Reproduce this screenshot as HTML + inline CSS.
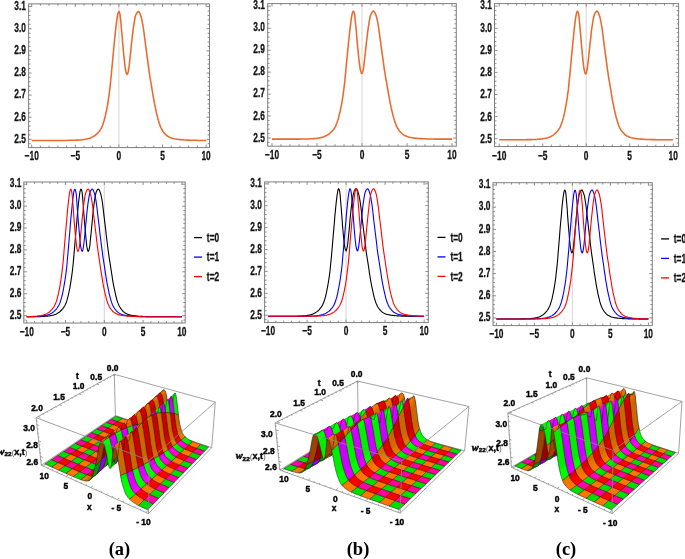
<!DOCTYPE html>
<html><head><meta charset="utf-8"><title>figure</title>
<style>
html,body{margin:0;padding:0;background:#fff;}
svg{display:block;will-change:transform;}
.tl{font-family:"Liberation Sans",sans-serif;font-weight:bold;font-size:12.6px;fill:#111;stroke:#111;stroke-width:.3px;}
.l3{font-family:"Liberation Sans",sans-serif;font-weight:bold;font-size:8.6px;fill:#000;stroke:#000;stroke-width:.42px;}
.cap{font-family:"Liberation Serif",serif;font-weight:bold;font-size:18.5px;fill:#000;}
.m{stroke:#111;stroke-opacity:.9;stroke-width:.55;fill:none;}
</style></head><body>
<svg width="685" height="559" viewBox="0 0 685 559">
<rect width="685" height="559" fill="#fff"/>
<rect x="28.6" y="3.9" width="180.9" height="143.7" fill="none" stroke="#7f7f7f" stroke-width="1"/>
<line x1="118.9" y1="3.9" x2="118.9" y2="147.6" stroke="#d0d0d0" stroke-width="0.9"/>
<path d="M31.7 147.6v-3.0M31.7 3.9v3.0M40.4 147.6v-1.9M40.4 3.9v1.9M49.1 147.6v-1.9M49.1 3.9v1.9M57.9 147.6v-1.9M57.9 3.9v1.9M66.6 147.6v-1.9M66.6 3.9v1.9M75.3 147.6v-3.0M75.3 3.9v3.0M84 147.6v-1.9M84 3.9v1.9M92.7 147.6v-1.9M92.7 3.9v1.9M101.5 147.6v-1.9M101.5 3.9v1.9M110.2 147.6v-1.9M110.2 3.9v1.9M118.9 147.6v-3.0M118.9 3.9v3.0M127.6 147.6v-1.9M127.6 3.9v1.9M136.3 147.6v-1.9M136.3 3.9v1.9M145.1 147.6v-1.9M145.1 3.9v1.9M153.8 147.6v-1.9M153.8 3.9v1.9M162.5 147.6v-3.0M162.5 3.9v3.0M171.2 147.6v-1.9M171.2 3.9v1.9M179.9 147.6v-1.9M179.9 3.9v1.9M188.7 147.6v-1.9M188.7 3.9v1.9M197.4 147.6v-1.9M197.4 3.9v1.9M206.1 147.6v-3.0M206.1 3.9v3.0M28.6 143.7h1.9M209.5 143.7h-1.9M28.6 139.3h3.0M209.5 139.3h-3.0M28.6 134.9h1.9M209.5 134.9h-1.9M28.6 130.5h1.9M209.5 130.5h-1.9M28.6 126h1.9M209.5 126h-1.9M28.6 121.6h1.9M209.5 121.6h-1.9M28.6 117.2h3.0M209.5 117.2h-3.0M28.6 112.8h1.9M209.5 112.8h-1.9M28.6 108.3h1.9M209.5 108.3h-1.9M28.6 103.9h1.9M209.5 103.9h-1.9M28.6 99.5h1.9M209.5 99.5h-1.9M28.6 95.1h3.0M209.5 95.1h-3.0M28.6 90.7h1.9M209.5 90.7h-1.9M28.6 86.2h1.9M209.5 86.2h-1.9M28.6 81.8h1.9M209.5 81.8h-1.9M28.6 77.4h1.9M209.5 77.4h-1.9M28.6 73h3.0M209.5 73h-3.0M28.6 68.5h1.9M209.5 68.5h-1.9M28.6 64.1h1.9M209.5 64.1h-1.9M28.6 59.7h1.9M209.5 59.7h-1.9M28.6 55.3h1.9M209.5 55.3h-1.9M28.6 50.9h3.0M209.5 50.9h-3.0M28.6 46.4h1.9M209.5 46.4h-1.9M28.6 42h1.9M209.5 42h-1.9M28.6 37.6h1.9M209.5 37.6h-1.9M28.6 33.2h1.9M209.5 33.2h-1.9M28.6 28.7h3.0M209.5 28.7h-3.0M28.6 24.3h1.9M209.5 24.3h-1.9M28.6 19.9h1.9M209.5 19.9h-1.9M28.6 15.5h1.9M209.5 15.5h-1.9M28.6 11.1h1.9M209.5 11.1h-1.9M28.6 6.6h3.0M209.5 6.6h-3.0" stroke="#7f7f7f" stroke-width="0.9" fill="none"/>
<path d="M31.7 140.4L32.2 140.4L32.8 140.4L33.3 140.4L33.9 140.4L34.4 140.4L35 140.4L35.5 140.4L36.1 140.4L36.6 140.4L37.2 140.4L37.7 140.4L38.2 140.4L38.8 140.4L39.3 140.4L39.9 140.4L40.4 140.4L41 140.4L41.5 140.4L42.1 140.4L42.6 140.4L43.1 140.4L43.7 140.4L44.2 140.4L44.8 140.4L45.3 140.4L45.9 140.4L46.4 140.4L47 140.4L47.5 140.4L48 140.4L48.6 140.4L49.1 140.4L49.7 140.4L50.2 140.4L50.8 140.4L51.3 140.4L51.9 140.4L52.4 140.4L53 140.4L53.5 140.4L54 140.4L54.6 140.4L55.1 140.4L55.7 140.4L56.2 140.4L56.8 140.4L57.3 140.4L57.9 140.4L58.4 140.4L59 140.4L59.5 140.4L60 140.4L60.6 140.4L61.1 140.4L61.7 140.4L62.2 140.4L62.8 140.4L63.3 140.4L63.9 140.4L64.4 140.4L64.9 140.4L65.5 140.4L66 140.4L66.6 140.4L67.1 140.4L67.7 140.4L68.2 140.3L68.8 140.3L69.3 140.3L69.8 140.3L70.4 140.3L70.9 140.3L71.5 140.3L72 140.3L72.6 140.3L73.1 140.3L73.7 140.2L74.2 140.2L74.8 140.2L75.3 140.2L75.8 140.2L76.4 140.1L76.9 140.1L77.5 140.1L78 140.1L78.6 140L79.1 140L79.7 140L80.2 139.9L80.8 139.9L81.3 139.8L81.8 139.8L82.4 139.7L82.9 139.7L83.5 139.6L84 139.5L84.6 139.4L85.1 139.3L85.7 139.2L86.2 139.1L86.7 139L87.3 138.9L87.8 138.7L88.4 138.6L88.9 138.5L89.5 138.3L90 138.1L90.6 137.9L91.1 137.6L91.7 137.4L92.2 137.1L92.7 136.8L93.3 136.5L93.8 136.2L94.4 135.9L94.9 135.5L95.5 135.1L96 134.6L96.6 134.1L97.1 133.6L97.6 133.1L98.2 132.5L98.7 131.9L99.3 131.2L99.8 130.5L100.4 129.7L100.9 128.8L101.5 127.8L102 126.6L102.6 125.2L103.1 123.7L103.6 122.1L104.2 120.3L104.7 118.2L105.3 115.9L105.8 113.5L106.4 111L106.9 108.3L107.5 105.4L108 102.2L108.5 98.7L109.1 94.8L109.6 90.5L110.2 85.7L110.7 80.5L111.3 74.9L111.8 69L112.4 63L112.9 57.1L113.5 51.4L114 45.7L114.5 40.2L115.1 34.9L115.6 29.8L116.2 24.9L116.7 20.6L117.3 16.8L117.8 13.9L118.4 12.3L118.9 11.5L119.4 12.4L120 14.3L120.5 18.4L121.1 24.5L121.6 30.5L122.2 37.1L122.7 43.6L123.3 49.6L123.8 55.4L124.4 60.6L124.9 65.3L125.4 69.5L126 72L126.5 73.7L127.1 74.4L127.6 73.7L128.2 71.7L128.7 69L129.3 64.8L129.8 59.8L130.3 54.9L130.9 49.7L131.4 44.3L132 39.3L132.5 34.6L133.1 30.1L133.6 26.1L134.2 22.7L134.7 19.5L135.2 16.8L135.8 15L136.3 13.9L136.9 12.9L137.4 12.1L138 11.7L138.5 11.5L139.1 12L139.6 12.9L140.2 14.1L140.7 15.5L141.2 17.1L141.8 19.4L142.3 22.1L142.9 25.1L143.4 28.5L144 32.5L144.5 36.8L145.1 41.1L145.6 45.2L146.2 49.3L146.7 53.4L147.2 57.4L147.8 61.5L148.3 65.6L148.9 69.7L149.4 73.6L150 77.2L150.5 80.4L151.1 83.4L151.6 86.6L152.1 89.9L152.7 93.3L153.2 96.5L153.8 99.6L154.3 102.6L154.9 105.5L155.4 108.2L156 110.7L156.5 113.2L157.1 115.5L157.6 117.6L158.1 119.6L158.7 121.5L159.2 123.3L159.8 125L160.3 126.4L160.9 127.7L161.4 128.8L162 129.7L162.5 130.6L163 131.5L163.6 132.2L164.1 132.9L164.7 133.5L165.2 134.1L165.8 134.6L166.3 135.1L166.9 135.6L167.4 136L168 136.4L168.5 136.7L169 137L169.6 137.2L170.1 137.5L170.7 137.7L171.2 137.9L171.8 138.1L172.3 138.3L172.9 138.5L173.4 138.6L173.9 138.7L174.5 138.8L175 138.9L175.6 139L176.1 139.1L176.7 139.2L177.2 139.3L177.8 139.3L178.3 139.4L178.9 139.5L179.4 139.5L179.9 139.6L180.5 139.6L181 139.7L181.6 139.7L182.1 139.8L182.7 139.8L183.2 139.8L183.8 139.9L184.3 139.9L184.8 140L185.4 140L185.9 140L186.5 140L187 140.1L187.6 140.1L188.1 140.1L188.7 140.2L189.2 140.2L189.8 140.2L190.3 140.2L190.8 140.2L191.4 140.2L191.9 140.3L192.5 140.3L193 140.3L193.6 140.3L194.1 140.3L194.7 140.3L195.2 140.3L195.7 140.3L196.3 140.3L196.8 140.3L197.4 140.4L197.9 140.4L198.5 140.4L199 140.4L199.6 140.4L200.1 140.4L200.7 140.4L201.2 140.4L201.7 140.4L202.3 140.4L202.8 140.4L203.4 140.4L203.9 140.4L204.5 140.4L205 140.4L205.6 140.4L206.1 140.4" stroke="#e96a2a" stroke-width="1.55" fill="none" stroke-linejoin="round"/>
<text x="38.9" y="9.6" text-anchor="end" class="tl" transform="scale(0.665 1)">3.1</text>
<text x="38.9" y="31.6" text-anchor="end" class="tl" transform="scale(0.665 1)">3.0</text>
<text x="38.9" y="53.9" text-anchor="end" class="tl" transform="scale(0.665 1)">2.9</text>
<text x="38.9" y="76.4" text-anchor="end" class="tl" transform="scale(0.665 1)">2.8</text>
<text x="38.9" y="98.5" text-anchor="end" class="tl" transform="scale(0.665 1)">2.7</text>
<text x="38.9" y="121.2" text-anchor="end" class="tl" transform="scale(0.665 1)">2.6</text>
<text x="38.9" y="143.4" text-anchor="end" class="tl" transform="scale(0.665 1)">2.5</text>
<text x="47.7" y="160.1" text-anchor="middle" class="tl" transform="scale(0.665 1)">−10</text>
<text x="113.2" y="160.1" text-anchor="middle" class="tl" transform="scale(0.665 1)">−5</text>
<text x="178.8" y="160.1" text-anchor="middle" class="tl" transform="scale(0.665 1)">0</text>
<text x="244.4" y="160.1" text-anchor="middle" class="tl" transform="scale(0.665 1)">5</text>
<text x="309.9" y="160.1" text-anchor="middle" class="tl" transform="scale(0.665 1)">10</text>
<rect x="267.7" y="3.6" width="188.6" height="142.6" fill="none" stroke="#7f7f7f" stroke-width="1"/>
<line x1="362" y1="3.6" x2="362" y2="146.2" stroke="#d0d0d0" stroke-width="0.9"/>
<path d="M272 146.2v-3.0M272 3.6v3.0M281 146.2v-1.9M281 3.6v1.9M290 146.2v-1.9M290 3.6v1.9M299 146.2v-1.9M299 3.6v1.9M308 146.2v-1.9M308 3.6v1.9M317 146.2v-3.0M317 3.6v3.0M326 146.2v-1.9M326 3.6v1.9M335 146.2v-1.9M335 3.6v1.9M344 146.2v-1.9M344 3.6v1.9M353 146.2v-1.9M353 3.6v1.9M362 146.2v-3.0M362 3.6v3.0M371 146.2v-1.9M371 3.6v1.9M380 146.2v-1.9M380 3.6v1.9M389 146.2v-1.9M389 3.6v1.9M398 146.2v-1.9M398 3.6v1.9M407 146.2v-3.0M407 3.6v3.0M416 146.2v-1.9M416 3.6v1.9M425 146.2v-1.9M425 3.6v1.9M434 146.2v-1.9M434 3.6v1.9M443 146.2v-1.9M443 3.6v1.9M452 146.2v-3.0M452 3.6v3.0M267.7 142.4h1.9M456.3 142.4h-1.9M267.7 138h3.0M456.3 138h-3.0M267.7 133.6h1.9M456.3 133.6h-1.9M267.7 129.2h1.9M456.3 129.2h-1.9M267.7 124.8h1.9M456.3 124.8h-1.9M267.7 120.4h1.9M456.3 120.4h-1.9M267.7 116h3.0M456.3 116h-3.0M267.7 111.6h1.9M456.3 111.6h-1.9M267.7 107.3h1.9M456.3 107.3h-1.9M267.7 102.9h1.9M456.3 102.9h-1.9M267.7 98.5h1.9M456.3 98.5h-1.9M267.7 94.1h3.0M456.3 94.1h-3.0M267.7 89.7h1.9M456.3 89.7h-1.9M267.7 85.3h1.9M456.3 85.3h-1.9M267.7 80.9h1.9M456.3 80.9h-1.9M267.7 76.5h1.9M456.3 76.5h-1.9M267.7 72.1h3.0M456.3 72.1h-3.0M267.7 67.7h1.9M456.3 67.7h-1.9M267.7 63.3h1.9M456.3 63.3h-1.9M267.7 58.9h1.9M456.3 58.9h-1.9M267.7 54.6h1.9M456.3 54.6h-1.9M267.7 50.2h3.0M456.3 50.2h-3.0M267.7 45.8h1.9M456.3 45.8h-1.9M267.7 41.4h1.9M456.3 41.4h-1.9M267.7 37h1.9M456.3 37h-1.9M267.7 32.6h1.9M456.3 32.6h-1.9M267.7 28.2h3.0M456.3 28.2h-3.0M267.7 23.8h1.9M456.3 23.8h-1.9M267.7 19.4h1.9M456.3 19.4h-1.9M267.7 15h1.9M456.3 15h-1.9M267.7 10.6h1.9M456.3 10.6h-1.9M267.7 6.2h3.0M456.3 6.2h-3.0" stroke="#7f7f7f" stroke-width="0.9" fill="none"/>
<path d="M272 139.1L272.6 139.1L273.1 139.1L273.7 139.1L274.2 139.1L274.8 139.1L275.4 139.1L275.9 139.1L276.5 139.1L277.1 139.1L277.6 139.1L278.2 139.1L278.8 139.1L279.3 139.1L279.9 139.1L280.4 139.1L281 139.1L281.6 139.1L282.1 139.1L282.7 139.1L283.2 139.1L283.8 139.1L284.4 139.1L284.9 139.1L285.5 139.1L286.1 139.1L286.6 139.1L287.2 139.1L287.8 139.1L288.3 139.1L288.9 139.1L289.4 139.1L290 139.1L290.6 139.1L291.1 139.1L291.7 139.1L292.2 139.1L292.8 139.1L293.4 139.1L293.9 139.1L294.5 139.1L295.1 139.1L295.6 139.1L296.2 139.1L296.8 139.1L297.3 139.1L297.9 139.1L298.4 139.1L299 139.1L299.6 139.1L300.1 139.1L300.7 139.1L301.2 139L301.8 139L302.4 139L302.9 139L303.5 139L304.1 139L304.6 139L305.2 139L305.8 139L306.3 139L306.9 138.9L307.4 138.9L308 138.9L308.6 138.9L309.1 138.9L309.7 138.8L310.2 138.8L310.8 138.8L311.4 138.8L311.9 138.7L312.5 138.7L313.1 138.7L313.6 138.6L314.2 138.6L314.8 138.5L315.3 138.5L315.9 138.4L316.4 138.4L317 138.3L317.6 138.2L318.1 138.1L318.7 138L319.2 137.9L319.8 137.8L320.4 137.7L320.9 137.5L321.5 137.4L322.1 137.3L322.6 137.1L323.2 136.9L323.8 136.7L324.3 136.5L324.9 136.3L325.4 136L326 135.7L326.6 135.4L327.1 135.1L327.7 134.8L328.2 134.5L328.8 134.1L329.4 133.7L329.9 133.2L330.5 132.7L331.1 132.2L331.6 131.6L332.2 131.1L332.8 130.4L333.3 129.7L333.9 129L334.4 128.1L335 127.2L335.6 126.1L336.1 124.9L336.7 123.5L337.2 122L337.8 120.3L338.4 118.4L338.9 116.3L339.5 113.9L340.1 111.5L340.6 108.9L341.2 106.2L341.8 103.3L342.3 100L342.9 96.3L343.4 92.3L344 87.9L344.6 83L345.1 77.7L345.7 72L346.2 66L346.8 60.1L347.4 54.3L347.9 48.6L348.5 43L349.1 37.6L349.6 32.5L350.2 27.4L350.8 22.7L351.3 18.7L351.9 15.2L352.4 12.9L353 11.5L353.6 11.2L354.1 12.5L354.7 14.9L355.2 20L355.8 26L356.4 32.3L356.9 38.9L357.5 45.1L358.1 51L358.6 56.6L359.2 61.6L359.8 66.1L360.3 69.8L360.9 71.9L361.4 73.3L362 73.5L362.6 72.2L363.1 70L363.7 66.9L364.2 62.3L364.8 57.3L365.4 52.4L365.9 47L366.5 41.8L367.1 37L367.6 32.4L368.2 28.1L368.8 24.3L369.3 21L369.9 18L370.4 15.6L371 14.2L371.6 13.1L372.1 12.2L372.7 11.5L373.2 11.1L373.8 11.2L374.4 11.8L374.9 12.8L375.5 14.1L376.1 15.5L376.6 17.4L377.2 19.8L377.8 22.6L378.3 25.7L378.9 29.3L379.4 33.5L380 37.8L380.6 41.9L381.1 46L381.7 50.1L382.2 54.1L382.8 58.1L383.4 62.2L383.9 66.3L384.5 70.3L385.1 74L385.6 77.5L386.2 80.6L386.8 83.6L387.3 86.9L387.9 90.2L388.4 93.5L389 96.6L389.6 99.7L390.1 102.6L390.7 105.4L391.2 108L391.8 110.5L392.4 112.9L392.9 115.1L393.5 117.2L394.1 119.1L394.6 121L395.2 122.7L395.8 124.3L396.3 125.7L396.9 126.9L397.4 127.9L398 128.8L398.6 129.7L399.1 130.5L399.7 131.2L400.2 131.8L400.8 132.4L401.4 133L401.9 133.5L402.5 134L403.1 134.5L403.6 134.9L404.2 135.2L404.8 135.5L405.3 135.8L405.9 136L406.4 136.3L407 136.5L407.6 136.7L408.1 136.9L408.7 137.1L409.2 137.2L409.8 137.3L410.4 137.5L410.9 137.6L411.5 137.7L412.1 137.8L412.6 137.8L413.2 137.9L413.8 138L414.3 138.1L414.9 138.1L415.4 138.2L416 138.2L416.6 138.3L417.1 138.3L417.7 138.4L418.2 138.4L418.8 138.5L419.4 138.5L419.9 138.6L420.5 138.6L421.1 138.6L421.6 138.7L422.2 138.7L422.8 138.7L423.3 138.8L423.9 138.8L424.4 138.8L425 138.8L425.6 138.9L426.1 138.9L426.7 138.9L427.2 138.9L427.8 138.9L428.4 138.9L428.9 139L429.5 139L430.1 139L430.6 139L431.2 139L431.8 139L432.3 139L432.9 139L433.4 139L434 139.1L434.6 139.1L435.1 139.1L435.7 139.1L436.2 139.1L436.8 139.1L437.4 139.1L437.9 139.1L438.5 139.1L439.1 139.1L439.6 139.1L440.2 139.1L440.8 139.1L441.3 139.1L441.9 139.1L442.4 139.1L443 139.1L443.6 139.1L444.1 139.1L444.7 139.1L445.2 139.1L445.8 139.1L446.4 139.1L446.9 139.1L447.5 139.1L448.1 139.1L448.6 139.1L449.2 139.1L449.8 139.1L450.3 139.1L450.9 139.1L451.4 139.1L452 139.1" stroke="#e96a2a" stroke-width="1.55" fill="none" stroke-linejoin="round"/>
<text x="398.3" y="8.9" text-anchor="end" class="tl" transform="scale(0.665 1)">3.1</text>
<text x="398.3" y="31.3" text-anchor="end" class="tl" transform="scale(0.665 1)">3.0</text>
<text x="398.3" y="53.1" text-anchor="end" class="tl" transform="scale(0.665 1)">2.9</text>
<text x="398.3" y="75.5" text-anchor="end" class="tl" transform="scale(0.665 1)">2.8</text>
<text x="398.3" y="97.3" text-anchor="end" class="tl" transform="scale(0.665 1)">2.7</text>
<text x="398.3" y="119.9" text-anchor="end" class="tl" transform="scale(0.665 1)">2.6</text>
<text x="398.3" y="142.2" text-anchor="end" class="tl" transform="scale(0.665 1)">2.5</text>
<text x="409.0" y="158.9" text-anchor="middle" class="tl" transform="scale(0.665 1)">−10</text>
<text x="476.7" y="158.9" text-anchor="middle" class="tl" transform="scale(0.665 1)">−5</text>
<text x="544.4" y="158.9" text-anchor="middle" class="tl" transform="scale(0.665 1)">0</text>
<text x="612.0" y="158.9" text-anchor="middle" class="tl" transform="scale(0.665 1)">5</text>
<text x="679.7" y="158.9" text-anchor="middle" class="tl" transform="scale(0.665 1)">10</text>
<rect x="494.5" y="3.6" width="184.1" height="142.9" fill="none" stroke="#7f7f7f" stroke-width="1"/>
<line x1="586.2" y1="3.6" x2="586.2" y2="146.5" stroke="#d0d0d0" stroke-width="0.9"/>
<path d="M499.2 146.5v-3.0M499.2 3.6v3.0M507.9 146.5v-1.9M507.9 3.6v1.9M516.6 146.5v-1.9M516.6 3.6v1.9M525.3 146.5v-1.9M525.3 3.6v1.9M534 146.5v-1.9M534 3.6v1.9M542.7 146.5v-3.0M542.7 3.6v3.0M551.4 146.5v-1.9M551.4 3.6v1.9M560.1 146.5v-1.9M560.1 3.6v1.9M568.8 146.5v-1.9M568.8 3.6v1.9M577.5 146.5v-1.9M577.5 3.6v1.9M586.2 146.5v-3.0M586.2 3.6v3.0M594.9 146.5v-1.9M594.9 3.6v1.9M603.6 146.5v-1.9M603.6 3.6v1.9M612.3 146.5v-1.9M612.3 3.6v1.9M621 146.5v-1.9M621 3.6v1.9M629.7 146.5v-3.0M629.7 3.6v3.0M638.4 146.5v-1.9M638.4 3.6v1.9M647.1 146.5v-1.9M647.1 3.6v1.9M655.8 146.5v-1.9M655.8 3.6v1.9M664.5 146.5v-1.9M664.5 3.6v1.9M673.2 146.5v-3.0M673.2 3.6v3.0M494.5 143h1.9M678.6 143h-1.9M494.5 138.6h3.0M678.6 138.6h-3.0M494.5 134.2h1.9M678.6 134.2h-1.9M494.5 129.8h1.9M678.6 129.8h-1.9M494.5 125.4h1.9M678.6 125.4h-1.9M494.5 120.9h1.9M678.6 120.9h-1.9M494.5 116.5h3.0M678.6 116.5h-3.0M494.5 112.1h1.9M678.6 112.1h-1.9M494.5 107.7h1.9M678.6 107.7h-1.9M494.5 103.3h1.9M678.6 103.3h-1.9M494.5 98.9h1.9M678.6 98.9h-1.9M494.5 94.5h3.0M678.6 94.5h-3.0M494.5 90.1h1.9M678.6 90.1h-1.9M494.5 85.7h1.9M678.6 85.7h-1.9M494.5 81.2h1.9M678.6 81.2h-1.9M494.5 76.8h1.9M678.6 76.8h-1.9M494.5 72.4h3.0M678.6 72.4h-3.0M494.5 68h1.9M678.6 68h-1.9M494.5 63.6h1.9M678.6 63.6h-1.9M494.5 59.2h1.9M678.6 59.2h-1.9M494.5 54.8h1.9M678.6 54.8h-1.9M494.5 50.4h3.0M678.6 50.4h-3.0M494.5 45.9h1.9M678.6 45.9h-1.9M494.5 41.5h1.9M678.6 41.5h-1.9M494.5 37.1h1.9M678.6 37.1h-1.9M494.5 32.7h1.9M678.6 32.7h-1.9M494.5 28.3h3.0M678.6 28.3h-3.0M494.5 23.9h1.9M678.6 23.9h-1.9M494.5 19.5h1.9M678.6 19.5h-1.9M494.5 15.1h1.9M678.6 15.1h-1.9M494.5 10.6h1.9M678.6 10.6h-1.9M494.5 6.2h3.0M678.6 6.2h-3.0" stroke="#7f7f7f" stroke-width="0.9" fill="none"/>
<path d="M499.2 139.7L499.7 139.7L500.3 139.7L500.8 139.7L501.4 139.7L501.9 139.7L502.5 139.7L503 139.7L503.6 139.7L504.1 139.7L504.6 139.7L505.2 139.7L505.7 139.7L506.3 139.7L506.8 139.7L507.4 139.7L507.9 139.7L508.4 139.7L509 139.7L509.5 139.7L510.1 139.7L510.6 139.7L511.2 139.7L511.7 139.7L512.2 139.7L512.8 139.7L513.3 139.7L513.9 139.7L514.4 139.7L515 139.7L515.5 139.7L516.1 139.7L516.6 139.7L517.1 139.7L517.7 139.7L518.2 139.7L518.8 139.7L519.3 139.7L519.9 139.7L520.4 139.7L521 139.7L521.5 139.7L522 139.7L522.6 139.7L523.1 139.7L523.7 139.7L524.2 139.7L524.8 139.7L525.3 139.7L525.8 139.7L526.4 139.7L526.9 139.6L527.5 139.6L528 139.6L528.6 139.6L529.1 139.6L529.7 139.6L530.2 139.6L530.7 139.6L531.3 139.6L531.8 139.6L532.4 139.5L532.9 139.5L533.5 139.5L534 139.5L534.5 139.5L535.1 139.4L535.6 139.4L536.2 139.4L536.7 139.4L537.3 139.3L537.8 139.3L538.4 139.3L538.9 139.2L539.4 139.2L540 139.1L540.5 139.1L541.1 139L541.6 139L542.2 138.9L542.7 138.8L543.2 138.7L543.8 138.6L544.3 138.5L544.9 138.4L545.4 138.3L546 138.2L546.5 138.1L547.1 137.9L547.6 137.8L548.1 137.6L548.7 137.4L549.2 137.2L549.8 136.9L550.3 136.7L550.9 136.4L551.4 136.1L551.9 135.8L552.5 135.5L553 135.2L553.6 134.8L554.1 134.4L554.7 133.9L555.2 133.5L555.8 132.9L556.3 132.4L556.8 131.8L557.4 131.2L557.9 130.5L558.5 129.8L559 129L559.6 128.1L560.1 127.1L560.6 125.9L561.2 124.6L561.7 123.1L562.3 121.4L562.8 119.6L563.4 117.6L563.9 115.3L564.5 112.9L565 110.3L565.5 107.7L566.1 104.8L566.6 101.6L567.2 98.1L567.7 94.2L568.3 89.9L568.8 85.2L569.3 79.9L569.9 74.4L570.4 68.5L571 62.5L571.5 56.6L572.1 50.9L572.6 45.2L573.2 39.7L573.7 34.5L574.2 29.3L574.8 24.4L575.3 20.1L575.9 16.4L576.4 13.5L577 11.9L577.5 11.1L578 12L578.6 13.9L579.1 18L579.7 24L580.2 30.1L580.8 36.6L581.3 43.1L581.9 49.1L582.4 54.9L582.9 60.1L583.5 64.8L584 69L584.6 71.5L585.1 73.2L585.7 73.9L586.2 73.1L586.7 71.1L587.3 68.5L587.8 64.3L588.4 59.3L588.9 54.4L589.5 49.2L590 43.8L590.6 38.8L591.1 34.2L591.6 29.7L592.2 25.7L592.7 22.3L593.3 19.1L593.8 16.4L594.4 14.6L594.9 13.5L595.4 12.5L596 11.7L596.5 11.2L597.1 11.1L597.6 11.6L598.2 12.5L598.7 13.7L599.2 15L599.8 16.7L600.3 18.9L600.9 21.7L601.4 24.6L602 28L602.5 32L603.1 36.4L603.6 40.6L604.1 44.7L604.7 48.8L605.2 52.9L605.8 56.9L606.3 61L606.9 65.1L607.4 69.2L608 73L608.5 76.6L609 79.8L609.6 82.9L610.1 86L610.7 89.4L611.2 92.7L611.8 95.9L612.3 99L612.8 102L613.4 104.9L613.9 107.6L614.5 110.1L615 112.5L615.6 114.8L616.1 117L616.7 119L617.2 120.8L617.7 122.6L618.3 124.3L618.8 125.8L619.4 127L619.9 128.1L620.5 129.1L621 130L621.5 130.8L622.1 131.5L622.6 132.2L623.2 132.8L623.7 133.4L624.3 133.9L624.8 134.4L625.4 134.9L625.9 135.3L626.4 135.7L627 136L627.5 136.3L628.1 136.5L628.6 136.8L629.2 137L629.7 137.2L630.2 137.4L630.8 137.6L631.3 137.8L631.9 137.9L632.4 138L633 138.1L633.5 138.2L634.1 138.3L634.6 138.4L635.1 138.5L635.7 138.6L636.2 138.6L636.8 138.7L637.3 138.8L637.9 138.8L638.4 138.9L638.9 138.9L639.5 139L640 139L640.6 139.1L641.1 139.1L641.7 139.1L642.2 139.2L642.8 139.2L643.3 139.3L643.8 139.3L644.4 139.3L644.9 139.4L645.5 139.4L646 139.4L646.6 139.4L647.1 139.5L647.6 139.5L648.2 139.5L648.7 139.5L649.3 139.5L649.8 139.5L650.4 139.6L650.9 139.6L651.5 139.6L652 139.6L652.5 139.6L653.1 139.6L653.6 139.6L654.2 139.6L654.7 139.6L655.3 139.6L655.8 139.7L656.3 139.7L656.9 139.7L657.4 139.7L658 139.7L658.5 139.7L659.1 139.7L659.6 139.7L660.2 139.7L660.7 139.7L661.2 139.7L661.8 139.7L662.3 139.7L662.9 139.7L663.4 139.7L664 139.7L664.5 139.7L665 139.7L665.6 139.7L666.1 139.7L666.7 139.7L667.2 139.7L667.8 139.7L668.3 139.7L668.9 139.7L669.4 139.7L669.9 139.7L670.5 139.7L671 139.7L671.6 139.7L672.1 139.7L672.7 139.7L673.2 139.7" stroke="#e96a2a" stroke-width="1.55" fill="none" stroke-linejoin="round"/>
<text x="739.7" y="9.3" text-anchor="end" class="tl" transform="scale(0.665 1)">3.1</text>
<text x="739.7" y="31.6" text-anchor="end" class="tl" transform="scale(0.665 1)">3.0</text>
<text x="739.7" y="53.9" text-anchor="end" class="tl" transform="scale(0.665 1)">2.9</text>
<text x="739.7" y="76.4" text-anchor="end" class="tl" transform="scale(0.665 1)">2.8</text>
<text x="739.7" y="98.2" text-anchor="end" class="tl" transform="scale(0.665 1)">2.7</text>
<text x="739.7" y="120.9" text-anchor="end" class="tl" transform="scale(0.665 1)">2.6</text>
<text x="739.7" y="143.2" text-anchor="end" class="tl" transform="scale(0.665 1)">2.5</text>
<text x="750.7" y="159.6" text-anchor="middle" class="tl" transform="scale(0.665 1)">−10</text>
<text x="816.1" y="159.6" text-anchor="middle" class="tl" transform="scale(0.665 1)">−5</text>
<text x="881.5" y="159.6" text-anchor="middle" class="tl" transform="scale(0.665 1)">0</text>
<text x="946.9" y="159.6" text-anchor="middle" class="tl" transform="scale(0.665 1)">5</text>
<text x="1012.3" y="159.6" text-anchor="middle" class="tl" transform="scale(0.665 1)">10</text>
<rect x="23.8" y="182" width="161.4" height="141.0" fill="none" stroke="#7f7f7f" stroke-width="1"/>
<line x1="104.3" y1="182" x2="104.3" y2="323" stroke="#d0d0d0" stroke-width="0.9"/>
<path d="M26.7 323v-3.0M26.7 182v3.0M34.5 323v-1.9M34.5 182v1.9M42.2 323v-1.9M42.2 182v1.9M50 323v-1.9M50 182v1.9M57.7 323v-1.9M57.7 182v1.9M65.5 323v-3.0M65.5 182v3.0M73.3 323v-1.9M73.3 182v1.9M81 323v-1.9M81 182v1.9M88.8 323v-1.9M88.8 182v1.9M96.5 323v-1.9M96.5 182v1.9M104.3 323v-3.0M104.3 182v3.0M112.1 323v-1.9M112.1 182v1.9M119.8 323v-1.9M119.8 182v1.9M127.6 323v-1.9M127.6 182v1.9M135.3 323v-1.9M135.3 182v1.9M143.1 323v-3.0M143.1 182v3.0M150.9 323v-1.9M150.9 182v1.9M158.6 323v-1.9M158.6 182v1.9M166.4 323v-1.9M166.4 182v1.9M174.1 323v-1.9M174.1 182v1.9M181.9 323v-3.0M181.9 182v3.0M23.8 320h1.9M185.2 320h-1.9M23.8 315.6h3.0M185.2 315.6h-3.0M23.8 311.2h1.9M185.2 311.2h-1.9M23.8 306.8h1.9M185.2 306.8h-1.9M23.8 302.5h1.9M185.2 302.5h-1.9M23.8 298.1h1.9M185.2 298.1h-1.9M23.8 293.7h3.0M185.2 293.7h-3.0M23.8 289.3h1.9M185.2 289.3h-1.9M23.8 284.9h1.9M185.2 284.9h-1.9M23.8 280.6h1.9M185.2 280.6h-1.9M23.8 276.2h1.9M185.2 276.2h-1.9M23.8 271.8h3.0M185.2 271.8h-3.0M23.8 267.4h1.9M185.2 267.4h-1.9M23.8 263h1.9M185.2 263h-1.9M23.8 258.7h1.9M185.2 258.7h-1.9M23.8 254.3h1.9M185.2 254.3h-1.9M23.8 249.9h3.0M185.2 249.9h-3.0M23.8 245.5h1.9M185.2 245.5h-1.9M23.8 241.1h1.9M185.2 241.1h-1.9M23.8 236.8h1.9M185.2 236.8h-1.9M23.8 232.4h1.9M185.2 232.4h-1.9M23.8 228h3.0M185.2 228h-3.0M23.8 223.6h1.9M185.2 223.6h-1.9M23.8 219.2h1.9M185.2 219.2h-1.9M23.8 214.9h1.9M185.2 214.9h-1.9M23.8 210.5h1.9M185.2 210.5h-1.9M23.8 206.1h3.0M185.2 206.1h-3.0M23.8 201.7h1.9M185.2 201.7h-1.9M23.8 197.3h1.9M185.2 197.3h-1.9M23.8 193h1.9M185.2 193h-1.9M23.8 188.6h1.9M185.2 188.6h-1.9M23.8 184.2h3.0M185.2 184.2h-3.0" stroke="#7f7f7f" stroke-width="0.9" fill="none"/>
<path d="M26.7 316.7L27.2 316.7L27.7 316.7L28.2 316.7L28.6 316.7L29.1 316.7L29.6 316.7L30.1 316.7L30.6 316.7L31.1 316.7L31.5 316.7L32 316.7L32.5 316.7L33 316.7L33.5 316.7L34 316.7L34.5 316.7L34.9 316.7L35.4 316.7L35.9 316.6L36.4 316.6L36.9 316.6L37.4 316.6L37.9 316.6L38.3 316.6L38.8 316.6L39.3 316.6L39.8 316.6L40.3 316.6L40.8 316.5L41.2 316.5L41.7 316.5L42.2 316.5L42.7 316.5L43.2 316.5L43.7 316.4L44.2 316.4L44.6 316.4L45.1 316.3L45.6 316.3L46.1 316.3L46.6 316.2L47.1 316.2L47.6 316.1L48 316.1L48.5 316L49 316L49.5 315.9L50 315.8L50.5 315.7L50.9 315.6L51.4 315.5L51.9 315.4L52.4 315.3L52.9 315.2L53.4 315.1L53.9 314.9L54.3 314.8L54.8 314.6L55.3 314.4L55.8 314.2L56.3 314L56.8 313.7L57.3 313.4L57.7 313.1L58.2 312.8L58.7 312.5L59.2 312.2L59.7 311.8L60.2 311.4L60.6 311L61.1 310.5L61.6 310L62.1 309.5L62.6 308.9L63.1 308.3L63.6 307.6L64 306.9L64.5 306.1L65 305.2L65.5 304.2L66 303L66.5 301.7L67 300.2L67.4 298.6L67.9 296.8L68.4 294.7L68.9 292.5L69.4 290L69.9 287.6L70.3 284.9L70.8 282.1L71.3 278.9L71.8 275.4L72.3 271.5L72.8 267.3L73.3 262.5L73.7 257.4L74.2 251.9L74.7 246L75.2 240L75.7 234.2L76.2 228.5L76.7 222.9L77.1 217.4L77.6 212.2L78.1 207.1L78.6 202.3L79.1 198L79.6 194.3L80 191.4L80.5 189.8L81 189.1L81.5 189.9L82 191.8L82.5 195.9L83 201.9L83.4 207.9L83.9 214.4L84.4 220.8L84.9 226.8L85.4 232.5L85.9 237.7L86.4 242.3L86.8 246.5L87.3 249L87.8 250.6L88.3 251.4L88.8 250.6L89.3 248.6L89.8 246L90.2 241.8L90.7 236.9L91.2 232L91.7 226.8L92.2 221.5L92.7 216.6L93.1 211.9L93.6 207.5L94.1 203.5L94.6 200.1L95.1 197L95.6 194.3L96.1 192.5L96.5 191.4L97 190.4L97.5 189.6L98 189.2L98.5 189.1L99 189.5L99.5 190.4L99.9 191.6L100.4 192.9L100.9 194.6L101.4 196.8L101.9 199.5L102.4 202.5L102.8 205.8L103.3 209.8L103.8 214.1L104.3 218.3L104.8 222.4L105.3 226.5L105.8 230.5L106.2 234.5L106.7 238.6L107.2 242.7L107.7 246.7L108.2 250.5L108.7 254.1L109.1 257.3L109.6 260.3L110.1 263.4L110.6 266.7L111.1 270L111.6 273.2L112.1 276.3L112.5 279.3L113 282.1L113.5 284.8L114 287.3L114.5 289.7L115 292L115.5 294.2L115.9 296.1L116.4 298L116.9 299.8L117.4 301.4L117.9 302.9L118.4 304.1L118.8 305.2L119.3 306.1L119.8 307L120.3 307.8L120.8 308.6L121.3 309.2L121.8 309.8L122.2 310.4L122.7 311L123.2 311.5L123.7 311.9L124.2 312.4L124.7 312.7L125.2 313L125.6 313.3L126.1 313.6L126.6 313.8L127.1 314L127.6 314.3L128.1 314.4L128.6 314.6L129 314.8L129.5 314.9L130 315L130.5 315.1L131 315.2L131.5 315.3L131.9 315.4L132.4 315.5L132.9 315.6L133.4 315.6L133.9 315.7L134.4 315.8L134.9 315.8L135.3 315.9L135.8 315.9L136.3 316L136.8 316L137.3 316.1L137.8 316.1L138.2 316.1L138.7 316.2L139.2 316.2L139.7 316.3L140.2 316.3L140.7 316.3L141.2 316.4L141.6 316.4L142.1 316.4L142.6 316.4L143.1 316.5L143.6 316.5L144.1 316.5L144.6 316.5L145 316.5L145.5 316.5L146 316.6L146.5 316.6L147 316.6L147.5 316.6L147.9 316.6L148.4 316.6L148.9 316.6L149.4 316.6L149.9 316.6L150.4 316.6L150.9 316.7L151.3 316.7L151.8 316.7L152.3 316.7L152.8 316.7L153.3 316.7L153.8 316.7L154.3 316.7L154.7 316.7L155.2 316.7L155.7 316.7L156.2 316.7L156.7 316.7L157.2 316.7L157.7 316.7L158.1 316.7L158.6 316.7L159.1 316.7L159.6 316.7L160.1 316.7L160.6 316.7L161 316.7L161.5 316.7L162 316.7L162.5 316.7L163 316.7L163.5 316.7L164 316.7L164.4 316.7L164.9 316.7L165.4 316.7L165.9 316.7L166.4 316.7L166.9 316.7L167.3 316.7L167.8 316.7L168.3 316.7L168.8 316.7L169.3 316.7L169.8 316.7L170.3 316.7L170.7 316.7L171.2 316.7L171.7 316.7L172.2 316.7L172.7 316.7L173.2 316.7L173.7 316.7L174.1 316.7L174.6 316.7L175.1 316.7L175.6 316.7L176.1 316.7L176.6 316.7L177.1 316.7L177.5 316.7L178 316.7L178.5 316.7L179 316.7L179.5 316.7L180 316.7L180.4 316.7L180.9 316.7L181.4 316.7L181.9 316.7" stroke="#000" stroke-width="1.1" fill="none" stroke-linejoin="round"/>
<path d="M26.7 316.7L27.2 316.7L27.7 316.7L28.2 316.7L28.6 316.7L29.1 316.7L29.6 316.7L30.1 316.6L30.6 316.6L31.1 316.6L31.5 316.6L32 316.6L32.5 316.6L33 316.6L33.5 316.6L34 316.6L34.5 316.5L34.9 316.5L35.4 316.5L35.9 316.5L36.4 316.5L36.9 316.5L37.4 316.4L37.9 316.4L38.3 316.4L38.8 316.4L39.3 316.3L39.8 316.3L40.3 316.2L40.8 316.2L41.2 316.2L41.7 316.1L42.2 316.1L42.7 316L43.2 315.9L43.7 315.9L44.2 315.8L44.6 315.7L45.1 315.6L45.6 315.5L46.1 315.4L46.6 315.2L47.1 315.1L47.6 315L48 314.8L48.5 314.7L49 314.5L49.5 314.3L50 314L50.5 313.8L50.9 313.5L51.4 313.3L51.9 313L52.4 312.7L52.9 312.3L53.4 312L53.9 311.6L54.3 311.1L54.8 310.7L55.3 310.2L55.8 309.7L56.3 309.1L56.8 308.5L57.3 307.8L57.7 307.1L58.2 306.4L58.7 305.5L59.2 304.5L59.7 303.4L60.2 302.2L60.6 300.7L61.1 299.1L61.6 297.4L62.1 295.5L62.6 293.3L63.1 290.9L63.6 288.5L64 285.9L64.5 283.1L65 280.1L65.5 276.7L66 272.9L66.5 268.8L67 264.3L67.4 259.3L67.9 253.9L68.4 248.1L68.9 242.2L69.4 236.2L69.9 230.5L70.3 224.9L70.8 219.4L71.3 214.1L71.8 209L72.3 204L72.8 199.4L73.3 195.6L73.7 192.3L74.2 190.3L74.7 189.2L75.2 189.4L75.7 191L76.2 194L76.7 199.7L77.1 205.6L77.6 212L78.1 218.6L78.6 224.6L79.1 230.4L79.6 235.9L80 240.7L80.5 245.1L81 248.3L81.5 250.1L82 251.3L82.5 251L83 249.4L83.4 247.1L83.9 243.5L84.4 238.7L84.9 233.8L85.4 228.7L85.9 223.4L86.4 218.3L86.8 213.6L87.3 209L87.8 204.9L88.3 201.3L88.8 198.1L89.3 195.2L89.8 193L90.2 191.8L90.7 190.7L91.2 189.9L91.7 189.3L92.2 189.1L92.7 189.3L93.1 190L93.6 191.1L94.1 192.4L94.6 193.9L95.1 195.9L95.6 198.5L96.1 201.4L96.5 204.5L97 208.3L97.5 212.6L98 216.9L98.5 220.9L99 225L99.5 229.1L99.9 233.1L100.4 237.1L100.9 241.2L101.4 245.2L101.9 249.1L102.4 252.8L102.8 256.1L103.3 259.2L103.8 262.3L104.3 265.5L104.8 268.8L105.3 272.1L105.8 275.2L106.2 278.2L106.7 281.1L107.2 283.9L107.7 286.4L108.2 288.9L108.7 291.2L109.1 293.4L109.6 295.4L110.1 297.3L110.6 299.1L111.1 300.8L111.6 302.4L112.1 303.7L112.5 304.8L113 305.8L113.5 306.7L114 307.6L114.5 308.3L115 309L115.5 309.6L115.9 310.2L116.4 310.8L116.9 311.3L117.4 311.8L117.9 312.2L118.4 312.6L118.8 312.9L119.3 313.2L119.8 313.5L120.3 313.7L120.8 314L121.3 314.2L121.8 314.4L122.2 314.6L122.7 314.7L123.2 314.9L123.7 315L124.2 315.1L124.7 315.2L125.2 315.3L125.6 315.4L126.1 315.5L126.6 315.5L127.1 315.6L127.6 315.7L128.1 315.7L128.6 315.8L129 315.9L129.5 315.9L130 316L130.5 316L131 316L131.5 316.1L131.9 316.1L132.4 316.2L132.9 316.2L133.4 316.2L133.9 316.3L134.4 316.3L134.9 316.3L135.3 316.4L135.8 316.4L136.3 316.4L136.8 316.4L137.3 316.5L137.8 316.5L138.2 316.5L138.7 316.5L139.2 316.5L139.7 316.6L140.2 316.6L140.7 316.6L141.2 316.6L141.6 316.6L142.1 316.6L142.6 316.6L143.1 316.6L143.6 316.6L144.1 316.6L144.6 316.7L145 316.7L145.5 316.7L146 316.7L146.5 316.7L147 316.7L147.5 316.7L147.9 316.7L148.4 316.7L148.9 316.7L149.4 316.7L149.9 316.7L150.4 316.7L150.9 316.7L151.3 316.7L151.8 316.7L152.3 316.7L152.8 316.7L153.3 316.7L153.8 316.7L154.3 316.7L154.7 316.7L155.2 316.7L155.7 316.7L156.2 316.7L156.7 316.7L157.2 316.7L157.7 316.7L158.1 316.7L158.6 316.7L159.1 316.7L159.6 316.7L160.1 316.7L160.6 316.7L161 316.7L161.5 316.7L162 316.7L162.5 316.7L163 316.7L163.5 316.7L164 316.7L164.4 316.7L164.9 316.7L165.4 316.7L165.9 316.7L166.4 316.7L166.9 316.7L167.3 316.7L167.8 316.7L168.3 316.7L168.8 316.7L169.3 316.7L169.8 316.7L170.3 316.7L170.7 316.7L171.2 316.7L171.7 316.7L172.2 316.7L172.7 316.7L173.2 316.7L173.7 316.7L174.1 316.7L174.6 316.7L175.1 316.7L175.6 316.7L176.1 316.7L176.6 316.7L177.1 316.7L177.5 316.7L178 316.7L178.5 316.7L179 316.7L179.5 316.7L180 316.7L180.4 316.7L180.9 316.7L181.4 316.7L181.9 316.7" stroke="#00f" stroke-width="1.1" fill="none" stroke-linejoin="round"/>
<path d="M26.7 316.6L27.2 316.6L27.7 316.6L28.2 316.6L28.6 316.6L29.1 316.6L29.6 316.6L30.1 316.6L30.6 316.5L31.1 316.5L31.5 316.5L32 316.5L32.5 316.5L33 316.4L33.5 316.4L34 316.4L34.5 316.4L34.9 316.3L35.4 316.3L35.9 316.3L36.4 316.2L36.9 316.2L37.4 316.1L37.9 316.1L38.3 316L38.8 316L39.3 315.9L39.8 315.8L40.3 315.7L40.8 315.6L41.2 315.5L41.7 315.4L42.2 315.3L42.7 315.2L43.2 315L43.7 314.9L44.2 314.8L44.6 314.6L45.1 314.4L45.6 314.2L46.1 313.9L46.6 313.7L47.1 313.4L47.6 313.1L48 312.8L48.5 312.5L49 312.2L49.5 311.8L50 311.4L50.5 310.9L50.9 310.4L51.4 309.9L51.9 309.4L52.4 308.8L52.9 308.2L53.4 307.5L53.9 306.8L54.3 306L54.8 305.1L55.3 304L55.8 302.9L56.3 301.5L56.8 300L57.3 298.4L57.7 296.5L58.2 294.5L58.7 292.2L59.2 289.8L59.7 287.3L60.2 284.6L60.6 281.7L61.1 278.5L61.6 274.9L62.1 271L62.6 266.8L63.1 261.9L63.6 256.7L64 251.2L64.5 245.3L65 239.3L65.5 233.5L66 227.8L66.5 222.2L67 216.8L67.4 211.6L67.9 206.5L68.4 201.7L68.9 197.5L69.4 193.9L69.9 191.2L70.3 189.7L70.8 189.1L71.3 190.1L71.8 192.1L72.3 196.5L72.8 202.6L73.3 208.6L73.7 215.2L74.2 221.6L74.7 227.5L75.2 233.1L75.7 238.3L76.2 242.9L76.7 246.9L77.1 249.2L77.6 250.8L78.1 251.4L78.6 250.4L79.1 248.4L79.6 245.6L80 241.3L80.5 236.3L81 231.4L81.5 226.2L82 220.9L82.5 216L83 211.4L83.4 207L83.9 203.1L84.4 199.7L84.9 196.6L85.4 194L85.9 192.4L86.4 191.3L86.8 190.3L87.3 189.6L87.8 189.1L88.3 189.1L88.8 189.6L89.3 190.5L89.8 191.7L90.2 193.1L90.7 194.8L91.2 197.1L91.7 199.9L92.2 202.8L92.7 206.3L93.1 210.3L93.6 214.6L94.1 218.8L94.6 222.9L95.1 226.9L95.6 231L96.1 235L96.5 239.1L97 243.1L97.5 247.1L98 250.9L98.5 254.5L99 257.6L99.5 260.7L99.9 263.8L100.4 267.1L100.9 270.4L101.4 273.6L101.9 276.7L102.4 279.6L102.8 282.5L103.3 285.1L103.8 287.6L104.3 290L104.8 292.3L105.3 294.4L105.8 296.3L106.2 298.2L106.7 300L107.2 301.6L107.7 303L108.2 304.2L108.7 305.3L109.1 306.3L109.6 307.1L110.1 307.9L110.6 308.6L111.1 309.3L111.6 309.9L112.1 310.5L112.5 311L113 311.5L113.5 312L114 312.4L114.5 312.7L115 313L115.5 313.3L115.9 313.6L116.4 313.8L116.9 314.1L117.4 314.3L117.9 314.5L118.4 314.6L118.8 314.8L119.3 314.9L119.8 315L120.3 315.1L120.8 315.2L121.3 315.3L121.8 315.4L122.2 315.5L122.7 315.6L123.2 315.6L123.7 315.7L124.2 315.8L124.7 315.8L125.2 315.9L125.6 315.9L126.1 316L126.6 316L127.1 316.1L127.6 316.1L128.1 316.2L128.6 316.2L129 316.2L129.5 316.3L130 316.3L130.5 316.3L131 316.4L131.5 316.4L131.9 316.4L132.4 316.4L132.9 316.5L133.4 316.5L133.9 316.5L134.4 316.5L134.9 316.5L135.3 316.5L135.8 316.6L136.3 316.6L136.8 316.6L137.3 316.6L137.8 316.6L138.2 316.6L138.7 316.6L139.2 316.6L139.7 316.6L140.2 316.6L140.7 316.7L141.2 316.7L141.6 316.7L142.1 316.7L142.6 316.7L143.1 316.7L143.6 316.7L144.1 316.7L144.6 316.7L145 316.7L145.5 316.7L146 316.7L146.5 316.7L147 316.7L147.5 316.7L147.9 316.7L148.4 316.7L148.9 316.7L149.4 316.7L149.9 316.7L150.4 316.7L150.9 316.7L151.3 316.7L151.8 316.7L152.3 316.7L152.8 316.7L153.3 316.7L153.8 316.7L154.3 316.7L154.7 316.7L155.2 316.7L155.7 316.7L156.2 316.7L156.7 316.7L157.2 316.7L157.7 316.7L158.1 316.7L158.6 316.7L159.1 316.7L159.6 316.7L160.1 316.7L160.6 316.7L161 316.7L161.5 316.7L162 316.7L162.5 316.7L163 316.7L163.5 316.7L164 316.7L164.4 316.7L164.9 316.7L165.4 316.7L165.9 316.7L166.4 316.7L166.9 316.7L167.3 316.7L167.8 316.7L168.3 316.7L168.8 316.7L169.3 316.7L169.8 316.7L170.3 316.7L170.7 316.7L171.2 316.7L171.7 316.7L172.2 316.7L172.7 316.7L173.2 316.7L173.7 316.7L174.1 316.7L174.6 316.7L175.1 316.7L175.6 316.7L176.1 316.7L176.6 316.7L177.1 316.7L177.5 316.7L178 316.7L178.5 316.7L179 316.7L179.5 316.7L180 316.7L180.4 316.7L180.9 316.7L181.4 316.7L181.9 316.7" stroke="#f00" stroke-width="1.1" fill="none" stroke-linejoin="round"/>
<text x="32.2" y="187.3" text-anchor="end" class="tl" transform="scale(0.665 1)">3.1</text>
<text x="32.2" y="209.1" text-anchor="end" class="tl" transform="scale(0.665 1)">3.0</text>
<text x="32.2" y="231.1" text-anchor="end" class="tl" transform="scale(0.665 1)">2.9</text>
<text x="32.2" y="253.0" text-anchor="end" class="tl" transform="scale(0.665 1)">2.8</text>
<text x="32.2" y="275.4" text-anchor="end" class="tl" transform="scale(0.665 1)">2.7</text>
<text x="32.2" y="297.2" text-anchor="end" class="tl" transform="scale(0.665 1)">2.6</text>
<text x="32.2" y="319.0" text-anchor="end" class="tl" transform="scale(0.665 1)">2.5</text>
<text x="40.2" y="335.9" text-anchor="middle" class="tl" transform="scale(0.665 1)">−10</text>
<text x="98.5" y="335.9" text-anchor="middle" class="tl" transform="scale(0.665 1)">−5</text>
<text x="156.8" y="335.9" text-anchor="middle" class="tl" transform="scale(0.665 1)">0</text>
<text x="215.2" y="335.9" text-anchor="middle" class="tl" transform="scale(0.665 1)">5</text>
<text x="273.5" y="335.9" text-anchor="middle" class="tl" transform="scale(0.665 1)">10</text>
<line x1="194" y1="237.6" x2="202" y2="237.6" stroke="#000" stroke-width="1.3"/>
<text x="311.1" y="241.8" class="tl" transform="scale(0.665 1)">t=0</text>
<line x1="194" y1="257.1" x2="202" y2="257.1" stroke="#00f" stroke-width="1.3"/>
<text x="311.1" y="261.3" class="tl" transform="scale(0.665 1)">t=1</text>
<line x1="194" y1="276.6" x2="202" y2="276.6" stroke="#f00" stroke-width="1.3"/>
<text x="311.1" y="280.8" class="tl" transform="scale(0.665 1)">t=2</text>
<rect x="264.6" y="181.9" width="163.7" height="140.7" fill="none" stroke="#7f7f7f" stroke-width="1"/>
<line x1="346.05" y1="181.9" x2="346.05" y2="322.6" stroke="#d0d0d0" stroke-width="0.9"/>
<path d="M268.1 322.6v-3.0M268.1 181.9v3.0M275.9 322.6v-1.9M275.9 181.9v1.9M283.7 322.6v-1.9M283.7 181.9v1.9M291.4 322.6v-1.9M291.4 181.9v1.9M299.2 322.6v-1.9M299.2 181.9v1.9M307.1 322.6v-3.0M307.1 181.9v3.0M314.9 322.6v-1.9M314.9 181.9v1.9M322.7 322.6v-1.9M322.7 181.9v1.9M330.4 322.6v-1.9M330.4 181.9v1.9M338.2 322.6v-1.9M338.2 181.9v1.9M346.1 322.6v-3.0M346.1 181.9v3.0M353.9 322.6v-1.9M353.9 181.9v1.9M361.7 322.6v-1.9M361.7 181.9v1.9M369.4 322.6v-1.9M369.4 181.9v1.9M377.2 322.6v-1.9M377.2 181.9v1.9M385.1 322.6v-3.0M385.1 181.9v3.0M392.9 322.6v-1.9M392.9 181.9v1.9M400.7 322.6v-1.9M400.7 181.9v1.9M408.4 322.6v-1.9M408.4 181.9v1.9M416.2 322.6v-1.9M416.2 181.9v1.9M424.1 322.6v-3.0M424.1 181.9v3.0M264.6 319.6h1.9M428.3 319.6h-1.9M264.6 315.2h3.0M428.3 315.2h-3.0M264.6 310.8h1.9M428.3 310.8h-1.9M264.6 306.4h1.9M428.3 306.4h-1.9M264.6 302.1h1.9M428.3 302.1h-1.9M264.6 297.7h1.9M428.3 297.7h-1.9M264.6 293.3h3.0M428.3 293.3h-3.0M264.6 288.9h1.9M428.3 288.9h-1.9M264.6 284.5h1.9M428.3 284.5h-1.9M264.6 280.2h1.9M428.3 280.2h-1.9M264.6 275.8h1.9M428.3 275.8h-1.9M264.6 271.4h3.0M428.3 271.4h-3.0M264.6 267h1.9M428.3 267h-1.9M264.6 262.6h1.9M428.3 262.6h-1.9M264.6 258.3h1.9M428.3 258.3h-1.9M264.6 253.9h1.9M428.3 253.9h-1.9M264.6 249.5h3.0M428.3 249.5h-3.0M264.6 245.1h1.9M428.3 245.1h-1.9M264.6 240.7h1.9M428.3 240.7h-1.9M264.6 236.4h1.9M428.3 236.4h-1.9M264.6 232h1.9M428.3 232h-1.9M264.6 227.6h3.0M428.3 227.6h-3.0M264.6 223.2h1.9M428.3 223.2h-1.9M264.6 218.8h1.9M428.3 218.8h-1.9M264.6 214.5h1.9M428.3 214.5h-1.9M264.6 210.1h1.9M428.3 210.1h-1.9M264.6 205.7h3.0M428.3 205.7h-3.0M264.6 201.3h1.9M428.3 201.3h-1.9M264.6 196.9h1.9M428.3 196.9h-1.9M264.6 192.6h1.9M428.3 192.6h-1.9M264.6 188.2h1.9M428.3 188.2h-1.9M264.6 183.8h3.0M428.3 183.8h-3.0" stroke="#7f7f7f" stroke-width="0.9" fill="none"/>
<path d="M268.1 316.3L268.5 316.3L269 316.3L269.5 316.3L270 316.3L270.5 316.3L271 316.3L271.5 316.3L272 316.3L272.4 316.3L272.9 316.3L273.4 316.3L273.9 316.3L274.4 316.3L274.9 316.3L275.4 316.3L275.9 316.3L276.3 316.3L276.8 316.3L277.3 316.3L277.8 316.3L278.3 316.3L278.8 316.3L279.3 316.3L279.8 316.3L280.2 316.3L280.7 316.3L281.2 316.3L281.7 316.3L282.2 316.3L282.7 316.3L283.2 316.3L283.7 316.3L284.1 316.3L284.6 316.3L285.1 316.3L285.6 316.3L286.1 316.3L286.6 316.3L287.1 316.3L287.6 316.3L288 316.3L288.5 316.3L289 316.3L289.5 316.3L290 316.3L290.5 316.3L291 316.3L291.4 316.3L291.9 316.3L292.4 316.3L292.9 316.3L293.4 316.2L293.9 316.2L294.4 316.2L294.9 316.2L295.4 316.2L295.8 316.2L296.3 316.2L296.8 316.2L297.3 316.2L297.8 316.2L298.3 316.1L298.8 316.1L299.2 316.1L299.7 316.1L300.2 316.1L300.7 316.1L301.2 316L301.7 316L302.2 316L302.7 315.9L303.2 315.9L303.6 315.9L304.1 315.8L304.6 315.8L305.1 315.7L305.6 315.7L306.1 315.6L306.6 315.6L307.1 315.5L307.5 315.4L308 315.3L308.5 315.2L309 315.1L309.5 315L310 314.9L310.5 314.8L310.9 314.7L311.4 314.5L311.9 314.4L312.4 314.2L312.9 314L313.4 313.8L313.9 313.5L314.4 313.3L314.9 313L315.3 312.7L315.8 312.4L316.3 312.1L316.8 311.8L317.3 311.4L317.8 311L318.3 310.6L318.8 310.1L319.2 309.6L319.7 309L320.2 308.5L320.7 307.8L321.2 307.2L321.7 306.4L322.2 305.6L322.7 304.7L323.1 303.7L323.6 302.6L324.1 301.2L324.6 299.7L325.1 298.1L325.6 296.3L326.1 294.2L326.6 292L327 289.6L327.5 287.1L328 284.4L328.5 281.5L329 278.4L329.5 274.8L330 271L330.4 266.7L330.9 261.9L331.4 256.7L331.9 251.2L332.4 245.4L332.9 239.4L333.4 233.6L333.9 227.9L334.4 222.3L334.8 216.8L335.3 211.6L335.8 206.5L336.3 201.7L336.8 197.4L337.3 193.8L337.8 191L338.2 189.4L338.7 188.7L339.2 189.5L339.7 191.5L340.2 195.7L340.7 201.7L341.2 207.7L341.7 214.3L342.2 220.7L342.6 226.6L343.1 232.3L343.6 237.5L344.1 242.1L344.6 246.2L345.1 248.7L345.6 250.3L346.1 251L346.5 250.1L347 248.1L347.5 245.5L348 241.2L348.5 236.3L349 231.4L349.5 226.2L349.9 220.9L350.4 216L350.9 211.3L351.4 206.9L351.9 202.9L352.4 199.6L352.9 196.4L353.4 193.8L353.9 192.1L354.3 190.9L354.8 190L355.3 189.2L355.8 188.8L356.3 188.7L356.8 189.1L357.3 190L357.8 191.2L358.2 192.6L358.7 194.2L359.2 196.5L359.7 199.2L360.2 202.2L360.7 205.6L361.2 209.6L361.7 213.9L362.1 218.1L362.6 222.2L363.1 226.2L363.6 230.3L364.1 234.3L364.6 238.3L365.1 242.4L365.6 246.4L366 250.3L366.5 253.8L367 257L367.5 260L368 263.2L368.5 266.5L369 269.8L369.4 273L369.9 276L370.4 279L370.9 281.9L371.4 284.5L371.9 287L372.4 289.4L372.9 291.7L373.4 293.8L373.8 295.8L374.3 297.7L374.8 299.4L375.3 301.1L375.8 302.5L376.3 303.8L376.8 304.8L377.2 305.8L377.7 306.7L378.2 307.5L378.7 308.2L379.2 308.9L379.7 309.5L380.2 310L380.7 310.6L381.2 311.1L381.6 311.6L382.1 312L382.6 312.3L383.1 312.6L383.6 312.9L384.1 313.2L384.6 313.4L385.1 313.7L385.5 313.9L386 314.1L386.5 314.2L387 314.4L387.5 314.5L388 314.6L388.5 314.7L388.9 314.8L389.4 314.9L389.9 315L390.4 315.1L390.9 315.2L391.4 315.2L391.9 315.3L392.4 315.4L392.9 315.4L393.3 315.5L393.8 315.5L394.3 315.6L394.8 315.6L395.3 315.7L395.8 315.7L396.3 315.7L396.8 315.8L397.2 315.8L397.7 315.9L398.2 315.9L398.7 315.9L399.2 316L399.7 316L400.2 316L400.7 316L401.1 316.1L401.6 316.1L402.1 316.1L402.6 316.1L403.1 316.1L403.6 316.1L404.1 316.2L404.6 316.2L405 316.2L405.5 316.2L406 316.2L406.5 316.2L407 316.2L407.5 316.2L408 316.2L408.4 316.2L408.9 316.3L409.4 316.3L409.9 316.3L410.4 316.3L410.9 316.3L411.4 316.3L411.9 316.3L412.4 316.3L412.8 316.3L413.3 316.3L413.8 316.3L414.3 316.3L414.8 316.3L415.3 316.3L415.8 316.3L416.2 316.3L416.7 316.3L417.2 316.3L417.7 316.3L418.2 316.3L418.7 316.3L419.2 316.3L419.7 316.3L420.1 316.3L420.6 316.3L421.1 316.3L421.6 316.3L422.1 316.3L422.6 316.3L423.1 316.3L423.6 316.3L424.1 316.3" stroke="#000" stroke-width="1.1" fill="none" stroke-linejoin="round"/>
<path d="M268.1 316.3L268.5 316.3L269 316.3L269.5 316.3L270 316.3L270.5 316.3L271 316.3L271.5 316.3L272 316.3L272.4 316.3L272.9 316.3L273.4 316.3L273.9 316.3L274.4 316.3L274.9 316.3L275.4 316.3L275.9 316.3L276.3 316.3L276.8 316.3L277.3 316.3L277.8 316.3L278.3 316.3L278.8 316.3L279.3 316.3L279.8 316.3L280.2 316.3L280.7 316.3L281.2 316.3L281.7 316.3L282.2 316.3L282.7 316.3L283.2 316.3L283.7 316.3L284.1 316.3L284.6 316.3L285.1 316.3L285.6 316.3L286.1 316.3L286.6 316.3L287.1 316.3L287.6 316.3L288 316.3L288.5 316.3L289 316.3L289.5 316.3L290 316.3L290.5 316.3L291 316.3L291.4 316.3L291.9 316.3L292.4 316.3L292.9 316.3L293.4 316.3L293.9 316.3L294.4 316.3L294.9 316.3L295.4 316.3L295.8 316.3L296.3 316.3L296.8 316.3L297.3 316.3L297.8 316.3L298.3 316.3L298.8 316.3L299.2 316.3L299.7 316.3L300.2 316.3L300.7 316.3L301.2 316.3L301.7 316.3L302.2 316.3L302.7 316.3L303.2 316.3L303.6 316.3L304.1 316.3L304.6 316.3L305.1 316.2L305.6 316.2L306.1 316.2L306.6 316.2L307.1 316.2L307.5 316.2L308 316.2L308.5 316.2L309 316.2L309.5 316.1L310 316.1L310.5 316.1L310.9 316.1L311.4 316.1L311.9 316.1L312.4 316L312.9 316L313.4 316L313.9 316L314.4 315.9L314.9 315.9L315.3 315.8L315.8 315.8L316.3 315.8L316.8 315.7L317.3 315.7L317.8 315.6L318.3 315.5L318.8 315.5L319.2 315.4L319.7 315.3L320.2 315.2L320.7 315.1L321.2 315L321.7 314.8L322.2 314.7L322.7 314.6L323.1 314.4L323.6 314.3L324.1 314.1L324.6 313.9L325.1 313.6L325.6 313.4L326.1 313.1L326.6 312.8L327 312.5L327.5 312.2L328 311.9L328.5 311.6L329 311.2L329.5 310.7L330 310.3L330.4 309.8L330.9 309.2L331.4 308.7L331.9 308.1L332.4 307.4L332.9 306.7L333.4 305.9L333.9 305.1L334.4 304.1L334.8 303L335.3 301.7L335.8 300.3L336.3 298.7L336.8 297L337.3 295L337.8 292.8L338.2 290.4L338.7 288L339.2 285.4L339.7 282.6L340.2 279.5L340.7 276.2L341.2 272.4L341.7 268.3L342.2 263.7L342.6 258.6L343.1 253.3L343.6 247.5L344.1 241.5L344.6 235.6L345.1 229.9L345.6 224.3L346.1 218.7L346.5 213.5L347 208.4L347.5 203.4L348 198.9L348.5 195.1L349 191.8L349.5 189.9L349.9 188.7L350.4 189.1L350.9 190.7L351.4 193.8L351.9 199.5L352.4 205.5L352.9 211.9L353.4 218.4L353.9 224.5L354.3 230.3L354.8 235.7L355.3 240.5L355.8 244.9L356.3 248L356.8 249.8L357.3 250.9L357.8 250.6L358.2 248.9L358.7 246.6L359.2 242.9L359.7 238.1L360.2 233.2L360.7 228.1L361.2 222.8L361.7 217.7L362.1 213L362.6 208.5L363.1 204.3L363.6 200.8L364.1 197.5L364.6 194.7L365.1 192.6L365.6 191.3L366 190.3L366.5 189.5L367 188.9L367.5 188.7L368 188.9L368.5 189.7L369 190.8L369.4 192.1L369.9 193.6L370.4 195.6L370.9 198.2L371.4 201.1L371.9 204.3L372.4 208.1L372.9 212.3L373.4 216.6L373.8 220.7L374.3 224.8L374.8 228.8L375.3 232.8L375.8 236.9L376.3 240.9L376.8 245L377.2 248.9L377.7 252.6L378.2 255.9L378.7 258.9L379.2 262L379.7 265.3L380.2 268.6L380.7 271.8L381.2 274.9L381.6 277.9L382.1 280.8L382.6 283.6L383.1 286.1L383.6 288.6L384.1 290.9L384.6 293.1L385.1 295.1L385.5 297L386 298.8L386.5 300.5L387 302L387.5 303.3L388 304.4L388.5 305.4L388.9 306.4L389.4 307.2L389.9 307.9L390.4 308.6L390.9 309.2L391.4 309.8L391.9 310.4L392.4 310.9L392.9 311.4L393.3 311.8L393.8 312.2L394.3 312.5L394.8 312.8L395.3 313.1L395.8 313.3L396.3 313.6L396.8 313.8L397.2 314L397.7 314.2L398.2 314.3L398.7 314.5L399.2 314.6L399.7 314.7L400.2 314.8L400.7 314.9L401.1 315L401.6 315.1L402.1 315.1L402.6 315.2L403.1 315.3L403.6 315.3L404.1 315.4L404.6 315.5L405 315.5L405.5 315.6L406 315.6L406.5 315.6L407 315.7L407.5 315.7L408 315.8L408.4 315.8L408.9 315.8L409.4 315.9L409.9 315.9L410.4 315.9L410.9 316L411.4 316L411.9 316L412.4 316L412.8 316.1L413.3 316.1L413.8 316.1L414.3 316.1L414.8 316.1L415.3 316.2L415.8 316.2L416.2 316.2L416.7 316.2L417.2 316.2L417.7 316.2L418.2 316.2L418.7 316.2L419.2 316.2L419.7 316.2L420.1 316.3L420.6 316.3L421.1 316.3L421.6 316.3L422.1 316.3L422.6 316.3L423.1 316.3L423.6 316.3L424.1 316.3" stroke="#00f" stroke-width="1.1" fill="none" stroke-linejoin="round"/>
<path d="M268.1 316.3L268.5 316.3L269 316.3L269.5 316.3L270 316.3L270.5 316.3L271 316.3L271.5 316.3L272 316.3L272.4 316.3L272.9 316.3L273.4 316.3L273.9 316.3L274.4 316.3L274.9 316.3L275.4 316.3L275.9 316.3L276.3 316.3L276.8 316.3L277.3 316.3L277.8 316.3L278.3 316.3L278.8 316.3L279.3 316.3L279.8 316.3L280.2 316.3L280.7 316.3L281.2 316.3L281.7 316.3L282.2 316.3L282.7 316.3L283.2 316.3L283.7 316.3L284.1 316.3L284.6 316.3L285.1 316.3L285.6 316.3L286.1 316.3L286.6 316.3L287.1 316.3L287.6 316.3L288 316.3L288.5 316.3L289 316.3L289.5 316.3L290 316.3L290.5 316.3L291 316.3L291.4 316.3L291.9 316.3L292.4 316.3L292.9 316.3L293.4 316.3L293.9 316.3L294.4 316.3L294.9 316.3L295.4 316.3L295.8 316.3L296.3 316.3L296.8 316.3L297.3 316.3L297.8 316.3L298.3 316.3L298.8 316.3L299.2 316.3L299.7 316.3L300.2 316.3L300.7 316.3L301.2 316.3L301.7 316.3L302.2 316.3L302.7 316.3L303.2 316.3L303.6 316.3L304.1 316.3L304.6 316.3L305.1 316.3L305.6 316.3L306.1 316.3L306.6 316.3L307.1 316.3L307.5 316.3L308 316.3L308.5 316.3L309 316.3L309.5 316.3L310 316.3L310.5 316.3L310.9 316.2L311.4 316.2L311.9 316.2L312.4 316.2L312.9 316.2L313.4 316.2L313.9 316.2L314.4 316.2L314.9 316.2L315.3 316.2L315.8 316.1L316.3 316.1L316.8 316.1L317.3 316.1L317.8 316.1L318.3 316L318.8 316L319.2 316L319.7 316L320.2 315.9L320.7 315.9L321.2 315.9L321.7 315.8L322.2 315.8L322.7 315.7L323.1 315.7L323.6 315.6L324.1 315.6L324.6 315.5L325.1 315.4L325.6 315.3L326.1 315.2L326.6 315.1L327 315L327.5 314.9L328 314.8L328.5 314.6L329 314.5L329.5 314.3L330 314.2L330.4 314L330.9 313.7L331.4 313.5L331.9 313.2L332.4 313L332.9 312.7L333.4 312.4L333.9 312.1L334.4 311.7L334.8 311.4L335.3 310.9L335.8 310.5L336.3 310L336.8 309.5L337.3 308.9L337.8 308.4L338.2 307.7L338.7 307.1L339.2 306.3L339.7 305.5L340.2 304.6L340.7 303.6L341.2 302.3L341.7 301L342.2 299.5L342.6 297.8L343.1 296L343.6 293.9L344.1 291.6L344.6 289.2L345.1 286.6L345.6 284L346.1 281L346.5 277.8L347 274.2L347.5 270.3L348 266L348.5 261.1L349 255.9L349.5 250.3L349.9 244.4L350.4 238.4L350.9 232.6L351.4 227L351.9 221.4L352.4 216L352.9 210.8L353.4 205.7L353.9 201L354.3 196.8L354.8 193.2L355.3 190.7L355.8 189.2L356.3 188.7L356.8 189.8L357.3 191.9L357.8 196.6L358.2 202.6L358.7 208.7L359.2 215.3L359.7 221.7L360.2 227.5L360.7 233.2L361.2 238.3L361.7 242.8L362.1 246.8L362.6 249L363.1 250.5L363.6 251L364.1 249.9L364.6 247.8L365.1 244.9L365.6 240.5L366 235.5L366.5 230.6L367 225.3L367.5 220.1L368 215.2L368.5 210.6L369 206.2L369.4 202.4L369.9 199.1L370.4 196L370.9 193.5L371.4 191.9L371.9 190.8L372.4 189.8L372.9 189.1L373.4 188.7L373.8 188.7L374.3 189.2L374.8 190.2L375.3 191.5L375.8 192.8L376.3 194.6L376.8 196.9L377.2 199.7L377.7 202.7L378.2 206.2L378.7 210.3L379.2 214.6L379.7 218.8L380.2 222.8L380.7 226.9L381.2 230.9L381.6 234.9L382.1 239L382.6 243.1L383.1 247L383.6 250.8L384.1 254.3L384.6 257.5L385.1 260.5L385.5 263.7L386 267L386.5 270.3L387 273.5L387.5 276.5L388 279.5L388.5 282.3L388.9 284.9L389.4 287.4L389.9 289.8L390.4 292.1L390.9 294.2L391.4 296.1L391.9 297.9L392.4 299.7L392.9 301.3L393.3 302.7L393.8 303.9L394.3 305L394.8 305.9L395.3 306.8L395.8 307.6L396.3 308.3L396.8 309L397.2 309.6L397.7 310.1L398.2 310.7L398.7 311.2L399.2 311.6L399.7 312L400.2 312.4L400.7 312.7L401.1 313L401.6 313.2L402.1 313.5L402.6 313.7L403.1 313.9L403.6 314.1L404.1 314.3L404.6 314.4L405 314.5L405.5 314.6L406 314.7L406.5 314.8L407 314.9L407.5 315L408 315.1L408.4 315.2L408.9 315.3L409.4 315.3L409.9 315.4L410.4 315.4L410.9 315.5L411.4 315.5L411.9 315.6L412.4 315.6L412.8 315.7L413.3 315.7L413.8 315.8L414.3 315.8L414.8 315.8L415.3 315.9L415.8 315.9L416.2 315.9L416.7 316L417.2 316L417.7 316L418.2 316L418.7 316.1L419.2 316.1L419.7 316.1L420.1 316.1L420.6 316.1L421.1 316.1L421.6 316.2L422.1 316.2L422.6 316.2L423.1 316.2L423.6 316.2L424.1 316.2" stroke="#f00" stroke-width="1.1" fill="none" stroke-linejoin="round"/>
<text x="393.8" y="187.4" text-anchor="end" class="tl" transform="scale(0.665 1)">3.1</text>
<text x="393.8" y="209.1" text-anchor="end" class="tl" transform="scale(0.665 1)">3.0</text>
<text x="393.8" y="231.1" text-anchor="end" class="tl" transform="scale(0.665 1)">2.9</text>
<text x="393.8" y="253.2" text-anchor="end" class="tl" transform="scale(0.665 1)">2.8</text>
<text x="393.8" y="275.4" text-anchor="end" class="tl" transform="scale(0.665 1)">2.7</text>
<text x="393.8" y="297.2" text-anchor="end" class="tl" transform="scale(0.665 1)">2.6</text>
<text x="393.8" y="318.9" text-anchor="end" class="tl" transform="scale(0.665 1)">2.5</text>
<text x="403.1" y="335.2" text-anchor="middle" class="tl" transform="scale(0.665 1)">−10</text>
<text x="461.7" y="335.2" text-anchor="middle" class="tl" transform="scale(0.665 1)">−5</text>
<text x="520.4" y="335.2" text-anchor="middle" class="tl" transform="scale(0.665 1)">0</text>
<text x="579.0" y="335.2" text-anchor="middle" class="tl" transform="scale(0.665 1)">5</text>
<text x="637.7" y="335.2" text-anchor="middle" class="tl" transform="scale(0.665 1)">10</text>
<line x1="437.5" y1="237.4" x2="445.5" y2="237.4" stroke="#000" stroke-width="1.3"/>
<text x="677.3" y="241.6" class="tl" transform="scale(0.665 1)">t=0</text>
<line x1="437.5" y1="256.9" x2="445.5" y2="256.9" stroke="#00f" stroke-width="1.3"/>
<text x="677.3" y="261.1" class="tl" transform="scale(0.665 1)">t=1</text>
<line x1="437.5" y1="276.4" x2="445.5" y2="276.4" stroke="#f00" stroke-width="1.3"/>
<text x="677.3" y="280.6" class="tl" transform="scale(0.665 1)">t=2</text>
<rect x="493" y="182.7" width="159.3" height="142.9" fill="none" stroke="#7f7f7f" stroke-width="1"/>
<line x1="572.4" y1="182.7" x2="572.4" y2="325.6" stroke="#d0d0d0" stroke-width="0.9"/>
<path d="M496.4 325.6v-3.0M496.4 182.7v3.0M504 325.6v-1.9M504 182.7v1.9M511.6 325.6v-1.9M511.6 182.7v1.9M519.2 325.6v-1.9M519.2 182.7v1.9M526.8 325.6v-1.9M526.8 182.7v1.9M534.4 325.6v-3.0M534.4 182.7v3.0M542 325.6v-1.9M542 182.7v1.9M549.6 325.6v-1.9M549.6 182.7v1.9M557.2 325.6v-1.9M557.2 182.7v1.9M564.8 325.6v-1.9M564.8 182.7v1.9M572.4 325.6v-3.0M572.4 182.7v3.0M580 325.6v-1.9M580 182.7v1.9M587.6 325.6v-1.9M587.6 182.7v1.9M595.2 325.6v-1.9M595.2 182.7v1.9M602.8 325.6v-1.9M602.8 182.7v1.9M610.4 325.6v-3.0M610.4 182.7v3.0M618 325.6v-1.9M618 182.7v1.9M625.6 325.6v-1.9M625.6 182.7v1.9M633.2 325.6v-1.9M633.2 182.7v1.9M640.8 325.6v-1.9M640.8 182.7v1.9M648.4 325.6v-3.0M648.4 182.7v3.0M493 322.3h1.9M652.3 322.3h-1.9M493 317.9h3.0M652.3 317.9h-3.0M493 313.5h1.9M652.3 313.5h-1.9M493 309h1.9M652.3 309h-1.9M493 304.6h1.9M652.3 304.6h-1.9M493 300.2h1.9M652.3 300.2h-1.9M493 295.8h3.0M652.3 295.8h-3.0M493 291.3h1.9M652.3 291.3h-1.9M493 286.9h1.9M652.3 286.9h-1.9M493 282.5h1.9M652.3 282.5h-1.9M493 278.1h1.9M652.3 278.1h-1.9M493 273.6h3.0M652.3 273.6h-3.0M493 269.2h1.9M652.3 269.2h-1.9M493 264.8h1.9M652.3 264.8h-1.9M493 260.4h1.9M652.3 260.4h-1.9M493 255.9h1.9M652.3 255.9h-1.9M493 251.5h3.0M652.3 251.5h-3.0M493 247.1h1.9M652.3 247.1h-1.9M493 242.7h1.9M652.3 242.7h-1.9M493 238.2h1.9M652.3 238.2h-1.9M493 233.8h1.9M652.3 233.8h-1.9M493 229.4h3.0M652.3 229.4h-3.0M493 224.9h1.9M652.3 224.9h-1.9M493 220.5h1.9M652.3 220.5h-1.9M493 216.1h1.9M652.3 216.1h-1.9M493 211.7h1.9M652.3 211.7h-1.9M493 207.2h3.0M652.3 207.2h-3.0M493 202.8h1.9M652.3 202.8h-1.9M493 198.4h1.9M652.3 198.4h-1.9M493 194h1.9M652.3 194h-1.9M493 189.5h1.9M652.3 189.5h-1.9M493 185.1h3.0M652.3 185.1h-3.0" stroke="#7f7f7f" stroke-width="0.9" fill="none"/>
<path d="M496.4 319L496.9 319L497.3 319L497.8 319L498.3 319L498.8 319L499.2 319L499.7 319L500.2 319L500.7 319L501.1 319L501.6 319L502.1 319L502.6 319L503 319L503.5 319L504 319L504.5 319L504.9 319L505.4 319L505.9 319L506.4 319L506.8 319L507.3 319L507.8 319L508.3 319L508.8 319L509.2 319L509.7 319L510.2 319L510.6 319L511.1 319L511.6 319L512.1 319L512.5 319L513 319L513.5 319L514 319L514.4 319L514.9 319L515.4 319L515.9 319L516.4 319L516.8 319L517.3 319L517.8 319L518.2 319L518.7 319L519.2 319L519.7 319L520.1 319L520.6 318.9L521.1 318.9L521.6 318.9L522 318.9L522.5 318.9L523 318.9L523.5 318.9L523.9 318.9L524.4 318.9L524.9 318.9L525.4 318.8L525.9 318.8L526.3 318.8L526.8 318.8L527.3 318.8L527.8 318.7L528.2 318.7L528.7 318.7L529.2 318.7L529.6 318.6L530.1 318.6L530.6 318.6L531.1 318.5L531.5 318.5L532 318.4L532.5 318.4L533 318.3L533.4 318.3L533.9 318.2L534.4 318.1L534.9 318L535.4 317.9L535.8 317.8L536.3 317.7L536.8 317.6L537.2 317.5L537.7 317.3L538.2 317.2L538.7 317.1L539.1 316.9L539.6 316.7L540.1 316.5L540.6 316.2L541 316L541.5 315.7L542 315.4L542.5 315.1L542.9 314.8L543.4 314.5L543.9 314.1L544.4 313.7L544.9 313.2L545.3 312.7L545.8 312.2L546.3 311.7L546.8 311.1L547.2 310.5L547.7 309.8L548.2 309.1L548.6 308.2L549.1 307.3L549.6 306.3L550.1 305.2L550.5 303.8L551 302.3L551.5 300.7L552 298.9L552.4 296.8L552.9 294.5L553.4 292.1L553.9 289.6L554.4 286.9L554.8 284L555.3 280.8L555.8 277.3L556.2 273.3L556.7 269.1L557.2 264.3L557.7 259L558.1 253.5L558.6 247.6L559.1 241.5L559.6 235.6L560 229.9L560.5 224.2L561 218.7L561.5 213.4L561.9 208.3L562.4 203.4L562.9 199L563.4 195.3L563.9 192.4L564.3 190.8L564.8 190L565.3 190.9L565.8 192.8L566.2 196.9L566.7 203L567.2 209L567.6 215.6L568.1 222.1L568.6 228.1L569.1 233.9L569.5 239.2L570 243.8L570.5 248L571 250.6L571.4 252.2L571.9 253L572.4 252.2L572.9 250.2L573.4 247.6L573.8 243.3L574.3 238.4L574.8 233.5L575.2 228.2L575.7 222.8L576.2 217.8L576.7 213.1L577.1 208.6L577.6 204.6L578.1 201.2L578.6 198L579 195.3L579.5 193.5L580 192.4L580.5 191.4L580.9 190.6L581.4 190.1L581.9 190L582.4 190.5L582.9 191.4L583.3 192.6L583.8 193.9L584.3 195.6L584.8 197.9L585.2 200.6L585.7 203.6L586.2 207L586.6 211L587.1 215.3L587.6 219.6L588.1 223.7L588.5 227.8L589 231.9L589.5 236L590 240L590.4 244.2L590.9 248.2L591.4 252.1L591.9 255.7L592.4 258.9L592.8 262L593.3 265.2L593.8 268.5L594.2 271.8L594.7 275.1L595.2 278.2L595.7 281.2L596.1 284.1L596.6 286.8L597.1 289.3L597.6 291.7L598 294.1L598.5 296.2L599 298.2L599.5 300.1L599.9 301.9L600.4 303.5L600.9 305L601.4 306.3L601.9 307.4L602.3 308.3L602.8 309.2L603.3 310L603.8 310.8L604.2 311.4L604.7 312.1L605.2 312.7L605.6 313.2L606.1 313.7L606.6 314.2L607.1 314.6L607.5 315L608 315.3L608.5 315.6L609 315.8L609.4 316.1L609.9 316.3L610.4 316.5L610.9 316.7L611.4 316.9L611.8 317.1L612.3 317.2L612.8 317.3L613.2 317.4L613.7 317.5L614.2 317.6L614.7 317.7L615.1 317.8L615.6 317.9L616.1 317.9L616.6 318L617 318.1L617.5 318.1L618 318.2L618.5 318.2L618.9 318.3L619.4 318.3L619.9 318.4L620.4 318.4L620.9 318.4L621.3 318.5L621.8 318.5L622.3 318.6L622.8 318.6L623.2 318.6L623.7 318.6L624.2 318.7L624.6 318.7L625.1 318.7L625.6 318.8L626.1 318.8L626.5 318.8L627 318.8L627.5 318.8L628 318.8L628.4 318.9L628.9 318.9L629.4 318.9L629.9 318.9L630.4 318.9L630.8 318.9L631.3 318.9L631.8 318.9L632.2 318.9L632.7 318.9L633.2 319L633.7 319L634.1 319L634.6 319L635.1 319L635.6 319L636 319L636.5 319L637 319L637.5 319L637.9 319L638.4 319L638.9 319L639.4 319L639.9 319L640.3 319L640.8 319L641.3 319L641.8 319L642.2 319L642.7 319L643.2 319L643.6 319L644.1 319L644.6 319L645.1 319L645.5 319L646 319L646.5 319L647 319L647.4 319L647.9 319L648.4 319" stroke="#000" stroke-width="1.1" fill="none" stroke-linejoin="round"/>
<path d="M496.4 319L496.9 319L497.3 319L497.8 319L498.3 319L498.8 319L499.2 319L499.7 319L500.2 319L500.7 319L501.1 319L501.6 319L502.1 319L502.6 319L503 319L503.5 319L504 319L504.5 319L504.9 319L505.4 319L505.9 319L506.4 319L506.8 319L507.3 319L507.8 319L508.3 319L508.8 319L509.2 319L509.7 319L510.2 319L510.6 319L511.1 319L511.6 319L512.1 319L512.5 319L513 319L513.5 319L514 319L514.4 319L514.9 319L515.4 319L515.9 319L516.4 319L516.8 319L517.3 319L517.8 319L518.2 319L518.7 319L519.2 319L519.7 319L520.1 319L520.6 319L521.1 319L521.6 319L522 319L522.5 319L523 319L523.5 319L523.9 319L524.4 319L524.9 319L525.4 319L525.9 319L526.3 319L526.8 319L527.3 319L527.8 319L528.2 319L528.7 319L529.2 319L529.6 319L530.1 319L530.6 319L531.1 318.9L531.5 318.9L532 318.9L532.5 318.9L533 318.9L533.4 318.9L533.9 318.9L534.4 318.9L534.9 318.9L535.4 318.8L535.8 318.8L536.3 318.8L536.8 318.8L537.2 318.8L537.7 318.8L538.2 318.7L538.7 318.7L539.1 318.7L539.6 318.7L540.1 318.6L540.6 318.6L541 318.5L541.5 318.5L542 318.5L542.5 318.4L542.9 318.4L543.4 318.3L543.9 318.2L544.4 318.2L544.9 318.1L545.3 318L545.8 317.9L546.3 317.8L546.8 317.7L547.2 317.6L547.7 317.4L548.2 317.3L548.6 317.2L549.1 317L549.6 316.8L550.1 316.6L550.5 316.4L551 316.1L551.5 315.9L552 315.6L552.4 315.3L552.9 315L553.4 314.7L553.9 314.3L554.4 313.9L554.8 313.5L555.3 313L555.8 312.5L556.2 312L556.7 311.5L557.2 310.9L557.7 310.2L558.1 309.5L558.6 308.7L559.1 307.9L559.6 307L560 305.9L560.5 304.6L561 303.2L561.5 301.7L561.9 300L562.4 298.1L562.9 295.9L563.4 293.5L563.9 291.1L564.3 288.5L564.8 285.8L565.3 282.8L565.8 279.4L566.2 275.7L566.7 271.7L567.2 267.2L567.6 262.2L568.1 256.9L568.6 251.2L569.1 245.1L569.5 239.1L570 233.3L570.5 227.6L571 222L571.4 216.5L571.9 211.4L572.4 206.3L572.9 201.5L573.4 197.5L573.8 194L574.3 191.7L574.8 190.3L575.2 190.2L575.7 191.5L576.2 194L576.7 199.3L577.1 205.3L577.6 211.6L578.1 218.3L578.6 224.6L579 230.5L579.5 236.1L580 241.1L580.5 245.6L580.9 249.3L581.4 251.3L581.9 252.7L582.4 252.9L582.9 251.5L583.3 249.3L583.8 246L584.3 241.4L584.8 236.4L585.2 231.4L585.7 226L586.2 220.7L586.6 215.9L587.1 211.3L587.6 206.9L588.1 203.2L588.5 199.9L589 196.8L589.5 194.5L590 193L590.4 192L590.9 191L591.4 190.4L591.9 190L592.4 190.1L592.8 190.8L593.3 191.8L593.8 193.1L594.2 194.5L594.7 196.4L595.2 198.9L595.7 201.8L596.1 204.8L596.6 208.5L597.1 212.7L597.6 217.1L598 221.2L598.5 225.3L599 229.5L599.5 233.5L599.9 237.6L600.4 241.7L600.9 245.8L601.4 249.8L601.9 253.6L602.3 257L602.8 260.2L603.3 263.2L603.8 266.5L604.2 269.8L604.7 273.2L605.2 276.3L605.6 279.4L606.1 282.4L606.6 285.2L607.1 287.8L607.5 290.3L608 292.7L608.5 294.9L609 297L609.4 299L609.9 300.8L610.4 302.6L610.9 304.2L611.4 305.6L611.8 306.7L612.3 307.8L612.8 308.7L613.2 309.6L613.7 310.3L614.2 311.1L614.7 311.7L615.1 312.3L615.6 312.9L616.1 313.4L616.6 313.9L617 314.4L617.5 314.8L618 315.1L618.5 315.4L618.9 315.7L619.4 315.9L619.9 316.2L620.4 316.4L620.9 316.6L621.3 316.8L621.8 317L622.3 317.1L622.8 317.2L623.2 317.3L623.7 317.5L624.2 317.6L624.6 317.6L625.1 317.7L625.6 317.8L626.1 317.9L626.5 318L627 318L627.5 318.1L628 318.1L628.4 318.2L628.9 318.2L629.4 318.3L629.9 318.3L630.4 318.4L630.8 318.4L631.3 318.5L631.8 318.5L632.2 318.5L632.7 318.6L633.2 318.6L633.7 318.6L634.1 318.7L634.6 318.7L635.1 318.7L635.6 318.7L636 318.8L636.5 318.8L637 318.8L637.5 318.8L637.9 318.8L638.4 318.8L638.9 318.9L639.4 318.9L639.9 318.9L640.3 318.9L640.8 318.9L641.3 318.9L641.8 318.9L642.2 318.9L642.7 318.9L643.2 319L643.6 319L644.1 319L644.6 319L645.1 319L645.5 319L646 319L646.5 319L647 319L647.4 319L647.9 319L648.4 319" stroke="#00f" stroke-width="1.1" fill="none" stroke-linejoin="round"/>
<path d="M496.4 319L496.9 319L497.3 319L497.8 319L498.3 319L498.8 319L499.2 319L499.7 319L500.2 319L500.7 319L501.1 319L501.6 319L502.1 319L502.6 319L503 319L503.5 319L504 319L504.5 319L504.9 319L505.4 319L505.9 319L506.4 319L506.8 319L507.3 319L507.8 319L508.3 319L508.8 319L509.2 319L509.7 319L510.2 319L510.6 319L511.1 319L511.6 319L512.1 319L512.5 319L513 319L513.5 319L514 319L514.4 319L514.9 319L515.4 319L515.9 319L516.4 319L516.8 319L517.3 319L517.8 319L518.2 319L518.7 319L519.2 319L519.7 319L520.1 319L520.6 319L521.1 319L521.6 319L522 319L522.5 319L523 319L523.5 319L523.9 319L524.4 319L524.9 319L525.4 319L525.9 319L526.3 319L526.8 319L527.3 319L527.8 319L528.2 319L528.7 319L529.2 319L529.6 319L530.1 319L530.6 319L531.1 319L531.5 319L532 319L532.5 319L533 319L533.4 319L533.9 319L534.4 319L534.9 319L535.4 319L535.8 318.9L536.3 318.9L536.8 318.9L537.2 318.9L537.7 318.9L538.2 318.9L538.7 318.9L539.1 318.9L539.6 318.9L540.1 318.9L540.6 318.8L541 318.8L541.5 318.8L542 318.8L542.5 318.8L542.9 318.8L543.4 318.7L543.9 318.7L544.4 318.7L544.9 318.6L545.3 318.6L545.8 318.6L546.3 318.5L546.8 318.5L547.2 318.5L547.7 318.4L548.2 318.4L548.6 318.3L549.1 318.2L549.6 318.1L550.1 318.1L550.5 318L551 317.9L551.5 317.8L552 317.6L552.4 317.5L552.9 317.4L553.4 317.3L553.9 317.1L554.4 316.9L554.8 316.8L555.3 316.5L555.8 316.3L556.2 316.1L556.7 315.8L557.2 315.5L557.7 315.2L558.1 314.9L558.6 314.6L559.1 314.2L559.6 313.8L560 313.4L560.5 312.9L561 312.4L561.5 311.9L561.9 311.3L562.4 310.7L562.9 310L563.4 309.3L563.9 308.5L564.3 307.6L564.8 306.7L565.3 305.6L565.8 304.3L566.2 302.8L566.7 301.2L567.2 299.5L567.6 297.5L568.1 295.2L568.6 292.9L569.1 290.4L569.5 287.8L570 284.9L570.5 281.9L571 278.4L571.4 274.6L571.9 270.5L572.4 265.9L572.9 260.7L573.4 255.3L573.8 249.5L574.3 243.4L574.8 237.5L575.2 231.7L575.7 226L576.2 220.4L576.7 215.1L577.1 209.9L577.6 204.9L578.1 200.3L578.6 196.5L579 193.2L579.5 191.3L580 190.1L580.5 190.4L580.9 192.1L581.4 195.2L581.9 201L582.4 207L582.9 213.5L583.3 220.1L583.8 226.2L584.3 232.1L584.8 237.6L585.2 242.4L585.7 246.8L586.2 249.9L586.6 251.8L587.1 252.9L587.6 252.6L588.1 250.9L588.5 248.6L589 244.8L589.5 240L590 235L590.4 229.9L590.9 224.5L591.4 219.4L591.9 214.6L592.4 210L592.8 205.8L593.3 202.3L593.8 199L594.2 196.1L594.7 194L595.2 192.7L595.7 191.7L596.1 190.8L596.6 190.3L597.1 190L597.6 190.3L598 191L598.5 192.2L599 193.5L599.5 195L599.9 197.1L600.4 199.7L600.9 202.6L601.4 205.8L601.9 209.6L602.3 213.9L602.8 218.3L603.3 222.4L603.8 226.5L604.2 230.6L604.7 234.7L605.2 238.7L605.6 242.9L606.1 246.9L606.6 250.9L607.1 254.6L607.5 257.9L608 261L608.5 264.1L609 267.4L609.4 270.8L609.9 274.1L610.4 277.2L610.9 280.2L611.4 283.2L611.8 285.9L612.3 288.5L612.8 291L613.2 293.3L613.7 295.5L614.2 297.6L614.7 299.5L615.1 301.3L615.6 303L616.1 304.6L616.6 305.9L617 307L617.5 308L618 309L618.5 309.8L618.9 310.6L619.4 311.2L619.9 311.9L620.4 312.5L620.9 313L621.3 313.6L621.8 314L622.3 314.5L622.8 314.9L623.2 315.2L623.7 315.5L624.2 315.7L624.6 316L625.1 316.2L625.6 316.5L626.1 316.7L626.5 316.8L627 317L627.5 317.1L628 317.3L628.4 317.4L628.9 317.5L629.4 317.6L629.9 317.7L630.4 317.8L630.8 317.8L631.3 317.9L631.8 318L632.2 318L632.7 318.1L633.2 318.2L633.7 318.2L634.1 318.3L634.6 318.3L635.1 318.3L635.6 318.4L636 318.4L636.5 318.5L637 318.5L637.5 318.5L637.9 318.6L638.4 318.6L638.9 318.6L639.4 318.7L639.9 318.7L640.3 318.7L640.8 318.7L641.3 318.8L641.8 318.8L642.2 318.8L642.7 318.8L643.2 318.8L643.6 318.9L644.1 318.9L644.6 318.9L645.1 318.9L645.5 318.9L646 318.9L646.5 318.9L647 318.9L647.4 318.9L647.9 318.9L648.4 319" stroke="#f00" stroke-width="1.1" fill="none" stroke-linejoin="round"/>
<text x="737.4" y="187.8" text-anchor="end" class="tl" transform="scale(0.665 1)">3.1</text>
<text x="737.4" y="210.3" text-anchor="end" class="tl" transform="scale(0.665 1)">3.0</text>
<text x="737.4" y="232.6" text-anchor="end" class="tl" transform="scale(0.665 1)">2.9</text>
<text x="737.4" y="254.6" text-anchor="end" class="tl" transform="scale(0.665 1)">2.8</text>
<text x="737.4" y="277.0" text-anchor="end" class="tl" transform="scale(0.665 1)">2.7</text>
<text x="737.4" y="299.3" text-anchor="end" class="tl" transform="scale(0.665 1)">2.6</text>
<text x="737.4" y="320.9" text-anchor="end" class="tl" transform="scale(0.665 1)">2.5</text>
<text x="746.5" y="337.7" text-anchor="middle" class="tl" transform="scale(0.665 1)">−10</text>
<text x="803.6" y="337.7" text-anchor="middle" class="tl" transform="scale(0.665 1)">−5</text>
<text x="860.8" y="337.7" text-anchor="middle" class="tl" transform="scale(0.665 1)">0</text>
<text x="917.9" y="337.7" text-anchor="middle" class="tl" transform="scale(0.665 1)">5</text>
<text x="975.0" y="337.7" text-anchor="middle" class="tl" transform="scale(0.665 1)">10</text>
<line x1="661.1" y1="238.9" x2="669.1" y2="238.9" stroke="#000" stroke-width="1.3"/>
<text x="1013.2" y="243.1" class="tl" transform="scale(0.665 1)">t=0</text>
<line x1="661.1" y1="258.4" x2="669.1" y2="258.4" stroke="#00f" stroke-width="1.3"/>
<text x="1013.2" y="262.6" class="tl" transform="scale(0.665 1)">t=1</text>
<line x1="661.1" y1="277.9" x2="669.1" y2="277.9" stroke="#f00" stroke-width="1.3"/>
<text x="1013.2" y="282.1" class="tl" transform="scale(0.665 1)">t=2</text>
<path d="M114.3 374.3L115.4 415.6M41.3 465.3L115.4 415.6M211.7 447.6L115.4 415.6M36.1 417.7L114.3 374.3M114.3 374.3L215.3 402.1M41.3 465.3L36.1 417.7M215.3 402.1L211.7 447.6" stroke="#8a8a8a" stroke-width="0.8" fill="none"/>
<path d="M146 512.5L147.9 510.5M140.1 509.8L141 508.9M134.2 507.2L135.2 506.2M128.5 504.6L129.4 503.7M122.8 502L123.8 501.1M117.3 499.5L119.3 497.7M111.8 497.1L112.8 496.2M106.4 494.6L107.4 493.8M101.1 492.2L102.1 491.4M95.8 489.9L96.9 489M90.7 487.6L92.8 485.8M85.6 485.3L86.6 484.5M80.6 483L81.6 482.2M75.7 480.8L76.7 480M70.8 478.6L71.9 477.8M66 476.5L68.2 474.8M61.3 474.3L62.4 473.6M56.7 472.2L57.7 471.5M52.1 470.2L53.2 469.4M47.6 468.1L48.6 467.4M43.1 466.1L45.3 464.6M113 375.1L115.3 375.7M109.9 376.8L111 377.1M106.7 378.6L107.8 378.9M103.5 380.3L104.6 380.7M100.2 382.2L101.3 382.5M96.8 384L99.1 384.7M93.4 385.9L94.5 386.3M89.9 387.9L91 388.2M86.4 389.8L87.5 390.2M82.8 391.8L83.9 392.2M79.1 393.9L81.4 394.6M75.3 395.9L76.4 396.3M71.5 398.1L72.6 398.4M67.6 400.2L68.7 400.6M63.6 402.4L64.7 402.8M59.5 404.7L61.9 405.5M55.4 407L56.5 407.4M51.2 409.3L52.3 409.7M46.9 411.7L48 412.1M42.5 414.1L43.6 414.6M38 416.6L40.4 417.5M41.1 464L42.2 464.5M40.7 460.2L41.8 460.7M40.3 456.4L42.6 457.4M39.9 452.6L41 453.1M39.5 448.7L40.6 449.2M39 444.8L40.2 445.3M38.6 440.8L41 441.8M38.2 436.9L39.3 437.3M37.7 432.8L38.9 433.3M37.3 428.8L38.4 429.2M36.8 424.7L39.2 425.6M36.4 420.6L37.5 421" stroke="#777" stroke-width="0.7" fill="none"/>
<path d="M115.8 416.2L116.4 416.4L117 416.6L117.5 416.7L118.1 416.9L118.7 417.1L119.2 417.3L119.8 417.5L120.4 417.7L121 417.9L121.5 418.1L122.1 418.3L122.7 418.5L117.8 421.9L117.2 421.7L116.6 421.5L116 421.3L115.4 421.1L114.9 420.9L114.3 420.7L113.7 420.5L113.1 420.3L112.6 420.1L112 419.9L111.4 419.7L110.9 419.5" fill="#0d0"/>
<path d="M115.8 416.2L122.2 418.3M115.8 416.2L111.2 419.3" class="m"/>
<path d="M122.2 418.3L122.8 418.5L123.3 418.7L123.9 418.9L124.5 419.1L125.1 419.3L125.7 419.5L126.3 419.7L126.8 419.8L127.4 420L128 420.2L128.6 420.4L129.2 420.6L124.3 424.1L123.7 423.9L123.1 423.7L122.5 423.5L121.9 423.3L121.4 423.1L120.8 422.9L120.2 422.7L119.6 422.5L119 422.3L118.4 422.1L117.8 421.9L117.3 421.7" fill="#f70"/>
<path d="M122.2 418.3L128.7 420.5M122.2 418.3L117.6 421.5" class="m"/>
<path d="M128.7 420.5L129.3 420.7L129.8 420.9L130.4 421L131 421.2L131.6 421.4L132.2 421.6L132.8 421.8L133.4 422L134 422.2L134.6 422.4L135.2 422.6L135.8 422.8L131 426.3L130.3 426.1L129.7 425.9L129.1 425.7L128.5 425.5L127.9 425.3L127.4 425.1L126.8 424.9L126.2 424.7L125.6 424.5L125 424.3L124.4 424.1L123.8 423.9" fill="#0d0"/>
<path d="M128.7 420.5L135.3 422.6M128.7 420.5L124.1 423.7" class="m"/>
<path d="M135.3 422.6L135.9 422.8L136.5 423L137.1 423.2L137.7 423.4L138.3 423.5L138.9 423.7L139.5 423.9L140.1 424.1L140.7 424.2L141.3 424.4L141.9 424.6L142.5 424.7L137.7 428.4L137.1 428.2L136.5 428L135.9 427.9L135.3 427.7L134.7 427.5L134.1 427.3L133.5 427.1L132.8 426.9L132.2 426.8L131.6 426.6L131 426.4L130.4 426.2" fill="#f70"/>
<path d="M135.3 422.6L135.8 422.8L136.4 423L136.9 423.1L137.5 423.3L138 423.5L138.6 423.6L139.2 423.8L139.7 424L140.3 424.1L140.9 424.3L141.4 424.5L142 424.6M135.3 422.6L130.8 425.9" class="m"/>
<path d="M142 424.6L142.8 424.8L143.6 425L138.9 428.7L138 428.5L137.2 428.2" fill="#0d0"/>
<path d="M143.1 424.9L143.8 425L144.4 425.2L145 425.3L145.7 425.4L146.3 425.4L147 425.5L147.7 425.4L142.9 429.3L142.2 429.3L141.6 429.2L140.9 429.1L140.3 429L139.6 428.9L139 428.7L138.3 428.6" fill="#0c0"/>
<path d="M147.1 425.5L147.9 425.4L148.6 425.3L149.4 425L144.7 429.1L143.9 429.3L143.1 429.3L142.4 429.3" fill="#0b0"/>
<path d="M142 424.6L142.5 424.7L143.1 424.9L143.7 425L144.3 425.1L144.8 425.3L145.4 425.3L146 425.4L146.5 425.4L147.1 425.5L147.7 425.4L148.3 425.4L148.8 425.2M142 424.6L137.5 428" class="m"/>
<path d="M148.8 425.2L150 424.8L145.2 428.9L144.1 429.3" fill="#b50"/>
<path d="M149.4 425L150.3 424.6L151.1 423.9L146.4 428.4L145.5 428.8L144.7 429.1" fill="#a50"/>
<path d="M150.6 424.4L151.7 423.2L147 427.9L145.9 428.7" fill="#950"/>
<path d="M151.2 423.9L151.8 423.1L152.5 422L153.2 420.7L153.9 419.2L154.6 417.4L155.3 415.4L156 413.2L156.7 411L151.9 417L151.2 419.3L150.5 421.3L149.8 423.1L149.1 424.6L148.4 425.9L147.8 427L147.1 427.8L146.4 428.3" fill="#940"/>
<path d="M148.8 425.2L149.4 425L150 424.7L150.6 424.4L151.2 423.9L151.8 423.2L152.4 422.2L153 421.1L153.6 419.8L154.2 418.4L154.8 416.7L155.5 414.8L156.1 412.8M148.8 425.2L144.5 429" class="m"/>
<path d="M156.1 412.8L156.8 410.7L157.5 408.5L158.2 405.7L158.9 403L159.6 400.1L160.4 397.2L161.1 394.3L161.8 392.2L162.5 390.8L163.2 390L163.9 389.7L159.1 393.5L158.4 394.4L157.7 395.9L157 398.1L156.2 401.1L155.5 404L154.8 406.8L154.1 409.7L153.4 412.4L152.7 414.6L152 416.7L151.3 418.9" fill="#090"/>
<path d="M163.3 389.9L164.6 390.1L159.8 393.2L158.5 394.2" fill="#0b0"/>
<path d="M156.1 412.8L156.7 410.9L157.4 408.9L158 406.4L158.7 403.8L159.4 401.2L160 398.6L160.7 395.8L161.4 393.5L162 391.7L162.7 390.6L163.3 389.9L164 389.7M156.1 412.8L151.7 418.5" class="m"/>
<path d="M164 389.7L165.2 390.9L160.4 393.5L159.2 393.5" fill="#f70"/>
<path d="M164.6 390.1L165.8 392.3L161 394.3L159.8 393.2" fill="#e70"/>
<path d="M165.2 391L166.3 394.6L161.6 395.5L160.4 393.6" fill="#d70"/>
<path d="M165.8 392.4L166.9 397.5L162.2 397.8L161 394.4" fill="#d60"/>
<path d="M166.4 394.8L167 398.5L167.7 403L168.3 407.5L169 411.2L164.4 411.6L163.7 407L163.1 402.4L162.4 398.6L161.7 395.7" fill="#c60"/>
<path d="M168.5 408.6L169.6 412.6L165 414.8L163.9 408.2" fill="#d60"/>
<path d="M169 411.3L170.2 412.2L165.5 416.3L164.4 411.8" fill="#d70"/>
<path d="M169.6 412.6L170.6 411.5L171.6 407.1L166.9 414.6L165.9 416.5L165 414.9" fill="#940"/>
<path d="M164 389.7L164.6 390.1L165.2 391L165.8 392.4L166.4 394.8L166.9 397.7L167.4 401.2L168 405L168.5 408.6L169 411.3L169.6 412.6L170.2 412.1L170.9 410.1M164 389.7L159.5 393.2" class="m"/>
<path d="M170.9 410.1L171.8 406.2L172.8 401.4L173.7 396.4L174.6 393.1L175.4 393.1L170.7 396.7L169.8 400L168.8 405.1L167.9 409.9L167 413.9L166.2 416.1" fill="#090"/>
<path d="M174.8 392.9L175.9 395L171.3 396.6L170 398.9" fill="#0e0"/>
<path d="M175.4 393.2L176.5 398.1L171.9 398.3L170.7 396.7" fill="#0f0"/>
<path d="M176 395.2L176.6 399L177.2 403.6L177.8 408.4L178.3 413.5L178.9 418.3L174.5 417.5L173.9 412.4L173.3 407.5L172.7 402.9L172.1 399L171.4 396.7" fill="#0e0"/>
<path d="M170.9 410.1L171.7 406.9L172.5 403L173.3 398.7L174 394.6L174.8 392.9L175.4 393.2L176 395.2L176.5 398.3L177 402.1L177.5 406.1L178 410.3L178.4 414.6M170.9 410.1L166.6 415.8" class="m"/>
<path d="M178.4 414.6L179.1 419.7L179.7 423.7L180.4 426.9L176 428.2L175.3 424.2L174.7 419.2L174 413.5" fill="#c60"/>
<path d="M179.9 424.7L180.7 427.7L181.4 430.1L182.1 432.2L177.7 434.5L177 432.1L176.3 429.2L175.5 425.5" fill="#d60"/>
<path d="M181.6 430.8L182.4 432.9L183.3 434.5L178.9 437.5L178 435.4L177.2 432.8" fill="#d70"/>
<path d="M182.8 433.5L183.5 434.9L184.3 435.9L185.1 436.7L180.7 440.2L179.9 439.2L179.1 437.9L178.4 436.2" fill="#e70"/>
<path d="M184.6 436.1L185.7 437.3L181.4 440.9L180.2 439.5" fill="#f70"/>
<path d="M178.4 414.6L178.9 418.6L179.4 421.9L179.9 424.7L180.5 427L181 429L181.6 430.8L182.2 432.3L182.8 433.5L183.3 434.6L183.9 435.4L184.6 436.1L185.2 436.8M178.4 414.6L174.4 413.5" class="m"/>
<path d="M185.2 436.8L186.4 437.8L182 441.5L180.8 440.3" fill="#0f0"/>
<path d="M185.8 437.3L186.5 437.9L187.2 438.5L187.9 439L188.6 439.4L189.3 439.9L190.1 440.2L190.8 440.6L186.4 444.6L185.7 444.2L185 443.7L184.3 443.3L183.5 442.8L182.8 442.2L182.1 441.6L181.4 440.9" fill="#0e0"/>
<path d="M190.2 440.3L191 440.7L191.8 441.1L192.5 441.4L193.3 441.8L189 445.8L188.2 445.5L187.4 445.1L186.6 444.7L185.8 444.2" fill="#0d0"/>
<path d="M185.2 436.8L185.8 437.3L186.4 437.9L187 438.4L187.7 438.8L188.3 439.2L188.9 439.6L189.5 440L190.2 440.3L190.8 440.6L191.5 440.9L192.1 441.2L192.7 441.5M185.2 436.8L181.1 440" class="m"/>
<path d="M192.7 441.5L193.4 441.8L194.1 442.1L194.8 442.3L195.5 442.6L196.2 442.9L196.9 443.1L197.6 443.4L198.3 443.6L199 443.9L199.7 444.1L200.5 444.4L201.2 444.6L196.9 448.8L196.2 448.6L195.5 448.3L194.8 448.1L194.1 447.8L193.4 447.5L192.6 447.3L191.9 447L191.2 446.7L190.5 446.4L189.8 446.2L189.1 445.9L188.4 445.5" fill="#f70"/>
<path d="M192.7 441.5L193.4 441.8L194 442L194.7 442.3L195.3 442.5L196 442.8L196.6 443L197.3 443.3L197.9 443.5L198.6 443.7L199.2 443.9L199.9 444.2L200.6 444.4M192.7 441.5L188.7 445.2" class="m"/>
<path d="M200.6 444.4L201.2 444.6L201.9 444.9L202.5 445.1L203.2 445.3L203.9 445.5L204.5 445.8L205.2 446L205.9 446.2L206.5 446.4L207.2 446.6L207.9 446.9L208.5 447.1L204.4 451.4L203.7 451.2L203 450.9L202.3 450.7L201.7 450.5L201 450.2L200.3 450L199.6 449.8L199 449.5L198.3 449.3L197.6 449.1L197 448.8L196.3 448.6" fill="#0d0"/>
<path d="M200.6 444.4L208.5 447.1M200.6 444.4L196.6 448.3M208.5 447.1L204.7 451.1" class="m"/>
<path d="M111.2 419.3L111.8 419.5L112.4 419.7L112.9 419.9L113.5 420.1L114.1 420.3L114.7 420.5L115.2 420.7L115.8 420.8L116.4 421L117 421.2L117.5 421.4L118.1 421.6L113.1 425.1L112.5 424.9L111.9 424.7L111.3 424.5L110.7 424.3L110.2 424.1L109.6 423.9L109 423.7L108.4 423.5L107.8 423.3L107.3 423.1L106.7 422.9L106.1 422.7" fill="#f09"/>
<path d="M111.2 419.3L117.6 421.5M111.2 419.3L106.5 422.5" class="m"/>
<path d="M117.6 421.5L118.2 421.7L118.8 421.9L119.4 422.1L120 422.3L120.5 422.5L121.1 422.7L121.7 422.9L122.3 423.1L122.9 423.3L123.5 423.5L124.1 423.7L124.7 423.9L119.6 427.4L119 427.2L118.5 427L117.9 426.8L117.3 426.6L116.7 426.4L116.1 426.2L115.5 426L114.9 425.8L114.3 425.6L113.7 425.4L113.1 425.2L112.6 425" fill="#f00"/>
<path d="M117.6 421.5L124.1 423.7M117.6 421.5L112.9 424.7" class="m"/>
<path d="M124.1 423.7L124.7 423.9L125.3 424.1L125.9 424.3L126.5 424.5L127.1 424.7L127.7 424.9L128.3 425.1L128.9 425.3L129.5 425.5L130.1 425.7L130.7 425.9L131.3 426.1L126.3 429.7L125.7 429.5L125.1 429.3L124.5 429.1L123.9 428.9L123.3 428.7L122.7 428.5L122.1 428.3L121.5 428.1L120.9 427.9L120.3 427.7L119.7 427.5L119.1 427.2" fill="#f09"/>
<path d="M124.1 423.7L130.8 425.9M124.1 423.7L119.5 427" class="m"/>
<path d="M130.8 425.9L131.4 426.1L132 426.3L132.6 426.5L133.2 426.7L133.8 426.9L134.4 427.1L135 427.2L135.6 427.4L136.2 427.6L136.9 427.8L137.5 428L138.1 428.1L133.2 431.9L132.6 431.7L131.9 431.5L131.3 431.3L130.7 431.1L130.1 430.9L129.5 430.7L128.9 430.6L128.3 430.4L127.6 430.2L127 430L126.4 429.8L125.8 429.5" fill="#f00"/>
<path d="M130.8 425.9L131.3 426.1L131.9 426.3L132.5 426.4L133 426.6L133.6 426.8L134.2 427L134.7 427.1L135.3 427.3L135.8 427.5L136.4 427.7L137 427.8L137.5 428M130.8 425.9L126.2 429.3" class="m"/>
<path d="M137.5 428L138.7 428.3L133.7 432L132.6 431.7" fill="#f0a"/>
<path d="M138.1 428.1L138.8 428.3L139.4 428.5L140.1 428.6L140.8 428.8L141.4 428.9L142.1 429L137.2 432.9L136.5 432.7L135.9 432.6L135.2 432.4L134.5 432.3L133.9 432.1L133.2 431.9" fill="#e0a"/>
<path d="M141.6 428.9L142.7 429L137.8 432.9L136.7 432.8" fill="#d0a"/>
<path d="M142.1 429L142.9 429L143.7 429.1L144.4 429L139.5 433L138.8 433L138 433L137.3 432.9" fill="#d0b"/>
<path d="M143.9 429L145 428.8L140.1 433L139 433" fill="#c0b"/>
<path d="M137.5 428L138.1 428.1L138.7 428.3L139.3 428.4L139.8 428.6L140.4 428.7L141 428.8L141.6 428.9L142.1 429L142.7 429L143.3 429.1L143.9 429L144.5 429M137.5 428L133 431.4" class="m"/>
<path d="M144.5 429L145.3 428.7L146.2 428.4L141.3 432.7L140.4 432.9L139.6 433" fill="#b00"/>
<path d="M145.6 428.6L146.5 428.2L147.4 427.6L142.5 432.1L141.6 432.5L140.8 432.8" fill="#a00"/>
<path d="M146.8 428L147.5 427.5L148.1 426.6L148.8 425.5L149.5 424.2L150.2 422.7L150.8 420.9L151.5 418.8L152.2 416.6L147.3 422.8L146.7 424.8L146 426.6L145.3 428.2L144.6 429.5L143.9 430.6L143.3 431.5L142.6 432L141.9 432.4" fill="#900"/>
<path d="M144.5 429L145 428.8L145.6 428.6L146.2 428.4L146.8 428L147.4 427.5L148 426.8L148.6 425.9L149.2 424.8L149.8 423.5L150.4 422L151 420.4L151.7 418.5M144.5 429L139.9 432.7" class="m"/>
<path d="M151.7 418.5L152.3 416.3L153 414.2L153.7 412L154.4 409.2L155.1 406.4L155.8 403.6L156.6 400.7L157.3 397.8L158 395.6L158.7 394.1L159.4 393.3L160.1 392.9L155.2 396.9L154.5 397.8L153.7 399.4L153 401.6L152.3 404.5L151.6 407.5L150.9 410.3L150.2 413.2L149.5 415.9L148.8 418.2L148.1 420.3L147.4 422.5L146.8 424.5" fill="#90d"/>
<path d="M151.7 418.5L152.3 416.5L152.9 414.5L153.6 412.5L154.2 410.1L154.9 407.4L155.5 404.8L156.2 402.2L156.9 399.4L157.5 397L158.2 395.1L158.9 393.9L159.5 393.2M151.7 418.5L147.1 424.1" class="m"/>
<path d="M159.5 393.2L160.7 393.3L155.8 396.6L154.5 397.7" fill="#b00"/>
<path d="M160.2 392.9L161.4 394.1L156.4 396.9L155.2 396.9" fill="#f00"/>
<path d="M160.8 393.4L162 395.4L157.1 397.7L155.8 396.6" fill="#e00"/>
<path d="M161.4 394.2L162.3 396.6L163.1 400.6L158.3 401.2L157.4 398.2L156.5 396.9" fill="#d00"/>
<path d="M162.6 397.9L163.3 401.5L163.9 405.7L164.5 410.3L165.2 414.2L165.9 416.1L161.1 418.3L160.5 414.4L159.8 409.8L159.1 405.5L158.4 401.8L157.7 399" fill="#c00"/>
<path d="M165.3 414.8L166.5 415.8L161.7 420L160.6 415.3" fill="#d00"/>
<path d="M165.9 416.2L167.2 414.1L162.4 419.9L161.2 418.5" fill="#900"/>
<path d="M159.5 393.2L160.2 392.9L160.8 393.4L161.4 394.2L162 395.6L162.6 397.9L163.2 400.9L163.7 404.3L164.2 408.2L164.8 411.9L165.3 414.8L165.9 416.2L166.6 415.8M159.5 393.2L154.9 397.3" class="m"/>
<path d="M166.6 415.8L167.4 413.4L168.2 409.6L169.1 404.8L170 399.9L170.9 396.5L171.7 396.4L166.8 400.3L166 403.5L165.1 408.5L164.2 413.3L163.3 417.3L162.5 419.7L161.8 420" fill="#90d"/>
<path d="M171 396.3L172.3 398.2L167.5 400.1L166.1 402.6" fill="#f0a"/>
<path d="M171.7 396.5L172.8 401.3L168.1 401.7L166.9 400.2" fill="#d0f"/>
<path d="M172.3 398.4L173 402.4L173.6 407.1L174.2 412.3L174.8 417.6L170.3 416.7L169.6 411.5L169 406.6L168.3 402.5L167.5 400.1" fill="#c0f"/>
<path d="M166.6 415.8L167.3 413.9L168 410.7L168.8 406.9L169.5 402.4L170.3 398.3L171 396.3L171.7 396.5L172.3 398.4L172.8 401.5L173.4 405.3L173.9 409.3L174.4 413.5M166.6 415.8L162.1 419.8" class="m"/>
<path d="M174.4 413.5L175 418.9L175.6 423.7L176.2 427.5L176.9 430.5L172.4 432L171.7 428.2L171.1 423.4L170.4 418L169.8 412.7" fill="#c00"/>
<path d="M176.4 428.3L177.1 431.1L177.7 433.4L178.4 435.4L179.1 437L179.8 438.4L175.3 441.4L174.6 439.8L173.9 437.8L173.2 435.4L172.5 432.7L171.9 429.2" fill="#d00"/>
<path d="M179.3 437.3L180.1 438.7L180.9 439.7L181.7 440.6L177.2 444.3L176.3 443.2L175.5 441.9L174.7 440.2" fill="#e00"/>
<path d="M174.4 413.5L174.9 417.9L175.4 422L175.9 425.4L176.4 428.3L177 430.7L177.5 432.7L178.1 434.5L178.7 436L179.3 437.3L179.9 438.4L180.5 439.3L181.1 440M174.4 413.5L170.1 412.8" class="m"/>
<path d="M181.1 440L182 440.9L182.9 441.8L178.4 445.5L177.5 444.6L176.6 443.5" fill="#f0e"/>
<path d="M182.3 441.3L183.3 442L184.2 442.7L179.7 446.6L178.8 445.9L177.8 445" fill="#f0d"/>
<path d="M183.6 442.3L184.4 442.9L185.3 443.4L186.1 443.9L181.6 448L180.8 447.4L179.9 446.8L179.1 446.1" fill="#f0c"/>
<path d="M185.5 443.6L186.3 444L187.1 444.5L187.9 444.9L188.7 445.2L184.2 449.4L183.4 449L182.6 448.5L181.8 448.1L181 447.6" fill="#f0b"/>
<path d="M188.1 444.9L189.3 445.5L184.9 449.7L183.6 449.1" fill="#f0a"/>
<path d="M181.1 440L181.7 440.7L182.3 441.3L183 441.8L183.6 442.3L184.2 442.8L184.9 443.2L185.5 443.6L186.2 444L186.8 444.3L187.4 444.6L188.1 444.9L188.7 445.2M181.1 440L176.9 443.3" class="m"/>
<path d="M188.7 445.2L189.4 445.6L190.1 445.9L190.8 446.1L191.5 446.4L192.2 446.7L193 447L193.7 447.2L194.4 447.5L195.1 447.7L195.8 448L196.5 448.3L197.2 448.5L192.9 452.8L192.1 452.6L191.4 452.3L190.7 452L190 451.8L189.3 451.5L188.5 451.2L187.8 450.9L187.1 450.7L186.4 450.4L185.7 450L185 449.7L184.3 449.4" fill="#f00"/>
<path d="M188.7 445.2L189.4 445.5L190 445.8L190.7 446.1L191.3 446.3L192 446.6L192.6 446.8L193.3 447.1L194 447.3L194.6 447.6L195.3 447.8L195.9 448.1L196.6 448.3M188.7 445.2L184.6 449.1" class="m"/>
<path d="M196.6 448.3L197.3 448.5L197.9 448.8L198.6 449L199.3 449.2L200 449.5L200.6 449.7L201.3 449.9L202 450.1L202.6 450.4L203.3 450.6L204 450.8L204.7 451.1L200.4 455.5L199.7 455.3L199 455L198.3 454.8L197.6 454.5L197 454.3L196.3 454.1L195.6 453.8L194.9 453.6L194.3 453.3L193.6 453.1L192.9 452.8L192.2 452.6" fill="#f09"/>
<path d="M196.6 448.3L204.7 451.1M196.6 448.3L192.6 452.3M204.7 451.1L200.7 455.2" class="m"/>
<path d="M106.5 422.5L107.1 422.7L107.6 422.9L108.2 423.1L108.8 423.3L109.4 423.5L109.9 423.7L110.5 423.9L111.1 424.1L111.7 424.3L112.3 424.5L112.9 424.7L113.4 424.9L108.2 428.5L107.7 428.3L107.1 428.1L106.5 427.9L105.9 427.7L105.3 427.4L104.7 427.2L104.1 427L103.6 426.8L103 426.6L102.4 426.4L101.8 426.2L101.2 426" fill="#0d0"/>
<path d="M106.5 422.5L112.9 424.7M106.5 422.5L101.6 425.7" class="m"/>
<path d="M112.9 424.7L113.5 424.9L114.1 425.1L114.7 425.3L115.3 425.5L115.9 425.7L116.5 425.9L117 426.1L117.6 426.3L118.2 426.5L118.8 426.8L119.4 427L120 427.2L114.9 430.8L114.3 430.6L113.7 430.4L113.1 430.2L112.5 430L111.9 429.8L111.3 429.6L110.7 429.4L110.1 429.1L109.5 428.9L108.9 428.7L108.3 428.5L107.7 428.3" fill="#f70"/>
<path d="M112.9 424.7L119.5 427M112.9 424.7L108.1 428" class="m"/>
<path d="M119.5 427L120.1 427.2L120.7 427.4L121.3 427.6L121.9 427.8L122.5 428L123.1 428.2L123.7 428.4L124.3 428.6L124.9 428.8L125.5 429.1L126.1 429.3L126.7 429.5L121.6 433.2L121 433L120.4 432.8L119.8 432.6L119.2 432.4L118.6 432.1L118 431.9L117.4 431.7L116.7 431.5L116.1 431.3L115.5 431.1L114.9 430.9L114.3 430.7" fill="#0d0"/>
<path d="M119.5 427L126.2 429.3M119.5 427L114.7 430.4" class="m"/>
<path d="M126.2 429.3L126.8 429.5L127.4 429.7L128 429.9L128.6 430.1L129.2 430.3L129.8 430.5L130.5 430.7L131.1 430.9L131.7 431L132.3 431.2L132.9 431.4L133.5 431.6L128.5 435.4L127.9 435.3L127.2 435.1L126.6 434.9L126 434.7L125.4 434.5L124.8 434.3L124.1 434.1L123.5 433.9L122.9 433.7L122.3 433.4L121.7 433.2L121.1 433" fill="#f70"/>
<path d="M126.2 429.3L133 431.4M126.2 429.3L121.5 432.7" class="m"/>
<path d="M133 431.4L133.7 431.6L134.4 431.8L135 432L135.7 432.2L136.4 432.4L131.4 436.3L130.7 436.1L130 435.9L129.3 435.7L128.6 435.5L127.9 435.3" fill="#0d0"/>
<path d="M135.9 432.2L136.5 432.4L137.2 432.5L137.8 432.6L138.5 432.7L139.2 432.7L139.8 432.7L140.5 432.7L135.5 436.8L134.8 436.8L134.2 436.8L133.5 436.7L132.8 436.6L132.2 436.4L131.5 436.3L130.8 436.1" fill="#0c0"/>
<path d="M133 431.4L133.6 431.6L134.1 431.8L134.7 431.9L135.3 432.1L135.9 432.2L136.4 432.4L137 432.5L137.6 432.6L138.2 432.7L138.8 432.7L139.4 432.7L139.9 432.7M133 431.4L128.3 435" class="m"/>
<path d="M139.9 432.7L141.1 432.5L136.1 436.8L134.9 436.8" fill="#c60"/>
<path d="M140.5 432.7L141.4 432.4L142.3 432.1L137.3 436.5L136.4 436.7L135.5 436.8" fill="#b60"/>
<path d="M141.7 432.3L142.8 431.8L137.9 436.2L136.7 436.6" fill="#b50"/>
<path d="M142.3 432.1L143.4 431.3L138.5 435.9L137.3 436.4" fill="#a50"/>
<path d="M142.9 431.7L144 430.6L139.1 435.4L137.9 436.2" fill="#950"/>
<path d="M143.5 431.3L144.2 430.4L144.9 429.3L145.6 428L146.3 426.3L147 424.5L147.7 422.3L142.7 428.4L142 430.3L141.3 431.9L140.6 433.3L139.9 434.5L139.2 435.3L138.5 435.9" fill="#940"/>
<path d="M139.9 432.7L140.5 432.7L141.1 432.5L141.7 432.3L142.3 432.1L142.9 431.7L143.5 431.3L144.1 430.6L144.7 429.6L145.3 428.5L145.9 427.2L146.5 425.8L147.1 424.1M139.9 432.7L135.3 436.5" class="m"/>
<path d="M147.1 424.1L147.8 422L148.5 419.8L149.2 417.8L149.8 415.5L150.5 412.7L151.2 409.9L152 407L152.7 404L153.4 401.1L154.1 399L154.8 397.5L155.5 396.6L150.4 401.2L149.7 402.7L149 404.9L148.3 407.9L147.6 410.9L146.9 413.8L146.2 416.6L145.5 419.4L144.8 421.8L144.1 423.9L143.4 426.1L142.8 428.1L142.1 430" fill="#090"/>
<path d="M147.1 424.1L147.7 422.2L148.4 420.2L149 418.2L149.6 416.2L150.3 413.7L150.9 411.1L151.6 408.5L152.3 405.8L152.9 403L153.6 400.5L154.3 398.6L154.9 397.3M147.1 424.1L142.5 429.5" class="m"/>
<path d="M154.9 397.3L156.2 396.3L151.1 400.4L149.8 402.5" fill="#940"/>
<path d="M155.6 396.6L156.8 396.7L151.7 400.1L150.5 401.2" fill="#b50"/>
<path d="M156.2 396.3L157.4 397.5L152.4 400.4L151.1 400.4" fill="#f70"/>
<path d="M156.8 396.7L158.1 398.8L153 401.2L151.8 400.1" fill="#e70"/>
<path d="M157.5 397.6L158.7 401.1L153.6 402.4L152.4 400.4" fill="#d70"/>
<path d="M158.1 398.9L159.2 404L154.3 404.7L153.1 401.2" fill="#d60"/>
<path d="M158.7 401.2L159.4 404.8L160.1 409.1L160.7 413.7L161.4 417.8L162.1 419.8L157.2 422.1L156.5 418.1L155.8 413.5L155.1 409.1L154.4 405.3L153.7 402.5" fill="#c60"/>
<path d="M161.5 418.4L162.7 419.6L157.8 423.8L156.7 419" fill="#d70"/>
<path d="M154.9 397.3L155.6 396.6L156.2 396.3L156.8 396.7L157.5 397.6L158.1 398.9L158.7 401.2L159.3 404.2L159.8 407.7L160.4 411.6L161 415.3L161.5 418.4L162.1 419.8M154.9 397.3L150.2 402.1" class="m"/>
<path d="M162.1 419.8L162.9 419.4L163.7 416.9L164.5 413L165.4 408.3L166.2 403.4L167.1 400L167.8 399.9L162.9 403.9L162 407.1L161.2 412.1L160.3 416.9L159.5 420.8L158.7 423.4L157.9 423.9L157.2 422.2" fill="#090"/>
<path d="M167.2 399.8L168.5 401.6L163.5 403.6L162.2 406.2" fill="#0c0"/>
<path d="M167.9 399.9L169 404.7L164.2 405.3L162.9 403.8" fill="#0f0"/>
<path d="M168.5 401.8L169.2 406.1L169.9 411.2L170.6 416.8L165.9 416.2L165.1 410.9L164.4 406.3L163.6 403.7" fill="#0e0"/>
<path d="M162.1 419.8L162.8 419.5L163.5 417.7L164.2 414.5L164.9 410.6L165.7 406.2L166.5 402L167.2 399.8L167.9 399.9L168.5 401.8L169.1 404.9L169.6 408.7L170.1 412.8M162.1 419.8L157.6 422.1" class="m"/>
<path d="M170.1 412.8L170.7 417.9L171.4 423.1L172 427.7L172.6 431.4L173.3 434.3L168.6 436L167.9 432.3L167.3 427.7L166.7 422.4L166 417.3L165.4 412.4" fill="#c60"/>
<path d="M172.8 432.1L173.5 435.2L174.3 437.7L175 439.9L170.4 442.5L169.6 440L168.8 437L168.1 433.1" fill="#d60"/>
<path d="M174.5 438.4L175.4 440.6L176.3 442.3L171.6 445.6L170.7 443.5L169.8 440.7" fill="#d70"/>
<path d="M175.7 441.3L176.6 442.8L177.5 444L172.8 447.6L171.9 446.2L171 444.3" fill="#e70"/>
<path d="M170.1 412.8L170.6 417L171.2 421.5L171.7 425.6L172.2 429.1L172.8 432.1L173.3 434.5L173.9 436.5L174.5 438.4L175.1 440L175.7 441.3L176.3 442.4L176.9 443.3M170.1 412.8L165.7 412.4" class="m"/>
<path d="M176.9 443.3L177.7 444.3L178.6 445.1L179.4 445.8L174.8 449.7L173.9 448.9L173.1 448L172.3 446.8" fill="#0f0"/>
<path d="M178.8 445.3L179.5 445.9L180.2 446.5L181 447L181.7 447.5L182.4 448L183.2 448.4L183.9 448.8L179.3 453L178.6 452.6L177.8 452.1L177.1 451.6L176.4 451.1L175.6 450.5L174.9 449.9L174.2 449.2" fill="#0e0"/>
<path d="M183.3 448.4L184.3 448.9L185.2 449.4L180.6 453.7L179.7 453.2L178.7 452.6" fill="#0d0"/>
<path d="M176.9 443.3L177.5 444L178.2 444.7L178.8 445.3L179.4 445.9L180.1 446.4L180.7 446.8L181.4 447.3L182 447.7L182.6 448.1L183.3 448.4L184 448.8L184.6 449.1M176.9 443.3L172.6 446.5" class="m"/>
<path d="M184.6 449.1L185.3 449.4L186 449.7L186.7 450.1L187.4 450.3L188.2 450.6L188.9 450.9L189.6 451.2L190.3 451.5L191 451.7L191.7 452L192.5 452.3L193.2 452.5L188.7 457L188 456.7L187.2 456.4L186.5 456.1L185.8 455.9L185 455.6L184.3 455.3L183.6 455L182.9 454.7L182.2 454.4L181.4 454L180.7 453.7L180 453.4" fill="#f70"/>
<path d="M184.6 449.1L185.3 449.4L185.9 449.7L186.6 450L187.2 450.3L187.9 450.5L188.6 450.8L189.2 451L189.9 451.3L190.6 451.6L191.2 451.8L191.9 452L192.6 452.3M184.6 449.1L180.4 453" class="m"/>
<path d="M192.6 452.3L193.2 452.5L193.9 452.8L194.6 453L195.3 453.3L195.9 453.5L196.6 453.7L197.3 454L198 454.2L198.6 454.5L199.3 454.7L200 454.9L200.7 455.2L196.3 459.7L195.6 459.5L194.9 459.2L194.2 459L193.5 458.7L192.8 458.5L192.1 458.2L191.5 458L190.8 457.7L190.1 457.5L189.4 457.2L188.7 457L188.1 456.7" fill="#0d0"/>
<path d="M192.6 452.3L200.7 455.2M192.6 452.3L188.4 456.4M200.7 455.2L196.6 459.4" class="m"/>
<path d="M101.6 425.7L102.2 426L102.8 426.2L103.4 426.4L103.9 426.6L104.5 426.8L105.1 427L105.7 427.2L106.3 427.4L106.9 427.6L107.4 427.8L108 428L108.6 428.2L103.3 431.9L102.7 431.7L102.1 431.5L101.5 431.3L100.9 431.1L100.3 430.9L99.7 430.6L99.2 430.4L98.6 430.2L98 430L97.4 429.8L96.8 429.6L96.2 429.4" fill="#f09"/>
<path d="M101.6 425.7L108.1 428M101.6 425.7L96.6 429.1" class="m"/>
<path d="M108.1 428L108.7 428.3L109.3 428.5L109.9 428.7L110.5 428.9L111.1 429.1L111.7 429.3L112.3 429.5L112.8 429.7L113.4 429.9L114 430.1L114.6 430.4L115.2 430.6L110 434.3L109.3 434.1L108.7 433.9L108.1 433.7L107.5 433.5L106.9 433.3L106.3 433L105.7 432.8L105.1 432.6L104.6 432.4L104 432.2L103.4 432L102.8 431.7" fill="#f00"/>
<path d="M108.1 428L114.7 430.4M108.1 428L103.2 431.5" class="m"/>
<path d="M114.7 430.4L115.3 430.6L115.9 430.8L116.5 431L117.1 431.2L117.7 431.4L118.3 431.7L118.9 431.9L119.5 432.1L120.2 432.3L120.8 432.5L121.4 432.7L122 432.9L116.7 436.8L116.1 436.6L115.5 436.3L114.9 436.1L114.3 435.9L113.7 435.7L113.1 435.5L112.5 435.2L111.8 435L111.2 434.8L110.6 434.6L110 434.4L109.4 434.2" fill="#f09"/>
<path d="M114.7 430.4L121.5 432.7M114.7 430.4L109.8 433.9" class="m"/>
<path d="M121.5 432.7L122.1 433L122.7 433.2L123.3 433.4L123.9 433.6L124.5 433.8L125.1 434L125.8 434.2L126.4 434.4L127 434.6L127.6 434.8L128.2 435L128.9 435.2L123.7 439.1L123 438.9L122.4 438.7L121.8 438.5L121.2 438.3L120.5 438.1L119.9 437.9L119.3 437.7L118.7 437.5L118.1 437.2L117.4 437L116.8 436.8L116.2 436.6" fill="#f00"/>
<path d="M121.5 432.7L128.3 435M121.5 432.7L116.6 436.3" class="m"/>
<path d="M128.3 435L129.1 435.2L129.8 435.5L130.6 435.7L125.4 439.6L124.6 439.4L123.9 439.2L123.1 438.9" fill="#f0a"/>
<path d="M130 435.5L130.7 435.7L131.4 435.9L132.1 436L132.7 436.2L133.4 436.3L134.1 436.4L128.9 440.5L128.3 440.4L127.6 440.2L126.9 440.1L126.2 439.9L125.5 439.7L124.9 439.5" fill="#e0a"/>
<path d="M133.5 436.4L134.7 436.5L129.5 440.6L128.4 440.4" fill="#d0a"/>
<path d="M134.1 436.4L135 436.5L135.9 436.5L130.7 440.7L129.9 440.7L129 440.5" fill="#d0b"/>
<path d="M128.3 435L128.9 435.2L129.5 435.3L130 435.5L130.6 435.7L131.2 435.8L131.8 436L132.4 436.1L133 436.3L133.5 436.4L134.1 436.4L134.7 436.5L135.3 436.5M128.3 435L123.5 438.6" class="m"/>
<path d="M135.3 436.5L136.4 436.5L131.3 440.7L130.2 440.7" fill="#d00"/>
<path d="M135.9 436.5L137 436.3L131.9 440.7L130.8 440.7" fill="#c00"/>
<path d="M136.5 436.5L137.3 436.3L138 436L138.8 435.6L133.7 440.1L132.9 440.4L132.1 440.6L131.4 440.7" fill="#b00"/>
<path d="M138.3 435.9L139.4 435.1L134.3 439.8L133.1 440.4" fill="#a00"/>
<path d="M138.9 435.5L139.6 435L140.2 434.1L140.9 432.9L141.6 431.5L142.3 429.9L143.1 428L137.9 433.9L137.2 435.6L136.5 437L135.8 438.2L135.1 439.1L134.4 439.7L133.7 440.1" fill="#900"/>
<path d="M135.3 436.5L135.9 436.5L136.5 436.5L137.1 436.3L137.7 436.1L138.3 435.9L138.9 435.5L139.5 435.1L140.1 434.4L140.7 433.4L141.3 432.3L141.9 431L142.5 429.5M135.3 436.5L130.5 440.4" class="m"/>
<path d="M142.5 429.5L143.1 427.7L143.8 425.6L144.5 423.4L145.2 421.3L145.9 418.9L146.5 416.2L147.2 413.3L147.9 410.4L148.7 407.4L149.4 404.5L150.1 402.3L150.8 400.9L145.6 406.2L144.8 408.3L144.1 411.3L143.4 414.3L142.7 417.2L142 420.1L141.4 422.9L140.7 425.4L140 427.5L139.3 429.7L138.7 431.8L138 433.7L137.3 435.3" fill="#90d"/>
<path d="M142.5 429.5L143.1 427.8L143.7 426L144.3 423.9L145 421.9L145.6 419.9L146.2 417.4L146.9 414.7L147.5 412.1L148.2 409.4L148.9 406.5L149.5 404L150.2 402.1M142.5 429.5L137.7 434.9" class="m"/>
<path d="M150.2 402.1L151.1 400.4L152.1 399.8L146.9 404L145.9 405.3L144.9 408" fill="#900"/>
<path d="M151.5 400.1L152.7 400.2L147.5 403.6L146.3 404.7" fill="#b00"/>
<path d="M152.1 399.8L153.4 401L148.2 404L146.9 404" fill="#f00"/>
<path d="M152.8 400.2L154 402.3L148.8 404.8L147.6 403.6" fill="#e00"/>
<path d="M153.4 401L154.3 403.4L155.2 407.5L150.1 408.4L149.2 405.4L148.2 404" fill="#d00"/>
<path d="M154.7 404.8L155.4 408.4L156.1 412.7L156.8 417.4L157.4 421.5L158.2 423.6L153.1 426.1L152.4 422L151.7 417.3L151 412.9L150.3 409.1L149.5 406.2" fill="#c00"/>
<path d="M150.2 402.1L150.8 400.8L151.5 400.1L152.1 399.8L152.8 400.2L153.4 401L154.1 402.4L154.7 404.8L155.3 407.7L155.9 411.3L156.4 415.2L157 419L157.6 422.1M150.2 402.1L145.3 407.5" class="m"/>
<path d="M157.6 422.1L158.8 423.4L153.8 427.7L152.6 423" fill="#d0f"/>
<path d="M158.2 423.6L159.5 421.7L154.4 427.6L153.2 426.2" fill="#a0c"/>
<path d="M158.9 423.3L159.7 421L160.5 417.1L161.4 412.3L162.3 407.2L163.1 403.7L163.9 403.4L158.8 407.5L157.9 410.8L157.1 415.9L156.2 420.9L155.4 424.9L154.6 427.4L153.8 427.8" fill="#90d"/>
<path d="M163.3 403.4L164.5 405.2L159.5 407.4L158.1 409.8" fill="#e0a"/>
<path d="M163.9 403.5L165.1 408.3L160.1 409.1L158.8 407.5" fill="#d0f"/>
<path d="M164.6 405.4L165.4 410.3L166.2 416.2L161.3 416.1L160.4 410.6L159.5 407.4" fill="#c0f"/>
<path d="M157.6 422.1L158.2 423.6L158.9 423.3L159.6 421.5L160.3 418.3L161 414.4L161.8 409.9L162.5 405.6L163.3 403.4L163.9 403.5L164.6 405.4L165.1 408.5L165.7 412.4M157.6 422.1L152.9 422.9" class="m"/>
<path d="M165.7 412.4L166.3 417.2L167 422.2L167.6 427.3L168.2 431.8L168.9 435.4L169.5 438.4L164.7 440.2L164 436.6L163.4 432.1L162.7 426.9L162.1 421.8L161.4 416.9L160.7 412.4" fill="#c00"/>
<path d="M169 436.1L169.7 438.9L170.4 441.3L171.1 443.4L171.8 445.1L172.6 446.5L167.8 449.9L167 448.2L166.3 446.1L165.6 443.7L164.9 440.9L164.2 437.3" fill="#d00"/>
<path d="M172 445.4L173.2 447.4L168.4 451L167.2 448.6" fill="#e00"/>
<path d="M165.7 412.4L166.3 416.5L166.8 420.8L167.3 425.3L167.9 429.5L168.4 433.1L169 436.1L169.6 438.5L170.2 440.6L170.8 442.5L171.4 444.1L172 445.4L172.6 446.5M165.7 412.4L161.1 412.4" class="m"/>
<path d="M172.6 446.5L173.5 447.8L174.5 448.8L169.7 452.8L168.7 451.5L167.8 449.9" fill="#e0f"/>
<path d="M173.9 448.2L174.8 449.2L175.7 450L171 454.1L170 453.1L169.1 452" fill="#f0e"/>
<path d="M175.1 449.5L176.1 450.3L177 451L172.3 455.2L171.3 454.4L170.4 453.5" fill="#f0d"/>
<path d="M176.4 450.6L177.3 451.2L178.1 451.8L179 452.3L174.3 456.6L173.4 456L172.5 455.4L171.7 454.7" fill="#f0c"/>
<path d="M178.4 451.9L179.2 452.4L180.1 452.9L181 453.3L176.3 457.8L175.4 457.3L174.5 456.8L173.6 456.2" fill="#f0b"/>
<path d="M172.6 446.5L173.2 447.4L173.9 448.2L174.5 448.9L175.1 449.5L175.8 450.1L176.4 450.6L177.1 451.1L177.7 451.5L178.4 451.9L179 452.3L179.7 452.7L180.4 453M172.6 446.5L168.2 449.7" class="m"/>
<path d="M180.4 453L181.1 453.4L181.8 453.7L182.5 454.1L183.2 454.4L183.9 454.7L184.7 455L185.4 455.3L186.1 455.5L186.8 455.8L187.6 456.1L188.3 456.4L189 456.6L184.4 461.2L183.6 461L182.9 460.7L182.2 460.4L181.4 460.1L180.7 459.8L180 459.5L179.2 459.2L178.5 458.8L177.8 458.5L177.1 458.2L176.3 457.8L175.6 457.4" fill="#f00"/>
<path d="M180.4 453L181 453.4L181.7 453.7L182.3 454L183 454.3L183.7 454.6L184.3 454.8L185 455.1L185.7 455.4L186.4 455.6L187 455.9L187.7 456.2L188.4 456.4M180.4 453L176 457.1" class="m"/>
<path d="M188.4 456.4L189.1 456.7L189.7 456.9L190.4 457.2L191.1 457.4L191.8 457.7L192.5 457.9L193.2 458.2L193.8 458.4L194.5 458.6L195.2 458.9L195.9 459.1L196.6 459.4L192 464.1L191.3 463.8L190.6 463.6L189.9 463.3L189.3 463.1L188.6 462.8L187.9 462.5L187.2 462.3L186.5 462L185.8 461.8L185.1 461.5L184.4 461.3L183.7 461" fill="#f0a"/>
<path d="M188.4 456.4L196.6 459.4M188.4 456.4L184.1 460.7M196.6 459.4L192.4 463.7" class="m"/>
<path d="M96.6 429.1L97.2 429.3L97.8 429.5L98.4 429.7L99 430L99.6 430.2L100.1 430.4L100.7 430.6L101.3 430.8L101.9 431L102.5 431.2L103.1 431.4L103.7 431.7L98.2 435.5L97.6 435.2L97 435L96.4 434.8L95.8 434.6L95.2 434.4L94.6 434.1L94 433.9L93.5 433.7L92.9 433.5L92.3 433.3L91.7 433.1L91.1 432.8" fill="#0d0"/>
<path d="M96.6 429.1L103.2 431.5M96.6 429.1L91.5 432.6" class="m"/>
<path d="M103.2 431.5L103.8 431.7L104.3 431.9L104.9 432.1L105.5 432.3L106.1 432.5L106.7 432.8L107.3 433L107.9 433.2L108.5 433.4L109.1 433.6L109.7 433.8L110.3 434.1L104.9 437.9L104.3 437.7L103.7 437.5L103.1 437.3L102.5 437L101.9 436.8L101.3 436.6L100.7 436.4L100.1 436.2L99.5 435.9L98.9 435.7L98.3 435.5L97.7 435.3" fill="#f70"/>
<path d="M103.2 431.5L109.8 433.9M103.2 431.5L98.1 435" class="m"/>
<path d="M109.8 433.9L110.4 434.1L111 434.3L111.6 434.5L112.2 434.8L112.8 435L113.5 435.2L114.1 435.4L114.7 435.6L115.3 435.8L115.9 436.1L116.5 436.3L117.1 436.5L111.7 440.5L111.1 440.2L110.5 440L109.9 439.8L109.3 439.6L108.6 439.3L108 439.1L107.4 438.9L106.8 438.6L106.2 438.4L105.6 438.2L105 438L104.4 437.7" fill="#0d0"/>
<path d="M109.8 433.9L116.6 436.3M109.8 433.9L104.8 437.5" class="m"/>
<path d="M116.6 436.3L117.2 436.5L117.8 436.7L118.4 437L119.1 437.2L119.7 437.4L120.3 437.6L120.9 437.8L121.5 438L122.2 438.2L122.8 438.4L123.4 438.6L124 438.8L118.7 442.9L118.1 442.7L117.4 442.5L116.8 442.2L116.2 442L115.6 441.8L114.9 441.6L114.3 441.4L113.7 441.2L113.1 440.9L112.4 440.7L111.8 440.5L111.2 440.3" fill="#f70"/>
<path d="M116.6 436.3L123.5 438.6M116.6 436.3L111.6 440" class="m"/>
<path d="M123.5 438.6L124.2 438.9L124.8 439.1L125.5 439.3L126.1 439.5L126.8 439.6L127.5 439.8L128.1 440L122.8 444.1L122.2 443.9L121.5 443.7L120.8 443.5L120.2 443.3L119.5 443.1L118.8 442.9L118.2 442.7" fill="#0d0"/>
<path d="M127.6 439.8L128.3 440L129 440.2L129.7 440.3L130.4 440.4L131.1 440.4L125.8 444.7L125.1 444.6L124.4 444.5L123.7 444.3L123 444.2L122.3 444" fill="#0c0"/>
<path d="M123.5 438.6L124.1 438.8L124.7 439L125.2 439.2L125.8 439.4L126.4 439.5L127 439.7L127.6 439.8L128.2 440L128.8 440.1L129.4 440.2L130 440.3L130.5 440.4M123.5 438.6L118.6 442.4" class="m"/>
<path d="M130.5 440.4L131.4 440.4L132.3 440.4L127 444.7L126.1 444.7L125.3 444.6" fill="#d60"/>
<path d="M131.7 440.4L132.9 440.2L127.6 444.7L126.4 444.7" fill="#c60"/>
<path d="M132.3 440.4L133.2 440.1L134.1 439.8L128.8 444.4L127.9 444.6L127 444.7" fill="#b60"/>
<path d="M133.5 440L134.4 439.6L135.3 439L130 443.8L129.1 444.3L128.2 444.6" fill="#a50"/>
<path d="M134.7 439.4L135.9 438.3L130.6 443.3L129.4 444.1" fill="#950"/>
<path d="M135.3 439L136.1 438L136.8 436.8L137.5 435.3L138.3 433.5L133 439.3L132.3 440.9L131.5 442.2L130.8 443.2L130 443.8" fill="#940"/>
<path d="M130.5 440.4L131.1 440.4L131.7 440.4L132.3 440.4L132.9 440.2L133.5 440L134.1 439.8L134.7 439.4L135.3 439L135.9 438.2L136.5 437.3L137.1 436.2L137.7 434.9M130.5 440.4L125.6 444.3" class="m"/>
<path d="M137.7 434.9L138.4 433.2L139 431.4L139.7 429.3L140.4 427L141.1 424.9L141.7 422.5L142.4 419.6L143.1 416.7L143.8 413.8L144.5 410.7L145.2 407.8L145.9 405.7L140.5 411.7L139.8 414.6L139.1 417.7L138.5 420.7L137.8 423.6L137.1 426.5L136.4 429L135.7 431.1L135.1 433.4L134.4 435.5L133.8 437.4L133.1 439.1L132.5 440.5" fill="#090"/>
<path d="M137.7 434.9L138.3 433.4L138.9 431.6L139.6 429.7L140.2 427.7L140.8 425.7L141.4 423.6L142.1 421.1L142.7 418.4L143.4 415.7L144 413L144.7 410.1L145.3 407.5M137.7 434.9L132.8 440.1" class="m"/>
<path d="M145.3 407.5L146.2 405.2L147 403.9L147.9 403.4L142.5 407.7L141.7 408.8L140.8 411L139.9 414.2" fill="#940"/>
<path d="M147.3 403.6L148.6 403.8L143.2 407.3L141.9 408.4" fill="#b50"/>
<path d="M148 403.4L149.2 404.6L143.8 407.7L142.6 407.6" fill="#f70"/>
<path d="M148.6 403.8L149.8 405.9L144.5 408.6L143.2 407.3" fill="#e70"/>
<path d="M149.2 404.7L150.5 408.3L145.1 409.9L143.9 407.8" fill="#d70"/>
<path d="M149.9 406.1L151.1 411.3L145.8 412.4L144.5 408.7" fill="#d60"/>
<path d="M150.5 408.5L151.3 412.3L152 417L152.8 421.8L153.5 425.9L148.3 426.9L147.5 422.1L146.8 417.3L146 413.2L145.2 410.1" fill="#c60"/>
<path d="M145.3 407.5L146 405.6L146.6 404.4L147.3 403.6L148 403.4L148.6 403.8L149.2 404.7L149.9 406.1L150.5 408.5L151.1 411.5L151.7 415.1L152.3 419.1L152.9 422.9M145.3 407.5L140.3 413.7" class="m"/>
<path d="M152.9 422.9L154.1 427.5L148.9 430.2L147.7 423.3" fill="#0e0"/>
<path d="M153.5 426L154.8 427.2L149.6 431.8L148.4 427.2" fill="#0f0"/>
<path d="M154.2 427.5L155.5 425.5L150.2 431.6L149 430.3" fill="#0a0"/>
<path d="M154.8 427.2L155.6 424.8L156.5 420.9L157.3 416L158.2 410.9L159 407.3L159.8 407.2L154.5 411.3L153.7 414.4L152.9 419.5L152 424.6L151.2 428.7L150.4 431.4L149.6 431.9" fill="#090"/>
<path d="M159.2 407.1L160.5 409L155.2 411.3L153.9 413.4" fill="#0d0"/>
<path d="M159.9 407.2L161.1 412.1L155.9 413.1L154.6 411.2" fill="#0f0"/>
<path d="M160.5 409.2L161.7 416.1L156.5 416.3L155.3 411.3" fill="#0e0"/>
<path d="M152.9 422.9L153.5 426L154.2 427.5L154.8 427.2L155.5 425.3L156.2 422.1L157 418.1L157.7 413.5L158.5 409.2L159.2 407.1L159.9 407.2L160.5 409.2L161.1 412.4M152.9 422.9L148.1 423.3" class="m"/>
<path d="M161.1 412.4L161.8 416.8L162.4 421.6L163.1 426.7L163.7 431.7L164.3 436.1L165 439.7L165.7 442.6L160.7 444.6L160 441.1L159.3 436.7L158.7 431.6L158 426.5L157.3 421.6L156.6 417L155.9 413.3" fill="#c60"/>
<path d="M165.1 440.2L165.9 443.4L166.7 446L167.5 448.2L162.5 451.2L161.7 448.7L160.9 445.6L160.1 441.8" fill="#d60"/>
<path d="M166.9 446.7L167.8 449L168.7 450.8L163.8 454.3L162.9 452.2L162 449.4" fill="#d70"/>
<path d="M161.1 412.4L161.7 416.3L162.3 420.5L162.8 424.8L163.4 429.4L163.9 433.6L164.5 437.2L165.1 440.2L165.7 442.7L166.3 444.8L166.9 446.7L167.5 448.3L168.2 449.7M161.1 412.4L156.3 413.2" class="m"/>
<path d="M168.2 449.7L168.9 451L169.7 452L170.4 452.9L171.2 453.7L172 454.4L167.1 458.6L166.3 457.8L165.5 457L164.7 455.9L164 454.6L163.2 453" fill="#0f0"/>
<path d="M171.4 453.8L172.1 454.5L172.8 455.1L173.6 455.6L174.3 456.1L175.1 456.6L175.8 457L176.6 457.4L171.7 462L171 461.5L170.2 461L169.5 460.5L168.7 460L167.9 459.4L167.2 458.7L166.4 458" fill="#0e0"/>
<path d="M168.2 449.7L168.8 450.8L169.4 451.7L170.1 452.5L170.7 453.2L171.4 453.8L172 454.4L172.7 454.9L173.3 455.4L174 455.9L174.6 456.3L175.3 456.7L176 457.1M168.2 449.7L163.6 452.8" class="m"/>
<path d="M176 457.1L176.7 457.5L177.4 457.8L178.1 458.2L178.9 458.5L179.6 458.8L180.3 459.2L181 459.5L181.8 459.8L182.5 460L183.2 460.3L184 460.6L184.7 460.9L179.9 465.6L179.2 465.3L178.4 465L177.7 464.7L177 464.4L176.2 464.1L175.5 463.8L174.8 463.5L174 463.1L173.3 462.8L172.6 462.4L171.8 462L171.1 461.6" fill="#f70"/>
<path d="M176 457.1L176.6 457.5L177.3 457.8L178 458.1L178.7 458.4L179.3 458.7L180 459L180.7 459.3L181.4 459.6L182 459.9L182.7 460.1L183.4 460.4L184.1 460.7M176 457.1L171.5 461.3" class="m"/>
<path d="M184.1 460.7L184.8 460.9L185.4 461.2L186.1 461.4L186.8 461.7L187.5 461.9L188.2 462.2L188.9 462.5L189.6 462.7L190.3 463L191 463.2L191.7 463.5L192.4 463.7L187.7 468.6L187 468.3L186.3 468L185.6 467.8L184.9 467.5L184.2 467.3L183.5 467L182.8 466.7L182.1 466.5L181.4 466.2L180.7 465.9L180 465.6L179.3 465.4" fill="#0d0"/>
<path d="M184.1 460.7L192.4 463.7M184.1 460.7L179.6 465M192.4 463.7L188 468.2" class="m"/>
<path d="M91.5 432.6L92.1 432.8L92.7 433L93.3 433.2L93.9 433.4L94.4 433.6L95 433.9L95.6 434.1L96.2 434.3L96.8 434.5L97.4 434.7L98 435L98.6 435.2L93 439.1L92.4 438.9L91.8 438.6L91.2 438.4L90.6 438.2L90 438L89.4 437.7L88.8 437.5L88.2 437.3L87.6 437.1L87 436.8L86.4 436.6L85.8 436.4" fill="#f09"/>
<path d="M91.5 432.6L98.1 435M91.5 432.6L86.2 436.1" class="m"/>
<path d="M98.1 435L98.7 435.2L99.3 435.4L99.9 435.7L100.5 435.9L101.1 436.1L101.7 436.3L102.3 436.5L102.9 436.8L103.5 437L104.1 437.2L104.7 437.4L105.3 437.7L99.7 441.6L99.1 441.4L98.5 441.2L97.9 441L97.3 440.7L96.7 440.5L96.1 440.3L95.4 440L94.8 439.8L94.2 439.6L93.6 439.4L93 439.1L92.4 438.9" fill="#f00"/>
<path d="M98.1 435L104.8 437.5M98.1 435L92.8 438.6" class="m"/>
<path d="M104.8 437.5L105.4 437.7L106 437.9L106.6 438.1L107.2 438.4L107.8 438.6L108.4 438.8L109 439L109.7 439.3L110.3 439.5L110.9 439.7L111.5 439.9L112.1 440.2L106.6 444.2L106 444L105.3 443.8L104.7 443.5L104.1 443.3L103.5 443.1L102.9 442.8L102.2 442.6L101.6 442.4L101 442.1L100.4 441.9L99.8 441.7L99.2 441.4" fill="#f09"/>
<path d="M104.8 437.5L111.6 440M104.8 437.5L99.6 441.2" class="m"/>
<path d="M111.6 440L112.2 440.2L112.8 440.4L113.5 440.6L114.1 440.9L114.7 441.1L115.3 441.3L116 441.5L116.6 441.7L117.2 442L117.8 442.2L118.5 442.4L119.1 442.6L113.6 446.7L113 446.5L112.3 446.3L111.7 446.1L111.1 445.9L110.4 445.6L109.8 445.4L109.2 445.2L108.6 445L107.9 444.7L107.3 444.5L106.7 444.3L106 444" fill="#f00"/>
<path d="M111.6 440L118.6 442.4M111.6 440L106.5 443.7" class="m"/>
<path d="M118.6 442.4L119.2 442.6L119.9 442.8L120.6 443.1L121.3 443.3L122 443.5L116.6 447.7L115.9 447.5L115.2 447.3L114.5 447L113.8 446.8L113.1 446.6" fill="#f0a"/>
<path d="M121.5 443.3L122.2 443.5L122.9 443.7L123.5 443.9L124.2 444.1L124.9 444.2L125.6 444.3L120.2 448.7L119.5 448.5L118.8 448.3L118.1 448.2L117.4 448L116.7 447.8L116 447.5" fill="#e0a"/>
<path d="M125 444.2L126.2 444.4L120.8 448.8L119.6 448.6" fill="#d0a"/>
<path d="M118.6 442.4L119.1 442.6L119.7 442.8L120.3 443L120.9 443.2L121.5 443.3L122.1 443.5L122.7 443.7L123.3 443.8L123.9 444L124.5 444.1L125 444.2L125.6 444.3M118.6 442.4L113.5 446.3" class="m"/>
<path d="M125.6 444.3L126.4 444.4L127.2 444.4L128 444.4L122.6 448.9L121.8 448.9L121 448.8L120.2 448.7" fill="#d00"/>
<path d="M127.4 444.4L128.6 444.2L123.2 448.8L122 448.9" fill="#c00"/>
<path d="M128 444.4L128.9 444.1L129.8 443.8L124.4 448.5L123.5 448.8L122.6 448.9" fill="#b00"/>
<path d="M129.2 444L130.1 443.6L131 443L125.6 447.9L124.7 448.4L123.8 448.7" fill="#a00"/>
<path d="M130.4 443.4L131.2 442.8L131.9 441.8L132.7 440.5L133.4 438.9L128 444.6L127.3 446L126.5 447.1L125.8 447.8L125 448.2" fill="#900"/>
<path d="M125.6 444.3L126.2 444.4L126.8 444.4L127.4 444.4L128 444.4L128.6 444.2L129.2 444L129.8 443.8L130.4 443.4L131 442.9L131.6 442.2L132.2 441.2L132.8 440.1M125.6 444.3L120.6 448.4" class="m"/>
<path d="M132.8 440.1L133.5 438.7L134.2 437L134.8 435.1L135.5 432.9L136.1 430.6L136.8 428.5L137.5 426L138.2 423.1L138.8 420.2L139.5 417.2L140.2 414.1L140.9 411.3L135.4 418L134.7 421.1L134 424.1L133.4 427.1L132.7 430L132 432.6L131.4 434.8L130.7 437.1L130 439.3L129.4 441.2L128.7 442.9L128.1 444.4L127.4 445.7" fill="#90d"/>
<path d="M132.8 440.1L133.5 438.8L134.1 437.3L134.7 435.5L135.3 433.6L135.9 431.5L136.5 429.5L137.1 427.3L137.8 424.8L138.4 422.1L139 419.4L139.7 416.6L140.3 413.7M132.8 440.1L127.8 445.3" class="m"/>
<path d="M140.3 413.7L141.1 410.7L141.9 408.6L142.8 407.5L143.6 407.1L138 411.4L137.2 412.4L136.4 414.3L135.6 417.1L134.8 420.7" fill="#900"/>
<path d="M143 407.3L144.2 407.5L138.7 411.2L137.4 412.1" fill="#b00"/>
<path d="M143.6 407.1L144.9 408.4L139.4 411.6L138.1 411.4" fill="#f00"/>
<path d="M144.3 407.5L145.5 409.8L140 412.5L138.7 411.2" fill="#e00"/>
<path d="M144.9 408.4L145.9 411L146.8 415.3L141.4 416.5L140.4 413.2L139.4 411.7" fill="#d00"/>
<path d="M146.2 412.4L147.1 416.7L147.9 421.7L148.7 426.9L143.3 427.5L142.5 422.2L141.6 417.6L140.7 414.1" fill="#c00"/>
<path d="M140.3 413.7L141 411.1L141.6 409.2L142.3 408L143 407.3L143.6 407.1L144.3 407.5L144.9 408.4L145.6 409.9L146.2 412.4L146.9 415.5L147.5 419.2L148.1 423.3M140.3 413.7L135.2 420.2" class="m"/>
<path d="M148.1 423.3L149 428.8L150 431.6L144.6 434.5L143.7 429.6L142.7 423.6" fill="#c0f"/>
<path d="M149.4 430.2L150.6 431.2L145.3 436L144 431.6" fill="#d0f"/>
<path d="M150 431.6L150.8 431L151.5 428.3L152.4 424.2L153.2 419.3L154 414.3L154.8 411L155.6 411L150.2 415.1L149.4 417.8L148.5 422.9L147.7 428L146.9 432.3L146.2 435.3L145.4 436.1L144.7 434.7" fill="#90d"/>
<path d="M155 410.8L156.3 413L150.9 415.3L149.5 417" fill="#f0a"/>
<path d="M155.7 411.1L156.9 416.2L151.5 417.3L150.2 415.1" fill="#d0f"/>
<path d="M148.1 423.3L148.7 427.1L149.4 430.2L150 431.6L150.7 431.1L151.4 429.1L152.1 425.8L152.8 421.8L153.5 417.1L154.3 412.8L155 410.8L155.7 411.1L156.3 413.2M148.1 423.3L143.1 423.6" class="m"/>
<path d="M156.3 413.2L157 416.9L157.7 421.4L158.3 426.3L159 431.3L159.6 436.3L160.3 440.7L161 444.2L161.7 447L156.5 449.3L155.8 445.8L155.1 441.5L154.5 436.5L153.8 431.4L153.1 426.5L152.4 421.8L151.7 417.9L150.9 415.4" fill="#c00"/>
<path d="M161.1 444.7L161.8 447.6L162.6 450.2L163.4 452.3L164.2 454.1L159.1 457.6L158.3 455.5L157.5 453L156.7 450.1L155.9 446.4" fill="#d00"/>
<path d="M156.3 413.2L156.9 416.5L157.5 420.5L158.1 424.7L158.7 429.2L159.3 433.8L159.9 438L160.5 441.7L161.1 444.7L161.7 447.1L162.3 449.2L162.9 451.2L163.6 452.8M156.3 413.2L151.3 415.2" class="m"/>
<path d="M163.6 452.8L164.8 455.2L159.7 459L158.5 456" fill="#d0f"/>
<path d="M164.2 454.1L165.1 455.6L165.9 456.7L166.8 457.6L161.7 461.9L160.8 460.8L160 459.4L159.1 457.7" fill="#e0f"/>
<path d="M166.2 457L167.1 458L168.1 458.9L163 463.3L162 462.3L161.1 461.1" fill="#f0e"/>
<path d="M167.5 458.3L168.4 459.2L169.4 459.9L164.4 464.4L163.4 463.6L162.4 462.6" fill="#f0d"/>
<path d="M168.8 459.5L169.7 460.1L170.5 460.7L171.4 461.2L166.4 465.8L165.5 465.2L164.6 464.6L163.7 463.9" fill="#f0c"/>
<path d="M170.8 460.8L172.1 461.6L167.1 466.3L165.8 465.4" fill="#f0b"/>
<path d="M163.6 452.8L164.2 454.1L164.8 455.3L165.5 456.2L166.2 457L166.8 457.7L167.5 458.3L168.1 458.9L168.8 459.5L169.5 459.9L170.1 460.4L170.8 460.8L171.5 461.3M163.6 452.8L158.8 455.8" class="m"/>
<path d="M171.5 461.3L172.2 461.7L172.9 462.1L173.6 462.4L174.4 462.8L175.1 463.1L175.8 463.5L176.6 463.8L177.3 464.1L178.1 464.4L178.8 464.7L179.5 465L180.3 465.3L175.4 470.2L174.6 469.9L173.9 469.5L173.1 469.2L172.4 468.9L171.6 468.6L170.9 468.2L170.1 467.9L169.4 467.5L168.6 467.1L167.9 466.8L167.2 466.3L166.4 465.9" fill="#f00"/>
<path d="M171.5 461.3L172.1 461.7L172.8 462L173.5 462.3L174.2 462.7L174.8 463L175.5 463.3L176.2 463.6L176.9 463.9L177.6 464.2L178.3 464.5L179 464.8L179.6 465M171.5 461.3L166.8 465.5" class="m"/>
<path d="M179.6 465L180.3 465.3L181 465.6L181.7 465.8L182.4 466.1L183.1 466.4L183.8 466.6L184.5 466.9L185.2 467.2L185.9 467.4L186.6 467.7L187.3 468L188 468.2L183.2 473.2L182.5 472.9L181.7 472.7L181 472.4L180.3 472.1L179.6 471.8L178.9 471.6L178.2 471.3L177.5 471L176.8 470.7L176.1 470.5L175.4 470.2L174.7 469.9" fill="#f0a"/>
<path d="M179.6 465L188 468.2M179.6 465L175.1 469.5M188 468.2L183.5 472.8" class="m"/>
<path d="M86.2 436.1L86.8 436.3L87.4 436.6L88 436.8L88.6 437L89.2 437.2L89.8 437.5L90.4 437.7L91 437.9L91.6 438.1L92.2 438.4L92.8 438.6L93.4 438.8L87.6 442.8L87 442.6L86.4 442.4L85.8 442.1L85.2 441.9L84.6 441.7L84 441.4L83.4 441.2L82.8 441L82.2 440.7L81.6 440.5L81 440.3L80.4 440.1" fill="#0d0"/>
<path d="M86.2 436.1L92.8 438.6M86.2 436.1L80.8 439.8" class="m"/>
<path d="M92.8 438.6L93.4 438.8L94 439.1L94.7 439.3L95.3 439.5L95.9 439.7L96.5 440L97.1 440.2L97.7 440.4L98.3 440.7L98.9 440.9L99.5 441.1L100.1 441.4L94.4 445.5L93.7 445.2L93.1 445L92.5 444.7L91.9 444.5L91.3 444.3L90.7 444L90.1 443.8L89.5 443.6L88.9 443.3L88.3 443.1L87.6 442.9L87 442.6" fill="#f70"/>
<path d="M92.8 438.6L99.6 441.2M92.8 438.6L87.5 442.3" class="m"/>
<path d="M99.6 441.2L100.2 441.4L100.8 441.6L101.4 441.8L102 442.1L102.7 442.3L103.3 442.5L103.9 442.8L104.5 443L105.1 443.2L105.8 443.5L106.4 443.7L107 443.9L101.3 448.1L100.7 447.9L100 447.6L99.4 447.4L98.8 447.2L98.2 446.9L97.5 446.7L96.9 446.4L96.3 446.2L95.7 446L95.1 445.7L94.4 445.5L93.8 445.2" fill="#0d0"/>
<path d="M99.6 441.2L106.5 443.7M99.6 441.2L94.2 444.9" class="m"/>
<path d="M106.5 443.7L107.1 444L107.7 444.2L108.3 444.4L109 444.7L109.6 444.9L110.2 445.1L110.8 445.3L111.5 445.6L112.1 445.8L112.7 446L113.4 446.2L114 446.4L108.4 450.7L107.7 450.5L107.1 450.3L106.4 450.1L105.8 449.8L105.2 449.6L104.5 449.3L103.9 449.1L103.3 448.9L102.6 448.6L102 448.4L101.4 448.2L100.7 447.9" fill="#f70"/>
<path d="M106.5 443.7L113.5 446.3M106.5 443.7L101.2 447.6" class="m"/>
<path d="M113.5 446.3L114.1 446.5L114.8 446.7L115.4 446.9L116.1 447.1L116.8 447.3L117.4 447.5L118.1 447.7L118.8 447.9L113.1 452.3L112.5 452.1L111.8 451.9L111.1 451.7L110.5 451.5L109.8 451.2L109.1 451L108.5 450.8L107.8 450.5" fill="#0d0"/>
<path d="M118.2 447.8L118.9 448L119.7 448.2L120.4 448.3L121.2 448.4L115.6 452.9L114.8 452.8L114.1 452.6L113.3 452.4L112.6 452.1" fill="#0c0"/>
<path d="M113.5 446.3L114.1 446.5L114.6 446.7L115.2 446.8L115.8 447L116.4 447.2L117 447.4L117.6 447.6L118.2 447.8L118.8 447.9L119.4 448.1L120 448.2L120.6 448.4M113.5 446.3L108.2 450.2" class="m"/>
<path d="M120.6 448.4L121.4 448.5L122.2 448.5L123 448.6L117.4 453.1L116.6 453.1L115.8 453L115 452.8" fill="#d60"/>
<path d="M122.4 448.6L123.3 448.5L124.2 448.4L118.6 453.1L117.7 453.1L116.8 453.1" fill="#c60"/>
<path d="M123.6 448.5L124.8 448.2L119.2 452.9L118 453.1" fill="#b60"/>
<path d="M124.2 448.3L125.4 447.9L119.8 452.8L118.6 453.1" fill="#b50"/>
<path d="M124.8 448.2L125.7 447.7L126.6 447.1L121 452.1L120.1 452.6L119.2 452.9" fill="#a50"/>
<path d="M126 447.5L127.2 446.3L121.6 451.6L120.5 452.5" fill="#950"/>
<path d="M126.6 447L127.5 445.8L128.4 444.2L122.8 449.9L122 451.3L121.1 452.1" fill="#940"/>
<path d="M120.6 448.4L121.2 448.4L121.8 448.5L122.4 448.6L123 448.6L123.6 448.5L124.2 448.3L124.8 448.2L125.4 447.9L126 447.5L126.6 447L127.2 446.3L127.8 445.3M120.6 448.4L115.4 452.5" class="m"/>
<path d="M127.8 445.3L128.5 444L129.1 442.5L129.8 440.8L130.4 438.8L131.1 436.6L131.8 434.3L132.4 432.2L133.1 429.5L133.8 426.6L134.4 423.6L135.1 420.6L135.8 417.4L130.1 424.6L129.5 427.6L128.8 430.6L128.1 433.6L127.5 436.3L126.8 438.5L126.2 440.8L125.5 443.1L124.9 445.1L124.2 446.9L123.6 448.4L122.9 449.7L122.3 450.8" fill="#090"/>
<path d="M127.8 445.3L128.4 444.1L129 442.7L129.6 441.2L130.2 439.4L130.9 437.4L131.5 435.3L132.1 433.3L132.7 431.1L133.3 428.5L133.9 425.8L134.6 423L135.2 420.2M127.8 445.3L122.7 450.4" class="m"/>
<path d="M135.2 420.2L136 416.7L136.7 414L137.5 412.2L138.3 411.2L139.1 410.9L133.4 415.3L132.6 416.2L131.8 417.8L131 420.3L130.3 423.8L129.6 427.2" fill="#940"/>
<path d="M138.5 411L139.8 411.4L134 415.1L132.8 415.9" fill="#c60"/>
<path d="M139.1 410.9L140.4 412.3L134.7 415.7L133.4 415.2" fill="#f70"/>
<path d="M139.8 411.4L141.1 413.8L135.4 416.6L134.1 415.1" fill="#e70"/>
<path d="M140.5 412.4L141.8 416.4L136.1 418.3L134.8 415.7" fill="#d70"/>
<path d="M141.1 414L142.4 419.6L136.8 420.9L135.4 416.7" fill="#d60"/>
<path d="M141.8 416.6L142.8 421.5L143.7 427.5L138.1 428L137.1 422.6L136.1 418.4" fill="#c60"/>
<path d="M135.2 420.2L135.9 417.3L136.5 414.8L137.2 412.9L137.8 411.8L138.5 411L139.1 410.9L139.8 411.4L140.5 412.4L141.1 414L141.8 416.6L142.5 419.8L143.1 423.6M135.2 420.2L130 426.7" class="m"/>
<path d="M143.1 423.6L144.1 429.5L145 434.3L139.5 436.1L138.5 430.2L137.5 424.4" fill="#0e0"/>
<path d="M144.4 431.6L145.3 435.3L146.3 435.3L140.8 440.4L139.8 438L138.8 432.5" fill="#0f0"/>
<path d="M145.7 435.8L146.5 435L147.2 432.1L148 427.9L148.9 422.9L149.7 417.8L150.5 414.9L151.3 415.1L145.7 419.1L144.9 421.3L144.1 426.4L143.3 431.6L142.5 436.1L141.7 439.4L140.9 440.4L140.2 439.2" fill="#090"/>
<path d="M150.6 414.7L151.9 417.2L146.4 419.6L145 420.6" fill="#0e0"/>
<path d="M143.1 423.6L143.8 427.7L144.4 431.6L145 434.5L145.7 435.8L146.4 435.2L147.1 433L147.8 429.5L148.5 425.4L149.2 420.7L149.9 416.4L150.6 414.7L151.3 415.2M143.1 423.6L137.9 424.4" class="m"/>
<path d="M151.3 415.2L152.6 420.6L147 421.8L145.7 419" fill="#d60"/>
<path d="M152 417.4L152.7 421.3L153.4 425.9L154.1 430.9L154.8 436L155.4 441L156.1 445.3L156.8 448.8L157.5 451.6L152.2 454.2L151.5 450.8L150.8 446.5L150.1 441.5L149.4 436.3L148.6 431.3L147.9 426.6L147.2 422.4L146.4 419.7" fill="#c60"/>
<path d="M156.9 449.3L157.8 452.4L158.6 455.1L159.4 457.3L154.2 460.8L153.3 458.2L152.5 455.2L151.6 451.4" fill="#d60"/>
<path d="M151.3 415.2L152 417.4L152.6 420.9L153.2 424.9L153.9 429.3L154.5 433.8L155.1 438.4L155.7 442.7L156.3 446.3L156.9 449.3L157.6 451.8L158.2 453.9L158.8 455.8M151.3 415.2L146.1 418.7" class="m"/>
<path d="M158.8 455.8L159.6 457.6L160.3 459.1L161 460.3L161.8 461.3L162.6 462.1L163.3 462.8L164.1 463.5L158.9 468.1L158.1 467.3L157.3 466.5L156.6 465.5L155.8 464.4L155 462.9L154.3 461.1L153.6 458.9" fill="#0f0"/>
<path d="M163.4 463L164.2 463.7L165 464.3L165.8 464.9L166.6 465.4L167.4 465.9L162.3 470.7L161.5 470.2L160.6 469.6L159.8 468.9L159 468.2L158.2 467.5" fill="#0e0"/>
<path d="M158.8 455.8L159.5 457.4L160.1 458.8L160.8 459.9L161.4 460.8L162.1 461.6L162.8 462.3L163.4 463L164.1 463.6L164.8 464.1L165.5 464.6L166.1 465.1L166.8 465.5M158.8 455.8L153.9 458.7" class="m"/>
<path d="M166.8 465.5L167.5 466L168.3 466.4L169 466.8L169.7 467.2L170.5 467.5L171.2 467.9L172 468.2L172.7 468.6L173.5 468.9L174.2 469.2L175 469.5L175.7 469.8L170.6 474.8L169.9 474.5L169.1 474.2L168.4 473.9L167.6 473.5L166.8 473.2L166.1 472.8L165.3 472.4L164.6 472.1L163.8 471.7L163.1 471.2L162.4 470.8L161.6 470.3" fill="#f70"/>
<path d="M166.8 465.5L167.5 466L168.2 466.4L168.8 466.7L169.5 467.1L170.2 467.4L170.9 467.7L171.6 468.1L172.3 468.4L173 468.7L173.7 469L174.4 469.2L175.1 469.5M166.8 465.5L162 469.9" class="m"/>
<path d="M175.1 469.5L175.8 469.8L176.5 470.1L177.2 470.4L177.9 470.7L178.6 470.9L179.3 471.2L180 471.5L180.7 471.8L181.4 472L182.1 472.3L182.8 472.6L183.5 472.8L178.5 478L177.8 477.7L177.1 477.4L176.4 477.1L175.6 476.9L174.9 476.6L174.2 476.3L173.5 476L172.8 475.7L172.1 475.4L171.4 475.1L170.7 474.9L170 474.6" fill="#0d0"/>
<path d="M175.1 469.5L183.5 472.8M175.1 469.5L170.3 474.2M183.5 472.8L178.9 477.6" class="m"/>
<path d="M80.8 439.8L81.4 440L82 440.2L82.6 440.5L83.2 440.7L83.8 440.9L84.4 441.1L85 441.4L85.6 441.6L86.2 441.8L86.8 442.1L87.4 442.3L88 442.5L82 446.7L81.4 446.4L80.8 446.2L80.2 446L79.6 445.7L79 445.5L78.4 445.2L77.8 445L77.2 444.8L76.6 444.5L76 444.3L75.4 444.1L74.8 443.8" fill="#f09"/>
<path d="M80.8 439.8L87.5 442.3M80.8 439.8L75.2 443.5" class="m"/>
<path d="M87.5 442.3L88.1 442.6L88.7 442.8L89.3 443L89.9 443.3L90.5 443.5L91.1 443.7L91.7 444L92.3 444.2L92.9 444.4L93.6 444.7L94.2 444.9L94.8 445.2L88.9 449.4L88.2 449.1L87.6 448.9L87 448.6L86.4 448.4L85.8 448.2L85.2 447.9L84.5 447.7L83.9 447.4L83.3 447.2L82.7 446.9L82.1 446.7L81.5 446.5" fill="#f00"/>
<path d="M87.5 442.3L94.2 444.9M87.5 442.3L81.9 446.2" class="m"/>
<path d="M94.2 444.9L94.9 445.2L95.5 445.4L96.1 445.7L96.7 445.9L97.3 446.1L98 446.4L98.6 446.6L99.2 446.9L99.8 447.1L100.5 447.3L101.1 447.6L101.7 447.8L95.8 452.1L95.2 451.9L94.6 451.6L93.9 451.4L93.3 451.1L92.7 450.9L92.1 450.6L91.4 450.4L90.8 450.1L90.2 449.9L89.6 449.7L88.9 449.4L88.3 449.2" fill="#f09"/>
<path d="M94.2 444.9L101.2 447.6M94.2 444.9L88.8 448.9" class="m"/>
<path d="M101.2 447.6L101.8 447.8L102.4 448.1L103.1 448.3L103.7 448.6L104.3 448.8L105 449L105.6 449.3L106.2 449.5L106.9 449.7L107.5 450L108.1 450.2L108.8 450.4L103 454.8L102.3 454.6L101.7 454.4L101 454.1L100.4 453.9L99.7 453.6L99.1 453.4L98.5 453.1L97.8 452.9L97.2 452.7L96.6 452.4L95.9 452.2L95.3 451.9" fill="#f00"/>
<path d="M101.2 447.6L108.2 450.2M101.2 447.6L95.7 451.6" class="m"/>
<path d="M108.2 450.2L108.9 450.5L109.6 450.7L110.2 450.9L110.9 451.1L111.6 451.4L112.3 451.6L113 451.8L107.2 456.3L106.5 456.1L105.8 455.8L105.1 455.6L104.4 455.4L103.8 455.1L103.1 454.9L102.4 454.6" fill="#f0a"/>
<path d="M112.4 451.6L113.1 451.9L113.8 452.1L114.5 452.3L115.3 452.4L116 452.6L110.2 457.2L109.5 457L108.8 456.8L108 456.6L107.3 456.3L106.6 456.1" fill="#e0a"/>
<path d="M108.2 450.2L108.8 450.4L109.4 450.6L110 450.8L110.6 451L111.2 451.2L111.8 451.4L112.4 451.6L113 451.8L113.6 452L114.2 452.2L114.8 452.3L115.4 452.5M108.2 450.2L102.8 454.3" class="m"/>
<path d="M115.4 452.5L116.6 452.7L110.8 457.3L109.6 457" fill="#e00"/>
<path d="M116 452.6L116.8 452.7L117.6 452.8L118.4 452.8L112.7 457.5L111.9 457.4L111 457.3L110.2 457.2" fill="#d00"/>
<path d="M117.8 452.8L118.7 452.8L119.6 452.6L113.9 457.4L113 457.5L112.1 457.5" fill="#c00"/>
<path d="M119 452.7L119.9 452.5L120.8 452.1L115.1 457.1L114.2 457.4L113.3 457.5" fill="#b00"/>
<path d="M120.3 452.4L121.1 451.9L122 451.2L116.3 456.4L115.4 457L114.5 457.3" fill="#a00"/>
<path d="M121.5 451.7L122.4 450.9L123.2 449.4L117.5 455.1L116.6 456.2L115.7 456.8" fill="#900"/>
<path d="M115.4 452.5L116 452.6L116.6 452.7L117.2 452.8L117.8 452.8L118.4 452.8L119 452.7L119.7 452.6L120.3 452.4L120.9 452.1L121.5 451.7L122.1 451.2L122.7 450.4M115.4 452.5L110.1 456.7" class="m"/>
<path d="M122.7 450.4L123.3 449.3L124 448L124.6 446.4L125.3 444.6L125.9 442.6L126.6 440.3L127.2 438.1L127.9 435.8L128.5 433.1L129.2 430.1L129.9 427.1L130.6 424.1L124.7 431.1L124.1 434.1L123.4 437.1L122.8 440L122.1 442.3L121.5 444.6L120.8 446.9L120.2 449L119.5 450.8L118.9 452.5L118.3 453.8L117.6 455L117 455.9" fill="#90d"/>
<path d="M122.7 450.4L123.3 449.4L123.9 448.2L124.5 446.8L125.1 445.2L125.7 443.4L126.3 441.3L126.9 439.2L127.5 437.2L128.1 434.9L128.7 432.2L129.3 429.5L130 426.7M122.7 450.4L117.4 455.5" class="m"/>
<path d="M130 426.7L130.7 423.4L131.4 420L132.2 417.6L132.9 415.9L133.7 415L134.5 414.8L128.6 419.3L127.8 420.1L127 421.5L126.3 423.8L125.6 427.1L124.9 430.5L124.2 433.7" fill="#900"/>
<path d="M133.8 414.9L135.1 415.4L129.2 419.2L127.9 419.9" fill="#c00"/>
<path d="M134.5 414.9L135.8 416.4L129.9 419.9L128.6 419.2" fill="#f00"/>
<path d="M135.2 415.5L136.5 418.1L130.6 420.9L129.3 419.3" fill="#e00"/>
<path d="M135.9 416.5L136.9 419.5L137.9 424.1L132 425.5L131 421.7L130 420" fill="#d00"/>
<path d="M137.2 421L138.5 427.9L132.7 429L131.4 423" fill="#c00"/>
<path d="M130 426.7L130.6 423.9L131.2 420.9L131.9 418.5L132.5 416.6L133.2 415.6L133.8 414.9L134.5 414.9L135.2 415.5L135.9 416.5L136.5 418.3L137.2 421L137.9 424.4M130 426.7L124.6 433.2" class="m"/>
<path d="M137.9 424.4L138.8 429.5L139.7 434.8L140.5 438.8L134.8 441.1L133.9 435.9L133 430.5L132.1 425.7" fill="#c0f"/>
<path d="M139.9 436.3L141.2 440.1L135.5 443.8L134.2 437.5" fill="#d0f"/>
<path d="M140.6 439L141.9 439.4L136.2 444.8L134.9 441.4" fill="#e0f"/>
<path d="M141.2 440.1L142 439.1L142.8 436L143.6 431.6L144.4 426.4L145.2 421.3L146 418.8L146.8 419.4L141 423.2L140.2 424.9L139.4 429.9L138.6 435.2L137.8 439.9L137.1 443.4L136.3 444.8L135.6 443.9" fill="#90d"/>
<path d="M137.9 424.4L138.6 428.2L139.2 432.4L139.9 436.3L140.6 439L141.2 440.1L141.9 439.3L142.6 436.8L143.3 433.2L144 429L144.7 424.2L145.4 420.1L146.1 418.7M137.9 424.4L132.5 425.6" class="m"/>
<path d="M146.1 418.7L147.4 421.7L141.7 424L140.3 424.3" fill="#f00"/>
<path d="M146.8 419.5L148.1 425.3L142.4 426.6L141 423.2" fill="#d00"/>
<path d="M147.5 421.9L148.2 426L149 430.7L149.7 435.7L150.4 440.9L151.1 445.9L151.8 450.2L152.5 453.7L153.3 456.5L147.8 459.3L147 456L146.3 451.8L145.5 446.8L144.8 441.5L144 436.4L143.3 431.6L142.5 427.2L141.7 424.1" fill="#c00"/>
<path d="M152.6 454.2L153.6 457.6L154.6 460.5L149.1 463.9L148.1 460.7L147.1 456.5" fill="#d00"/>
<path d="M146.1 418.7L146.8 419.5L147.5 421.9L148.2 425.5L148.8 429.7L149.5 434.1L150.1 438.7L150.7 443.4L151.4 447.6L152 451.2L152.6 454.2L153.3 456.6L153.9 458.7M146.1 418.7L140.8 423.8" class="m"/>
<path d="M153.9 458.7L154.8 461.2L155.7 463.1L156.5 464.7L151.1 468.8L150.2 467L149.4 464.7L148.5 461.9" fill="#d0f"/>
<path d="M155.9 463.6L156.9 465.2L157.9 466.4L152.5 470.9L151.5 469.5L150.5 467.6" fill="#e0f"/>
<path d="M157.3 465.6L158.6 467.1L153.2 471.7L151.8 470" fill="#f0f"/>
<path d="M157.9 466.4L159.2 467.7L153.9 472.4L152.5 471" fill="#f0e"/>
<path d="M158.6 467.1L159.5 468L160.4 468.7L161.3 469.4L155.9 474.3L155 473.5L154.1 472.7L153.2 471.8" fill="#f0d"/>
<path d="M160.6 468.9L161.6 469.7L162.6 470.4L157.3 475.3L156.3 474.5L155.3 473.7" fill="#f0c"/>
<path d="M153.9 458.7L154.6 460.6L155.3 462.3L155.9 463.6L156.6 464.7L157.3 465.6L157.9 466.4L158.6 467.1L159.3 467.8L160 468.4L160.6 468.9L161.3 469.4L162 469.9M153.9 458.7L148.9 461.7" class="m"/>
<path d="M162 469.9L162.7 470.4L163.5 470.9L164.2 471.3L165 471.7L165.7 472.1L166.5 472.5L167.2 472.8L168 473.2L168.7 473.5L169.5 473.8L170.2 474.1L171 474.5L165.7 479.7L165 479.3L164.2 479L163.4 478.6L162.7 478.3L161.9 477.9L161.2 477.5L160.4 477.1L159.7 476.7L158.9 476.3L158.1 475.8L157.4 475.3L156.7 474.8" fill="#f00"/>
<path d="M162 469.9L162.7 470.4L163.4 470.8L164.1 471.2L164.8 471.6L165.5 471.9L166.1 472.3L166.8 472.6L167.5 473L168.2 473.3L168.9 473.6L169.6 473.9L170.3 474.2M162 469.9L157 474.5" class="m"/>
<path d="M170.3 474.2L171 474.5L171.8 474.8L172.5 475.1L173.2 475.3L173.9 475.6L174.6 475.9L175.3 476.2L176 476.5L176.7 476.8L177.4 477L178.2 477.3L178.9 477.6L173.7 482.9L173 482.6L172.3 482.4L171.5 482.1L170.8 481.8L170.1 481.5L169.4 481.2L168.7 480.9L167.9 480.6L167.2 480.3L166.5 480L165.8 479.7L165.1 479.4" fill="#f0a"/>
<path d="M170.3 474.2L178.9 477.6M170.3 474.2L165.5 479M178.9 477.6L174.1 482.5" class="m"/>
<path d="M75.2 443.5L75.8 443.8L76.4 444L77 444.2L77.6 444.5L78.2 444.7L78.8 444.9L79.4 445.2L80 445.4L80.6 445.7L81.3 445.9L81.9 446.1L82.5 446.4L76.3 450.6L75.7 450.4L75.1 450.1L74.5 449.9L73.9 449.6L73.3 449.4L72.7 449.2L72.1 448.9L71.5 448.7L70.9 448.4L70.3 448.2L69.7 447.9L69.1 447.7" fill="#0d0"/>
<path d="M75.2 443.5L81.9 446.2M75.2 443.5L69.5 447.4" class="m"/>
<path d="M81.9 446.2L82.5 446.4L83.2 446.6L83.8 446.9L84.4 447.1L85 447.4L85.6 447.6L86.2 447.8L86.8 448.1L87.4 448.3L88.1 448.6L88.7 448.8L89.3 449.1L83.2 453.4L82.6 453.2L82 452.9L81.3 452.7L80.7 452.4L80.1 452.2L79.5 451.9L78.9 451.7L78.2 451.4L77.6 451.2L77 450.9L76.4 450.7L75.8 450.4" fill="#f70"/>
<path d="M81.9 446.2L88.8 448.9M81.9 446.2L76.2 450.1" class="m"/>
<path d="M88.8 448.9L89.4 449.1L90 449.3L90.6 449.6L91.2 449.8L91.9 450.1L92.5 450.3L93.1 450.6L93.7 450.8L94.4 451.1L95 451.3L95.6 451.6L96.3 451.8L90.2 456.3L89.6 456L88.9 455.7L88.3 455.5L87.7 455.2L87 455L86.4 454.7L85.8 454.5L85.2 454.2L84.5 454L83.9 453.7L83.3 453.4L82.7 453.2" fill="#0d0"/>
<path d="M88.8 448.9L95.7 451.6M88.8 448.9L83.1 452.9" class="m"/>
<path d="M95.7 451.6L96.4 451.8L97 452.1L97.6 452.3L98.3 452.6L98.9 452.8L99.5 453.1L100.2 453.3L100.8 453.6L101.5 453.8L102.1 454L102.7 454.3L103.4 454.5L97.4 459.1L96.7 458.8L96.1 458.6L95.4 458.3L94.8 458.1L94.2 457.8L93.5 457.6L92.9 457.3L92.2 457.1L91.6 456.8L90.9 456.5L90.3 456.3L89.7 456" fill="#f70"/>
<path d="M95.7 451.6L102.8 454.3M95.7 451.6L90.1 455.7" class="m"/>
<path d="M102.8 454.3L103.5 454.5L104.1 454.8L104.8 455L105.4 455.2L106.1 455.5L106.8 455.7L107.4 455.9L108.1 456.1L108.8 456.3L109.4 456.5L103.5 461.2L102.8 461L102.1 460.7L101.5 460.5L100.8 460.3L100.1 460.1L99.5 459.8L98.8 459.6L98.1 459.3L97.5 459.1L96.8 458.8" fill="#0d0"/>
<path d="M108.8 456.4L109.7 456.6L110.6 456.8L104.7 461.5L103.8 461.3L102.9 461" fill="#0c0"/>
<path d="M102.8 454.3L103.4 454.5L104 454.7L104.6 454.9L105.2 455.2L105.8 455.4L106.4 455.6L107 455.8L107.6 456L108.2 456.2L108.8 456.4L109.5 456.5L110.1 456.7M102.8 454.3L97.3 458.5" class="m"/>
<path d="M110.1 456.7L111 456.9L111.9 457.1L105.9 461.8L105 461.6L104.1 461.4" fill="#e70"/>
<path d="M111.3 457L112.1 457.1L112.9 457.2L113.7 457.2L107.8 462L107 462L106.2 461.9L105.3 461.7" fill="#d60"/>
<path d="M113.1 457.2L114 457.1L114.9 456.9L109 461.9L108.1 462L107.2 462" fill="#c60"/>
<path d="M114.3 457.1L115.5 456.7L109.6 461.8L108.4 462" fill="#b60"/>
<path d="M114.9 456.9L116.1 456.5L110.2 461.6L109 461.9" fill="#b50"/>
<path d="M115.6 456.7L116.4 456.3L117.3 455.5L111.4 460.9L110.5 461.5L109.6 461.8" fill="#a50"/>
<path d="M116.8 456L117.9 454.7L112 460.3L110.9 461.3" fill="#940"/>
<path d="M110.1 456.7L110.7 456.8L111.3 457L111.9 457.1L112.5 457.1L113.1 457.2L113.7 457.2L114.3 457.1L114.9 456.9L115.6 456.7L116.2 456.4L116.8 456L117.4 455.5M110.1 456.7L104.6 461" class="m"/>
<path d="M117.4 455.5L118 454.5L118.7 453.4L119.3 452L120 450.4L120.6 448.5L121.2 446.4L121.9 444.1L122.5 441.9L123.2 439.5L123.8 436.6L124.5 433.6L125.2 430.6L119.2 437.7L118.5 440.7L117.9 443.7L117.3 446.2L116.6 448.4L116 450.8L115.3 452.9L114.7 454.9L114.1 456.6L113.4 458L112.8 459.2L112.1 460.2L111.5 460.9" fill="#090"/>
<path d="M117.4 455.5L118 454.6L118.6 453.6L119.2 452.3L119.8 450.9L120.4 449.2L121 447.4L121.6 445.3L122.2 443.1L122.8 441.1L123.4 438.7L124 436L124.6 433.2M117.4 455.5L111.9 460.5" class="m"/>
<path d="M124.6 433.2L125.3 430L126 426.7L126.7 423.5L127.4 421.2L128.2 419.8L128.9 419L129.7 419L123.6 423.4L122.8 424.1L122.1 425.3L121.4 427.4L120.7 430.4L120 433.9L119.3 437.1L118.6 440.3" fill="#940"/>
<path d="M129 418.9L130.4 419.6L124.3 423.5L123 423.9" fill="#e70"/>
<path d="M129.7 419L131.1 420.7L125 424.3L123.6 423.4" fill="#f70"/>
<path d="M130.4 419.7L131.7 422.6L125.7 425.4L124.3 423.6" fill="#e70"/>
<path d="M131.1 420.8L132.1 424.1L133.2 428.9L127.1 430.5L126.1 426.4L125 424.4" fill="#d60"/>
<path d="M124.6 433.2L125.2 430.4L125.8 427.5L126.4 424.5L127.1 422.2L127.7 420.5L128.4 419.5L129 418.9L129.7 419L130.4 419.7L131.1 420.8L131.8 422.8L132.5 425.6M124.6 433.2L119.1 439.8" class="m"/>
<path d="M132.5 425.6L133.4 430.1L134.2 435.2L135.1 440.1L135.9 443.5L130 446.4L129.1 441.5L128.2 436.2L127.3 431.5L126.4 427.8" fill="#0e0"/>
<path d="M135.3 441.2L136.3 444.3L137.3 443.6L131.4 449.4L130.4 447.8L129.4 442.7" fill="#0f0"/>
<path d="M136.7 444.5L137.4 443.2L138.2 439.6L139 434.9L139.8 429.5L140.6 424.4L141.4 422.8L135.4 428.3L134.7 432.9L133.9 438.4L133.1 443.3L132.3 447.3L131.6 449.2L130.8 448.8" fill="#090"/>
<path d="M132.5 425.6L133.2 429.2L133.9 433.2L134.6 437.4L135.3 441.2L136 443.7L136.7 444.5L137.3 443.5L138 440.7L138.7 436.9L139.4 432.5L140.1 427.8L140.8 423.8M132.5 425.6L126.9 427.6" class="m"/>
<path d="M140.8 423.8L142.1 423.8L136.1 427.5L134.8 431.9" fill="#940"/>
<path d="M141.5 422.8L142.8 426.5L136.9 428.7L135.5 428.3" fill="#e70"/>
<path d="M142.2 423.9L143.5 430.2L137.6 431.7L136.2 427.5" fill="#d60"/>
<path d="M142.9 426.7L143.6 431.1L144.4 436L145.2 441.1L145.9 446.5L146.7 451.6L147.4 455.7L148.2 459.1L142.5 461.8L141.7 457.8L140.9 452.9L140.1 447.4L139.3 442.1L138.5 437L137.7 432.4L136.9 428.9" fill="#c60"/>
<path d="M147.5 456.4L148.5 460.5L149.5 463.7L143.9 467.1L142.8 463.4L141.8 458.6" fill="#d60"/>
<path d="M140.8 423.8L141.5 422.8L142.2 423.9L142.9 426.7L143.5 430.5L144.2 434.8L144.9 439.3L145.6 444L146.2 448.7L146.9 452.9L147.5 456.4L148.2 459.3L148.9 461.7M140.8 423.8L135.2 431.3" class="m"/>
<path d="M148.9 461.7L149.6 464L150.4 466.1L151.1 467.7L151.8 469.1L152.6 470.2L153.3 471.1L154.1 471.9L154.9 472.7L155.6 473.4L150.1 478.3L149.3 477.5L148.5 476.7L147.8 475.8L147 474.8L146.2 473.4L145.5 471.8L144.7 469.8L144 467.5L143.2 464.9" fill="#0f0"/>
<path d="M155 472.8L155.9 473.6L156.8 474.3L157.7 474.9L152.2 480L151.3 479.3L150.3 478.5L149.4 477.7" fill="#0e0"/>
<path d="M148.9 461.7L149.5 463.8L150.2 465.7L150.9 467.3L151.6 468.6L152.2 469.7L152.9 470.6L153.6 471.4L154.3 472.1L155 472.8L155.7 473.4L156.4 473.9L157 474.5M148.9 461.7L143.6 464.6" class="m"/>
<path d="M157 474.5L157.8 475L158.5 475.5L159.3 475.9L160 476.4L160.8 476.8L161.6 477.2L162.3 477.5L163.1 477.9L163.8 478.3L164.6 478.6L165.4 478.9L166.1 479.3L160.7 484.6L159.9 484.3L159.2 483.9L158.4 483.6L157.6 483.2L156.8 482.8L156.1 482.4L155.3 482L154.5 481.6L153.8 481.1L153 480.6L152.3 480.1L151.5 479.5" fill="#f70"/>
<path d="M157 474.5L157.7 474.9L158.4 475.4L159.1 475.8L159.8 476.2L160.5 476.6L161.2 477L161.9 477.4L162.6 477.7L163.3 478L164 478.4L164.8 478.7L165.5 479M157 474.5L151.9 479.1" class="m"/>
<path d="M165.5 479L166.2 479.3L166.9 479.6L167.6 479.9L168.3 480.2L169 480.5L169.8 480.8L170.5 481.1L171.2 481.4L171.9 481.7L172.6 482L173.4 482.3L174.1 482.5L168.7 488L168 487.7L167.3 487.4L166.5 487.1L165.8 486.8L165.1 486.5L164.4 486.2L163.6 485.9L162.9 485.6L162.2 485.3L161.5 485L160.7 484.7L160 484.3" fill="#0d0"/>
<path d="M165.5 479L174.1 482.5M165.5 479L160.4 483.9M174.1 482.5L169.1 487.6" class="m"/>
<path d="M69.5 447.4L70.1 447.6L70.7 447.9L71.3 448.1L71.9 448.4L72.5 448.6L73.1 448.8L73.7 449.1L74.3 449.3L74.9 449.6L75.6 449.8L76.2 450.1L76.8 450.3L70.4 454.7L69.8 454.4L69.2 454.2L68.6 453.9L68 453.7L67.4 453.4L66.8 453.2L66.2 452.9L65.6 452.7L65 452.4L64.3 452.2L63.7 451.9L63.1 451.7" fill="#f09"/>
<path d="M69.5 447.4L76.2 450.1M69.5 447.4L63.6 451.4" class="m"/>
<path d="M76.2 450.1L76.9 450.3L77.5 450.6L78.1 450.8L78.7 451.1L79.3 451.3L79.9 451.6L80.5 451.8L81.2 452.1L81.8 452.3L82.4 452.6L83 452.8L83.6 453.1L77.4 457.6L76.7 457.3L76.1 457.1L75.5 456.8L74.9 456.5L74.2 456.3L73.6 456L73 455.8L72.4 455.5L71.8 455.2L71.1 455L70.5 454.7L69.9 454.5" fill="#f00"/>
<path d="M76.2 450.1L83.1 452.9M76.2 450.1L70.4 454.2" class="m"/>
<path d="M83.1 452.9L83.7 453.1L84.4 453.4L85 453.6L85.6 453.9L86.2 454.1L86.9 454.4L87.5 454.7L88.1 454.9L88.8 455.2L89.4 455.4L90 455.7L90.7 455.9L84.4 460.5L83.8 460.2L83.2 460L82.5 459.7L81.9 459.4L81.2 459.2L80.6 458.9L80 458.7L79.3 458.4L78.7 458.1L78.1 457.9L77.4 457.6L76.8 457.3" fill="#f09"/>
<path d="M83.1 452.9L90.1 455.7M83.1 452.9L77.3 457" class="m"/>
<path d="M90.1 455.7L90.7 456L91.4 456.2L92 456.5L92.7 456.7L93.3 457L93.9 457.2L94.6 457.5L95.2 457.7L95.9 458L96.5 458.2L97.2 458.5L97.8 458.7L91.6 463.4L91 463.1L90.3 462.9L89.7 462.6L89 462.4L88.4 462.1L87.7 461.9L87.1 461.6L86.4 461.3L85.8 461.1L85.2 460.8L84.5 460.5L83.9 460.3" fill="#f00"/>
<path d="M90.1 455.7L97.3 458.5M90.1 455.7L84.3 459.9" class="m"/>
<path d="M97.3 458.5L97.9 458.8L98.6 459L99.3 459.2L99.9 459.5L100.6 459.7L101.3 460L101.9 460.2L102.6 460.4L103.3 460.6L97.2 465.4L96.5 465.2L95.8 465L95.1 464.7L94.4 464.5L93.8 464.2L93.1 464L92.4 463.7L91.7 463.4L91.1 463.2" fill="#f0a"/>
<path d="M102.7 460.5L103.5 460.7L104.3 461L105.1 461.2L99 466L98.2 465.8L97.4 465.5L96.6 465.2" fill="#e0a"/>
<path d="M97.3 458.5L97.9 458.7L98.5 459L99.1 459.2L99.7 459.4L100.3 459.6L100.9 459.8L101.5 460L102.1 460.3L102.7 460.5L103.3 460.7L103.9 460.8L104.6 461M97.3 458.5L91.5 462.8" class="m"/>
<path d="M104.6 461L105.4 461.2L106.2 461.4L107 461.6L100.9 466.5L100 466.3L99.2 466.1L98.4 465.8" fill="#e00"/>
<path d="M106.4 461.5L107.2 461.6L108 461.7L108.8 461.7L102.7 466.7L101.9 466.6L101.1 466.5L100.3 466.4" fill="#d00"/>
<path d="M108.2 461.7L109.1 461.6L110 461.4L104 466.6L103 466.7L102.1 466.7" fill="#c00"/>
<path d="M109.5 461.6L110.4 461.3L111.3 460.9L105.2 466.2L104.3 466.5L103.4 466.7" fill="#b00"/>
<path d="M110.7 461.2L111.6 460.7L112.5 459.9L106.4 465.4L105.5 466L104.6 466.4" fill="#a00"/>
<path d="M104.6 461L105.2 461.2L105.8 461.4L106.4 461.5L107 461.6L107.6 461.6L108.2 461.7L108.9 461.7L109.5 461.6L110.1 461.4L110.7 461.2L111.3 460.9L111.9 460.5M104.6 461L98.9 465.5" class="m"/>
<path d="M111.9 460.5L112.6 459.8L113.2 458.8L113.9 457.6L114.5 456.1L115.1 454.4L115.8 452.5L116.4 450.3L117 447.9L117.7 445.7L118.3 443.2L119 440.2L119.6 437.2L113.5 444.3L112.8 447.4L112.2 450.1L111.6 452.3L110.9 454.7L110.3 456.9L109.7 459L109.1 460.7L108.4 462.3L107.8 463.5L107.1 464.6L106.5 465.4L105.8 465.9" fill="#90d"/>
<path d="M111.9 460.5L112.5 459.9L113.1 458.9L113.7 457.9L114.3 456.6L114.9 455.1L115.5 453.4L116.1 451.4L116.7 449.3L117.3 447.1L117.9 445.1L118.5 442.6L119.1 439.8M111.9 460.5L106.3 465.5" class="m"/>
<path d="M119.1 439.8L119.7 436.6L120.4 433.3L121.1 429.9L121.8 427L122.5 424.8L123.3 423.7L124 423L117.8 428.1L117 429.1L116.3 431L115.6 433.7L114.9 437.2L114.2 440.5L113.6 443.7L112.9 447" fill="#900"/>
<path d="M123.4 423.5L124.7 423.2L118.4 427.7L117.1 428.9" fill="#a00"/>
<path d="M124.1 423L125.1 423.6L126.1 425.2L119.8 428.9L118.8 427.8L117.8 428.1" fill="#f00"/>
<path d="M125.5 424.1L126.8 427.4L120.6 430.2L119.2 428.1" fill="#e00"/>
<path d="M126.2 425.3L127.6 430.4L121.3 432.7L119.9 429" fill="#d00"/>
<path d="M119.1 439.8L119.6 437L120.2 434.1L120.9 431.1L121.5 428.2L122.1 426L122.7 424.4L123.4 423.5L124.1 423L124.8 423.3L125.5 424.1L126.2 425.3L126.9 427.6M119.1 439.8L113.4 446.5" class="m"/>
<path d="M126.9 427.6L128.3 434.1L122 435.8L120.6 430.3" fill="#d0f"/>
<path d="M127.6 430.6L128.5 435.2L129.4 440.5L130.3 445.4L131.2 448.4L125.1 451.8L124.1 447.1L123.2 441.8L122.3 436.9L121.3 432.8" fill="#c0f"/>
<path d="M130.5 446.4L131.8 449L125.8 453.8L124.4 448.3" fill="#d0f"/>
<path d="M131.2 448.5L132.5 447.8L126.5 453.9L125.1 452" fill="#f0b"/>
<path d="M131.9 448.9L132.7 447.1L133.5 443.1L134.3 438.1L135.1 432.4L135.9 427.9L129.7 435.6L129 441.2L128.2 446.6L127.4 451L126.6 453.7L125.8 453.8" fill="#90d"/>
<path d="M126.9 427.6L127.6 430.6L128.3 434.3L129.1 438.4L129.8 442.6L130.5 446.4L131.2 448.5L131.9 448.9L132.6 447.6L133.2 444.5L133.9 440.5L134.6 435.9L135.2 431.3M126.9 427.6L121.1 430.1" class="m"/>
<path d="M135.2 431.3L136.3 427.3L137.3 428.5L131.1 432.1L130.1 433.4L129.1 440" fill="#900"/>
<path d="M136.6 427.2L138 431.5L131.9 433.8L130.5 432.4" fill="#d00"/>
<path d="M137.3 428.7L138.1 432.2L138.9 436.8L139.7 441.8L140.5 447L141.3 452.4L142.1 457.2L142.8 461.2L143.6 464.5L137.7 467.5L136.9 463.7L136.1 459L135.3 453.6L134.5 448.2L133.7 443.1L132.8 438.3L132 434.3L131.2 432.2" fill="#c00"/>
<path d="M142.9 461.8L144.3 466.9L138.4 470.3L137 464.4" fill="#d00"/>
<path d="M135.2 431.3L135.9 427.8L136.6 427.2L137.3 428.7L138.1 431.8L138.8 435.8L139.5 440.2L140.2 444.8L140.9 449.6L141.6 454.3L142.3 458.4L142.9 461.8L143.6 464.6M135.2 431.3L129.6 439.3" class="m"/>
<path d="M143.6 464.6L144.4 467.4L145.3 469.8L146.1 471.9L146.9 473.5L147.7 474.8L141.9 479.5L141.1 477.9L140.3 476L139.4 473.6L138.6 470.9L137.8 467.7" fill="#d0f"/>
<path d="M147.1 473.8L148.1 475.3L149.1 476.5L143.3 481.5L142.3 480.1L141.3 478.3" fill="#e0f"/>
<path d="M148.4 475.8L149.5 476.9L150.5 477.9L144.7 483L143.7 481.9L142.7 480.6" fill="#f0e"/>
<path d="M149.8 477.3L150.9 478.2L151.9 479.1L146.2 484.3L145.1 483.3L144.1 482.3" fill="#f0d"/>
<path d="M151.2 478.6L152.6 479.6L146.9 484.8L145.5 483.7" fill="#f0c"/>
<path d="M143.6 464.6L144.3 467L145 469.1L145.7 471L146.4 472.5L147.1 473.8L147.8 474.9L148.4 475.8L149.1 476.6L149.8 477.3L150.5 478L151.2 478.6L151.9 479.1M143.6 464.6L138.2 467.5" class="m"/>
<path d="M151.9 479.1L152.7 479.7L153.4 480.2L154.2 480.7L155 481.2L155.7 481.6L156.5 482L157.2 482.4L158 482.8L158.8 483.2L159.6 483.5L160.3 483.9L161.1 484.2L155.5 489.8L154.7 489.4L153.9 489.1L153.1 488.7L152.4 488.3L151.6 487.9L150.8 487.4L150 487L149.3 486.5L148.5 486L147.7 485.5L147 484.9L146.2 484.3" fill="#f00"/>
<path d="M151.9 479.1L152.6 479.6L153.3 480.1L154 480.6L154.7 481L155.4 481.5L156.1 481.8L156.9 482.2L157.6 482.6L158.3 482.9L159 483.3L159.7 483.6L160.4 483.9M151.9 479.1L146.6 483.9" class="m"/>
<path d="M160.4 483.9L161.1 484.3L161.9 484.6L162.6 484.9L163.3 485.2L164 485.5L164.8 485.8L165.5 486.1L166.2 486.4L166.9 486.7L167.7 487L168.4 487.3L169.1 487.6L163.6 493.3L162.9 493L162.1 492.7L161.4 492.4L160.7 492.1L159.9 491.7L159.2 491.4L158.5 491.1L157.7 490.8L157 490.5L156.3 490.1L155.5 489.8L154.8 489.5" fill="#f0a"/>
<path d="M160.4 483.9L169.1 487.6M160.4 483.9L155.2 489.1M169.1 487.6L164 492.9" class="m"/>
<path d="M63.6 451.4L64.2 451.6L64.8 451.9L65.4 452.1L66 452.4L66.6 452.6L67.2 452.9L67.8 453.1L68.5 453.4L69.1 453.6L69.7 453.9L70.3 454.1L70.9 454.4L64.4 458.9L63.8 458.6L63.2 458.4L62.5 458.1L61.9 457.9L61.3 457.6L60.7 457.3L60.1 457.1L59.5 456.8L58.9 456.6L58.3 456.3L57.7 456L57 455.8" fill="#0d0"/>
<path d="M63.6 451.4L70.4 454.2M63.6 451.4L57.5 455.5" class="m"/>
<path d="M70.4 454.2L71 454.4L71.6 454.7L72.2 454.9L72.8 455.2L73.5 455.4L74.1 455.7L74.7 456L75.3 456.2L75.9 456.5L76.6 456.7L77.2 457L77.8 457.2L71.4 461.9L70.7 461.6L70.1 461.3L69.5 461.1L68.8 460.8L68.2 460.5L67.6 460.3L67 460L66.3 459.7L65.7 459.5L65.1 459.2L64.5 458.9L63.9 458.7" fill="#f70"/>
<path d="M70.4 454.2L77.3 457M70.4 454.2L64.3 458.3" class="m"/>
<path d="M77.3 457L77.9 457.3L78.5 457.5L79.2 457.8L79.8 458.1L80.4 458.3L81.1 458.6L81.7 458.8L82.3 459.1L83 459.4L83.6 459.6L84.3 459.9L84.9 460.2L78.5 464.9L77.8 464.6L77.2 464.3L76.5 464.1L75.9 463.8L75.3 463.5L74.6 463.2L74 463L73.3 462.7L72.7 462.4L72.1 462.2L71.4 461.9L70.8 461.6" fill="#0d0"/>
<path d="M77.3 457L84.3 459.9M77.3 457L71.3 461.3" class="m"/>
<path d="M84.3 459.9L85 460.2L85.6 460.5L86.3 460.7L86.9 461L87.6 461.3L88.2 461.5L88.8 461.8L89.5 462L90.1 462.3L90.8 462.5L91.4 462.8L92.1 463.1L85.7 467.9L85.1 467.6L84.4 467.4L83.8 467.1L83.1 466.8L82.4 466.5L81.8 466.3L81.1 466L80.5 465.7L79.8 465.5L79.2 465.2L78.6 464.9L77.9 464.6" fill="#f70"/>
<path d="M84.3 459.9L91.5 462.8M84.3 459.9L78.4 464.3" class="m"/>
<path d="M91.5 462.8L92.2 463.1L92.8 463.3L93.5 463.6L94.2 463.8L94.8 464.1L95.5 464.3L96.1 464.6L96.8 464.8L97.5 465L98.1 465.2L98.8 465.5L99.5 465.7L93.1 470.6L92.5 470.4L91.8 470.2L91.1 469.9L90.5 469.7L89.8 469.5L89.1 469.2L88.5 469L87.8 468.7L87.1 468.4L86.5 468.2L85.8 467.9L85.2 467.7" fill="#0d0"/>
<path d="M91.5 462.8L92.1 463.1L92.7 463.3L93.4 463.5L94 463.8L94.6 464L95.2 464.2L95.8 464.4L96.4 464.7L97 464.9L97.6 465.1L98.3 465.3L98.9 465.5M91.5 462.8L85.6 467.3" class="m"/>
<path d="M98.9 465.5L99.7 465.7L100.5 465.9L101.3 466.1L95 471.2L94.2 470.9L93.4 470.7L92.6 470.4" fill="#e70"/>
<path d="M100.7 466L101.9 466.2L95.6 471.3L94.4 471" fill="#e60"/>
<path d="M101.3 466.1L102.2 466.2L103 466.3L103.8 466.3L97.5 471.5L96.7 471.4L95.9 471.3L95 471.2" fill="#d60"/>
<path d="M103.2 466.3L104.4 466.2L98.1 471.5L96.9 471.5" fill="#c60"/>
<path d="M103.8 466.3L104.7 466.1L105.6 465.8L99.4 471.2L98.4 471.4L97.5 471.5" fill="#b60"/>
<path d="M105.1 466L106.2 465.5L100 470.9L98.8 471.3" fill="#b50"/>
<path d="M105.7 465.8L106.9 465L100.6 470.6L99.4 471.2" fill="#a50"/>
<path d="M98.9 465.5L99.5 465.7L100.1 465.8L100.7 466L101.3 466.1L102 466.2L102.6 466.3L103.2 466.3L103.8 466.3L104.4 466.2L105.1 466L105.7 465.8L106.3 465.5M98.9 465.5L93 470.1" class="m"/>
<path d="M106.3 465.5L107.5 464.4L101.2 470.1L100 470.9" fill="#0a0"/>
<path d="M106.9 465L107.5 464.2L108.2 463.2L108.8 461.9L109.5 460.4L110.1 458.6L110.7 456.5L111.4 454.2L112 451.9L112.6 449.6L113.3 446.9L113.9 443.8L107.6 451.1L107 454L106.3 456.3L105.7 458.7L105.1 461L104.5 463.2L103.9 465L103.2 466.7L102.6 468L101.9 469.2L101.3 470L100.6 470.6" fill="#090"/>
<path d="M106.3 465.5L106.9 465L107.5 464.3L108.1 463.3L108.7 462.2L109.3 460.9L109.9 459.3L110.4 457.5L111 455.5L111.6 453.4L112.2 451.2L112.8 449.1L113.4 446.5M106.3 465.5L100.5 470.5" class="m"/>
<path d="M113.4 446.5L114 443.3L114.7 440.1L115.3 436.8L116 433.4L116.7 430.7L117.4 428.8L118.1 427.8L118.9 427.3L112.4 432.4L111.7 433.3L110.9 434.9L110.3 437.3L109.6 440.7L109 444.1L108.3 447.3L107.7 450.5L107.1 453.6" fill="#940"/>
<path d="M118.3 427.7L119.6 427.7L113.1 432.2L111.8 433.1" fill="#a50"/>
<path d="M118.9 427.3L120.3 428.6L113.8 432.7L112.4 432.4" fill="#f70"/>
<path d="M119.6 427.8L121 430L114.5 433.7L113.1 432.2" fill="#e70"/>
<path d="M120.3 428.7L121.8 432.5L115.3 435.3L113.8 432.8" fill="#d70"/>
<path d="M113.4 446.5L113.9 443.6L114.5 440.8L115.1 437.9L115.7 434.8L116.3 432L116.9 429.9L117.6 428.5L118.3 427.7L118.9 427.3L119.6 427.8L120.3 428.7L121.1 430.1M113.4 446.5L107.5 453.1" class="m"/>
<path d="M121.1 430.1L122.5 435.6L116 438L114.6 433.8" fill="#0f0"/>
<path d="M121.8 432.7L122.7 436.6L123.6 441.3L124.5 446.4L125.4 451L126.2 453.5L119.9 457.3L119 453.2L118.1 448.1L117.2 443.1L116.2 438.8L115.3 435.4" fill="#0e0"/>
<path d="M125.6 451.7L126.9 453.5L120.7 458.9L119.2 454.2" fill="#0f0"/>
<path d="M126.3 453.5L127.6 451.9L121.3 458.5L120 457.4" fill="#0b0"/>
<path d="M127 453.4L127.8 450.9L128.6 446.4L129.4 440.8L130.2 435L123.9 443.7L123.1 449.6L122.3 454.7L121.5 458.1L120.7 459" fill="#090"/>
<path d="M121.1 430.1L121.8 432.7L122.6 435.9L123.3 439.7L124.1 444L124.8 448.2L125.6 451.7L126.3 453.5L127 453.4L127.6 451.7L128.3 448.3L128.9 444.1L129.6 439.3M121.1 430.1L115 433.5" class="m"/>
<path d="M129.6 439.3L130.5 432.9L131.6 431.8L125.2 436.8L124.2 441.2L123.3 448.3" fill="#940"/>
<path d="M130.9 432L132.3 433.6L125.9 437.1L124.6 438.7" fill="#c60"/>
<path d="M131.6 431.9L133.1 437L126.7 439.3L125.2 436.8" fill="#d70"/>
<path d="M132.4 433.8L133.2 437.7L134 442.4L134.8 447.6L135.7 452.9L136.5 458.3L137.3 463.1L138.1 466.9L138.8 470.1L132.8 473.5L131.9 469.8L131.1 465.2L130.3 459.9L129.4 454.4L128.5 449.1L127.7 444.2L126.8 439.9L126 437.2" fill="#c60"/>
<path d="M129.6 439.3L130.2 434.7L130.9 432L131.6 431.9L132.4 433.8L133.1 437.2L133.8 441.4L134.6 445.9L135.3 450.6L136 455.5L136.8 460.2L137.5 464.2L138.2 467.5M129.6 439.3L123.8 447.7" class="m"/>
<path d="M138.2 467.5L139 470.5L139.7 472.9L140.5 475.2L141.3 477.1L142 478.6L142.8 479.9L143.6 480.9L144.3 481.8L145.1 482.6L145.9 483.3L140 488.6L139.2 487.8L138.4 486.9L137.6 485.9L136.8 484.7L136 483.2L135.3 481.4L134.5 479.2L133.7 476.8L132.9 474L132.1 470.4" fill="#0f0"/>
<path d="M145.2 482.7L146.3 483.6L147.3 484.5L141.4 489.9L140.3 488.9L139.3 487.9" fill="#0e0"/>
<path d="M138.2 467.5L138.9 470.2L139.6 472.5L140.3 474.6L141 476.5L141.7 478L142.4 479.3L143.1 480.3L143.8 481.2L144.5 481.9L145.2 482.7L145.9 483.3L146.6 483.9M138.2 467.5L132.5 470.2" class="m"/>
<path d="M146.6 483.9L147.4 484.5L148.2 485.1L148.9 485.6L149.7 486.1L150.5 486.6L151.2 487L152 487.5L152.8 487.9L153.6 488.3L154.3 488.6L155.1 489L155.9 489.4L150.1 495.1L149.3 494.7L148.5 494.3L147.7 493.9L146.9 493.5L146.2 493.1L145.4 492.6L144.6 492.2L143.8 491.7L143 491.1L142.3 490.5L141.5 489.9L140.7 489.3" fill="#f70"/>
<path d="M146.6 483.9L147.3 484.5L148 485L148.8 485.5L149.5 486L150.2 486.4L150.9 486.9L151.6 487.2L152.3 487.6L153.1 488L153.8 488.4L154.5 488.7L155.2 489.1M146.6 483.9L141.2 488.9" class="m"/>
<path d="M155.2 489.1L155.9 489.4L156.7 489.7L157.4 490.1L158.1 490.4L158.9 490.7L159.6 491L160.3 491.3L161.1 491.7L161.8 492L162.5 492.3L163.3 492.6L164 492.9L158.3 498.8L157.6 498.5L156.8 498.1L156.1 497.8L155.3 497.5L154.6 497.2L153.8 496.8L153.1 496.5L152.3 496.2L151.6 495.8L150.9 495.5L150.1 495.1L149.4 494.8" fill="#0d0"/>
<path d="M155.2 489.1L164 492.9M155.2 489.1L149.8 494.4M164 492.9L158.7 498.4" class="m"/>
<path d="M57.5 455.5L58.1 455.7L58.7 456L59.4 456.2L60 456.5L60.6 456.7L61.2 457L61.8 457.3L62.4 457.5L63 457.8L63.6 458L64.3 458.3L64.9 458.6L58.2 463.2L57.5 463L56.9 462.7L56.3 462.4L55.7 462.1L55.1 461.9L54.4 461.6L53.8 461.3L53.2 461.1L52.6 460.8L52 460.5L51.4 460.3L50.8 460" fill="#f09"/>
<path d="M57.5 455.5L64.3 458.3M57.5 455.5L51.3 459.7" class="m"/>
<path d="M64.3 458.3L65 458.6L65.6 458.9L66.2 459.1L66.8 459.4L67.4 459.7L68.1 459.9L68.7 460.2L69.3 460.5L69.9 460.7L70.6 461L71.2 461.3L71.8 461.5L65.2 466.3L64.5 466L63.9 465.7L63.3 465.5L62.6 465.2L62 464.9L61.4 464.6L60.7 464.4L60.1 464.1L59.5 463.8L58.9 463.5L58.2 463.3L57.6 463" fill="#f00"/>
<path d="M64.3 458.3L71.3 461.3M64.3 458.3L58.1 462.7" class="m"/>
<path d="M71.3 461.3L71.9 461.6L72.5 461.8L73.2 462.1L73.8 462.4L74.5 462.6L75.1 462.9L75.7 463.2L76.4 463.4L77 463.7L77.7 464L78.3 464.3L78.9 464.5L72.3 469.4L71.7 469.1L71 468.8L70.4 468.5L69.7 468.3L69.1 468L68.4 467.7L67.8 467.4L67.2 467.1L66.5 466.9L65.9 466.6L65.2 466.3L64.6 466" fill="#f09"/>
<path d="M71.3 461.3L78.4 464.3M71.3 461.3L65.1 465.7" class="m"/>
<path d="M78.4 464.3L79 464.6L79.7 464.8L80.3 465.1L81 465.4L81.6 465.7L82.3 465.9L82.9 466.2L83.6 466.5L84.2 466.7L84.9 467L85.5 467.3L86.2 467.5L79.6 472.5L79 472.2L78.3 472L77.6 471.7L77 471.4L76.3 471.1L75.7 470.8L75 470.6L74.4 470.3L73.7 470L73 469.7L72.4 469.4L71.7 469.2" fill="#f00"/>
<path d="M78.4 464.3L85.6 467.3M78.4 464.3L72.2 468.8" class="m"/>
<path d="M85.6 467.3L86.3 467.6L87 467.8L87.6 468.1L88.3 468.4L89 468.6L89.6 468.9L90.3 469.1L91 469.4L91.7 469.6L92.4 469.9L85.8 474.9L85.1 474.7L84.5 474.4L83.8 474.2L83.1 473.9L82.4 473.6L81.7 473.4L81.1 473.1L80.4 472.8L79.7 472.5L79 472.3" fill="#f0a"/>
<path d="M91.8 469.7L92.7 470L93.6 470.3L87.1 475.4L86.2 475.1L85.2 474.7" fill="#e0a"/>
<path d="M85.6 467.3L86.2 467.5L86.8 467.8L87.5 468L88.1 468.3L88.7 468.5L89.3 468.7L89.9 469L90.5 469.2L91.2 469.4L91.8 469.7L92.4 469.9L93 470.1M85.6 467.3L79.5 471.9" class="m"/>
<path d="M93 470.1L93.8 470.3L94.6 470.6L95.3 470.8L96.1 470.9L89.6 476.1L88.8 475.9L88 475.7L87.3 475.4L86.5 475.2" fill="#e00"/>
<path d="M95.5 470.8L96.3 471L97.1 471.1L98 471.1L91.5 476.4L90.6 476.3L89.8 476.2L89 476" fill="#d00"/>
<path d="M97.4 471.1L98.3 471.1L99.2 471L92.7 476.4L91.8 476.4L90.9 476.4" fill="#c00"/>
<path d="M98.6 471.1L99.5 470.9L100.4 470.5L94 476.1L93 476.3L92.1 476.4" fill="#b00"/>
<path d="M99.9 470.8L101 470.2L94.6 475.8L93.4 476.3" fill="#a00"/>
<path d="M93 470.1L93.6 470.3L94.3 470.5L94.9 470.6L95.5 470.8L96.1 470.9L96.8 471L97.4 471.1L98 471.1L98.6 471.1L99.2 470.9L99.9 470.8L100.5 470.5M93 470.1L87 474.8" class="m"/>
<path d="M100.5 470.5L101.7 469.7L95.2 475.4L94 476.1" fill="#a0d"/>
<path d="M101.1 470.2L101.7 469.6L102.4 468.7L103 467.6L103.7 466.2L104.3 464.6L104.9 462.7L105.6 460.6L106.2 458.2L106.8 455.9L107.4 453.5L108 450.5L101.5 457.8L100.9 460.4L100.3 462.7L99.7 465.1L99.1 467.4L98.5 469.4L97.9 471.1L97.2 472.5L96.6 473.7L95.9 474.7L95.3 475.4L94.6 475.8" fill="#90d"/>
<path d="M100.5 470.5L101.1 470.2L101.7 469.7L102.3 468.9L102.9 467.9L103.5 466.7L104.1 465.2L104.6 463.6L105.2 461.8L105.8 459.7L106.4 457.5L106.9 455.4L107.5 453.1M100.5 470.5L94.5 475.7" class="m"/>
<path d="M107.5 453.1L108.1 450L108.8 446.9L109.4 443.6L110 440.3L110.7 437L111.4 434.6L112.1 433L112.8 432.1L113.6 431.8L106.9 436.9L106.1 437.6L105.4 439L104.7 441.2L104.1 444.3L103.5 447.7L102.8 451L102.2 454.2L101.6 457.4L101 460.1" fill="#900"/>
<path d="M112.9 432L114.3 432.4L107.6 436.9L106.2 437.5" fill="#c00"/>
<path d="M113.6 431.8L115 433.4L108.3 437.6L106.9 436.9" fill="#f00"/>
<path d="M114.3 432.5L115.7 435.1L109 438.7L107.6 436.9" fill="#e00"/>
<path d="M107.5 453.1L108.1 450.3L108.7 447.5L109.2 444.6L109.8 441.6L110.4 438.5L111 435.9L111.6 433.9L112.3 432.7L112.9 432L113.6 431.8L114.3 432.5L115 433.5M107.5 453.1L101.5 459.6" class="m"/>
<path d="M115 433.5L116.1 436.5L117.3 441.2L110.6 443.7L109.4 439.6L108.3 437.7" fill="#d0f"/>
<path d="M116.6 438L117.5 442.4L118.5 447.6L119.5 452.8L120.4 457L113.9 460.2L112.8 455L111.8 449.5L110.8 444.7L109.8 440.9" fill="#c0f"/>
<path d="M119.7 454.1L120.8 458L121.8 458.1L115.4 464L114.3 461.9L113.1 456.3" fill="#d0f"/>
<path d="M121.2 458.6L122 457.7L122.8 454.1L123.6 449L124.3 443L117.9 452L117.1 457.6L116.4 462L115.6 463.9L114.7 463.1" fill="#90d"/>
<path d="M115 433.5L115.8 435.2L116.6 438L117.3 441.5L118.1 445.5L118.9 449.9L119.7 454.1L120.5 457.2L121.2 458.6L121.8 458L122.5 455.7L123.1 452L123.8 447.7M115 433.5L108.8 437.4" class="m"/>
<path d="M123.8 447.7L124.6 441.3L125.5 436.7L126.4 436.8L119.8 441.4L118.9 443.9L118.1 450.1L117.3 456.3" fill="#900"/>
<path d="M125.7 436.4L127.2 439.1L120.5 442.4L119.1 442.5" fill="#f00"/>
<path d="M126.4 436.9L127.9 442.8L121.3 445.2L119.8 441.4" fill="#d00"/>
<path d="M127.2 439.3L128.1 443.6L128.9 448.6L129.8 454L130.7 459.5L131.5 464.9L132.4 469.5L133.2 473.2L126.9 476.6L126 472.2L125.1 467L124.2 461.3L123.3 455.8L122.4 450.6L121.5 445.9L120.6 442.5" fill="#c00"/>
<path d="M123.8 447.7L124.4 442.7L125 438.2L125.7 436.4L126.4 436.9L127.2 439.3L128 443L128.7 447.4L129.5 452L130.3 456.8L131 461.8L131.8 466.4L132.5 470.2M123.8 447.7L117.8 455.7" class="m"/>
<path d="M132.5 470.2L133.9 475.9L127.7 479.7L126.2 473.1" fill="#c0f"/>
<path d="M133.3 473.4L134.1 476.5L135 479.1L135.8 481.4L136.7 483.3L137.5 484.8L131.4 489.8L130.5 488L129.6 485.9L128.7 483.3L127.9 480.4L127 476.8" fill="#d0f"/>
<path d="M136.9 483.6L137.9 485.4L139 486.7L132.8 492L131.7 490.5L130.7 488.4" fill="#e0f"/>
<path d="M138.3 485.9L139.7 487.5L133.5 492.9L132.1 491.1" fill="#f0f"/>
<path d="M139 486.7L140.1 487.9L141.1 488.8L135 494.4L133.9 493.3L132.9 492.1" fill="#f0e"/>
<path d="M140.4 488.2L141.8 489.5L135.7 495L134.3 493.7" fill="#f0d"/>
<path d="M132.5 470.2L133.3 473.4L134 476.1L134.7 478.3L135.4 480.4L136.2 482.2L136.9 483.6L137.6 484.9L138.3 485.9L139 486.7L139.7 487.5L140.4 488.2L141.2 488.9M132.5 470.2L126.7 472.9" class="m"/>
<path d="M141.2 488.9L141.9 489.5L142.7 490.1L143.5 490.7L144.3 491.2L145 491.8L145.8 492.2L146.6 492.7L147.4 493.1L148.2 493.5L148.9 493.9L149.7 494.3L150.5 494.7L144.5 500.6L143.7 500.2L142.9 499.8L142.1 499.4L141.3 498.9L140.5 498.5L139.7 498L139 497.5L138.2 496.9L137.4 496.4L136.6 495.8L135.8 495.1L135 494.4" fill="#f00"/>
<path d="M141.2 488.9L141.9 489.5L142.6 490.1L143.3 490.6L144 491.1L144.7 491.6L145.5 492L146.2 492.4L146.9 492.8L147.6 493.2L148.4 493.6L149.1 494L149.8 494.4M141.2 488.9L135.5 494" class="m"/>
<path d="M149.8 494.4L150.6 494.7L151.3 495.1L152 495.4L152.8 495.7L153.5 496.1L154.3 496.4L155 496.7L155.7 497.1L156.5 497.4L157.2 497.7L158 498L158.7 498.4L152.8 504.4L152 504.1L151.3 503.8L150.5 503.4L149.8 503.1L149 502.7L148.3 502.4L147.5 502.1L146.8 501.7L146 501.4L145.3 501L144.6 500.6L143.8 500.3" fill="#f0a"/>
<path d="M149.8 494.4L158.7 498.4M149.8 494.4L144.3 499.8M158.7 498.4L153.2 504" class="m"/>
<path d="M51.3 459.7L51.9 459.9L52.5 460.2L53.1 460.5L53.7 460.7L54.3 461L54.9 461.3L55.6 461.5L56.2 461.8L56.8 462.1L57.4 462.3L58 462.6L58.6 462.9L52.2 467.3L51.6 467.1L51 466.8L50.4 466.5L49.7 466.2L49.1 465.9L48.5 465.7L47.9 465.4L47.3 465.1L46.6 464.8L46 464.6L45.4 464.3L44.8 464" fill="#0d0"/>
<path d="M51.3 459.7L58.1 462.7M51.3 459.7L44.8 464M44.8 464L51.7 467.1" class="m"/>
<path d="M58.1 462.7L58.7 462.9L59.4 463.2L60 463.5L60.6 463.7L61.2 464L61.9 464.3L62.5 464.6L63.1 464.8L63.7 465.1L64.4 465.4L65 465.7L65.6 465.9L59.3 470.5L58.6 470.2L58 469.9L57.4 469.6L56.7 469.3L56.1 469.1L55.5 468.8L54.8 468.5L54.2 468.2L53.6 467.9L52.9 467.7L52.3 467.4L51.7 467.1" fill="#f70"/>
<path d="M58.1 462.7L65.1 465.7M58.1 462.7L51.7 467.1M51.7 467.1L58.7 470.2" class="m"/>
<path d="M65.1 465.7L65.7 466L66.4 466.2L67 466.5L67.6 466.8L68.3 467.1L68.9 467.4L69.6 467.6L70.2 467.9L70.9 468.2L71.5 468.5L72.2 468.8L72.8 469L66.5 473.7L65.8 473.4L65.2 473.1L64.5 472.8L63.9 472.5L63.2 472.2L62.6 471.9L61.9 471.7L61.3 471.4L60.6 471.1L60 470.8L59.4 470.5L58.7 470.2" fill="#0d0"/>
<path d="M65.1 465.7L72.2 468.8M65.1 465.7L58.7 470.2M58.7 470.2L65.9 473.4" class="m"/>
<path d="M72.2 468.8L72.9 469.1L73.5 469.4L74.2 469.6L74.8 469.9L75.5 470.2L76.1 470.5L76.8 470.8L77.5 471L78.1 471.3L78.8 471.6L79.4 471.9L80.1 472.1L73.8 476.9L73.2 476.6L72.5 476.3L71.8 476L71.2 475.8L70.5 475.5L69.8 475.2L69.2 474.9L68.5 474.6L67.9 474.3L67.2 474L66.6 473.7L65.9 473.4" fill="#f70"/>
<path d="M72.2 468.8L79.5 471.9M72.2 468.8L65.9 473.4M65.9 473.4L73.2 476.7" class="m"/>
<path d="M79.5 471.9L80.2 472.2L80.9 472.5L81.5 472.7L82.2 473L82.9 473.3L83.5 473.5L84.2 473.8L84.9 474L85.5 474.3L86.2 474.5L86.9 474.8L87.6 475L81.3 479.9L80.6 479.7L80 479.4L79.3 479.1L78.6 478.9L77.9 478.6L77.3 478.3L76.6 478.1L75.9 477.8L75.2 477.5L74.6 477.2L73.9 476.9L73.2 476.7" fill="#0d0"/>
<path d="M79.5 471.9L80.1 472.2L80.8 472.4L81.4 472.7L82 472.9L82.6 473.2L83.2 473.4L83.9 473.6L84.5 473.9L85.1 474.1L85.7 474.4L86.3 474.6L87 474.8M79.5 471.9L73.2 476.7M73.2 476.7L73.9 476.9L74.5 477.2L75.1 477.4L75.7 477.7L76.3 478L77 478.2L77.6 478.5L78.2 478.7L78.8 479L79.5 479.2L80.1 479.5L80.7 479.7" class="m"/>
<path d="M87 474.8L87.7 475.1L88.5 475.3L89.2 475.5L89.9 475.7L90.7 475.9L84.5 480.9L83.7 480.7L83 480.5L82.2 480.2L81.5 480L80.7 479.7" fill="#e70"/>
<path d="M90.1 475.8L90.9 475.9L91.8 476L92.6 476.1L86.4 481.1L85.5 481.1L84.7 480.9L83.9 480.7" fill="#d60"/>
<path d="M92 476L92.9 476L93.8 475.9L87.6 481.1L86.7 481.2L85.8 481.1" fill="#c60"/>
<path d="M93.2 476L94.4 475.7L88.2 480.9L87 481.1" fill="#b60"/>
<path d="M93.9 475.9L95.1 475.4L88.9 480.7L87.7 481.1" fill="#b50"/>
<path d="M87 474.8L87.6 475L88.2 475.2L88.9 475.4L89.5 475.6L90.1 475.8L90.7 475.9L91.4 476L92 476L92.6 476L93.2 476L93.9 475.9L94.5 475.7M87 474.8L80.7 479.7M80.7 479.7L81.4 479.9L82 480.1L82.6 480.3L83.3 480.5L83.9 480.7L84.5 480.9L85.1 481L85.8 481.1L86.4 481.1L87 481.1L87.7 481.1L88.3 480.9" class="m"/>
<path d="M94.5 475.7L95.4 475.2L96.3 474.5L90.1 480L89.2 480.6L88.3 480.9" fill="#0a0"/>
<path d="M95.7 475L96.4 474.4L97 473.4L97.7 472.1L98.3 470.7L98.9 468.9L99.5 466.9L100.2 464.7L100.8 462.2L101.4 459.9L102 457.3L95.8 464L95.2 466.3L94.6 468.8L94 471.1L93.4 473.3L92.7 475.1L92.1 476.7L91.5 478L90.8 479.1L90.2 479.9L89.5 480.4" fill="#090"/>
<path d="M94.5 475.7L95.1 475.4L95.7 475L96.3 474.4L96.9 473.5L97.5 472.5L98.1 471.2L98.7 469.7L99.2 468L99.8 466.1L100.4 463.9L100.9 461.7L101.5 459.6M94.5 475.7L88.3 480.9M88.3 480.9L88.9 480.7L89.5 480.4L90.1 479.9L90.7 479.3L91.3 478.3L91.9 477.2L92.5 475.8L93 474.2L93.6 472.4L94.2 470.4L94.7 468.2L95.3 466" class="m"/>
<path d="M101.5 459.6L102.1 456.9L102.7 453.7L103.3 450.5L103.9 447.3L104.5 443.9L105.2 440.8L105.8 438.6L106.5 437.3L107.3 436.5L108 436.6L101.6 441.2L100.9 441.7L100.1 442.7L99.5 444.7L98.8 447.4L98.2 450.9L97.6 454.2L97 457.4L96.5 460.6L95.9 463.6L95.3 466" fill="#940"/>
<path d="M107.4 436.5L108.8 437.3L102.3 441.6L101 441.6" fill="#e70"/>
<path d="M108.1 436.6L109.5 438.4L103.1 442.5L101.6 441.2" fill="#f70"/>
<path d="M101.5 459.6L102 457.1L102.6 454.3L103.1 451.3L103.7 448.4L104.3 445.4L104.8 442.3L105.4 439.9L106.1 438.1L106.7 437.1L107.4 436.5L108.1 436.6L108.8 437.4M101.5 459.6L95.3 466M95.3 466L95.8 463.8L96.4 461.1L96.9 458.2L97.4 455.3L98 452.3L98.5 449.2L99.1 446.2L99.7 444L100.3 442.4L101 441.6L101.6 441.2L102.4 441.6" class="m"/>
<path d="M108.8 437.4L109.8 439L110.8 442.5L111.9 447.2L105.4 449.6L104.4 445.5L103.3 442.9L102.4 441.6" fill="#0f0"/>
<path d="M111.1 443.7L112.1 448.4L113.1 453.8L114.2 459.1L115.1 462.6L108.9 466.3L107.8 461.4L106.8 455.8L105.7 450.7L104.7 446.6" fill="#0e0"/>
<path d="M114.4 460.2L115.5 463.5L116.5 462.7L110.3 468.6L109.3 467.6L108.1 462.6" fill="#0f0"/>
<path d="M115.9 463.6L116.7 461.9L117.6 457.3L118.3 451.4L112.2 459.6L111.4 464.9L110.6 468.3L109.7 468.5" fill="#090"/>
<path d="M108.8 437.4L109.6 438.5L110.3 440.7L111.1 443.7L111.9 447.5L112.8 451.7L113.6 456.1L114.4 460.2L115.2 462.8L115.9 463.6L116.5 462.6L117.2 459.6L117.8 455.7M108.8 437.4L102.4 441.6M102.4 441.6L103.1 442.6L103.9 443.9L104.7 446.6L105.5 449.8L106.4 453.8L107.2 458.3L108.1 462.6L108.9 466.5L109.7 468.5L110.4 468.6L111 467L111.6 463.6" class="m"/>
<path d="M117.8 455.7L118.5 449.9L119.3 443.9L120.1 441.1L121 442.1L114.7 446.1L113.8 446.9L113 452L112.3 458.2L111.6 463.6" fill="#940"/>
<path d="M120.3 441L121.8 445L115.5 447.9L114 446.5" fill="#e70"/>
<path d="M121.1 442.2L122.6 449L116.3 451.2L114.7 446.2" fill="#d60"/>
<path d="M121.9 445.2L122.8 449.9L123.7 455.2L124.6 460.8L125.6 466.6L126.5 471.9L127.4 476.3L121.3 479.4L120.3 474.4L119.4 468.6L118.4 462.8L117.4 457.3L116.5 452.1L115.5 448" fill="#c60"/>
<path d="M117.8 455.7L118.4 451.1L119 446.2L119.6 442L120.3 441L121.1 442.2L121.9 445.2L122.7 449.2L123.5 453.7L124.3 458.5L125.1 463.5L125.9 468.5L126.7 472.9M117.8 455.7L111.6 463.6M111.6 463.6L112.2 459.3L112.8 454.4L113.4 449.5L114 446.5L114.7 446.2L115.5 448L116.3 451.5L117.2 455.9L118 460.5L118.9 465.4L119.7 470.5L120.5 475.4" class="m"/>
<path d="M126.7 472.9L128.1 479.4L122.1 482.9L120.5 475.4" fill="#0e0"/>
<path d="M127.4 476.6L128.2 479.9L129 482.5L129.8 484.9L130.6 487L131.4 488.7L132.2 490.2L133 491.3L133.8 492.3L134.6 493.1L135.4 493.9L136.2 494.6L130.3 499.9L129.5 499.2L128.7 498.3L127.9 497.4L127.1 496.3L126.3 495L125.5 493.4L124.7 491.4L123.9 489.1L123 486.5L122.2 483.4L121.3 479.7" fill="#0f0"/>
<path d="M126.7 472.9L127.4 476.6L128.2 479.6L128.9 482.2L129.7 484.4L130.4 486.4L131.1 488.1L131.9 489.5L132.6 490.7L133.3 491.7L134 492.5L134.8 493.3L135.5 494M126.7 472.9L120.5 475.4M120.5 475.4L121.3 479.7L122.1 483.2L122.9 486.1L123.7 488.5L124.4 490.7L125.2 492.7L125.9 494.3L126.7 495.6L127.4 496.7L128.1 497.7L128.9 498.5L129.6 499.3" class="m"/>
<path d="M135.5 494L136.3 494.7L137 495.4L137.8 496L138.6 496.5L139.4 497.1L140.2 497.6L141 498.1L141.8 498.5L142.6 498.9L143.4 499.4L144.2 499.8L145 500.2L139.2 505.9L138.4 505.4L137.6 505L136.8 504.6L136 504.1L135.2 503.6L134.4 503.1L133.6 502.6L132.8 502L132 501.4L131.2 500.8L130.4 500L129.6 499.3" fill="#f70"/>
<path d="M135.5 494L136.2 494.7L136.9 495.3L137.7 495.8L138.4 496.4L139.1 496.9L139.9 497.4L140.6 497.8L141.3 498.2L142.1 498.7L142.8 499.1L143.5 499.5L144.3 499.8M135.5 494L129.6 499.3M129.6 499.3L130.4 500L131.1 500.7L131.8 501.3L132.6 501.8L133.3 502.4L134 502.9L134.8 503.4L135.5 503.8L136.3 504.3L137 504.7L137.7 505.1L138.5 505.5" class="m"/>
<path d="M144.3 499.8L145 500.2L145.7 500.6L146.5 500.9L147.2 501.3L148 501.6L148.7 502L149.5 502.3L150.2 502.6L151 503L151.7 503.3L152.5 503.7L153.2 504L147.6 509.8L146.8 509.5L146 509.1L145.3 508.8L144.5 508.4L143.8 508.1L143 507.7L142.2 507.4L141.5 507L140.7 506.6L140 506.3L139.2 505.9L138.5 505.5" fill="#0d0"/>
<path d="M144.3 499.8L145 500.2L145.7 500.6L146.5 500.9L147.2 501.3L148 501.6L148.7 502L149.5 502.3L150.2 502.6L151 503L151.7 503.3L152.5 503.7L153.2 504M144.3 499.8L138.5 505.5M138.5 505.5L139.2 505.9L140 506.3L140.7 506.6L141.5 507L142.2 507.4L143 507.7L143.8 508.1L144.5 508.4L145.3 508.8L146 509.1L146.8 509.5L147.6 509.8M153.2 504L147.6 509.8" class="m"/>
<path d="M36.1 417.7L149.1 460.4M149.1 460.4L215.3 402.1M149.1 460.4L148.5 513.6M41.3 465.3L148.5 513.6M148.5 513.6L211.7 447.6" stroke="#8a8a8a" stroke-width="0.8" fill="none"/>
<text x="115.0" y="370.6" text-anchor="middle" class="l3" transform="scale(0.98 1)">0.0</text>
<text x="98.2" y="379.6" text-anchor="middle" class="l3" transform="scale(0.98 1)">0.5</text>
<text x="78.9" y="379.2" text-anchor="middle" class="l3" transform="scale(0.98 1)">t</text>
<text x="80.3" y="389.4" text-anchor="middle" class="l3" transform="scale(0.98 1)">1.0</text>
<text x="60.2" y="399.6" text-anchor="middle" class="l3" transform="scale(0.98 1)">1.5</text>
<text x="37.8" y="411.1" text-anchor="middle" class="l3" transform="scale(0.98 1)">2.0</text>
<text x="29.8" y="431.1" text-anchor="middle" class="l3" transform="scale(0.98 1)">3.0</text>
<text x="32.7" y="448.5" text-anchor="middle" class="l3" transform="scale(0.98 1)">2.8</text>
<text x="32.9" y="464.9" text-anchor="middle" class="l3" transform="scale(0.98 1)">2.6</text>
<text x="-2.5" y="454.5" class="l3" textLength="30" lengthAdjust="spacingAndGlyphs"><tspan style="font-family:'Liberation Serif',serif;font-style:italic;font-size:9.5px">w</tspan><tspan font-size="5.8" dy="1.6">22</tspan><tspan dy="-1.6" font-size="7.6" font-weight="normal" fill="#666" stroke="none">(</tspan><tspan font-size="8.2">x,t</tspan><tspan font-size="7.6" font-weight="normal" fill="#666" stroke="none">)</tspan></text>
<text x="45.1" y="478.9" text-anchor="middle" class="l3" transform="scale(0.98 1)">10</text>
<text x="67.1" y="489.4" text-anchor="middle" class="l3" transform="scale(0.98 1)">5</text>
<text x="91.8" y="499.5" text-anchor="middle" class="l3" transform="scale(0.98 1)">0</text>
<text x="91.2" y="510.0" text-anchor="middle" class="l3" transform="scale(0.98 1)">x</text>
<text x="118.7" y="511.1" text-anchor="middle" class="l3" transform="scale(0.98 1)">- 5</text>
<text x="146.4" y="524.6" text-anchor="middle" class="l3" transform="scale(0.98 1)">- 10</text>
<path d="M357.6 381.1L358.2 421.8M279.8 470.1L358.2 421.8M464.6 450.8L358.2 421.8M275.1 422.9L357.6 381.1M357.6 381.1L468.9 406.5M279.8 470.1L275.1 422.9M468.9 406.5L464.6 450.8" stroke="#8a8a8a" stroke-width="0.8" fill="none"/>
<path d="M397.5 512.1L399.5 510.2M390.9 509.8L391.9 508.9M384.5 507.5L385.5 506.6M378.1 505.2L379.1 504.3M371.8 502.9L372.8 502.1M365.7 500.7L367.8 499M359.5 498.5L360.6 497.7M353.5 496.4L354.6 495.6M347.6 494.3L348.6 493.4M341.7 492.2L342.8 491.4M335.9 490.1L338.1 488.4M330.2 488.1L331.3 487.3M324.6 486L325.6 485.3M319 484.1L320.1 483.3M313.5 482.1L314.6 481.3M308.1 480.1L310.3 478.6M302.7 478.2L303.8 477.5M297.4 476.3L298.5 475.6M292.2 474.5L293.3 473.8M287 472.6L288.1 471.9M281.9 470.8L284.2 469.3M356.2 381.8L358.7 382.4M352.9 383.5L354.1 383.8M349.6 385.2L350.8 385.5M346.1 386.9L347.4 387.2M342.7 388.7L343.9 389M339.1 390.5L341.7 391.1M335.5 392.3L336.7 392.6M331.8 394.2L333.1 394.5M328.1 396.1L329.3 396.4M324.3 398L325.5 398.3M320.4 400L323 400.6M316.4 402L317.7 402.3M312.4 404L313.7 404.3M308.3 406.1L309.6 406.4M304.1 408.2L305.4 408.6M299.8 410.4L302.5 411.1M295.4 412.6L296.7 413M291 414.9L292.3 415.2M286.4 417.2L287.7 417.5M281.8 419.5L283.1 419.9M277.1 421.9L279.8 422.7M279.7 468.8L280.9 469.2M279.3 465L280.6 465.5M278.9 461.3L281.6 462.2M278.5 457.4L279.8 457.9M278.1 453.6L279.4 454M277.7 449.7L279 450.2M277.4 445.8L280.1 446.7M277 441.9L278.3 442.3M276.6 437.9L277.9 438.3M276.2 433.9L277.5 434.3M275.7 429.9L278.5 430.7M275.3 425.8L276.7 426.2" stroke="#777" stroke-width="0.7" fill="none"/>
<path d="M358.8 422.3L359.4 422.5L360.1 422.7L360.7 422.9L361.3 423L362 423.2L362.6 423.4L363.3 423.6L363.9 423.7L364.5 423.9L365.2 424.1L365.8 424.3L366.5 424.4L361.3 427.7L360.6 427.6L360 427.4L359.3 427.2L358.7 427L358 426.8L357.4 426.7L356.7 426.5L356.1 426.3L355.5 426.1L354.8 425.9L354.2 425.8L353.5 425.6" fill="#0d0"/>
<path d="M358.8 422.3L365.9 424.3M358.8 422.3L353.9 425.3" class="m"/>
<path d="M365.9 424.3L366.6 424.5L367.2 424.6L367.9 424.8L368.5 425L369.2 425.2L369.8 425.3L370.5 425.5L371.1 425.7L371.8 425.8L372.4 426L373.1 426.2L373.7 426.3L368.6 429.6L367.9 429.5L367.3 429.3L366.6 429.1L366 429L365.3 428.8L364.6 428.6L364 428.5L363.3 428.3L362.7 428.1L362 427.9L361.4 427.8L360.7 427.6" fill="#f70"/>
<path d="M365.9 424.3L373.2 426.2M365.9 424.3L361.1 427.3" class="m"/>
<path d="M373.2 426.2L373.8 426.3L374.5 426.5L375.2 426.7L375.8 426.8L376.5 427L377.2 427.1L377.9 427.3L378.5 427.4L379.2 427.5L379.9 427.7L374.8 430.9L374.1 430.8L373.4 430.7L372.8 430.6L372.1 430.4L371.4 430.3L370.7 430.1L370 430L369.4 429.8L368.7 429.7L368 429.5" fill="#0d0"/>
<path d="M379.3 427.6L380.2 427.7L381.1 427.9L376 431L375.1 431L374.2 430.8" fill="#0c0"/>
<path d="M373.2 426.2L373.8 426.3L374.4 426.5L375 426.6L375.6 426.8L376.2 426.9L376.8 427L377.5 427.2L378.1 427.3L378.7 427.4L379.3 427.6L379.9 427.7L380.5 427.8M373.2 426.2L368.4 429.3" class="m"/>
<path d="M380.5 427.8L381.4 427.9L382.4 428L377.3 431L376.4 431L375.5 431" fill="#e70"/>
<path d="M381.8 427.9L382.6 428L383.4 428L384.2 428L379.2 430.7L378.4 430.9L377.5 431L376.7 431" fill="#d60"/>
<path d="M383.6 428L384.6 427.9L385.5 427.7L380.5 430.2L379.5 430.6L378.6 430.9" fill="#c60"/>
<path d="M384.9 427.9L386.1 427.5L381.1 429.8L379.9 430.5" fill="#b60"/>
<path d="M385.5 427.7L386.8 427.2L381.7 429.2L380.5 430.2" fill="#b50"/>
<path d="M386.2 427.5L387.4 426.9L382.4 428.4L381.1 429.7" fill="#a50"/>
<path d="M386.8 427.2L387.7 426.6L388.7 425.6L383.7 426.3L382.7 427.9L381.8 429.2" fill="#940"/>
<path d="M380.5 427.8L381.2 427.9L381.8 427.9L382.4 428L383 428L383.6 428L384.3 428L384.9 427.9L385.5 427.7L386.2 427.5L386.8 427.2L387.4 426.8L388.1 426.3M380.5 427.8L375.8 430.8" class="m"/>
<path d="M388.1 426.3L388.8 425.5L389.5 424.5L390.2 423.3L390.9 421.8L391.6 420.2L392.4 418.3L393.1 416.2L393.9 414.1L394.6 412.1L395.4 409.6L396.1 406.8L396.9 404.1L392 401L391.2 403.9L390.4 406.7L389.7 409.5L388.9 412.2L388.1 414.8L387.4 416.9L386.7 419L385.9 421.1L385.2 423L384.5 424.7L383.8 426.1L383.1 427.4" fill="#090"/>
<path d="M388.1 426.3L388.7 425.6L389.4 424.6L390 423.5L390.7 422.2L391.4 420.8L392 419.1L392.7 417.3L393.4 415.3L394.1 413.5L394.8 411.4L395.5 409L396.2 406.5M388.1 426.3L383.4 427.3" class="m"/>
<path d="M396.2 406.5L397.1 403.6L397.9 400.7L398.7 397.7L399.5 395.5L400.3 393.9L401.1 393.1L401.9 392.8L396.8 397.1L396.1 396.1L395.3 395.6L394.5 395.9L393.7 396.7L392.9 398.3L392.1 400.5L391.3 403.5" fill="#940"/>
<path d="M401.3 393L402.6 393.3L397.4 398.8L396.2 396.2" fill="#c60"/>
<path d="M402 392.8L403.2 394.1L398.1 401.2L396.8 397.1" fill="#f70"/>
<path d="M402.6 393.3L403.9 395.4L398.7 404.3L397.5 398.9" fill="#e70"/>
<path d="M403.3 394.1L404.5 397.7L399.3 407.7L398.1 401.4" fill="#d70"/>
<path d="M403.9 395.6L405.1 400.6L399.8 411.5L398.7 404.5" fill="#d60"/>
<path d="M396.2 406.5L397 404L397.7 401.4L398.4 398.7L399.2 396.4L399.9 394.7L400.6 393.7L401.3 393L402 392.8L402.6 393.3L403.3 394.1L403.9 395.6L404.5 397.9M396.2 406.5L391.7 403.8" class="m"/>
<path d="M404.5 397.9L405.4 402.3L406.2 407.6L401 417.1L400.2 413.3L399.3 408" fill="#0f0"/>
<path d="M405.7 404.1L406.5 409.5L407.3 413.7L402.4 417.1L401.4 417.8L400.5 415.1" fill="#0e0"/>
<path d="M406.8 411.3L407.7 414.5L408.7 414.4L403.9 411.3L402.8 416L401.7 417.9" fill="#0f0"/>
<path d="M408 415L408.8 414.2L409.7 411.4L410.6 407.4L411.6 402.6L412.6 398L413.5 395.7L408.4 401.5L407.7 399L406.9 398.5L406 401L405.1 405.8L404.1 410.5L403.2 414.5" fill="#090"/>
<path d="M404.5 397.9L405.1 400.8L405.7 404.1L406.2 407.9L406.8 411.3L407.4 413.8L408 415L408.7 414.3L409.5 412.3L410.3 409.1L411.1 405.3L411.9 401.1L412.8 397.2M404.5 397.9L399.7 407.2" class="m"/>
<path d="M412.8 397.2L414.2 396L409 404.8L407.9 399.3" fill="#940"/>
<path d="M413.6 395.7L414.8 397.9L409.6 408.5L408.5 401.7" fill="#f70"/>
<path d="M414.2 396.1L415.4 401L410.1 412.4L409.1 405" fill="#d70"/>
<path d="M414.8 398.1L415.9 404.6L410.7 416.5L409.6 408.7" fill="#d60"/>
<path d="M415.4 401.2L416 405.4L416.6 410L417.2 414.7L417.8 419.3L418.4 423.3L419.1 426.4L414.1 434.2L413.4 432L412.7 429.4L412.1 426.2L411.4 422.2L410.8 417.5L410.2 412.7" fill="#c60"/>
<path d="M418.5 423.9L419.4 427.6L420.2 430.5L415.4 437.2L414.4 435.1L413.5 432.4" fill="#d60"/>
<path d="M412.8 397.2L413.6 395.7L414.2 396.1L414.8 398.1L415.4 401.2L416 404.8L416.5 408.7L417 412.7L417.5 416.9L418 420.7L418.5 423.9L419.1 426.6L419.7 428.7M412.8 397.2L408.2 398.9" class="m"/>
<path d="M419.7 428.7L420.3 430.8L421 432.6L421.7 434.1L422.4 435.3L423.1 436.3L423.8 437.1L424.5 437.8L425.3 438.4L426 438.9L421.3 443.2L420.6 442.8L419.8 442.3L419.1 441.7L418.4 441.1L417.6 440.4L416.9 439.6L416.2 438.7L415.5 437.4L414.8 435.9" fill="#0f0"/>
<path d="M425.4 438.5L426.3 439.1L427.1 439.7L428 440.2L423.4 444.3L422.5 443.9L421.6 443.4L420.7 442.9" fill="#0e0"/>
<path d="M419.7 428.7L420.3 430.6L420.9 432.3L421.5 433.7L422.1 434.9L422.8 435.9L423.4 436.7L424.1 437.3L424.7 437.9L425.4 438.5L426.1 439L426.7 439.4L427.4 439.8M419.7 428.7L415.1 435.4" class="m"/>
<path d="M427.4 439.8L428.1 440.2L428.8 440.6L429.6 441L430.3 441.3L431 441.6L431.8 441.9L432.5 442.2L433.3 442.4L434 442.7L434.7 442.9L435.5 443.2L436.2 443.4L431.7 447.3L430.9 447.1L430.2 446.8L429.4 446.6L428.7 446.4L427.9 446.1L427.2 445.8L426.4 445.6L425.7 445.3L425 445L424.2 444.7L423.5 444.4L422.7 444" fill="#f70"/>
<path d="M427.4 439.8L428.1 440.2L428.7 440.6L429.4 440.9L430.1 441.2L430.8 441.5L431.5 441.8L432.1 442L432.8 442.3L433.5 442.5L434.2 442.8L434.9 443L435.6 443.2M427.4 439.8L423.1 443.7" class="m"/>
<path d="M435.6 443.2L436.3 443.4L437.1 443.7L437.8 443.9L438.6 444.1L439.3 444.3L440.1 444.5L440.8 444.7L441.6 445L442.4 445.2L443.1 445.4L443.9 445.6L444.6 445.8L440.2 449.7L439.4 449.5L438.7 449.3L437.9 449.1L437.1 448.9L436.4 448.7L435.6 448.4L434.8 448.2L434.1 448L433.3 447.8L432.6 447.5L431.8 447.3L431 447.1" fill="#0d0"/>
<path d="M435.6 443.2L444 445.6M435.6 443.2L431.4 446.8" class="m"/>
<path d="M444 445.6L444.7 445.8L445.5 446L446.3 446.3L447 446.5L447.8 446.7L448.6 446.9L449.3 447.1L450.1 447.3L450.9 447.5L451.6 447.7L452.4 447.9L453.2 448.2L448.8 452.2L448.1 451.9L447.3 451.7L446.5 451.5L445.7 451.3L444.9 451.1L444.2 450.8L443.4 450.6L442.6 450.4L441.8 450.2L441.1 450L440.3 449.8L439.5 449.6" fill="#f70"/>
<path d="M444 445.6L452.5 448M444 445.6L439.9 449.3" class="m"/>
<path d="M452.5 448L453.2 448.2L454 448.4L454.7 448.6L455.4 448.8L456.1 449L456.9 449.2L457.6 449.4L458.3 449.6L459 449.8L459.8 450L460.5 450.2L461.2 450.4L457 454.4L456.2 454.2L455.5 454L454.7 453.8L454 453.6L453.3 453.4L452.5 453.2L451.8 453L451.1 452.8L450.3 452.6L449.6 452.4L448.9 452.2L448.2 452" fill="#0d0"/>
<path d="M452.5 448L461.2 450.4M452.5 448L448.5 451.7M461.2 450.4L457.3 454.1" class="m"/>
<path d="M353.9 425.3L354.6 425.5L355.2 425.7L355.8 425.9L356.5 426.1L357.1 426.2L357.8 426.4L358.4 426.6L359.1 426.8L359.7 427L360.4 427.1L361 427.3L361.7 427.5L356.3 430.9L355.7 430.7L355 430.5L354.4 430.3L353.7 430.2L353.1 430L352.4 429.8L351.8 429.6L351.1 429.4L350.5 429.2L349.8 429.1L349.2 428.9L348.5 428.7" fill="#f09"/>
<path d="M353.9 425.3L361.1 427.3M353.9 425.3L348.9 428.4" class="m"/>
<path d="M361.1 427.3L361.8 427.5L362.4 427.7L363.1 427.9L363.7 428L364.4 428.2L365 428.4L365.7 428.6L366.3 428.7L367 428.9L367.7 429.1L368.3 429.2L369 429.4L363.7 432.8L363 432.6L362.4 432.5L361.7 432.3L361 432.1L360.4 432L359.7 431.8L359.1 431.6L358.4 431.4L357.7 431.3L357.1 431.1L356.4 430.9L355.8 430.7" fill="#f00"/>
<path d="M361.1 427.3L368.4 429.3M361.1 427.3L356.2 430.5" class="m"/>
<path d="M368.4 429.3L369.1 429.4L369.8 429.6L370.5 429.8L371.3 429.9L372 430.1L372.7 430.2L367.4 433.6L366.7 433.5L366 433.3L365.3 433.2L364.6 433L363.8 432.8L363.1 432.7" fill="#f0a"/>
<path d="M372.1 430.1L372.8 430.3L373.5 430.4L374.3 430.5L375 430.7L375.7 430.7L376.4 430.8L371.2 433.9L370.5 433.9L369.7 433.9L369 433.8L368.3 433.7L367.6 433.6L366.9 433.5" fill="#e0a"/>
<path d="M368.4 429.3L369 429.4L369.6 429.5L370.2 429.7L370.9 429.8L371.5 430L372.1 430.1L372.7 430.2L373.3 430.4L374 430.5L374.6 430.6L375.2 430.7L375.8 430.8M368.4 429.3L363.5 432.4" class="m"/>
<path d="M375.8 430.8L376.7 430.8L377.5 430.8L378.3 430.8L373.1 433.6L372.3 433.8L371.4 433.9L370.6 433.9" fill="#d00"/>
<path d="M377.7 430.8L378.6 430.7L379.6 430.5L374.4 433.1L373.4 433.5L372.5 433.8" fill="#c00"/>
<path d="M379 430.7L379.9 430.4L380.8 430L375.7 432.2L374.7 432.9L373.8 433.4" fill="#b00"/>
<path d="M380.2 430.3L381.5 429.6L376.3 431.4L375.1 432.7" fill="#a00"/>
<path d="M380.9 430L381.7 429.5L382.5 428.8L383.2 427.6L384.1 426.3L378.9 426.4L378.1 428.2L377.3 429.8L376.5 431.1L375.7 432.1" fill="#900"/>
<path d="M375.8 430.8L376.5 430.8L377.1 430.8L377.7 430.8L378.3 430.8L379 430.7L379.6 430.5L380.2 430.3L380.9 430L381.5 429.6L382.1 429.1L382.8 428.3L383.4 427.3M375.8 430.8L371 433.7" class="m"/>
<path d="M383.4 427.3L384.1 426.1L384.9 424.7L385.6 423L386.3 421.1L387 419.1L387.8 417L388.5 414.9L389.3 412.4L390 409.6L390.8 406.9L391.6 404.1L392.3 401.2L387.2 399.9L386.4 401.7L385.6 404.2L384.9 407.1L384.1 409.9L383.4 412.7L382.6 415.5L381.9 418L381.2 420.1L380.4 422.2L379.7 424.3L379 426.2L378.3 427.8" fill="#90d"/>
<path d="M383.4 427.3L384.1 426.2L384.8 424.9L385.4 423.4L386.1 421.7L386.8 419.8L387.4 417.8L388.1 416L388.8 413.9L389.5 411.4L390.2 408.9L390.9 406.3L391.7 403.8M383.4 427.3L378.7 427.8" class="m"/>
<path d="M391.7 403.8L392.5 400.5L393.4 398.1L394.2 396.5L395 395.6L395.8 395.4L390.6 399.7L389.8 398.7L389 398.2L388.2 398.6L387.3 399.6L386.5 401.5" fill="#900"/>
<path d="M395.2 395.5L396.5 395.9L391.2 401.3L390 398.9" fill="#c00"/>
<path d="M395.9 395.4L397.2 396.7L391.9 403.8L390.6 399.8" fill="#f00"/>
<path d="M396.6 395.9L397.8 398.2L392.5 406.9L391.3 401.5" fill="#e00"/>
<path d="M397.2 396.8L398.1 399.1L398.9 402.5L399.6 406.9L394.3 417.6L393.5 413L392.7 408.1L391.9 403.9" fill="#d00"/>
<path d="M399.1 403.7L400.2 410.7L395 419.9L393.8 414.3" fill="#c00"/>
<path d="M391.7 403.8L392.4 401L393.1 398.8L393.8 397.1L394.5 396.1L395.2 395.5L395.9 395.4L396.6 395.9L397.2 396.8L397.9 398.3L398.5 400.7L399.1 403.7L399.7 407.2M391.7 403.8L386.9 401.5" class="m"/>
<path d="M399.7 407.2L400.5 412.5L401.4 416.6L396.3 420L395.3 420.7L394.4 417.8" fill="#c0f"/>
<path d="M400.8 414.4L402.1 417.7L397.1 417.6L395.7 420.8" fill="#d0f"/>
<path d="M401.4 416.8L402.8 417.1L397.8 414.3L396.4 420" fill="#e0f"/>
<path d="M402.1 417.7L402.9 416.8L403.8 414L404.7 410L405.6 405.3L406.5 400.6L407.4 398.3L408.2 398.8L402.9 407.4L402.2 403.7L401.5 401.5L400.7 401.4L399.8 404.2L398.9 408.9L398 413.6L397.1 417.5" fill="#90d"/>
<path d="M407.6 398.2L408.8 400.8L403.5 411.1L402.4 404.3" fill="#f0e"/>
<path d="M399.7 407.2L400.3 410.9L400.8 414.4L401.4 416.8L402.1 417.7L402.8 417L403.6 414.7L404.3 411.5L405.2 407.6L406 403.3L406.8 399.5L407.6 398.2L408.2 398.9M399.7 407.2L394.8 417.1" class="m"/>
<path d="M408.2 398.9L409.1 402.4L410 407.7L404.6 419.3L403.8 413.2L403 407.6" fill="#d00"/>
<path d="M409.4 404.2L410.1 408.5L410.7 413.1L411.3 417.9L412 422.5L412.6 426.4L413.3 429.6L408.2 437.2L407.5 435L406.8 432.4L406.1 429.1L405.4 425L404.8 420.2L404.1 415.4" fill="#c00"/>
<path d="M412.7 427.1L413.4 430.3L414.2 432.8L414.9 435L415.7 436.8L410.8 442.4L410 441.2L409.2 439.7L408.4 437.7L407.6 435.4" fill="#d00"/>
<path d="M408.2 398.9L408.9 401L409.4 404.2L410 407.9L410.6 411.8L411.1 415.9L411.6 420.1L412.2 423.9L412.7 427.1L413.3 429.7L413.9 431.9L414.5 433.7L415.1 435.4M408.2 398.9L403.3 406.9" class="m"/>
<path d="M415.1 435.4L416.1 437.4L417 439L412.1 443.9L411.1 442.9L410.2 441.5" fill="#d0f"/>
<path d="M416.4 438L417.4 439.4L418.3 440.4L413.5 445L412.5 444.2L411.5 443.3" fill="#e0f"/>
<path d="M417.7 439.8L419 441L414.1 445.6L412.8 444.5" fill="#f0f"/>
<path d="M418.4 440.5L419.7 441.6L414.8 446L413.5 445.1" fill="#f0e"/>
<path d="M419 441.1L419.9 441.8L420.8 442.4L421.7 442.9L416.9 447.2L416 446.7L415.1 446.2L414.2 445.6" fill="#f0d"/>
<path d="M421 442.5L421.9 443.1L422.8 443.6L423.7 444L418.9 448.1L418 447.8L417.1 447.3L416.2 446.8" fill="#f0c"/>
<path d="M415.1 435.4L415.8 436.9L416.4 438L417 439L417.7 439.8L418.4 440.5L419 441.1L419.7 441.6L420.4 442.1L421 442.5L421.7 443L422.4 443.3L423.1 443.7M415.1 435.4L410.5 441.1" class="m"/>
<path d="M423.1 443.7L423.8 444.1L424.5 444.4L425.3 444.7L426 445L426.8 445.3L427.5 445.6L428.3 445.8L429 446.1L429.8 446.3L430.5 446.5L431.3 446.8L432 447L427.4 451L426.6 450.8L425.8 450.5L425.1 450.3L424.3 450.1L423.6 449.8L422.8 449.6L422 449.3L421.3 449.1L420.5 448.8L419.8 448.5L419 448.2L418.3 447.9" fill="#f00"/>
<path d="M423.1 443.7L423.8 444L424.4 444.4L425.1 444.6L425.8 444.9L426.5 445.2L427.2 445.4L427.9 445.7L428.6 445.9L429.3 446.2L430 446.4L430.7 446.6L431.4 446.8M423.1 443.7L418.6 447.6" class="m"/>
<path d="M431.4 446.8L432.1 447L432.9 447.3L433.6 447.5L434.4 447.7L435.2 447.9L435.9 448.1L436.7 448.4L437.5 448.6L438.2 448.8L439 449L439.8 449.2L440.5 449.5L435.9 453.5L435.2 453.3L434.4 453L433.6 452.8L432.8 452.6L432.1 452.4L431.3 452.2L430.5 451.9L429.8 451.7L429 451.5L428.2 451.3L427.5 451L426.7 450.8" fill="#f0a"/>
<path d="M431.4 446.8L439.9 449.3M431.4 446.8L427 450.5" class="m"/>
<path d="M439.9 449.3L440.6 449.5L441.4 449.7L442.2 449.9L442.9 450.1L443.7 450.3L444.5 450.6L445.3 450.8L446 451L446.8 451.2L447.6 451.4L448.4 451.6L449.2 451.9L444.7 456L443.9 455.7L443.1 455.5L442.3 455.3L441.5 455.1L440.7 454.9L440 454.6L439.2 454.4L438.4 454.2L437.6 454L436.8 453.7L436.1 453.5L435.3 453.3" fill="#f00"/>
<path d="M439.9 449.3L448.5 451.7M439.9 449.3L435.6 453" class="m"/>
<path d="M448.5 451.7L449.2 451.9L449.9 452.1L450.7 452.3L451.4 452.5L452.1 452.7L452.9 452.9L453.6 453.1L454.3 453.3L455.1 453.5L455.8 453.7L456.5 453.9L457.3 454.1L452.9 458.3L452.1 458.1L451.4 457.9L450.6 457.7L449.9 457.5L449.2 457.2L448.4 457L447.7 456.8L446.9 456.6L446.2 456.4L445.5 456.2L444.7 456L444 455.8" fill="#f09"/>
<path d="M448.5 451.7L457.3 454.1M448.5 451.7L444.3 455.5M457.3 454.1L453.2 458" class="m"/>
<path d="M348.9 428.4L349.6 428.6L350.2 428.8L350.8 429L351.5 429.2L352.1 429.4L352.8 429.5L353.4 429.7L354.1 429.9L354.8 430.1L355.4 430.3L356.1 430.5L356.7 430.6L351.2 434.1L350.6 433.9L349.9 433.7L349.3 433.6L348.6 433.4L347.9 433.2L347.3 433L346.6 432.8L346 432.6L345.3 432.4L344.7 432.2L344 432.1L343.4 431.9" fill="#0d0"/>
<path d="M348.9 428.4L356.2 430.5M348.9 428.4L343.8 431.6" class="m"/>
<path d="M356.2 430.5L356.8 430.7L357.5 430.8L358.1 431L358.8 431.2L359.4 431.4L360.1 431.5L360.8 431.7L361.4 431.9L362.1 432.1L362.8 432.2L363.4 432.4L364.1 432.5L358.7 436L358 435.9L357.3 435.7L356.7 435.5L356 435.4L355.3 435.2L354.7 435L354 434.9L353.3 434.7L352.7 434.5L352 434.3L351.3 434.1L350.7 433.9" fill="#f70"/>
<path d="M356.2 430.5L363.5 432.4M356.2 430.5L351.1 433.7" class="m"/>
<path d="M363.5 432.4L364.2 432.6L364.9 432.7L365.7 432.9L366.4 433.1L367.1 433.2L367.8 433.4L362.4 436.8L361.7 436.7L361 436.5L360.3 436.4L359.5 436.2L358.8 436.1L358.1 435.9" fill="#0d0"/>
<path d="M367.2 433.2L368 433.4L368.7 433.5L369.4 433.6L370.1 433.7L370.9 433.7L371.6 433.7L366.2 436.8L365.5 436.9L364.8 437L364 436.9L363.3 436.9L362.6 436.8L361.8 436.7" fill="#0c0"/>
<path d="M363.5 432.4L364.1 432.6L364.8 432.7L365.4 432.8L366 433L366.6 433.1L367.2 433.2L367.9 433.4L368.5 433.5L369.1 433.6L369.7 433.6L370.4 433.7L371 433.7M363.5 432.4L358.5 435.6" class="m"/>
<path d="M371 433.7L372.2 433.7L366.9 436.7L365.6 436.9" fill="#d60"/>
<path d="M371.6 433.7L372.6 433.6L373.5 433.4L368.1 436.2L367.2 436.6L366.3 436.8" fill="#c60"/>
<path d="M372.9 433.6L374.1 433.2L368.8 435.8L367.5 436.4" fill="#b60"/>
<path d="M373.5 433.4L374.8 432.9L369.4 435.3L368.2 436.1" fill="#b50"/>
<path d="M374.2 433.2L375.4 432.5L370.1 434.5L368.8 435.8" fill="#a50"/>
<path d="M374.8 432.9L375.5 432.4L376.3 431.8L377 430.8L377.8 429.6L378.5 428.1L379.3 426.4L373.9 426L373.2 428.2L372.4 430.1L371.7 431.8L370.9 433.2L370.2 434.3L369.5 435.2" fill="#940"/>
<path d="M371 433.7L371.6 433.7L372.3 433.7L372.9 433.6L373.5 433.4L374.2 433.2L374.8 432.9L375.4 432.5L376.1 432L376.7 431.2L377.4 430.3L378 429.1L378.7 427.8M371 433.7L366 436.7" class="m"/>
<path d="M378.7 427.8L379.4 426.2L380.1 424.3L380.8 422.3L381.5 420.1L382.3 418.1L383 415.6L383.7 412.9L384.5 410.1L385.3 407.3L386 404.4L386.8 401.8L387.5 399.9L382.1 401.1L381.4 401.8L380.6 403.1L379.9 405.1L379.1 407.8L378.4 410.8L377.7 413.6L376.9 416.4L376.2 419.1L375.5 421.5L374.8 423.6L374 425.8L373.3 427.8" fill="#090"/>
<path d="M378.7 427.8L379.3 426.3L380 424.6L380.6 422.7L381.3 420.7L382 418.8L382.7 416.7L383.4 414.3L384.1 411.7L384.8 409.1L385.5 406.5L386.2 403.8L386.9 401.5M378.7 427.8L373.7 427.8" class="m"/>
<path d="M386.9 401.5L387.8 399.4L388.7 398.3L389.6 398L384.2 402.3L383.3 401.2L382.4 400.9L381.5 401.7" fill="#940"/>
<path d="M389 398.1L390.3 398.5L384.9 403.7L383.6 401.5" fill="#c60"/>
<path d="M389.7 398L391 399.3L385.5 406.1L384.2 402.3" fill="#f70"/>
<path d="M390.3 398.5L391.6 400.8L386.2 409.1L384.9 403.9" fill="#e70"/>
<path d="M391 399.4L392.3 403.2L386.8 412.6L385.6 406.3" fill="#d70"/>
<path d="M391.7 400.9L392.6 404.7L393.5 409.6L388.1 420L387.2 414.6L386.2 409.3" fill="#d60"/>
<path d="M392.9 406.4L393.7 411L394.5 415.8L395.3 419.5L390.1 423.2L389.2 423.6L388.3 421.2L387.5 416.7" fill="#c60"/>
<path d="M386.9 401.5L387.6 399.8L388.3 398.8L389 398.1L389.7 398L390.3 398.5L391 399.4L391.7 400.9L392.3 403.3L392.9 406.4L393.5 409.8L394.1 413.6L394.8 417.1M386.9 401.5L381.9 401.6" class="m"/>
<path d="M394.8 417.1L395.7 420.3L396.7 420L391.6 417.8L390.5 422.4L389.4 423.8" fill="#0f0"/>
<path d="M396 420.6L396.8 419.7L397.7 416.9L398.6 412.9L399.5 408.2L400.4 403.5L401.3 401L402.1 401.4L396.7 409.7L395.9 406.1L395.2 404.1L394.4 404.3L393.5 407.7L392.6 412.5L391.7 417.1L390.9 420.9" fill="#090"/>
<path d="M401.4 400.9L402.3 402L403.1 405.6L403.9 410.4L398.5 421.6L397.7 416.1L396.9 411.1L396.1 406.7" fill="#0f0"/>
<path d="M394.8 417.1L395.4 419.6L396 420.6L396.7 419.9L397.5 417.7L398.3 414.4L399 410.5L399.9 406.2L400.7 402.3L401.4 400.9L402.1 401.5L402.7 403.7L403.3 406.9M394.8 417.1L389.8 423.5" class="m"/>
<path d="M403.3 406.9L404 411.2L404.7 415.9L405.3 420.7L406 425.4L406.6 429.4L407.3 432.5L402.1 440.1L401.4 437.8L400.7 435.1L400 431.7L399.3 427.4L398.6 422.5L397.9 417.7" fill="#c60"/>
<path d="M406.8 430L407.6 433.4L408.4 436.1L409.2 438.4L404.1 444.5L403.2 442.9L402.4 440.7L401.5 438.3" fill="#d60"/>
<path d="M408.6 436.8L409.4 439L410.3 440.7L411.1 442.1L406.1 447.1L405.2 446.1L404.3 444.9L403.5 443.4" fill="#d70"/>
<path d="M403.3 406.9L403.9 410.6L404.5 414.6L405.1 418.7L405.6 422.9L406.2 426.8L406.8 430L407.4 432.7L408 434.9L408.6 436.8L409.2 438.5L409.9 439.9L410.5 441.1M403.3 406.9L398.3 416.9" class="m"/>
<path d="M410.5 441.1L411.3 442.3L412.1 443.2L412.9 443.9L413.7 444.6L414.5 445.2L409.5 449.7L408.7 449.2L407.9 448.6L407.1 447.9L406.3 447.2L405.5 446.4" fill="#0f0"/>
<path d="M413.9 444.8L414.6 445.3L415.4 445.8L416.2 446.3L417 446.7L417.7 447.1L418.5 447.5L419.3 447.8L414.4 452L413.6 451.7L412.8 451.4L412 451L411.2 450.6L410.4 450.2L409.7 449.8L408.9 449.3" fill="#0e0"/>
<path d="M410.5 441.1L411.2 442.1L411.8 442.9L412.5 443.6L413.2 444.2L413.9 444.8L414.5 445.3L415.2 445.7L415.9 446.1L416.6 446.5L417.3 446.9L418 447.2L418.6 447.6M410.5 441.1L405.8 446.1" class="m"/>
<path d="M418.6 447.6L419.4 447.9L420.1 448.2L420.9 448.5L421.6 448.8L422.4 449L423.2 449.3L423.9 449.5L424.7 449.8L425.4 450L426.2 450.2L426.9 450.5L427.7 450.7L422.9 454.8L422.1 454.6L421.4 454.3L420.6 454.1L419.8 453.9L419.1 453.6L418.3 453.4L417.5 453.1L416.8 452.9L416 452.6L415.3 452.3L414.5 452L413.7 451.7" fill="#f70"/>
<path d="M418.6 447.6L419.3 447.9L420 448.1L420.7 448.4L421.4 448.7L422.1 448.9L422.8 449.2L423.5 449.4L424.2 449.6L424.9 449.9L425.6 450.1L426.3 450.3L427 450.5M418.6 447.6L414.1 451.4" class="m"/>
<path d="M427 450.5L427.8 450.7L428.6 451L429.3 451.2L430.1 451.4L430.9 451.6L431.6 451.9L432.4 452.1L433.2 452.3L434 452.5L434.7 452.8L435.5 453L436.3 453.2L431.6 457.4L430.8 457.1L430 456.9L429.2 456.7L428.4 456.4L427.7 456.2L426.9 456L426.1 455.8L425.3 455.5L424.6 455.3L423.8 455.1L423 454.8L422.2 454.6" fill="#0d0"/>
<path d="M427 450.5L435.6 453M427 450.5L422.6 454.3" class="m"/>
<path d="M435.6 453L436.4 453.2L437.2 453.4L437.9 453.7L438.7 453.9L439.5 454.1L440.3 454.3L441.1 454.6L441.9 454.8L442.6 455L443.4 455.2L444.2 455.4L445 455.7L440.4 459.9L439.6 459.7L438.8 459.4L438 459.2L437.2 459L436.4 458.8L435.6 458.5L434.8 458.3L434 458.1L433.3 457.8L432.5 457.6L431.7 457.4L430.9 457.2" fill="#f70"/>
<path d="M435.6 453L444.3 455.5M435.6 453L431.2 456.9" class="m"/>
<path d="M444.3 455.5L445.1 455.7L445.8 455.9L446.5 456.1L447.3 456.3L448 456.5L448.7 456.7L449.5 456.9L450.2 457.1L451 457.4L451.7 457.6L452.5 457.8L453.2 458L448.7 462.3L447.9 462.1L447.2 461.9L446.4 461.6L445.7 461.4L444.9 461.2L444.2 461L443.4 460.8L442.7 460.6L441.9 460.3L441.2 460.1L440.5 459.9L439.7 459.7" fill="#0d0"/>
<path d="M444.3 455.5L453.2 458M444.3 455.5L440.1 459.4M453.2 458L449 462" class="m"/>
<path d="M343.8 431.6L344.4 431.8L345.1 432L345.7 432.2L346.4 432.4L347 432.6L347.7 432.7L348.3 432.9L349 433.1L349.7 433.3L350.3 433.5L351 433.7L351.6 433.9L346 437.4L345.3 437.2L344.7 437L344 436.9L343.4 436.7L342.7 436.5L342 436.3L341.4 436.1L340.7 435.9L340 435.7L339.4 435.5L338.7 435.3L338.1 435.1" fill="#f09"/>
<path d="M343.8 431.6L351.1 433.7M343.8 431.6L338.5 434.9" class="m"/>
<path d="M351.1 433.7L351.7 433.9L352.4 434.1L353.1 434.2L353.7 434.4L354.4 434.6L355.1 434.8L355.7 434.9L356.4 435.1L357.1 435.3L357.7 435.4L358.4 435.6L359.1 435.8L353.5 439.3L352.8 439.2L352.1 439L351.5 438.9L350.8 438.7L350.1 438.5L349.5 438.3L348.8 438.2L348.1 438L347.4 437.8L346.8 437.6L346.1 437.4L345.4 437.3" fill="#f00"/>
<path d="M351.1 433.7L351.7 433.9L352.3 434L352.9 434.2L353.5 434.4L354.1 434.5L354.8 434.7L355.4 434.9L356 435L356.6 435.2L357.2 435.3L357.9 435.5L358.5 435.6M351.1 433.7L345.8 437" class="m"/>
<path d="M358.5 435.6L359.4 435.8L360.3 436.1L354.8 439.6L353.8 439.4L352.9 439.2" fill="#f0a"/>
<path d="M359.7 435.9L360.5 436.1L361.2 436.2L361.9 436.4L362.6 436.5L363.4 436.6L364.1 436.7L358.6 440.1L357.8 440L357.1 440L356.4 439.9L355.6 439.8L354.9 439.6L354.2 439.5" fill="#e0a"/>
<path d="M363.5 436.6L364.7 436.7L359.2 440L358 440" fill="#d0a"/>
<path d="M364.1 436.7L365 436.7L365.8 436.7L366.6 436.6L361.1 439.6L360.3 439.9L359.4 440L358.6 440.1" fill="#d0b"/>
<path d="M358.5 435.6L359.1 435.8L359.7 435.9L360.4 436.1L361 436.2L361.6 436.3L362.2 436.4L362.9 436.5L363.5 436.6L364.1 436.7L364.8 436.7L365.4 436.7L366 436.7M358.5 435.6L353.3 438.9" class="m"/>
<path d="M366 436.7L367.3 436.4L361.7 439.4L360.5 439.8" fill="#c00"/>
<path d="M366.7 436.6L367.6 436.3L368.5 436L363 438.6L362.1 439.2L361.1 439.6" fill="#b00"/>
<path d="M367.9 436.2L369.2 435.6L363.7 437.9L362.4 439" fill="#a00"/>
<path d="M368.6 436L369.3 435.5L370 434.9L370.7 434L371.4 432.9L372.1 431.6L372.9 430L373.6 428.1L374.3 426.1L368.8 425.7L368.1 427.9L367.4 430.1L366.6 432.1L365.9 433.9L365.2 435.4L364.5 436.6L363.8 437.7L363.1 438.5" fill="#900"/>
<path d="M366 436.7L366.7 436.6L367.3 436.4L367.9 436.2L368.6 436L369.2 435.6L369.8 435.1L370.5 434.4L371.1 433.4L371.8 432.3L372.4 431L373.1 429.5L373.7 427.8M366 436.7L360.9 439.6" class="m"/>
<path d="M373.7 427.8L374.4 425.8L375.1 423.6L375.9 421.6L376.6 419.3L377.3 416.5L378 413.7L378.8 410.9L379.5 408L380.3 405.2L381 403.1L381.8 401.7L382.5 401L377 404L376.2 403.7L375.5 404.2L374.7 405.1L374 406.7L373.2 409L372.5 412L371.8 414.9L371 417.7L370.3 420.5L369.6 423.2L368.9 425.4L368.2 427.5" fill="#90d"/>
<path d="M373.7 427.8L374.4 426L375 423.9L375.7 422L376.4 420L377 417.5L377.7 414.9L378.4 412.3L379.1 409.7L379.8 406.9L380.5 404.6L381.2 402.8L381.9 401.6M373.7 427.8L368.6 427.5" class="m"/>
<path d="M381.9 401.6L383.2 400.7L377.6 404.8L376.3 403.7" fill="#900"/>
<path d="M382.6 400.9L383.9 401.1L378.3 406L377 404.1" fill="#b00"/>
<path d="M383.3 400.7L384.6 401.9L379 408.3L377.7 404.9" fill="#f00"/>
<path d="M384 401.1L385.3 403.2L379.7 411.1L378.4 406.1" fill="#e00"/>
<path d="M384.6 402L385.5 404.1L386.4 407.5L387.2 411.9L381.7 422L380.8 417.1L379.9 412.3L379.1 408.4" fill="#d00"/>
<path d="M386.6 408.7L387.5 413.3L388.3 418.1L389.1 422.1L383.7 426.6L382.8 426.3L381.9 423.3L381.1 418.6" fill="#c00"/>
<path d="M388.5 419.5L389.5 423L390.5 423.1L385.1 421.9L384.1 426L383 426.8" fill="#d00"/>
<path d="M381.9 401.6L382.6 400.9L383.3 400.7L384 401.1L384.6 402L385.3 403.4L386 405.7L386.6 408.7L387.3 412.1L387.9 415.9L388.5 419.5L389.2 422.3L389.8 423.5M381.9 401.6L376.7 403.5" class="m"/>
<path d="M389.8 423.5L390.6 422.9L391.4 420.3L392.3 416.4L393.2 411.7L394.1 406.9L395 404L395.8 404L390.2 411.6L389.5 408.3L388.7 406.8L387.9 407.6L387 411.8L386.1 416.7L385.3 421.2L384.4 424.8" fill="#90d"/>
<path d="M395.1 403.8L396.4 405.9L390.9 415.3L389.6 408.8" fill="#f0b"/>
<path d="M395.8 404.1L396.8 407.4L397.7 412.7L392.1 423.4L391.2 417.4L390.3 411.8" fill="#d0f"/>
<path d="M397.1 409.2L398 414.7L398.9 420.8L393.4 431.9L392.5 425.7L391.5 419.5" fill="#c0f"/>
<path d="M389.8 423.5L390.5 423L391.2 421.1L392 417.9L392.8 414L393.6 409.6L394.3 405.6L395.1 403.8L395.8 404.1L396.5 406.1L397.1 409.2L397.7 412.9L398.3 416.9M389.8 423.5L384.8 424.9" class="m"/>
<path d="M398.3 416.9L399 422L399.8 427.2L400.5 431.7L401.3 435.3L395.9 442.8L395.1 440.3L394.3 437.1L393.6 433L392.8 428" fill="#c00"/>
<path d="M400.7 432.7L401.4 435.8L402.1 438.4L402.9 440.5L403.6 442.4L404.4 443.9L405.1 445.2L399.9 450.3L399.2 449.4L398.4 448.3L397.6 447L396.8 445.3L396.1 443.2L395.3 440.9" fill="#d00"/>
<path d="M404.5 444.2L405.5 445.6L406.5 446.7L401.3 451.5L400.3 450.6L399.3 449.6" fill="#e00"/>
<path d="M398.3 416.9L398.9 421L399.5 425.3L400.1 429.3L400.7 432.7L401.3 435.4L401.9 437.7L402.6 439.7L403.2 441.4L403.9 442.9L404.5 444.2L405.2 445.2L405.8 446.1M398.3 416.9L393.2 427.2" class="m"/>
<path d="M405.8 446.1L407.2 447.4L402 452L400.7 451" fill="#e0f"/>
<path d="M406.5 446.8L407.5 447.7L408.5 448.4L403.4 453L402.4 452.3L401.4 451.5" fill="#f0e"/>
<path d="M407.9 448L408.9 448.7L409.9 449.4L404.8 453.8L403.8 453.2L402.7 452.6" fill="#f0d"/>
<path d="M409.3 448.9L410.2 449.5L411.1 450L412 450.5L406.9 454.8L406 454.4L405.1 453.9L404.1 453.4" fill="#f0c"/>
<path d="M411.3 450.2L412.2 450.6L413 451L413.9 451.4L414.8 451.7L409.7 455.9L408.8 455.6L408 455.3L407.1 454.9L406.2 454.5" fill="#f0b"/>
<path d="M405.8 446.1L406.5 446.8L407.2 447.4L407.9 448L408.6 448.5L409.3 448.9L409.9 449.4L410.6 449.8L411.3 450.2L412 450.5L412.7 450.8L413.4 451.2L414.1 451.4M405.8 446.1L401.1 450.6" class="m"/>
<path d="M414.1 451.4L414.9 451.7L415.6 452L416.4 452.3L417.1 452.6L417.9 452.8L418.7 453.1L419.4 453.3L420.2 453.6L420.9 453.8L421.7 454L422.5 454.3L423.3 454.5L418.3 458.7L417.5 458.5L416.8 458.2L416 458L415.2 457.8L414.4 457.5L413.7 457.3L412.9 457L412.1 456.8L411.4 456.5L410.6 456.3L409.8 456L409.1 455.7" fill="#f00"/>
<path d="M414.1 451.4L414.8 451.7L415.5 452L416.2 452.2L416.9 452.5L417.6 452.7L418.3 453L419 453.2L419.7 453.4L420.4 453.6L421.2 453.9L421.9 454.1L422.6 454.3M414.1 451.4L409.4 455.4" class="m"/>
<path d="M422.6 454.3L423.4 454.5L424.1 454.8L424.9 455L425.7 455.2L426.5 455.5L427.2 455.7L428 455.9L428.8 456.1L429.6 456.4L430.4 456.6L431.1 456.8L431.9 457L427.1 461.3L426.3 461.1L425.5 460.9L424.7 460.6L423.9 460.4L423.1 460.2L422.3 459.9L421.5 459.7L420.8 459.5L420 459.2L419.2 459L418.4 458.8L417.6 458.5" fill="#f0a"/>
<path d="M422.6 454.3L431.2 456.9M422.6 454.3L418 458.2" class="m"/>
<path d="M431.2 456.9L432 457.1L432.8 457.3L433.6 457.5L434.4 457.8L435.2 458L436 458.2L436.8 458.4L437.6 458.7L438.4 458.9L439.1 459.1L439.9 459.4L440.7 459.6L436 464L435.2 463.7L434.4 463.5L433.6 463.2L432.8 463L432 462.8L431.2 462.5L430.4 462.3L429.6 462.1L428.8 461.8L428 461.6L427.2 461.4L426.4 461.1" fill="#f00"/>
<path d="M431.2 456.9L440.1 459.4M431.2 456.9L426.7 460.8" class="m"/>
<path d="M440.1 459.4L440.8 459.6L441.5 459.8L442.3 460L443 460.3L443.8 460.5L444.5 460.7L445.3 460.9L446 461.1L446.8 461.3L447.5 461.5L448.3 461.8L449 462L444.4 466.4L443.6 466.2L442.8 466L442.1 465.7L441.3 465.5L440.6 465.3L439.8 465.1L439.1 464.9L438.3 464.6L437.5 464.4L436.8 464.2L436 464L435.3 463.7" fill="#f09"/>
<path d="M440.1 459.4L449 462M440.1 459.4L435.6 463.4M449 462L444.7 466.1" class="m"/>
<path d="M338.5 434.9L339.1 435.1L339.8 435.3L340.5 435.5L341.1 435.6L341.8 435.8L342.4 436L343.1 436.2L343.8 436.4L344.4 436.6L345.1 436.8L345.8 437L346.4 437.2L340.6 440.8L340 440.6L339.3 440.4L338.6 440.3L338 440.1L337.3 439.9L336.6 439.7L336 439.5L335.3 439.3L334.6 439.1L334 438.9L333.3 438.7L332.6 438.5" fill="#0d0"/>
<path d="M338.5 434.9L345.8 437M338.5 434.9L333.1 438.2" class="m"/>
<path d="M345.8 437L346.5 437.2L347.2 437.4L347.9 437.6L348.5 437.7L349.2 437.9L349.9 438.1L350.5 438.3L351.2 438.4L351.9 438.6L352.6 438.8L353.2 438.9L353.9 439.1L348.2 442.7L347.5 442.6L346.8 442.4L346.1 442.3L345.5 442.1L344.8 441.9L344.1 441.8L343.4 441.6L342.8 441.4L342.1 441.2L341.4 441L340.7 440.8L340.1 440.7" fill="#f70"/>
<path d="M345.8 437L346.5 437.2L347.1 437.3L347.7 437.5L348.3 437.7L348.9 437.8L349.6 438L350.2 438.2L350.8 438.3L351.4 438.5L352.1 438.6L352.7 438.8L353.3 438.9M345.8 437L340.5 440.4" class="m"/>
<path d="M353.3 438.9L354.1 439.1L355 439.3L355.8 439.5L350.1 443.1L349.3 443L348.4 442.8L347.6 442.6" fill="#0d0"/>
<path d="M355.2 439.4L355.9 439.5L356.6 439.6L357.4 439.7L358.1 439.8L358.8 439.8L359.5 439.8L360.2 439.7L354.6 442.9L353.8 443.1L353.1 443.2L352.4 443.3L351.7 443.2L350.9 443.2L350.2 443.1L349.5 443" fill="#0c0"/>
<path d="M359.6 439.8L360.6 439.7L361.5 439.4L355.8 442.4L354.9 442.8L354 443.1" fill="#0b0"/>
<path d="M353.3 438.9L354 439.1L354.6 439.2L355.2 439.4L355.8 439.5L356.5 439.6L357.1 439.7L357.7 439.8L358.4 439.8L359 439.8L359.6 439.8L360.3 439.7L360.9 439.6M353.3 438.9L348 442.3" class="m"/>
<path d="M360.9 439.6L362.1 439.2L356.5 442L355.2 442.7" fill="#b60"/>
<path d="M361.5 439.4L362.8 438.8L357.1 441.4L355.9 442.4" fill="#b50"/>
<path d="M362.2 439.1L362.9 438.8L363.6 438.2L364.3 437.5L365 436.4L365.7 435.1L366.4 433.7L367.1 432L367.8 430L368.5 427.8L369.2 425.7L363.5 425.4L362.8 427.8L362.1 429.9L361.4 432.2L360.7 434.3L360 436.2L359.3 437.8L358.6 439.2L357.9 440.3L357.2 441.3L356.5 441.9" fill="#940"/>
<path d="M360.9 439.6L361.5 439.4L362.2 439.1L362.8 438.8L363.5 438.3L364.1 437.7L364.7 436.8L365.4 435.7L366 434.5L366.7 433L367.3 431.4L368 429.5L368.6 427.5M360.9 439.6L355.6 442.5" class="m"/>
<path d="M368.6 427.5L369.3 425.4L370 423.2L370.7 420.6L371.5 417.8L372.2 415L372.9 412.1L373.6 409.1L374.4 406.7L375.1 405L375.9 404L376.6 403.5L377.4 403.8L371.6 408.3L370.9 407.3L370.1 406.7L369.3 406.8L368.6 407.5L367.9 408.8L367.1 410.8L366.4 413.5L365.7 416.5L365 419.4L364.3 422.2L363.6 425L362.9 427.5" fill="#090"/>
<path d="M368.6 427.5L369.3 425.5L369.9 423.6L370.6 421.2L371.2 418.6L371.9 416L372.6 413.3L373.3 410.6L374 408L374.6 406L375.3 404.7L376 403.9L376.7 403.5M368.6 427.5L363.3 427.5" class="m"/>
<path d="M376.7 403.5L378.1 404.5L372.3 410.2L370.9 407.4" fill="#f70"/>
<path d="M377.4 403.8L378.4 405L379.4 407.7L373.7 416.1L372.7 411.6L371.6 408.4" fill="#e70"/>
<path d="M378.8 405.7L379.8 409.1L380.8 413.8L375.1 423.6L374.1 418L373 413" fill="#d60"/>
<path d="M380.1 410.7L381 414.9L381.8 419.6L382.6 423.9L383.4 426.3L377.8 429.1L377 430.1L376.1 428.5L375.3 424.7L374.4 420" fill="#c60"/>
<path d="M382.8 424.8L384.1 426.4L378.5 426.4L377.2 430" fill="#d70"/>
<path d="M383.4 426.4L384.8 425.1L379.3 422.9L377.9 429" fill="#d60"/>
<path d="M384.1 426.4L385.5 422.1L380 418.7L378.6 426.2" fill="#940"/>
<path d="M376.7 403.5L377.4 403.8L378.1 404.5L378.8 405.7L379.5 407.9L380.1 410.7L380.8 414L381.5 417.8L382.1 421.5L382.8 424.8L383.4 426.4L384.1 426.4L384.8 424.9M376.7 403.5L371.4 407.1" class="m"/>
<path d="M384.8 424.9L385.7 421.2L386.6 416.6L387.5 411.4L388.4 407.3L389.3 406.6L383.6 413.3L382.8 410.5L381.9 409.9L381.1 412.5L380.2 417.6L379.3 422.6" fill="#090"/>
<path d="M388.6 407L390 408.1L384.3 416.8L383 410.9" fill="#0b0"/>
<path d="M389.3 406.7L390.3 409.5L391.3 414.6L385.6 424.9L384.6 418.9L383.6 413.5" fill="#0f0"/>
<path d="M390.7 411.1L391.5 415.7L392.2 420.7L393 425.9L393.8 431.1L388.2 440.6L387.4 436.5L386.6 431.5L385.8 426.1L385 421" fill="#0e0"/>
<path d="M384.8 424.9L385.6 421.9L386.3 418.1L387.1 413.8L387.9 409.6L388.6 407L389.3 406.7L390 408.2L390.7 411.1L391.3 414.8L391.9 418.8L392.6 422.9L393.2 427.2M384.8 424.9L379.7 422.8" class="m"/>
<path d="M393.2 427.2L394 432.6L394.8 436.9L395.7 440.2L390.2 447.3L389.3 444.8L388.5 441.6L387.6 437.6" fill="#c60"/>
<path d="M395.1 437.9L395.9 441.1L396.8 443.6L397.6 445.8L392.2 451.7L391.4 450.1L390.5 448L389.6 445.5" fill="#d60"/>
<path d="M397 444.3L397.9 446.3L398.8 447.9L399.6 449.1L394.3 454.2L393.4 453.2L392.5 452.1L391.6 450.6" fill="#d70"/>
<path d="M399 448.3L400 449.6L401 450.6L395.7 455.3L394.7 454.5L393.7 453.5" fill="#e70"/>
<path d="M400.4 449.9L401.7 451.2L396.4 455.9L395.1 454.8" fill="#f70"/>
<path d="M393.2 427.2L393.8 431.4L394.4 435L395.1 437.9L395.7 440.4L396.4 442.4L397 444.3L397.7 445.9L398.3 447.2L399 448.3L399.7 449.2L400.4 449.9L401.1 450.6M393.2 427.2L388 436.9" class="m"/>
<path d="M401.1 450.6L402.4 451.7L397.1 456.3L395.8 455.4" fill="#0f0"/>
<path d="M401.7 451.2L402.5 451.8L403.3 452.4L404.1 452.8L404.9 453.3L405.7 453.7L406.5 454.1L407.3 454.5L402 458.9L401.2 458.5L400.4 458.2L399.6 457.8L398.8 457.4L398 456.9L397.2 456.4L396.4 455.9" fill="#0e0"/>
<path d="M406.6 454.2L407.5 454.6L408.3 454.9L409.2 455.3L410.1 455.6L404.9 460L404 459.6L403.1 459.3L402.3 458.9L401.4 458.6" fill="#0d0"/>
<path d="M401.1 450.6L401.7 451.2L402.4 451.7L403.1 452.2L403.8 452.7L404.5 453.1L405.2 453.5L405.9 453.9L406.6 454.2L407.3 454.5L408 454.8L408.7 455.1L409.4 455.4M401.1 450.6L396.1 455" class="m"/>
<path d="M409.4 455.4L410.2 455.7L411 455.9L411.7 456.2L412.5 456.5L413.3 456.7L414 457L414.8 457.2L415.6 457.5L416.3 457.7L417.1 457.9L417.9 458.2L418.7 458.4L413.6 462.8L412.8 462.5L412 462.3L411.2 462L410.4 461.8L409.7 461.5L408.9 461.3L408.1 461L407.3 460.8L406.6 460.5L405.8 460.3L405 460L404.2 459.7" fill="#f70"/>
<path d="M409.4 455.4L410.1 455.6L410.8 455.9L411.6 456.2L412.3 456.4L413 456.6L413.7 456.9L414.4 457.1L415.1 457.3L415.8 457.5L416.6 457.8L417.3 458L418 458.2M409.4 455.4L404.6 459.4" class="m"/>
<path d="M418 458.2L418.8 458.4L419.6 458.7L420.3 458.9L421.1 459.1L421.9 459.4L422.7 459.6L423.5 459.9L424.3 460.1L425.1 460.3L425.8 460.5L426.6 460.8L427.4 461L422.4 465.4L421.6 465.2L420.8 464.9L420 464.7L419.2 464.5L418.4 464.2L417.6 464L416.9 463.7L416.1 463.5L415.3 463.3L414.5 463L413.7 462.8L412.9 462.5" fill="#0d0"/>
<path d="M418 458.2L426.7 460.8M418 458.2L413.3 462.2" class="m"/>
<path d="M426.7 460.8L427.5 461L428.3 461.3L429.1 461.5L429.9 461.7L430.7 462L431.5 462.2L432.3 462.5L433.1 462.7L433.9 462.9L434.7 463.2L435.5 463.4L436.3 463.6L431.5 468.1L430.6 467.9L429.8 467.6L429 467.4L428.2 467.2L427.4 466.9L426.6 466.7L425.8 466.4L425 466.2L424.1 465.9L423.3 465.7L422.5 465.5L421.7 465.2" fill="#f70"/>
<path d="M426.7 460.8L435.6 463.4M426.7 460.8L422.1 464.9" class="m"/>
<path d="M435.6 463.4L436.4 463.6L437.1 463.9L437.9 464.1L438.6 464.3L439.4 464.5L440.2 464.8L440.9 465L441.7 465.2L442.4 465.4L443.2 465.6L443.9 465.9L444.7 466.1L439.9 470.7L439.1 470.4L438.4 470.2L437.6 470L436.8 469.7L436.1 469.5L435.3 469.3L434.5 469.1L433.8 468.8L433 468.6L432.3 468.4L431.5 468.1L430.7 467.9" fill="#0d0"/>
<path d="M435.6 463.4L444.7 466.1M435.6 463.4L431.1 467.6M444.7 466.1L440.3 470.3" class="m"/>
<path d="M333.1 438.2L333.7 438.4L334.4 438.6L335.1 438.8L335.7 439L336.4 439.2L337.1 439.4L337.7 439.6L338.4 439.8L339.1 440L339.7 440.2L340.4 440.4L341.1 440.6L335.1 444.3L334.4 444.1L333.8 443.9L333.1 443.7L332.4 443.5L331.7 443.3L331.1 443.1L330.4 442.9L329.7 442.7L329.1 442.5L328.4 442.3L327.7 442.1L327.1 441.9" fill="#f09"/>
<path d="M333.1 438.2L340.5 440.4M333.1 438.2L327.5 441.7" class="m"/>
<path d="M340.5 440.4L341.2 440.6L341.8 440.8L342.5 441L343.2 441.1L343.9 441.3L344.6 441.5L345.2 441.7L345.9 441.8L346.6 442L347.3 442.2L348 442.3L342.1 446.1L341.4 445.9L340.7 445.8L340 445.6L339.3 445.4L338.6 445.3L337.9 445.1L337.3 444.9L336.6 444.7L335.9 444.5L335.2 444.3L334.5 444.2" fill="#f00"/>
<path d="M347.4 442.2L348.6 442.5L342.7 446.2L341.5 446" fill="#e00"/>
<path d="M340.5 440.4L341.1 440.6L341.7 440.7L342.4 440.9L343 441.1L343.6 441.2L344.2 441.4L344.9 441.6L345.5 441.7L346.1 441.9L346.8 442L347.4 442.2L348 442.3M340.5 440.4L335 443.9" class="m"/>
<path d="M348 442.3L348.8 442.5L349.5 442.7L350.3 442.8L351 442.9L351.8 443L345.9 446.6L345.2 446.5L344.4 446.5L343.6 446.4L342.9 446.3L342.1 446.1" fill="#e0a"/>
<path d="M351.2 442.9L352.4 443L346.6 446.6L345.3 446.6" fill="#d0a"/>
<path d="M351.8 443L352.8 443L353.7 443L347.8 446.3L346.9 446.5L346 446.6" fill="#d0b"/>
<path d="M353.1 443L354 442.9L355 442.7L349.1 445.9L348.2 446.2L347.2 446.5" fill="#c0b"/>
<path d="M354.4 442.8L355.3 442.6L356.2 442.2L350.4 445.1L349.5 445.7L348.5 446.1" fill="#b0c"/>
<path d="M348 442.3L348.6 442.5L349.3 442.6L349.9 442.7L350.6 442.8L351.2 442.9L351.8 443L352.5 443L353.1 443L353.7 443L354.4 442.8L355 442.7L355.6 442.5M348 442.3L342.6 445.8" class="m"/>
<path d="M355.6 442.5L356.9 441.8L351 444.4L349.8 445.5" fill="#a00"/>
<path d="M356.3 442.2L357 441.7L357.7 441.1L358.4 440.1L359 439L359.7 437.6L360.4 436L361.1 434.2L361.8 432.1L362.5 429.9L363.2 427.8L363.9 425.4L358 424.7L357.3 427.6L356.6 430.3L355.9 432.4L355.2 434.6L354.5 436.8L353.8 438.7L353.2 440.4L352.5 441.9L351.8 443.2L351.1 444.2L350.4 445" fill="#900"/>
<path d="M355.6 442.5L356.3 442.2L356.9 441.7L357.6 441.2L358.2 440.4L358.8 439.3L359.5 438.2L360.1 436.8L360.7 435.2L361.4 433.4L362 431.5L362.7 429.4L363.3 427.5M355.6 442.5L350.2 445.3" class="m"/>
<path d="M363.3 427.5L364 425.1L364.7 422.2L365.4 419.3L366.2 416.4L366.9 413.4L367.6 410.6L368.4 408.6L369.1 407.3L369.9 406.5L370.6 406.5L364.7 410.8L363.9 410L363.1 409.6L362.4 410.2L361.6 411.1L360.9 412.9L360.2 415.3L359.5 418.4L358.8 421.4L358.1 424.3L357.4 427.2" fill="#90d"/>
<path d="M370 406.5L371.3 407.1L365.4 412.1L364 410.1" fill="#d0a"/>
<path d="M370.7 406.5L372 408L366.1 414.4L364.7 410.9" fill="#f0e"/>
<path d="M363.3 427.5L363.9 425.3L364.6 422.7L365.3 420.1L365.9 417.4L366.6 414.7L367.2 411.9L367.9 409.7L368.6 408L369.3 407.1L370 406.5L370.7 406.5L371.4 407.1M363.3 427.5L357.8 427.3" class="m"/>
<path d="M371.4 407.1L372.7 409.7L366.8 417.4L365.4 412.2" fill="#e00"/>
<path d="M372.1 408.1L373.1 411L374.1 415.4L368.3 424.8L367.2 419.2L366.2 414.6" fill="#d00"/>
<path d="M373.5 412.4L374.3 416.5L375.2 421.1L376 425.7L376.9 428.9L371.1 433L370.2 433L369.4 430.4L368.5 425.9L367.6 421.1" fill="#c00"/>
<path d="M376.2 426.8L377.5 429.8L371.8 431.3L370.4 433.3" fill="#d00"/>
<path d="M376.9 429L378.2 429L372.5 428.1L371.1 432.9" fill="#e00"/>
<path d="M377.6 429.8L378.5 428.3L379.4 424.2L380.4 419L374.6 415.5L373.7 421.2L372.8 426.7L371.8 431.1" fill="#900"/>
<path d="M371.4 407.1L372.1 408.1L372.8 409.9L373.5 412.4L374.2 415.7L374.8 419.3L375.5 423.2L376.2 426.8L376.9 429L377.6 429.8L378.3 428.9L379 426.3L379.7 422.8M371.4 407.1L365.9 411.8" class="m"/>
<path d="M379.7 422.8L380.6 417.7L381.5 412.4L382.5 409.7L383.3 410.3L377.5 418L376.6 414.3L375.7 412.9L374.8 414.4L374 419.5" fill="#90d"/>
<path d="M382.7 409.5L384 412.7L378.2 421.8L376.8 415.1" fill="#e0f"/>
<path d="M383.4 410.4L384.7 416.1L378.9 425.9L377.5 418.2" fill="#d0f"/>
<path d="M384.1 412.9L384.8 417L385.6 421.5L386.4 426.4L387.1 431.4L387.9 436.1L388.6 439.9L383 447.8L382.2 444.9L381.4 441.3L380.6 436.9L379.8 431.8L379 426.8L378.2 422" fill="#c0f"/>
<path d="M379.7 422.8L380.5 418.7L381.2 414.3L381.9 410.5L382.7 409.5L383.4 410.4L384.1 412.9L384.7 416.4L385.4 420.2L386.1 424.4L386.7 428.7L387.4 433L388 436.9M379.7 422.8L374.4 419.8" class="m"/>
<path d="M388 436.9L389.3 442.7L383.7 449.8L382.3 445.5" fill="#c00"/>
<path d="M388.7 440.1L389.4 443.2L390.2 445.6L391 447.8L391.7 449.6L392.5 451.1L393.3 452.3L387.8 457.4L387 456.5L386.2 455.4L385.4 454L384.6 452.3L383.8 450.3L383 447.9" fill="#d00"/>
<path d="M392.7 451.3L393.7 452.7L394.7 453.8L389.2 458.7L388.2 457.8L387.2 456.7" fill="#e00"/>
<path d="M394.1 453.1L395 454L395.9 454.8L396.8 455.5L391.3 460.2L390.4 459.6L389.5 458.9L388.6 458.1" fill="#f00"/>
<path d="M388 436.9L388.7 440.1L389.3 442.8L390 445L390.7 446.9L391.3 448.7L392 450.1L392.7 451.3L393.4 452.3L394.1 453.1L394.7 453.8L395.4 454.5L396.1 455M388 436.9L382.8 444.9" class="m"/>
<path d="M396.1 455L397.2 455.8L398.2 456.4L392.8 461L391.7 460.4L390.7 459.8" fill="#f0d"/>
<path d="M397.5 456L398.5 456.6L399.4 457.1L400.3 457.6L394.9 462.1L394 461.7L393 461.2L392.1 460.7" fill="#f0c"/>
<path d="M399.6 457.3L400.5 457.7L401.4 458.1L402.3 458.5L403.1 458.8L397.8 463.3L396.9 462.9L396 462.6L395.1 462.2L394.2 461.8" fill="#f0b"/>
<path d="M402.5 458.6L403.4 458.9L404.3 459.3L405.3 459.6L399.9 464.1L399 463.7L398 463.4L397.1 463" fill="#f0a"/>
<path d="M396.1 455L396.8 455.6L397.5 456L398.2 456.5L398.9 456.9L399.6 457.3L400.3 457.6L401.1 458L401.8 458.3L402.5 458.6L403.2 458.9L403.9 459.1L404.6 459.4M396.1 455L391.1 459.4" class="m"/>
<path d="M404.6 459.4L405.4 459.7L406.2 459.9L406.9 460.2L407.7 460.5L408.5 460.7L409.3 461L410 461.2L410.8 461.5L411.6 461.7L412.4 461.9L413.2 462.2L414 462.4L408.7 466.9L407.9 466.7L407.1 466.4L406.3 466.2L405.5 465.9L404.8 465.7L404 465.4L403.2 465.1L402.4 464.9L401.6 464.6L400.8 464.4L400 464.1L399.3 463.8" fill="#f00"/>
<path d="M404.6 459.4L413.3 462.2M404.6 459.4L399.7 463.5" class="m"/>
<path d="M413.3 462.2L414.1 462.5L414.9 462.7L415.6 462.9L416.4 463.2L417.2 463.4L418 463.7L418.8 463.9L419.6 464.1L420.4 464.4L421.2 464.6L422 464.9L422.8 465.1L417.7 469.6L416.8 469.4L416 469.2L415.2 468.9L414.4 468.7L413.6 468.4L412.8 468.2L412 467.9L411.2 467.7L410.4 467.4L409.6 467.2L408.8 466.9L408 466.7" fill="#f09"/>
<path d="M413.3 462.2L422.1 464.9M413.3 462.2L408.4 466.4" class="m"/>
<path d="M422.1 464.9L422.9 465.1L423.7 465.4L424.5 465.6L425.3 465.9L426.1 466.1L426.9 466.3L427.7 466.6L428.6 466.8L429.4 467.1L430.2 467.3L431 467.6L431.8 467.8L426.8 472.4L425.9 472.2L425.1 471.9L424.3 471.7L423.5 471.4L422.7 471.2L421.8 470.9L421 470.7L420.2 470.4L419.4 470.2L418.6 469.9L417.8 469.7L417 469.4" fill="#f00"/>
<path d="M422.1 464.9L431.1 467.6M422.1 464.9L417.3 469.1" class="m"/>
<path d="M431.1 467.6L431.9 467.8L432.6 468L433.4 468.3L434.1 468.5L434.9 468.7L435.7 469L436.4 469.2L437.2 469.4L438 469.6L438.7 469.9L439.5 470.1L440.3 470.3L435.3 475L434.5 474.8L433.8 474.6L433 474.3L432.2 474.1L431.4 473.9L430.7 473.6L429.9 473.4L429.1 473.2L428.3 472.9L427.6 472.7L426.8 472.4L426 472.2" fill="#f09"/>
<path d="M431.1 467.6L440.3 470.3M431.1 467.6L426.4 471.9M440.3 470.3L435.7 474.7" class="m"/>
<path d="M327.5 441.7L328.2 441.9L328.8 442.1L329.5 442.3L330.2 442.5L330.8 442.7L331.5 442.9L332.2 443.1L332.9 443.3L333.5 443.5L334.2 443.7L334.9 443.8L335.6 444L329.4 447.9L328.8 447.7L328.1 447.5L327.4 447.3L326.7 447.1L326 446.9L325.4 446.7L324.7 446.5L324 446.3L323.3 446.1L322.7 445.9L322 445.7L321.3 445.5" fill="#0d0"/>
<path d="M327.5 441.7L335 443.9M327.5 441.7L321.8 445.2" class="m"/>
<path d="M335 443.9L335.7 444.1L336.4 444.3L337.1 444.5L337.7 444.6L338.4 444.8L339.1 445L339.8 445.2L340.5 445.4L341.2 445.5L335.2 449.4L334.5 449.2L333.8 449.1L333.1 448.9L332.3 448.7L331.6 448.5L330.9 448.3L330.2 448.1L329.5 447.9L328.8 447.7" fill="#f70"/>
<path d="M340.6 445.4L341.5 445.6L342.3 445.8L343.2 445.9L337.1 449.8L336.3 449.6L335.4 449.5L334.6 449.3" fill="#e70"/>
<path d="M335 443.9L335.6 444.1L336.2 444.2L336.9 444.4L337.5 444.6L338.1 444.7L338.7 444.9L339.4 445.1L340 445.2L340.6 445.4L341.3 445.5L341.9 445.7L342.6 445.8M335 443.9L329.3 447.5" class="m"/>
<path d="M342.6 445.8L343.3 446L344 446.1L344.7 446.2L345.4 446.3L346.2 446.3L346.9 446.3L347.6 446.2L341.6 449.7L340.9 449.9L340.1 450L339.4 450L338.7 450L337.9 449.9L337.2 449.8L336.5 449.7" fill="#0c0"/>
<path d="M347 446.3L347.9 446.2L348.7 446L349.5 445.7L343.5 448.8L342.7 449.3L341.8 449.6L341 449.9" fill="#0b0"/>
<path d="M348.9 445.9L350.2 445.3L344.1 448.3L342.9 449.2" fill="#0a0"/>
<path d="M349.6 445.6L350.8 444.9L344.8 447.5L343.5 448.8" fill="#090"/>
<path d="M342.6 445.8L343.2 446L343.8 446.1L344.5 446.2L345.1 446.2L345.7 446.3L346.4 446.3L347 446.3L347.7 446.2L348.3 446.1L348.9 445.9L349.6 445.6L350.2 445.3M342.6 445.8L336.9 449.4" class="m"/>
<path d="M350.2 445.3L350.9 444.8L351.6 444L352.3 443L352.9 441.7L353.6 440.3L354.3 438.6L355 436.7L355.7 434.5L356.3 432.3L357 430.2L357.7 427.6L358.4 424.8L352.2 424.4L351.5 427.3L350.9 430.2L350.2 433L349.5 435.2L348.9 437.4L348.2 439.6L347.5 441.6L346.9 443.4L346.2 444.9L345.5 446.3L344.9 447.4L344.2 448.3" fill="#940"/>
<path d="M350.2 445.3L350.9 444.8L351.5 444.1L352.1 443.2L352.8 442.1L353.4 440.8L354 439.4L354.6 437.7L355.3 435.8L355.9 433.7L356.5 431.7L357.2 429.7L357.8 427.3M350.2 445.3L344.6 448.1" class="m"/>
<path d="M357.8 427.3L358.5 424.3L359.2 421.4L359.9 418.4L360.6 415.3L361.4 412.8L362.1 410.9L362.9 410L363.6 409.4L364.4 409.7L358.3 414.3L357.5 413.3L356.7 412.8L355.9 413.1L355.2 413.9L354.4 415.5L353.7 417.8L353 420.9L352.3 424L351.6 426.9" fill="#090"/>
<path d="M363.8 409.4L365.1 410.5L359 416L357.6 413.4" fill="#0e0"/>
<path d="M364.5 409.8L365.5 411L366.6 413.9L360.5 421.7L359.4 417.3L358.3 414.4" fill="#0f0"/>
<path d="M357.8 427.3L358.4 424.6L359.1 422L359.7 419.3L360.4 416.4L361 413.8L361.7 411.9L362.4 410.5L363.1 409.8L363.8 409.4L364.5 409.8L365.2 410.6L365.9 411.8M357.8 427.3L352.1 427" class="m"/>
<path d="M365.9 411.8L366.9 415.3L368 420.2L362 429.4L360.9 423.6L359.8 418.7" fill="#d60"/>
<path d="M367.3 417L368.2 421.3L369.1 426.1L370 430.5L370.8 432.9L364.9 436.1L364 436.7L363.1 434.8L362.2 430.5L361.3 425.7" fill="#c60"/>
<path d="M370.2 431.3L371.5 432.8L365.6 433.7L364.2 436.8" fill="#d70"/>
<path d="M370.9 432.9L372.2 431.3L366.2 430.2L364.9 436" fill="#c60"/>
<path d="M371.6 432.8L372.4 430.5L373.3 426.3L374.2 421.1L375.1 415.7L369 416.1L368.1 418.4L367.3 423.7L366.4 429.1L365.6 433.5" fill="#940"/>
<path d="M365.9 411.8L366.6 414.1L367.3 417L368 420.4L368.7 424.3L369.5 428.1L370.2 431.3L370.9 432.9L371.6 432.8L372.3 431.2L373 428L373.7 424.2L374.4 419.8M365.9 411.8L360.3 418.2" class="m"/>
<path d="M374.4 419.8L375.4 413.8L376.5 412.8L370.5 419.1L369.4 416.2L368.4 417.3" fill="#090"/>
<path d="M375.8 413L377.2 414.4L371.2 422.5L369.8 416.9" fill="#0b0"/>
<path d="M376.5 412.8L377.6 415.8L378.6 421.1L372.7 430.7L371.6 424.6L370.5 419.3" fill="#0f0"/>
<path d="M378 417.6L378.8 421.9L379.5 426.5L380.3 431.4L381.1 436.4L381.8 440.8L382.6 444.4L383.4 447.2L377.6 454.1L376.8 451.8L376 449.1L375.2 445.7L374.4 441.5L373.6 436.5L372.8 431.5L372 426.7" fill="#0e0"/>
<path d="M374.4 419.8L375.1 415.5L375.8 413L376.5 412.8L377.3 414.5L378 417.6L378.7 421.4L379.4 425.4L380 429.7L380.7 434.1L381.4 438.3L382.1 441.9L382.8 444.9M374.4 419.8L368.8 417.4" class="m"/>
<path d="M382.8 444.9L383.6 448.1L384.5 450.7L385.4 452.9L379.7 458.8L378.8 457L377.9 454.8L377 452.3" fill="#d60"/>
<path d="M384.8 451.3L385.8 453.6L386.8 455.4L381.2 460.7L380.1 459.4L379.1 457.6" fill="#d70"/>
<path d="M386.2 454.3L387.1 455.7L388 456.8L388.9 457.7L383.3 462.6L382.4 461.9L381.4 461L380.5 459.9" fill="#e70"/>
<path d="M388.3 457.1L389.1 457.9L390 458.6L390.9 459.3L391.7 459.9L386.1 464.6L385.3 464L384.4 463.5L383.5 462.8L382.6 462.1" fill="#f70"/>
<path d="M382.8 444.9L383.4 447.4L384.1 449.5L384.8 451.3L385.5 453L386.2 454.3L386.9 455.4L387.6 456.3L388.3 457.1L389 457.8L389.7 458.4L390.4 458.9L391.1 459.4M382.8 444.9L377.4 451.8" class="m"/>
<path d="M391.1 459.4L391.9 460L392.8 460.5L393.6 460.9L394.5 461.4L395.3 461.8L389.7 466.4L388.9 466L388 465.6L387.2 465.2L386.3 464.7L385.5 464.2" fill="#0e0"/>
<path d="M394.6 461.5L395.4 461.8L396.3 462.2L397.1 462.5L397.9 462.8L398.7 463.2L399.5 463.5L400.3 463.7L394.8 468.3L394 468L393.2 467.7L392.3 467.4L391.5 467.1L390.7 466.8L389.9 466.4L389.1 466.1" fill="#0d0"/>
<path d="M391.1 459.4L391.8 459.9L392.5 460.3L393.2 460.7L393.9 461.1L394.6 461.5L395.3 461.8L396.1 462.1L396.8 462.4L397.5 462.7L398.2 463L398.9 463.2L399.7 463.5M391.1 459.4L385.9 463.8" class="m"/>
<path d="M399.7 463.5L400.4 463.8L401.2 464L402 464.3L402.8 464.6L403.6 464.8L404.4 465.1L405.1 465.3L405.9 465.6L406.7 465.8L407.5 466.1L408.3 466.3L409.1 466.6L403.7 471.2L402.9 470.9L402.1 470.7L401.3 470.4L400.5 470.2L399.7 469.9L398.9 469.6L398.1 469.4L397.3 469.1L396.5 468.9L395.7 468.6L394.9 468.3L394.1 468.1" fill="#f70"/>
<path d="M399.7 463.5L408.4 466.4M399.7 463.5L394.6 467.7" class="m"/>
<path d="M408.4 466.4L409.2 466.6L410 466.8L410.8 467.1L411.6 467.3L412.4 467.6L413.2 467.8L414 468.1L414.8 468.3L415.6 468.6L416.4 468.8L417.2 469.1L418 469.3L412.7 474L411.9 473.7L411.1 473.5L410.3 473.2L409.5 473L408.6 472.7L407.8 472.5L407 472.2L406.2 472L405.4 471.7L404.6 471.5L403.8 471.2L403 471" fill="#0d0"/>
<path d="M408.4 466.4L417.3 469.1M408.4 466.4L403.4 470.6" class="m"/>
<path d="M417.3 469.1L418.1 469.3L419 469.6L419.8 469.8L420.6 470.1L421.4 470.3L422.2 470.6L423 470.8L423.8 471.1L424.7 471.3L425.5 471.6L426.3 471.8L427.1 472.1L421.9 476.9L421.1 476.6L420.3 476.4L419.4 476.1L418.6 475.8L417.8 475.6L416.9 475.3L416.1 475.1L415.3 474.8L414.5 474.5L413.7 474.3L412.8 474L412 473.8" fill="#f70"/>
<path d="M417.3 469.1L426.4 471.9M417.3 469.1L412.4 473.4" class="m"/>
<path d="M426.4 471.9L427.2 472.1L427.9 472.3L428.7 472.6L429.5 472.8L430.3 473L431 473.3L431.8 473.5L432.6 473.8L433.3 474L434.1 474.2L434.9 474.5L435.7 474.7L430.6 479.6L429.8 479.3L429 479.1L428.2 478.8L427.4 478.6L426.6 478.3L425.9 478.1L425.1 477.9L424.3 477.6L423.5 477.4L422.8 477.1L422 476.9L421.2 476.6" fill="#0d0"/>
<path d="M426.4 471.9L435.7 474.7M426.4 471.9L421.6 476.3M435.7 474.7L431 479.2" class="m"/>
<path d="M321.8 445.2L322.4 445.4L323.1 445.6L323.8 445.8L324.5 446L325.1 446.2L325.8 446.4L326.5 446.6L327.2 446.8L327.8 447L328.5 447.2L329.2 447.4L329.9 447.6L323.6 451.6L322.9 451.4L322.2 451.2L321.5 451L320.9 450.8L320.2 450.6L319.5 450.4L318.8 450.2L318.1 450L317.4 449.8L316.8 449.6L316.1 449.3L315.4 449.1" fill="#f0a"/>
<path d="M321.8 445.2L329.3 447.5M321.8 445.2L315.9 448.8" class="m"/>
<path d="M329.3 447.5L330 447.7L330.7 447.9L331.4 448L332.1 448.2L332.8 448.4L333.5 448.6L334.3 448.8L335 449L328.7 452.9L328 452.8L327.3 452.6L326.6 452.4L325.8 452.2L325.1 452L324.4 451.8L323.7 451.6L323 451.4" fill="#f00"/>
<path d="M334.4 448.8L335.2 449L336 449.2L336.7 449.4L337.5 449.5L331.3 453.4L330.5 453.3L329.7 453.2L328.9 453L328.1 452.8" fill="#e00"/>
<path d="M329.3 447.5L329.9 447.6L330.6 447.8L331.2 448L331.8 448.2L332.5 448.3L333.1 448.5L333.7 448.7L334.4 448.8L335 449L335.7 449.1L336.3 449.3L336.9 449.4M329.3 447.5L323.5 451.1" class="m"/>
<path d="M336.9 449.4L337.9 449.6L338.8 449.7L332.6 453.5L331.6 453.5L330.7 453.4" fill="#e0a"/>
<path d="M338.2 449.6L339.5 449.7L333.2 453.6L332 453.5" fill="#d0a"/>
<path d="M338.9 449.7L339.8 449.7L340.7 449.7L334.5 453.4L333.6 453.5L332.6 453.5" fill="#d0b"/>
<path d="M340.1 449.7L341.1 449.7L342 449.5L335.8 453L334.9 453.3L333.9 453.5" fill="#c0b"/>
<path d="M341.4 449.6L342.4 449.4L343.3 449L337.1 452.3L336.1 452.9L335.2 453.2" fill="#b0c"/>
<path d="M342.7 449.2L343.9 448.6L337.7 451.7L336.5 452.7" fill="#a0c"/>
<path d="M343.3 449L344.3 448.3L345.2 447.3L339 449.8L338 451.3L337.1 452.3" fill="#90d"/>
<path d="M336.9 449.4L337.6 449.5L338.2 449.6L338.9 449.7L339.5 449.7L340.1 449.7L340.8 449.7L341.4 449.6L342.1 449.4L342.7 449.2L343.3 449L344 448.6L344.6 448.1M336.9 449.4L331.2 453.1" class="m"/>
<path d="M344.6 448.1L345.3 447.2L346 446.1L346.6 444.8L347.3 443.3L348 441.5L348.7 439.5L349.3 437.3L350 435.1L350.7 432.9L351.3 430.2L352 427.3L352.7 424.4L346.3 424.4L345.6 427.4L344.9 430.4L344.3 433.3L343.6 436.1L343 438.4L342.3 440.6L341.7 442.8L341 444.9L340.4 446.7L339.7 448.3L339 449.7L338.4 450.8" fill="#900"/>
<path d="M344.6 448.1L345.3 447.3L345.9 446.3L346.5 445.1L347.1 443.7L347.7 442.2L348.4 440.4L349 438.4L349.6 436.4L350.2 434.4L350.8 432.2L351.5 429.6L352.1 427M344.6 448.1L338.8 450.6" class="m"/>
<path d="M352.1 427L352.8 423.9L353.5 420.8L354.2 417.6L355 415.2L355.7 413.7L356.5 412.8L357.3 412.6L351 416.8L350.2 416.1L349.4 416.2L348.6 417L347.8 418.4L347.1 420.7L346.4 423.8L345.7 427" fill="#90d"/>
<path d="M356.7 412.7L358 413.1L351.7 417.8L350.3 416.2" fill="#c0b"/>
<path d="M357.4 412.6L358.7 414L352.5 419.8L351 416.9" fill="#f0d"/>
<path d="M358.1 413.1L359.5 415.5L353.2 422.5L351.8 417.9" fill="#e0f"/>
<path d="M358.8 414L359.9 416.8L361 421.1L354.8 429.6L353.6 424.2L352.5 419.9" fill="#d0f"/>
<path d="M352.1 427L352.7 424.3L353.3 421.5L354 418.6L354.6 416.3L355.3 414.5L356 413.4L356.7 412.7L357.4 412.6L358.1 413.1L358.8 414L359.5 415.6L360.3 418.2M352.1 427L346.2 427" class="m"/>
<path d="M360.3 418.2L361.2 422.2L362.1 426.9L363 431.6L363.9 435.2L357.8 440.3L356.9 439.2L356 435.6L355 430.9L354.1 426.1" fill="#c00"/>
<path d="M363.2 432.7L364.6 436.5L358.5 439.3L357.1 439.7" fill="#d00"/>
<path d="M364 435.4L365.3 435.9L359.1 436.6L357.8 440.3" fill="#e00"/>
<path d="M364.7 436.5L365.5 435.6L366.3 432.6L367 428.3L367.8 423.2L368.6 418.2L369.5 415.9L363.3 420.4L362.4 419.4L361.6 421.2L360.8 426.1L360 431.4L359.3 435.8L358.5 439.2" fill="#900"/>
<path d="M360.3 418.2L361 421.4L361.7 425L362.5 429L363.2 432.7L364 435.4L364.7 436.5L365.4 435.8L366 433.5L366.7 430.1L367.4 426L368.1 421.5L368.8 417.4M360.3 418.2L354.5 425.5" class="m"/>
<path d="M368.8 417.4L370.2 416.4L364 423.1L362.6 419.4" fill="#90d"/>
<path d="M369.5 415.9L370.9 418.5L364.8 426.7L363.3 420.6" fill="#f0e"/>
<path d="M370.2 416.5L371.7 421.9L365.5 430.8L364.1 423.3" fill="#d0f"/>
<path d="M371 418.7L371.8 422.6L372.6 427L373.4 431.8L374.2 436.7L375 441.5L375.8 445.6L376.6 449L377.4 451.6L371.4 458.3L370.6 456.1L369.8 453.5L369 450.2L368.2 446.2L367.3 441.4L366.5 436.4L365.7 431.5L364.8 427" fill="#c0f"/>
<path d="M376.7 449.4L378.1 453.6L372.1 460.1L370.8 456.5" fill="#d0f"/>
<path d="M368.8 417.4L369.5 415.9L370.2 416.5L371 418.7L371.7 422.1L372.4 426L373.2 430.2L373.9 434.6L374.6 439.1L375.3 443.1L376 446.6L376.7 449.4L377.4 451.8M368.8 417.4L363 419.1" class="m"/>
<path d="M377.4 451.8L378.3 454.2L379.1 456.4L380 458.1L380.9 459.4L375 464.7L374.1 463.7L373.2 462.3L372.4 460.6L371.5 458.4" fill="#d00"/>
<path d="M380.2 458.4L381.2 459.9L382.3 461L376.5 466.1L375.4 465.1L374.3 463.9" fill="#e00"/>
<path d="M381.6 460.3L382.4 461.2L383.3 461.9L384.1 462.6L384.9 463.2L385.7 463.7L386.6 464.2L380.8 469L379.9 468.5L379.1 468L378.3 467.5L377.4 466.9L376.6 466.2L375.8 465.5" fill="#f00"/>
<path d="M377.4 451.8L378.1 453.8L378.8 455.6L379.5 457.1L380.2 458.4L380.9 459.5L381.6 460.3L382.3 461.1L383 461.7L383.7 462.3L384.5 462.9L385.2 463.4L385.9 463.8M377.4 451.8L371.9 458" class="m"/>
<path d="M385.9 463.8L386.9 464.5L388 465L382.2 469.8L381.2 469.2L380.1 468.6" fill="#f0c"/>
<path d="M387.3 464.7L388.2 465.1L389.1 465.6L390 466L390.9 466.3L385.1 471L384.2 470.6L383.3 470.3L382.4 469.9L381.6 469.4" fill="#f0b"/>
<path d="M390.2 466L391 466.4L391.9 466.7L392.7 467.1L393.5 467.4L394.4 467.7L395.2 468L389.6 472.6L388.7 472.3L387.9 472L387 471.7L386.2 471.4L385.3 471.1L384.5 470.7" fill="#f0a"/>
<path d="M385.9 463.8L386.6 464.3L387.3 464.7L388 465.1L388.8 465.4L389.5 465.7L390.2 466L390.9 466.3L391.6 466.6L392.4 466.9L393.1 467.2L393.8 467.5L394.6 467.7M385.9 463.8L380.5 468.3" class="m"/>
<path d="M394.6 467.7L395.3 468L396.1 468.3L396.9 468.5L397.7 468.8L398.5 469L399.3 469.3L400.1 469.6L400.9 469.8L401.7 470.1L402.5 470.3L403.3 470.6L404.1 470.8L398.5 475.6L397.7 475.3L396.9 475.1L396.1 474.8L395.3 474.5L394.5 474.3L393.7 474L392.9 473.7L392.1 473.5L391.3 473.2L390.5 472.9L389.7 472.7L388.9 472.4" fill="#f00"/>
<path d="M394.6 467.7L403.4 470.6M394.6 467.7L389.3 472" class="m"/>
<path d="M403.4 470.6L404.2 470.9L405 471.1L405.8 471.4L406.6 471.6L407.4 471.9L408.2 472.1L409 472.4L409.9 472.6L410.7 472.9L411.5 473.1L412.3 473.4L413.1 473.7L407.6 478.5L406.8 478.2L406 478L405.2 477.7L404.3 477.4L403.5 477.2L402.7 476.9L401.9 476.7L401.1 476.4L400.2 476.1L399.4 475.9L398.6 475.6L397.8 475.4" fill="#f09"/>
<path d="M403.4 470.6L412.4 473.4M403.4 470.6L398.2 475" class="m"/>
<path d="M412.4 473.4L413.2 473.7L414 473.9L414.9 474.2L415.7 474.5L416.5 474.7L417.3 475L418.2 475.2L419 475.5L419.8 475.7L420.6 476L421.5 476.3L422.3 476.5L416.9 481.5L416.1 481.2L415.3 480.9L414.4 480.6L413.6 480.4L412.7 480.1L411.9 479.8L411.1 479.6L410.2 479.3L409.4 479.1L408.6 478.8L407.7 478.5L406.9 478.3" fill="#f00"/>
<path d="M412.4 473.4L421.6 476.3M412.4 473.4L407.3 477.9" class="m"/>
<path d="M421.6 476.3L422.4 476.5L423.1 476.8L423.9 477L424.7 477.3L425.5 477.5L426.2 477.7L427 478L427.8 478.2L428.6 478.5L429.4 478.7L430.2 479L431 479.2L425.7 484.2L424.9 484L424.1 483.7L423.3 483.5L422.5 483.2L421.7 483L420.9 482.7L420.1 482.5L419.3 482.2L418.6 482L417.8 481.7L417 481.5L416.2 481.2" fill="#f09"/>
<path d="M421.6 476.3L431 479.2M421.6 476.3L416.6 480.9M431 479.2L426.1 483.9" class="m"/>
<path d="M315.9 448.8L316.6 449.1L317.2 449.3L317.9 449.5L318.6 449.7L319.3 449.9L319.9 450.1L320.6 450.3L321.3 450.5L322 450.7L322.7 450.9L323.4 451.1L324.1 451.3L317.6 455.4L316.9 455.2L316.2 455L315.5 454.8L314.8 454.6L314.1 454.4L313.4 454.2L312.8 454L312.1 453.7L311.4 453.5L310.7 453.3L310 453.1L309.3 452.9" fill="#0d0"/>
<path d="M315.9 448.8L323.5 451.1M315.9 448.8L309.8 452.6" class="m"/>
<path d="M323.5 451.1L324.2 451.3L324.9 451.5L325.6 451.7L326.4 451.9L327.1 452.1L327.8 452.3L328.5 452.5L322.1 456.6L321.4 456.4L320.6 456.2L319.9 456L319.2 455.8L318.4 455.6L317.7 455.4L317 455.2" fill="#f70"/>
<path d="M327.9 452.4L328.7 452.5L329.5 452.7L330.2 452.9L331 453L331.8 453.1L325.3 457.2L324.6 457.1L323.8 457L323 456.8L322.3 456.6L321.5 456.5" fill="#e70"/>
<path d="M323.5 451.1L324.1 451.3L324.7 451.5L325.4 451.7L326 451.9L326.7 452L327.3 452.2L327.9 452.4L328.6 452.5L329.2 452.7L329.9 452.8L330.5 452.9L331.2 453.1M323.5 451.1L317.4 454.9" class="m"/>
<path d="M331.2 453.1L331.9 453.2L332.7 453.2L333.5 453.3L334.3 453.2L327.9 457.1L327.1 457.2L326.3 457.2L325.5 457.2L324.7 457.1" fill="#0c0"/>
<path d="M333.7 453.3L334.6 453.2L335.4 453L336.3 452.8L329.8 456.4L329 456.8L328.2 457L327.3 457.2" fill="#0b0"/>
<path d="M335.7 453L336.6 452.6L337.5 452L331.1 455.3L330.2 456.1L329.2 456.7" fill="#0a0"/>
<path d="M336.9 452.4L337.8 451.9L338.6 450.9L339.4 449.6L333 452.1L332.1 453.7L331.3 455L330.5 455.9" fill="#090"/>
<path d="M331.2 453.1L331.8 453.2L332.4 453.2L333.1 453.3L333.7 453.3L334.4 453.2L335 453.1L335.7 453L336.3 452.7L336.9 452.4L337.6 452L338.2 451.4L338.8 450.6M331.2 453.1L325.2 456.8" class="m"/>
<path d="M338.8 450.6L339.5 449.5L340.2 448.1L340.8 446.6L341.5 444.8L342.1 442.7L342.8 440.5L343.5 438.3L344.1 436L344.8 433.2L345.4 430.3L346.1 427.4L346.7 424.4L340.1 424.7L339.4 427.8L338.8 430.9L338.2 433.8L337.5 436.8L336.9 439.6L336.3 442L335.6 444.1L335 446.4L334.3 448.5L333.7 450.3L333 451.9L332.4 453.3" fill="#940"/>
<path d="M338.8 450.6L339.5 449.6L340.1 448.3L340.7 446.9L341.3 445.3L341.9 443.5L342.5 441.5L343.1 439.4L343.7 437.4L344.3 435.1L344.9 432.4L345.6 429.7L346.2 427M338.8 450.6L332.9 453.1" class="m"/>
<path d="M346.2 427L346.9 423.7L347.6 420.5L348.3 418.2L349.1 416.7L349.9 415.9L350.7 415.9L344.2 420.3L343.3 419.5L342.5 419.5L341.7 420.4L341 421.8L340.2 424.2L339.5 427.4" fill="#090"/>
<path d="M350.1 415.8L351.4 416.5L344.9 421.3L343.5 419.6" fill="#0c0"/>
<path d="M350.8 415.9L351.7 416.7L352.6 418.3L353.5 421.3L354.5 425.3L348.1 433.5L347.1 428.8L346.1 424.8L345.2 421.8L344.2 420.3" fill="#0f0"/>
<path d="M353.7 422.1L355.2 429L348.9 437.5L347.3 429.9" fill="#0e0"/>
<path d="M346.2 427L346.8 424.2L347.4 421.3L348 419.1L348.7 417.4L349.4 416.4L350.1 415.8L350.8 415.9L351.5 416.5L352.2 417.5L353 419.4L353.7 422.1L354.5 425.5M346.2 427L340 427.4" class="m"/>
<path d="M354.5 425.5L355.5 430.5L356.5 435.6L357.5 439.2L351.2 443.9L350.2 442.8L349.2 439L348.2 433.8" fill="#c60"/>
<path d="M356.8 437L358.2 440L351.9 442.8L350.5 443.5" fill="#d60"/>
<path d="M357.6 439.3L358.9 439.2L352.5 439.9L351.2 443.9" fill="#e70"/>
<path d="M358.3 440L359.1 438.8L359.8 435.5L360.6 431.1L361.3 426L362.1 421.1L362.9 419.2L363.7 420L357.3 426.9L356.5 423.8L355.6 422.9L354.8 424.7L354.1 429.6L353.4 434.8L352.6 439.3L351.9 442.7" fill="#940"/>
<path d="M354.5 425.5L355.3 429.3L356.1 433.3L356.8 437L357.6 439.3L358.3 440L359 439.1L359.6 436.4L360.3 432.7L361 428.5L361.6 423.9L362.3 420.1L363 419.1M354.5 425.5L348.6 433.2" class="m"/>
<path d="M363 419.1L364.1 421.2L365.2 426.1L358.9 434.7L357.8 428.8L356.6 424.2" fill="#0f0"/>
<path d="M364.5 422.8L365.4 426.9L366.2 431.5L367.1 436.5L367.9 441.6L368.8 446.4L369.6 450.3L370.4 453.6L364.3 460.4L363.5 457.8L362.6 454.6L361.7 450.6L360.9 445.8L360 440.6L359.1 435.6L358.2 430.9" fill="#0e0"/>
<path d="M369.7 451L370.7 454.5L371.6 457.2L372.6 459.7L366.5 465.7L365.5 463.7L364.6 461.2L363.6 458.3" fill="#0f0"/>
<path d="M363 419.1L363.8 420.1L364.5 422.8L365.3 426.4L366 430.4L366.8 434.7L367.5 439.1L368.3 443.6L369 447.6L369.7 451L370.5 453.7L371.2 456L371.9 458M363 419.1L357.1 423.8" class="m"/>
<path d="M371.9 458L372.8 460.3L373.8 462.1L374.7 463.5L368.7 468.8L367.7 467.7L366.8 466.2L365.8 464.3" fill="#d70"/>
<path d="M374.1 462.5L375.1 463.9L376.2 465.1L370.1 470.2L369.1 469.2L368 468" fill="#e70"/>
<path d="M375.5 464.4L376.3 465.2L377.1 465.9L377.9 466.6L378.7 467.2L379.6 467.7L380.4 468.2L381.2 468.7L375.3 473.6L374.4 473.1L373.6 472.6L372.8 472.1L371.9 471.6L371.1 471L370.3 470.3L369.5 469.6" fill="#f70"/>
<path d="M371.9 458L372.6 459.8L373.3 461.3L374.1 462.5L374.8 463.5L375.5 464.4L376.2 465.1L376.9 465.8L377.6 466.3L378.4 466.9L379.1 467.4L379.8 467.9L380.5 468.3M371.9 458L366.3 463.9" class="m"/>
<path d="M380.5 468.3L381.5 468.8L382.4 469.3L383.4 469.7L377.5 474.6L376.5 474.1L375.5 473.7L374.6 473.2" fill="#0e0"/>
<path d="M382.7 469.4L383.5 469.8L384.3 470.2L385.1 470.5L385.9 470.8L386.7 471.1L387.5 471.4L388.3 471.7L389.2 472L390 472.3L384.1 477.1L383.3 476.8L382.5 476.5L381.7 476.2L380.8 475.9L380 475.6L379.2 475.3L378.4 475L377.6 474.6L376.8 474.3" fill="#0d0"/>
<path d="M380.5 468.3L381.3 468.7L382 469.1L382.7 469.4L383.4 469.8L384.2 470.1L384.9 470.4L385.6 470.7L386.3 471L387.1 471.3L387.8 471.5L388.5 471.8L389.3 472M380.5 468.3L375 472.8" class="m"/>
<path d="M389.3 472L390.1 472.3L390.9 472.6L391.7 472.9L392.5 473.1L393.3 473.4L394.1 473.7L394.9 473.9L395.7 474.2L396.5 474.5L397.3 474.7L398.1 475L398.9 475.2L393.2 480.1L392.3 479.9L391.5 479.6L390.7 479.3L389.9 479.1L389.1 478.8L388.3 478.5L387.5 478.2L386.6 478L385.8 477.7L385 477.4L384.2 477.1L383.4 476.9" fill="#f70"/>
<path d="M389.3 472L398.2 475M389.3 472L383.9 476.5" class="m"/>
<path d="M398.2 475L399 475.3L399.8 475.5L400.7 475.8L401.5 476L402.3 476.3L403.1 476.6L403.9 476.8L404.7 477.1L405.6 477.3L406.4 477.6L407.2 477.9L408 478.1L402.4 483.1L401.6 482.9L400.7 482.6L399.9 482.3L399.1 482L398.2 481.8L397.4 481.5L396.6 481.2L395.7 481L394.9 480.7L394.1 480.4L393.3 480.2L392.5 479.9" fill="#0d0"/>
<path d="M398.2 475L407.3 477.9M398.2 475L392.9 479.5" class="m"/>
<path d="M407.3 477.9L408.1 478.2L409 478.4L409.8 478.7L410.6 479L411.5 479.2L412.3 479.5L413.1 479.8L414 480L414.8 480.3L415.7 480.6L416.5 480.8L417.3 481.1L411.8 486.2L410.9 485.9L410.1 485.6L409.2 485.4L408.4 485.1L407.5 484.8L406.7 484.5L405.9 484.3L405 484L404.2 483.7L403.3 483.4L402.5 483.2L401.7 482.9" fill="#f70"/>
<path d="M407.3 477.9L416.6 480.9M407.3 477.9L402.1 482.5" class="m"/>
<path d="M416.6 480.9L417.4 481.1L418.2 481.4L419 481.6L419.7 481.9L420.5 482.1L421.3 482.4L422.1 482.6L422.9 482.9L423.7 483.1L424.5 483.4L425.3 483.6L426.1 483.9L420.6 489.1L419.8 488.8L419 488.5L418.2 488.3L417.4 488L416.6 487.8L415.8 487.5L415 487.2L414.2 487L413.4 486.7L412.6 486.5L411.8 486.2L411 485.9" fill="#0d0"/>
<path d="M416.6 480.9L426.1 483.9M416.6 480.9L411.5 485.6M426.1 483.9L421 488.7" class="m"/>
<path d="M309.8 452.6L310.5 452.8L311.2 453L311.9 453.2L312.5 453.4L313.2 453.7L313.9 453.9L314.6 454.1L315.3 454.3L316 454.5L316.7 454.7L317.4 454.9L318 455.1L311.4 459.3L310.7 459.1L310 458.9L309.3 458.7L308.6 458.5L307.9 458.3L307.2 458.1L306.5 457.8L305.8 457.6L305.1 457.4L304.5 457.2L303.8 457L303.1 456.7" fill="#f0a"/>
<path d="M309.8 452.6L317.4 454.9M309.8 452.6L303.6 456.4" class="m"/>
<path d="M317.4 454.9L318.2 455.1L318.9 455.4L319.7 455.6L320.4 455.8L321.2 456L321.9 456.1L315.3 460.4L314.5 460.2L313.8 460L313 459.8L312.3 459.6L311.5 459.4L310.8 459.1" fill="#f00"/>
<path d="M321.3 456L322.1 456.2L322.8 456.4L323.6 456.5L324.3 456.7L325.1 456.8L325.8 456.9L319.2 461L318.4 461L317.7 460.9L316.9 460.7L316.2 460.6L315.4 460.4L314.7 460.2" fill="#e00"/>
<path d="M317.4 454.9L318.1 455.1L318.7 455.3L319.4 455.5L320 455.7L320.7 455.8L321.3 456L322 456.2L322.6 456.3L323.3 456.5L323.9 456.6L324.5 456.7L325.2 456.8M317.4 454.9L311.3 458.8" class="m"/>
<path d="M325.2 456.8L326.4 456.9L319.8 461L318.6 461" fill="#d0a"/>
<path d="M325.8 456.9L326.8 456.9L327.7 456.9L321.1 460.9L320.2 461L319.2 461" fill="#d0b"/>
<path d="M327.1 456.9L328.1 456.8L329 456.6L322.4 460.5L321.5 460.8L320.5 461" fill="#c0b"/>
<path d="M328.4 456.8L329.4 456.5L330.3 456.1L323.7 459.8L322.8 460.4L321.8 460.7" fill="#b0c"/>
<path d="M329.7 456.4L330.9 455.7L324.3 459.2L323.1 460.2" fill="#a0c"/>
<path d="M330.4 456.1L331.1 455.5L331.9 454.7L332.7 453.4L333.4 452L326.7 454.5L326 456.3L325.3 457.7L324.5 458.9L323.7 459.7" fill="#90d"/>
<path d="M325.2 456.8L325.8 456.9L326.5 456.9L327.1 456.9L327.8 456.9L328.4 456.8L329.1 456.6L329.7 456.4L330.4 456.1L331 455.6L331.6 455.1L332.2 454.2L332.9 453.1M325.2 456.8L319.1 460.7" class="m"/>
<path d="M332.9 453.1L333.5 451.8L334.2 450.2L334.8 448.4L335.5 446.3L336.1 444L336.7 441.8L337.4 439.5L338 436.7L338.7 433.8L339.3 430.8L339.9 427.8L340.6 424.6L333.7 426.1L333.1 428.6L332.4 431.7L331.8 434.8L331.2 437.8L330.6 440.8L330 443.6L329.3 445.9L328.7 448.1L328.1 450.4L327.5 452.5L326.8 454.3L326.2 455.9" fill="#900"/>
<path d="M332.9 453.1L333.5 451.9L334.1 450.4L334.7 448.8L335.3 446.9L335.9 444.9L336.5 442.7L337.1 440.8L337.7 438.4L338.2 435.7L338.8 433L339.4 430.2L340 427.4M332.9 453.1L326.7 455.7" class="m"/>
<path d="M340 427.4L340.7 424L341.5 421.6L342.3 420.1L343.1 419.2L343.9 419.2L337.2 423.7L336.3 422.9L335.5 423.1L334.7 424L333.9 425.6L333.1 428.2" fill="#90d"/>
<path d="M343.3 419.1L344.7 419.9L337.9 424.8L336.5 423.1" fill="#e0a"/>
<path d="M344 419.3L345.4 420.9L338.7 426.8L337.2 423.8" fill="#f0e"/>
<path d="M344.7 420L346.2 422.9L339.5 429.6L338 424.9" fill="#e0f"/>
<path d="M345.5 421L346.6 424.3L347.8 429.1L341.2 437L340 431.4L338.8 427" fill="#d0f"/>
<path d="M347 425.8L348.2 431L349.4 437L342.9 444.9L341.7 439.3L340.4 433.4" fill="#c0f"/>
<path d="M340 427.4L340.6 424.5L341.3 422.3L341.9 420.6L342.6 419.7L343.3 419.1L344 419.3L344.7 420L345.5 421L346.2 423.1L347 425.8L347.8 429.3L348.6 433.2M340 427.4L333.7 428.1" class="m"/>
<path d="M348.6 433.2L349.8 439L350.9 443L344.4 447.8L343.3 446.3L342.1 441.3" fill="#c00"/>
<path d="M350.2 440.9L351.7 443.7L345.1 446.7L343.7 447.2" fill="#d00"/>
<path d="M351 443.1L352.3 442.7L345.7 443.8L344.4 447.7" fill="#f00"/>
<path d="M351.7 443.6L352.5 442.3L353.2 438.8L353.9 434.3L354.6 429.1L355.4 424.2L356.2 422.6L357 423.7L350.5 430.4L349.6 427.4L348.7 426.5L347.9 428.5L347.2 433.5L346.5 438.7L345.8 443.2L345.1 446.6" fill="#900"/>
<path d="M356.3 422.6L357.8 426.3L351.3 434.2L349.7 427.7" fill="#e00"/>
<path d="M348.6 433.2L349.4 437.2L350.2 440.9L351 443.1L351.7 443.6L352.4 442.6L353 439.7L353.7 435.9L354.3 431.6L354.9 427.1L355.6 423.4L356.3 422.6L357.1 423.8M348.6 433.2L342.6 440.8" class="m"/>
<path d="M357.1 423.8L358.6 430L352.1 438.3L350.5 430.6" fill="#d0f"/>
<path d="M357.9 426.6L358.8 430.8L359.6 435.5L360.5 440.5L361.4 445.7L362.3 450.5L363.2 454.5L364 457.7L357.7 464.4L356.8 461.8L356 458.5L355.1 454.4L354.1 449.5L353.2 444.2L352.3 439.2L351.3 434.4" fill="#c0f"/>
<path d="M363.3 455.1L364.2 458.4L365.1 461L366.1 463.4L367 465.3L360.7 471L359.8 469.4L358.9 467.4L357.9 465L357 462.3" fill="#d0f"/>
<path d="M357.1 423.8L357.9 426.6L358.6 430.3L359.4 434.4L360.2 438.8L361 443.3L361.8 447.8L362.6 451.8L363.3 455.1L364.1 457.8L364.8 460.1L365.5 462.1L366.3 463.9M357.1 423.8L351 430.1" class="m"/>
<path d="M366.3 463.9L367.3 466L368.4 467.6L362.2 472.9L361.1 471.6L360 469.9" fill="#d00"/>
<path d="M367.7 466.6L368.8 468L369.9 469.2L363.7 474.4L362.6 473.3L361.5 472.1" fill="#e00"/>
<path d="M369.2 468.5L370 469.3L370.8 470L371.6 470.7L372.4 471.2L373.2 471.8L374.1 472.3L374.9 472.8L375.7 473.2L369.6 478.2L368.7 477.8L367.9 477.3L367.1 476.8L366.3 476.3L365.4 475.8L364.6 475.1L363.8 474.5L363 473.7" fill="#f00"/>
<path d="M366.3 463.9L367 465.4L367.7 466.6L368.5 467.6L369.2 468.5L369.9 469.2L370.6 469.8L371.4 470.4L372.1 471L372.8 471.5L373.5 472L374.3 472.4L375 472.8M366.3 463.9L360.5 469.4" class="m"/>
<path d="M375 472.8L376 473.3L376.9 473.8L377.9 474.2L371.8 479.2L370.8 478.7L369.8 478.3L368.9 477.8" fill="#f0b"/>
<path d="M377.2 473.9L378 474.3L378.8 474.6L379.6 475L380.5 475.3L381.3 475.6L382.1 475.9L382.9 476.2L383.7 476.5L384.6 476.8L378.5 481.7L377.7 481.4L376.9 481.1L376 480.8L375.2 480.5L374.4 480.2L373.5 479.9L372.7 479.6L371.9 479.2L371.1 478.9" fill="#f0a"/>
<path d="M375 472.8L375.7 473.2L376.5 473.6L377.2 473.9L377.9 474.2L378.7 474.6L379.4 474.9L380.1 475.2L380.9 475.4L381.6 475.7L382.4 476L383.1 476.2L383.9 476.5M375 472.8L369.3 477.5" class="m"/>
<path d="M383.9 476.5L384.7 476.8L385.5 477.1L386.3 477.3L387.1 477.6L387.9 477.9L388.7 478.2L389.5 478.4L390.3 478.7L391.1 479L392 479.2L392.8 479.5L393.6 479.8L387.6 484.8L386.8 484.5L386 484.3L385.2 484L384.3 483.7L383.5 483.4L382.7 483.2L381.9 482.9L381.1 482.6L380.2 482.3L379.4 482L378.6 481.8L377.8 481.5" fill="#f00"/>
<path d="M383.9 476.5L392.9 479.5M383.9 476.5L378.3 481.1" class="m"/>
<path d="M392.9 479.5L393.7 479.8L394.5 480.1L395.3 480.3L396.2 480.6L397 480.9L397.8 481.1L398.6 481.4L399.5 481.7L400.3 482L401.1 482.2L402 482.5L402.8 482.8L397 487.9L396.1 487.6L395.3 487.4L394.4 487.1L393.6 486.8L392.8 486.5L391.9 486.2L391.1 486L390.2 485.7L389.4 485.4L388.6 485.1L387.8 484.9L386.9 484.6" fill="#f09"/>
<path d="M392.9 479.5L402.1 482.5M392.9 479.5L387.4 484.2" class="m"/>
<path d="M402.1 482.5L402.9 482.8L403.7 483.1L404.6 483.3L405.4 483.6L406.3 483.9L407.1 484.2L408 484.4L408.8 484.7L409.6 485L410.5 485.3L411.3 485.5L412.2 485.8L406.5 491.1L405.6 490.8L404.7 490.5L403.9 490.2L403 489.9L402.2 489.6L401.3 489.4L400.5 489.1L399.6 488.8L398.8 488.5L397.9 488.2L397.1 488L396.2 487.7" fill="#f00"/>
<path d="M402.1 482.5L411.5 485.6M402.1 482.5L396.7 487.3" class="m"/>
<path d="M411.5 485.6L412.2 485.8L413 486.1L413.8 486.3L414.6 486.6L415.4 486.9L416.2 487.1L417 487.4L417.8 487.6L418.6 487.9L419.4 488.2L420.2 488.4L421 488.7L415.4 494L414.6 493.8L413.8 493.5L413 493.2L412.2 493L411.3 492.7L410.5 492.4L409.7 492.2L408.9 491.9L408.1 491.6L407.3 491.4L406.5 491.1L405.7 490.8" fill="#f09"/>
<path d="M411.5 485.6L421 488.7M411.5 485.6L406.1 490.4M421 488.7L415.8 493.6" class="m"/>
<path d="M303.6 456.4L304.3 456.7L304.9 456.9L305.6 457.1L306.3 457.3L307 457.5L307.7 457.8L308.4 458L309.1 458.2L309.8 458.4L310.5 458.6L311.2 458.8L311.9 459L305 463.4L304.3 463.1L303.6 462.9L302.9 462.7L302.2 462.5L301.5 462.3L300.8 462.1L300.1 461.9L299.4 461.6L298.7 461.4L298 461.2L297.3 461L296.6 460.7" fill="#0d0"/>
<path d="M303.6 456.4L311.3 458.8M303.6 456.4L297.1 460.4" class="m"/>
<path d="M311.3 458.8L312 459.1L312.8 459.3L313.6 459.5L314.3 459.7L315.1 459.9L308.3 464.3L307.5 464.1L306.7 463.8L305.9 463.6L305.2 463.4L304.4 463.2" fill="#f70"/>
<path d="M314.5 459.7L315.3 459.9L316 460.1L316.8 460.3L317.5 460.5L318.3 460.6L319 460.7L312.2 464.9L311.4 464.9L310.7 464.8L309.9 464.6L309.2 464.5L308.4 464.3L307.6 464.1" fill="#e70"/>
<path d="M318.4 460.6L319.7 460.7L312.8 465L311.6 464.9" fill="#d60"/>
<path d="M311.3 458.8L311.9 459L312.6 459.2L313.2 459.4L313.9 459.6L314.5 459.7L315.1 459.9L315.8 460.1L316.5 460.2L317.1 460.4L317.8 460.5L318.4 460.6L319.1 460.7M311.3 458.8L304.9 462.9" class="m"/>
<path d="M319.1 460.7L320 460.7L321 460.7L314.1 464.9L313.2 465L312.2 465" fill="#0c0"/>
<path d="M320.4 460.7L321.2 460.7L322.1 460.5L322.9 460.2L316.1 464.2L315.2 464.6L314.4 464.8L313.5 465" fill="#0b0"/>
<path d="M322.3 460.4L323.2 460.1L324.2 459.5L317.3 463.3L316.4 464L315.5 464.5" fill="#0a0"/>
<path d="M323.6 459.9L324.3 459.4L325.1 458.6L325.8 457.4L326.5 456L327.2 454.3L320.3 457.1L319.6 459L318.9 460.6L318.2 462L317.5 463.1L316.7 463.8" fill="#090"/>
<path d="M319.1 460.7L319.7 460.7L320.4 460.7L321 460.7L321.7 460.6L322.3 460.4L322.9 460.2L323.6 459.9L324.2 459.5L324.8 458.9L325.5 458L326.1 456.9L326.7 455.7M319.1 460.7L312.7 464.6" class="m"/>
<path d="M326.7 455.7L327.3 454.1L328 452.3L328.6 450.2L329.2 448L329.8 445.7L330.5 443.5L331.1 440.7L331.7 437.7L332.3 434.7L332.9 431.7L333.6 428.5L334.2 426L327.1 428.3L326.5 430.3L325.8 432.9L325.2 436.2L324.6 439.2L324 442.2L323.5 445.3L322.9 448L322.2 450.2L321.6 452.5L321 454.8L320.4 456.8L319.8 458.6" fill="#940"/>
<path d="M326.7 455.7L327.3 454.2L327.9 452.6L328.4 450.7L329 448.6L329.6 446.5L330.2 444.5L330.8 442.1L331.3 439.4L331.9 436.7L332.5 433.9L333.1 431L333.7 428.1M326.7 455.7L320.3 458.4" class="m"/>
<path d="M333.7 428.1L334.4 425.4L335.2 423.7L336.1 422.8L336.9 422.7L330 427.2L329 426.5L328.2 426.9L327.3 427.9L326.6 430" fill="#090"/>
<path d="M336.3 422.6L337.7 423.4L330.7 428.2L329.3 426.6" fill="#0c0"/>
<path d="M337 422.7L337.9 423.7L338.8 425.3L339.8 428.4L340.9 432.6L334.1 440.1L333 435.4L332 431.5L331 428.6L330 427.3" fill="#0f0"/>
<path d="M340.1 429.3L341.2 434L342.3 439.3L343.4 444.3L336.7 450.8L335.6 447L334.4 441.7L333.3 436.5" fill="#0e0"/>
<path d="M333.7 428.1L334.3 425.9L334.9 424.2L335.6 423.2L336.3 422.6L337 422.7L337.7 423.5L338.5 424.5L339.3 426.5L340.1 429.3L340.9 432.8L341.8 436.7L342.6 440.8M333.7 428.1L327.1 429.8" class="m"/>
<path d="M342.6 440.8L344.2 446.7L337.4 451.8L335.9 448.4" fill="#c60"/>
<path d="M343.4 444.5L344.9 447.5L338.1 450.9L336.7 450.9" fill="#d60"/>
<path d="M344.2 446.8L345.6 446.5L338.7 448.3L337.5 451.7" fill="#f70"/>
<path d="M344.9 447.5L345.7 446.1L346.4 442.6L347.1 438.1L347.8 432.9L348.5 428L349.3 426.2L350.1 427.2L343.3 433.6L342.4 430.9L341.6 430.4L340.8 432.9L340.1 438.1L339.5 443.3L338.8 447.7L338.1 450.8" fill="#940"/>
<path d="M349.4 426.2L350.9 429.9L344.2 437.3L342.6 431.2" fill="#e70"/>
<path d="M350.2 427.3L351.8 433.6L345.1 441.5L343.4 433.8" fill="#d60"/>
<path d="M342.6 440.8L343.4 444.5L344.2 446.8L344.9 447.5L345.6 446.4L346.2 443.6L346.9 439.8L347.5 435.4L348.1 430.8L348.7 427.1L349.4 426.2L350.2 427.3L351 430.1M342.6 440.8L336.4 447.9" class="m"/>
<path d="M351 430.1L351.9 434.4L352.9 439.1L353.8 444.2L354.7 449.5L355.6 454.3L356.5 458.3L357.4 461.6L350.9 468.2L350 465.5L349.1 462L348.2 457.8L347.2 452.7L346.2 447.4L345.2 442.3L344.3 437.6" fill="#0e0"/>
<path d="M356.7 459L357.6 462.2L358.5 464.8L359.4 467.2L360.3 469.1L361.2 470.6L354.7 476.2L353.8 474.9L352.9 473.3L352 471.2L351.1 468.8L350.2 466" fill="#0f0"/>
<path d="M351 430.1L351.8 433.8L352.6 438L353.5 442.4L354.3 447L355.1 451.5L355.9 455.6L356.7 459L357.5 461.8L358.2 464.1L359 466.1L359.7 467.9L360.5 469.4M351 430.1L344.7 437" class="m"/>
<path d="M360.5 469.4L361.9 471.7L355.5 477.1L354 475.2" fill="#d70"/>
<path d="M361.2 470.7L362.3 472.2L363.4 473.3L357 478.6L355.9 477.6L354.8 476.3" fill="#e70"/>
<path d="M362.7 472.6L363.5 473.4L364.3 474.1L365.1 474.8L365.9 475.4L366.7 476L367.6 476.5L368.4 476.9L369.2 477.4L370 477.8L363.7 482.9L362.8 482.5L362 482.1L361.2 481.6L360.4 481.1L359.5 480.6L358.7 480L357.9 479.4L357.1 478.7L356.3 478" fill="#f70"/>
<path d="M360.5 469.4L361.2 470.7L361.9 471.7L362.7 472.6L363.4 473.4L364.2 474L364.9 474.6L365.6 475.2L366.4 475.7L367.1 476.2L367.8 476.6L368.6 477.1L369.3 477.5M360.5 469.4L354.5 474.8" class="m"/>
<path d="M369.3 477.5L370.7 478.2L364.4 483.2L363 482.6" fill="#0e0"/>
<path d="M370 477.8L370.9 478.2L371.7 478.6L372.5 478.9L373.3 479.2L374.1 479.6L374.9 479.9L375.7 480.2L376.5 480.5L377.3 480.8L378.1 481.1L379 481.4L372.7 486.5L371.9 486.2L371.1 485.9L370.2 485.6L369.4 485.3L368.6 485L367.8 484.7L367 484.3L366.2 484L365.3 483.7L364.5 483.3L363.7 482.9" fill="#0d0"/>
<path d="M369.3 477.5L370 477.8L370.8 478.2L371.5 478.5L372.3 478.8L373 479.1L373.8 479.4L374.5 479.7L375.3 480L376 480.3L376.7 480.6L377.5 480.8L378.3 481.1M369.3 477.5L363.4 482.2" class="m"/>
<path d="M378.3 481.1L379.1 481.4L379.9 481.7L380.7 482L381.5 482.2L382.3 482.5L383.1 482.8L384 483.1L384.8 483.3L385.6 483.6L386.4 483.9L387.3 484.2L388.1 484.5L381.9 489.7L381.1 489.4L380.3 489.1L379.4 488.8L378.6 488.5L377.8 488.2L376.9 488L376.1 487.7L375.3 487.4L374.5 487.1L373.6 486.8L372.8 486.5L372 486.2" fill="#f70"/>
<path d="M378.3 481.1L387.4 484.2M378.3 481.1L372.5 485.9" class="m"/>
<path d="M387.4 484.2L388.2 484.5L389 484.8L389.9 485L390.7 485.3L391.5 485.6L392.4 485.9L393.2 486.1L394 486.4L394.9 486.7L395.7 487L396.5 487.3L397.4 487.5L391.4 492.9L390.5 492.6L389.7 492.3L388.8 492L388 491.7L387.1 491.4L386.3 491.1L385.4 490.8L384.6 490.6L383.7 490.3L382.9 490L382.1 489.7L381.2 489.4" fill="#0d0"/>
<path d="M387.4 484.2L396.7 487.3M387.4 484.2L381.7 489" class="m"/>
<path d="M396.7 487.3L397.5 487.6L398.3 487.9L399.2 488.1L400 488.4L400.9 488.7L401.7 489L402.6 489.3L403.5 489.5L404.3 489.8L405.2 490.1L406 490.4L406.9 490.7L401 496.1L400.1 495.8L399.2 495.5L398.4 495.2L397.5 494.9L396.6 494.7L395.8 494.4L394.9 494.1L394 493.8L393.2 493.5L392.3 493.2L391.5 492.9L390.6 492.6" fill="#f70"/>
<path d="M396.7 487.3L406.1 490.4M396.7 487.3L391.1 492.2" class="m"/>
<path d="M406.1 490.4L406.9 490.7L407.7 491L408.5 491.2L409.3 491.5L410.1 491.8L411 492L411.8 492.3L412.6 492.6L413.4 492.8L414.2 493.1L415 493.4L415.8 493.6L410 499.2L409.2 498.9L408.4 498.6L407.5 498.3L406.7 498.1L405.9 497.8L405.1 497.5L404.3 497.2L403.5 497L402.6 496.7L401.8 496.4L401 496.1L400.2 495.9" fill="#0d0"/>
<path d="M406.1 490.4L415.8 493.6M406.1 490.4L400.6 495.5M415.8 493.6L410.4 498.8" class="m"/>
<path d="M297.1 460.4L297.8 460.6L298.5 460.9L299.2 461.1L299.9 461.3L300.6 461.5L301.3 461.8L302 462L302.7 462.2L303.4 462.4L304.1 462.6L304.8 462.8L305.5 463L298.4 467.5L297.7 467.3L297 467.1L296.3 466.9L295.6 466.7L294.9 466.4L294.2 466.2L293.5 466L292.8 465.8L292.1 465.5L291.4 465.3L290.7 465.1L290 464.8" fill="#f0a"/>
<path d="M297.1 460.4L304.9 462.9M297.1 460.4L290.5 464.5" class="m"/>
<path d="M304.9 462.9L305.7 463.1L306.5 463.3L307.3 463.6L308.1 463.8L301 468.3L300.2 468L299.4 467.8L298.6 467.6L297.8 467.3" fill="#f00"/>
<path d="M307.5 463.6L308.2 463.8L309 464L309.8 464.2L310.5 464.3L311.3 464.5L312 464.6L305 469L304.2 468.9L303.5 468.8L302.7 468.7L301.9 468.5L301.2 468.3L300.4 468.1" fill="#e00"/>
<path d="M311.4 464.5L312.4 464.6L313.3 464.7L306.3 469.1L305.3 469L304.4 469" fill="#d00"/>
<path d="M304.9 462.9L305.5 463L306.2 463.2L306.8 463.4L307.5 463.6L308.1 463.8L308.8 463.9L309.5 464.1L310.1 464.3L310.8 464.4L311.4 464.5L312.1 464.6L312.7 464.6M304.9 462.9L298.3 467" class="m"/>
<path d="M312.7 464.6L314 464.6L306.9 469L305.7 469.1" fill="#d0b"/>
<path d="M313.4 464.7L314.3 464.6L315.3 464.4L308.2 468.7L307.3 468.9L306.3 469.1" fill="#c0b"/>
<path d="M314.7 464.5L315.6 464.3L316.6 463.9L309.5 468L308.6 468.5L307.6 468.8" fill="#b0c"/>
<path d="M316 464.2L317.2 463.5L310.2 467.5L308.9 468.4" fill="#a0c"/>
<path d="M316.6 463.9L317.3 463.4L318.1 462.7L318.8 461.6L319.5 460.3L320.2 458.7L320.8 456.9L313.7 459.8L313 461.9L312.4 463.7L311.7 465.2L311 466.4L310.3 467.4L309.6 468" fill="#90d"/>
<path d="M312.7 464.6L313.4 464.7L314 464.6L314.7 464.5L315.3 464.4L316 464.2L316.6 463.9L317.2 463.5L317.9 462.9L318.5 462.1L319.1 461L319.7 459.8L320.3 458.4M312.7 464.6L306.2 468.7" class="m"/>
<path d="M320.3 458.4L320.9 456.6L321.5 454.6L322.1 452.3L322.7 450L323.4 447.8L324 445.1L324.6 442.1L325.2 439.1L325.8 436.1L326.4 432.8L327 430.1L327.7 428.1L320.4 431.3L319.7 432.7L319 434.9L318.4 437.9L317.9 441.1L317.3 444.2L316.7 447.2L316.1 450.2L315.5 452.8L314.9 455L314.4 457.4L313.8 459.6L313.2 461.5" fill="#900"/>
<path d="M320.3 458.4L320.9 456.8L321.4 454.9L322 452.9L322.6 450.7L323.1 448.7L323.7 446.4L324.3 443.6L324.8 440.9L325.4 438L325.9 435.2L326.5 432.2L327.1 429.8M320.3 458.4L313.7 461.3" class="m"/>
<path d="M327.1 429.8L327.9 427.6L328.8 426.5L329.7 426.3L322.5 430.8L321.5 430.3L320.6 431L319.8 432.4" fill="#90d"/>
<path d="M329.1 426.3L330.5 426.9L323.3 431.7L321.8 430.3" fill="#d0b"/>
<path d="M329.8 426.3L331.2 427.9L324.1 433.2L322.6 430.8" fill="#f0e"/>
<path d="M330.5 426.9L332 429.7L324.9 435.8L323.3 431.8" fill="#e0f"/>
<path d="M331.3 427.9L332.5 431L333.7 435.7L326.7 442.9L325.4 437.4L324.1 433.4" fill="#d0f"/>
<path d="M332.9 432.5L334 436.9L335.1 441.8L336.1 446.8L337.2 450.3L330.2 455.8L329.2 453.8L328.1 449.3L327 444.1L325.9 439.3" fill="#c0f"/>
<path d="M327.1 429.8L327.7 428L328.4 427L329.1 426.3L329.8 426.3L330.5 426.9L331.3 427.9L332.1 429.8L332.9 432.5L333.8 436L334.6 439.8L335.5 444L336.4 447.9M327.1 429.8L320.3 432.2" class="m"/>
<path d="M336.4 447.9L337.9 451.5L330.9 455.4L329.5 454.4" fill="#d00"/>
<path d="M337.2 450.4L338.6 450.7L331.5 453.3L330.2 455.8" fill="#e00"/>
<path d="M338 451.4L338.7 450.4L339.4 447.1L340.1 442.6L340.7 437.4L341.4 432.3L342.2 430L343 430.7L336 436.7L335 434.4L334.2 434.6L333.5 438.2L332.9 443.5L332.3 448.5L331.6 452.7L330.9 455.3" fill="#900"/>
<path d="M342.3 429.9L343.8 433.2L336.9 440.1L335.2 434.6" fill="#e00"/>
<path d="M343.1 430.8L344.7 436.8L337.8 444.3L336 436.9" fill="#d00"/>
<path d="M343.9 433.4L345.5 440.9L338.7 448.7L336.9 440.4" fill="#c00"/>
<path d="M336.4 447.9L337.2 450.4L338 451.4L338.6 450.6L339.3 448L339.9 444.3L340.4 440L341 435.3L341.6 431.1L342.3 429.9L343.1 430.8L343.9 433.4L344.7 437M336.4 447.9L330 454" class="m"/>
<path d="M344.7 437L345.7 441.8L346.7 446.8L347.7 452.1L348.6 457.2L349.6 461.5L350.5 465L351.4 467.8L344.7 474.1L343.8 471.6L342.8 468.6L341.9 464.8L340.9 460.2L339.9 454.8L338.8 449.6L337.8 444.5" fill="#c0f"/>
<path d="M350.6 465.5L351.6 468.3L352.5 470.7L353.4 472.8L354.3 474.5L355.2 475.8L348.5 481.4L347.6 480.2L346.7 478.7L345.8 476.9L344.9 474.7L343.9 472.1" fill="#d0f"/>
<path d="M344.7 437L345.6 441.2L346.5 445.6L347.3 450.2L348.2 454.9L349 459.1L349.8 462.6L350.6 465.5L351.4 467.9L352.2 470L353 471.9L353.7 473.5L354.5 474.8M344.7 437L338.3 444" class="m"/>
<path d="M354.5 474.8L355.6 476.3L356.7 477.5L350.1 482.9L348.9 481.8L347.8 480.5" fill="#e00"/>
<path d="M356 476.8L356.8 477.6L357.6 478.4L358.4 479.1L359.2 479.7L360.1 480.2L360.9 480.8L361.7 481.3L362.5 481.7L363.3 482.1L364.1 482.5L357.6 487.8L356.8 487.4L355.9 487L355.1 486.5L354.3 486L353.5 485.5L352.6 485L351.8 484.4L351 483.7L350.2 483L349.3 482.3" fill="#f00"/>
<path d="M354.5 474.8L355.2 475.9L356 476.8L356.7 477.6L357.5 478.3L358.2 478.9L359 479.5L359.7 480L360.5 480.5L361.2 481L361.9 481.4L362.7 481.8L363.4 482.2M354.5 474.8L348.3 480.1" class="m"/>
<path d="M363.4 482.2L364.5 482.7L365.6 483.2L359.1 488.5L358 488L356.9 487.4" fill="#f0b"/>
<path d="M364.9 482.9L365.7 483.3L366.6 483.6L367.4 484L368.2 484.3L369 484.6L369.9 484.9L370.7 485.2L371.5 485.5L372.3 485.8L373.2 486.1L366.7 491.4L365.9 491.1L365.1 490.8L364.2 490.5L363.4 490.2L362.5 489.8L361.7 489.5L360.9 489.2L360.1 488.9L359.2 488.5L358.4 488.1" fill="#f0a"/>
<path d="M363.4 482.2L364.2 482.6L364.9 482.9L365.7 483.2L366.4 483.6L367.2 483.9L367.9 484.2L368.7 484.5L369.4 484.7L370.2 485L370.9 485.3L371.7 485.6L372.5 485.9M363.4 482.2L357.4 487.1" class="m"/>
<path d="M372.5 485.9L373.3 486.1L374.1 486.4L374.9 486.7L375.8 487L376.6 487.3L377.4 487.6L378.2 487.9L379.1 488.1L379.9 488.4L380.7 488.7L381.6 489L382.4 489.3L376.1 494.7L375.2 494.4L374.4 494.1L373.5 493.8L372.7 493.5L371.8 493.2L371 492.9L370.2 492.6L369.3 492.3L368.5 492L367.7 491.7L366.8 491.4L366 491.1" fill="#f00"/>
<path d="M372.5 485.9L381.7 489M372.5 485.9L366.5 490.7" class="m"/>
<path d="M381.7 489L382.5 489.3L383.3 489.6L384.2 489.9L385 490.2L385.9 490.5L386.7 490.7L387.6 491L388.4 491.3L389.3 491.6L390.1 491.9L391 492.2L391.8 492.5L385.6 498L384.7 497.7L383.8 497.4L383 497.1L382.1 496.8L381.3 496.5L380.4 496.2L379.6 495.9L378.7 495.6L377.9 495.3L377 495L376.2 494.7L375.3 494.4" fill="#f09"/>
<path d="M381.7 489L391.1 492.2M381.7 489L375.8 494" class="m"/>
<path d="M391.1 492.2L391.9 492.5L392.8 492.8L393.6 493.1L394.5 493.4L395.3 493.7L396.2 494L397.1 494.3L397.9 494.5L398.8 494.8L399.7 495.1L400.5 495.4L401.4 495.7L395.3 501.3L394.4 501L393.5 500.7L392.6 500.4L391.8 500.1L390.9 499.8L390 499.5L389.1 499.2L388.3 498.9L387.4 498.6L386.5 498.3L385.7 498L384.8 497.7" fill="#f00"/>
<path d="M391.1 492.2L400.6 495.5M391.1 492.2L385.3 497.3" class="m"/>
<path d="M400.6 495.5L401.5 495.7L402.3 496L403.1 496.3L403.9 496.6L404.7 496.8L405.5 497.1L406.3 497.4L407.1 497.7L408 497.9L408.8 498.2L409.6 498.5L410.4 498.8L404.4 504.5L403.6 504.2L402.7 503.9L401.9 503.6L401.1 503.4L400.3 503.1L399.4 502.8L398.6 502.5L397.8 502.2L397 501.9L396.1 501.6L395.3 501.4L394.5 501.1" fill="#f09"/>
<path d="M400.6 495.5L410.4 498.8M400.6 495.5L395 500.7M410.4 498.8L404.9 504.1" class="m"/>
<path d="M290.5 464.5L291.2 464.7L291.9 465L292.6 465.2L293.3 465.4L294 465.7L294.7 465.9L295.4 466.1L296.1 466.3L296.8 466.5L297.5 466.8L298.2 467L298.9 467.2L292.2 471.5L291.4 471.3L290.7 471L290 470.8L289.3 470.6L288.6 470.4L287.9 470.1L287.2 469.9L286.5 469.7L285.8 469.4L285.1 469.2L284.4 469L283.7 468.7" fill="#0d0"/>
<path d="M290.5 464.5L298.3 467M290.5 464.5L283.7 468.7M283.7 468.7L291.5 471.3" class="m"/>
<path d="M298.3 467L299.2 467.3L300 467.5L300.9 467.8L294.1 472.1L293.3 471.8L292.4 471.6L291.5 471.3" fill="#f70"/>
<path d="M300.3 467.6L301 467.8L301.8 468L302.6 468.2L303.3 468.4L304.1 468.5L304.8 468.6L298.1 472.9L297.3 472.8L296.6 472.7L295.8 472.5L295.1 472.3L294.3 472.1L293.5 471.9" fill="#e70"/>
<path d="M304.2 468.5L305.1 468.7L306 468.7L306.8 468.7L300.1 473L299.2 473L298.4 472.9L297.5 472.8" fill="#d60"/>
<path d="M298.3 467L299 467.2L299.6 467.4L300.3 467.6L300.9 467.8L301.6 467.9L302.3 468.1L302.9 468.3L303.6 468.4L304.2 468.5L304.9 468.6L305.5 468.7L306.2 468.7M298.3 467L291.5 471.3M291.5 471.3L292.2 471.5L292.9 471.7L293.5 471.9L294.2 472.1L294.8 472.2L295.5 472.4L296.2 472.6L296.8 472.7L297.5 472.8L298.2 472.9L298.8 473L299.5 473" class="m"/>
<path d="M306.2 468.7L307 468.7L307.8 468.6L308.6 468.4L309.4 468.1L302.7 472.1L301.9 472.5L301.1 472.8L300.3 472.9L299.5 473" fill="#0b0"/>
<path d="M308.8 468.3L309.7 467.9L310.7 467.2L303.9 471.1L303 471.9L302.1 472.4" fill="#0a0"/>
<path d="M310.1 467.7L310.8 467.1L311.5 466.2L312.2 464.9L312.9 463.4L313.5 461.7L314.2 459.6L307.4 462.6L306.7 464.9L306.1 466.8L305.4 468.4L304.7 469.8L304.1 470.9L303.3 471.7" fill="#090"/>
<path d="M306.2 468.7L306.9 468.7L307.5 468.7L308.2 468.5L308.8 468.3L309.4 468.1L310.1 467.7L310.7 467.2L311.3 466.5L311.9 465.4L312.5 464.3L313.1 462.9L313.7 461.3M306.2 468.7L299.5 473M299.5 473L300.1 472.9L300.8 472.8L301.4 472.7L302.1 472.4L302.7 472.1L303.3 471.7L304 471L304.6 470.1L305.1 469L305.7 467.7L306.3 466.2L306.8 464.5" class="m"/>
<path d="M313.7 461.3L314.3 459.3L314.9 457.1L315.5 454.8L316.1 452.6L316.7 450L317.2 447L317.8 444L318.4 440.9L319 437.7L319.6 434.7L320.2 432.5L320.9 431L313.9 434.4L313.2 435.5L312.6 437.4L312 439.9L311.4 443.2L310.8 446.4L310.3 449.4L309.7 452.5L309.2 455.4L308.6 457.7L308 460L307.4 462.3L306.8 464.5" fill="#940"/>
<path d="M313.7 461.3L314.2 459.5L314.8 457.5L315.3 455.3L315.9 453.2L316.5 451L317 448.4L317.5 445.5L318.1 442.7L318.6 439.9L319.1 436.8L319.7 434.2L320.3 432.2M313.7 461.3L306.8 464.5M306.8 464.5L307.4 462.5L307.9 460.4L308.5 458.2L309 456.1L309.5 453.6L310 450.8L310.6 447.9L311.1 445L311.6 442.1L312.1 439.1L312.7 436.9L313.3 435.3" class="m"/>
<path d="M320.3 432.2L321.3 430.6L322.3 430L315.4 434.1L314.3 434.1L313.3 435.3" fill="#090"/>
<path d="M321.6 430.2L323 430.4L316.1 434.9L314.7 433.9" fill="#0b0"/>
<path d="M322.3 430L323.8 431.4L316.9 436L315.4 434.1" fill="#0e0"/>
<path d="M323.1 430.5L324.1 431.8L325.2 434.5L326.3 438.6L319.6 444.9L318.4 440.2L317.2 436.7L316.2 434.9" fill="#0f0"/>
<path d="M325.5 435.6L326.6 439.5L327.6 444.2L328.7 449.1L329.8 453.4L330.7 455.4L324 459.7L323.1 458.9L322.1 455.6L321 450.9L319.8 445.8L318.7 441.4" fill="#0e0"/>
<path d="M320.3 432.2L321 431L321.6 430.2L322.3 430L323.1 430.5L323.9 431.4L324.7 432.9L325.5 435.6L326.4 438.8L327.3 442.6L328.2 446.9L329.1 450.9L330 454M320.3 432.2L313.3 435.3M313.3 435.3L314 434.4L314.7 433.9L315.4 434.1L316.2 434.9L317 436.1L317.8 438.4L318.7 441.4L319.7 445.1L320.6 449.2L321.6 453.4L322.5 457.2L323.3 459.3" class="m"/>
<path d="M330 454L331.4 455.1L324.7 458.5L323.3 459.3" fill="#d70"/>
<path d="M330.8 455.5L331.5 454.9L332.2 452.1L332.9 447.9L333.5 442.8L334.1 437.5L334.8 434.2L335.7 434.2L328.9 439.2L328 437.8L327.2 439.1L326.6 444L326 449.5L325.4 454.2L324.8 458L324.1 459.7" fill="#940"/>
<path d="M335 434L336.5 436.2L329.8 442.2L328.1 437.9" fill="#f70"/>
<path d="M335.7 434.3L337.4 439.6L330.7 446.1L329 439.3" fill="#d60"/>
<path d="M336.6 436.4L337.8 441.8L339.2 448.1L332.6 455.1L331.2 448.4L329.8 442.4" fill="#c60"/>
<path d="M330 454L330.8 455.5L331.5 455L332.1 452.9L332.7 449.5L333.2 445.3L333.8 440.5L334.3 436L335 434L335.7 434.3L336.6 436.4L337.4 439.8L338.3 444M330 454L323.3 459.3M323.3 459.3L324.1 459.7L324.7 458.4L325.3 455.2L325.8 451.2L326.3 446.6L326.8 441.9L327.4 438.5L328.1 437.9L329 439.3L329.8 442.4L330.8 446.4L331.7 450.8" class="m"/>
<path d="M338.3 444L339.4 449.1L340.4 454.5L341.4 459.9L342.4 464.6L343.4 468.4L344.4 471.5L337.9 477.4L337 474.6L336 471.1L335 466.8L333.9 461.7L332.8 456.1L331.7 450.8" fill="#0e0"/>
<path d="M343.6 469.1L344.5 472L345.5 474.5L346.4 476.6L347.3 478.4L348.2 479.9L349 481L342.7 486.1L341.8 485.1L340.9 483.8L340 482.2L339 480.2L338.1 477.8L337.2 475.2" fill="#0f0"/>
<path d="M338.3 444L339.2 448.4L340.1 453L341 457.8L341.9 462.2L342.8 466L343.6 469.1L344.4 471.6L345.2 473.8L346 475.8L346.8 477.5L347.6 478.9L348.3 480.1M338.3 444L331.7 450.8M331.7 450.8L332.7 455.4L333.6 460.1L334.5 464.8L335.4 468.9L336.3 472.3L337.2 475.2L338 477.5L338.8 479.6L339.6 481.5L340.4 483L341.2 484.3L341.9 485.3" class="m"/>
<path d="M348.3 480.1L349.4 481.4L350.5 482.5L344.2 487.6L343.1 486.6L341.9 485.3" fill="#e70"/>
<path d="M349.8 481.9L350.7 482.6L351.5 483.4L352.3 484L353.1 484.6L354 485.1L354.8 485.7L355.6 486.1L356.4 486.6L357.2 487L358.1 487.4L351.8 492.4L351 492L350.1 491.6L349.3 491.1L348.5 490.7L347.6 490.2L346.8 489.6L346 489.1L345.2 488.4L344.3 487.7L343.5 487" fill="#f70"/>
<path d="M348.3 480.1L349.1 481L349.8 481.9L350.6 482.6L351.3 483.2L352.1 483.8L352.8 484.4L353.6 484.9L354.4 485.4L355.1 485.9L355.9 486.3L356.6 486.7L357.4 487.1M348.3 480.1L341.9 485.3M341.9 485.3L342.7 486.2L343.5 487L344.2 487.7L345 488.3L345.8 488.9L346.5 489.4L347.3 489.9L348 490.4L348.8 490.9L349.6 491.3L350.3 491.7L351.1 492.1" class="m"/>
<path d="M357.4 487.1L358.2 487.4L359 487.8L359.8 488.2L360.6 488.5L361.4 488.8L362.3 489.2L363.1 489.5L363.9 489.8L364.7 490.1L365.6 490.4L366.4 490.7L367.2 491L361 496.1L360.2 495.8L359.4 495.5L358.5 495.1L357.7 494.8L356.9 494.5L356 494.2L355.2 493.9L354.4 493.5L353.6 493.2L352.7 492.8L351.9 492.4L351.1 492.1" fill="#0d0"/>
<path d="M357.4 487.1L358.1 487.4L358.9 487.8L359.6 488.1L360.4 488.4L361.1 488.7L361.9 489L362.7 489.3L363.4 489.6L364.2 489.9L365 490.2L365.7 490.5L366.5 490.7M357.4 487.1L351.1 492.1M351.1 492.1L351.9 492.4L352.6 492.8L353.4 493.1L354.1 493.4L354.9 493.7L355.7 494L356.4 494.3L357.2 494.6L358 494.9L358.8 495.2L359.5 495.5L360.3 495.8" class="m"/>
<path d="M366.5 490.7L367.3 491L368.1 491.3L369 491.6L369.8 491.9L370.6 492.2L371.5 492.5L372.3 492.8L373.2 493.1L374 493.4L374.8 493.7L375.7 494L376.5 494.3L370.4 499.5L369.6 499.1L368.7 498.8L367.9 498.5L367 498.2L366.2 497.9L365.3 497.6L364.5 497.3L363.7 497L362.8 496.7L362 496.4L361.1 496.1L360.3 495.8" fill="#f70"/>
<path d="M366.5 490.7L375.8 494M366.5 490.7L360.3 495.8M360.3 495.8L369.7 499.2" class="m"/>
<path d="M375.8 494L376.6 494.3L377.5 494.6L378.3 494.9L379.2 495.2L380 495.5L380.9 495.8L381.7 496.1L382.6 496.4L383.4 496.7L384.3 497L385.2 497.3L386 497.6L380 502.9L379.2 502.5L378.3 502.2L377.4 501.9L376.6 501.6L375.7 501.3L374.8 501L374 500.7L373.1 500.4L372.3 500.1L371.4 499.8L370.6 499.5L369.7 499.2" fill="#0d0"/>
<path d="M375.8 494L385.3 497.3M375.8 494L369.7 499.2M369.7 499.2L379.3 502.6" class="m"/>
<path d="M385.3 497.3L386.1 497.6L387 497.9L387.9 498.2L388.7 498.5L389.6 498.8L390.5 499.1L391.3 499.4L392.2 499.7L393.1 500L394 500.3L394.8 500.6L395.7 500.9L389.9 506.3L389 506L388.1 505.7L387.2 505.4L386.3 505.1L385.4 504.8L384.5 504.4L383.7 504.1L382.8 503.8L381.9 503.5L381 503.2L380.2 502.9L379.3 502.6" fill="#f70"/>
<path d="M385.3 497.3L395 500.7M385.3 497.3L379.3 502.6M379.3 502.6L389.1 506.1" class="m"/>
<path d="M395 500.7L395.8 501L396.6 501.2L397.4 501.5L398.2 501.8L399.1 502.1L399.9 502.4L400.7 502.7L401.5 502.9L402.4 503.2L403.2 503.5L404 503.8L404.9 504.1L399.1 509.6L398.2 509.3L397.4 509L396.6 508.7L395.7 508.4L394.9 508.1L394.1 507.8L393.2 507.5L392.4 507.2L391.6 506.9L390.7 506.6L389.9 506.3L389.1 506.1" fill="#0d0"/>
<path d="M395 500.7L404.9 504.1M395 500.7L389.1 506.1M389.1 506.1L399.1 509.6M404.9 504.1L399.1 509.6" class="m"/>
<path d="M275.1 422.9L401.8 461.2M401.8 461.2L468.9 406.5M401.8 461.2L400.2 513.1M279.8 470.1L400.2 513.1M400.2 513.1L464.6 450.8" stroke="#8a8a8a" stroke-width="0.8" fill="none"/>
<text x="364.0" y="377.2" text-anchor="middle" class="l3" transform="scale(0.98 1)">0.0</text>
<text x="344.9" y="385.8" text-anchor="middle" class="l3" transform="scale(0.98 1)">0.5</text>
<text x="325.8" y="386.4" text-anchor="middle" class="l3" transform="scale(0.98 1)">t</text>
<text x="326.7" y="395.3" text-anchor="middle" class="l3" transform="scale(0.98 1)">1.0</text>
<text x="305.3" y="405.9" text-anchor="middle" class="l3" transform="scale(0.98 1)">1.5</text>
<text x="281.6" y="417.5" text-anchor="middle" class="l3" transform="scale(0.98 1)">2.0</text>
<text x="272.4" y="436.8" text-anchor="middle" class="l3" transform="scale(0.98 1)">3.0</text>
<text x="274.3" y="454.1" text-anchor="middle" class="l3" transform="scale(0.98 1)">2.8</text>
<text x="276.5" y="469.9" text-anchor="middle" class="l3" transform="scale(0.98 1)">2.6</text>
<text x="235.7" y="459" class="l3" textLength="30" lengthAdjust="spacingAndGlyphs"><tspan style="font-family:'Liberation Serif',serif;font-style:italic;font-size:9.5px">w</tspan><tspan font-size="5.8" dy="1.6">22</tspan><tspan dy="-1.6" font-size="7.6" font-weight="normal" fill="#666" stroke="none">(</tspan><tspan font-size="8.2">x,t</tspan><tspan font-size="7.6" font-weight="normal" fill="#666" stroke="none">)</tspan></text>
<text x="289.8" y="481.9" text-anchor="middle" class="l3" transform="scale(0.98 1)">10</text>
<text x="314.1" y="491.8" text-anchor="middle" class="l3" transform="scale(0.98 1)">5</text>
<text x="342.2" y="501.6" text-anchor="middle" class="l3" transform="scale(0.98 1)">0</text>
<text x="340.9" y="511.4" text-anchor="middle" class="l3" transform="scale(0.98 1)">x</text>
<text x="373.1" y="513.6" text-anchor="middle" class="l3" transform="scale(0.98 1)">- 5</text>
<text x="405.1" y="525.4" text-anchor="middle" class="l3" transform="scale(0.98 1)">- 10</text>
<path d="M586.6 377.8L586.9 423.6M511.4 467.3L586.9 423.6M678.6 453.4L586.9 423.6M507.8 413L586.6 377.8M586.6 377.8L682 401.4M511.4 467.3L507.8 413M682 401.4L678.6 453.4" stroke="#8a8a8a" stroke-width="0.8" fill="none"/>
<path d="M609.7 512.5L611.8 510.6M604 509.8L605 509M598.4 507.3L599.5 506.4M593 504.8L594 503.9M587.6 502.3L588.6 501.5M582.3 499.9L584.4 498.2M577.1 497.5L578.1 496.7M572 495.1L573 494.3M567 492.8L568 492.1M562.1 490.6L563.1 489.8M557.2 488.4L559.4 486.8M552.5 486.2L553.5 485.4M547.8 484L548.9 483.3M543.2 481.9L544.3 481.2M538.7 479.8L539.8 479.1M534.2 477.8L536.5 476.4M529.8 475.8L530.9 475.1M525.5 473.8L526.6 473.2M521.3 471.9L522.4 471.2M517.1 470L518.2 469.3M513 468.1L515.3 466.8M585.3 378.4L587.4 378.9M582.2 379.8L583.2 380M579 381.2L580 381.5M575.8 382.7L576.8 382.9M572.5 384.1L573.5 384.4M569.1 385.6L571.2 386.2M565.7 387.2L566.7 387.4M562.2 388.7L563.2 389M558.6 390.3L559.6 390.6M554.9 391.9L556 392.2M551.2 393.6L553.4 394.2M547.5 395.3L548.5 395.6M543.6 397L544.6 397.3M539.7 398.8L540.7 399.1M535.6 400.6L536.7 400.9M531.5 402.4L533.7 403.1M527.4 404.3L528.4 404.6M523.1 406.2L524.1 406.5M518.7 408.1L519.8 408.5M514.3 410.1L515.3 410.5M509.7 412.1L511.9 412.9M511.3 465.8L512.3 466.3M511 461.5L512 461.9M510.7 457.1L512.8 458M510.4 452.7L511.4 453.1M510.1 448.3L511.1 448.7M509.8 443.8L510.8 444.2M509.5 439.3L511.7 440.2M509.2 434.7L510.2 435.2M508.9 430.2L509.9 430.6M508.6 425.6L509.6 426M508.3 420.9L510.5 421.7M508 416.3L509 416.7" stroke="#777" stroke-width="0.7" fill="none"/>
<path d="M587.3 423.9L587.8 424.1L588.3 424.3L588.8 424.4L589.4 424.6L589.9 424.8L590.4 425L591 425.1L591.5 425.3L592.1 425.5L592.6 425.7L593.1 425.8L593.7 426L588.7 429L588.1 428.8L587.6 428.6L587.1 428.5L586.5 428.3L586 428.1L585.4 427.9L584.9 427.7L584.4 427.6L583.8 427.4L583.3 427.2L582.7 427L582.2 426.9" fill="#0d0"/>
<path d="M587.3 423.9L593.2 425.9M587.3 423.9L582.6 426.6" class="m"/>
<path d="M593.2 425.9L593.8 426L594.3 426.2L594.8 426.4L595.4 426.6L595.9 426.7L596.5 426.9L597 427.1L597.6 427.2L598.1 427.4L598.7 427.6L599.2 427.7L599.8 427.9L594.8 430.9L594.3 430.7L593.7 430.6L593.1 430.4L592.6 430.2L592 430.1L591.5 429.9L590.9 429.7L590.4 429.5L589.8 429.4L589.3 429.2L588.8 429L588.2 428.8" fill="#f70"/>
<path d="M593.2 425.9L599.3 427.8M593.2 425.9L588.6 428.6" class="m"/>
<path d="M599.3 427.8L599.8 427.9L600.4 428.1L601 428.2L601.5 428.4L602.1 428.5L602.6 428.7L603.2 428.8L603.8 429L604.3 429.1L604.9 429.2L605.5 429.3L600.5 432.2L600 432.1L599.4 432L598.8 431.9L598.3 431.8L597.7 431.7L597.1 431.5L596.6 431.4L596 431.2L595.4 431.1L594.9 430.9L594.3 430.8" fill="#0d0"/>
<path d="M605 429.2L606 429.4L601.1 432.3L600.1 432.2" fill="#0c0"/>
<path d="M599.3 427.8L599.8 427.9L600.3 428L600.8 428.2L601.3 428.3L601.9 428.5L602.4 428.6L602.9 428.7L603.4 428.9L603.9 429L604.5 429.1L605 429.2L605.5 429.3M599.3 427.8L594.7 430.5" class="m"/>
<path d="M605.5 429.3L606.2 429.4L606.9 429.5L607.6 429.5L602.7 432.2L602 432.3L601.3 432.3L600.6 432.2" fill="#e70"/>
<path d="M607.1 429.5L607.8 429.5L608.5 429.5L609.2 429.4L604.3 431.7L603.6 432L602.9 432.2L602.2 432.3" fill="#d60"/>
<path d="M608.7 429.5L609.7 429.2L604.8 431.4L603.8 431.9" fill="#c60"/>
<path d="M609.2 429.4L610.2 429L605.3 431L604.3 431.7" fill="#b60"/>
<path d="M609.7 429.2L610.4 428.9L611.1 428.5L611.7 427.9L612.4 427.1L607.5 427.4L606.9 428.9L606.2 430.1L605.5 430.8L604.8 431.4" fill="#940"/>
<path d="M605.5 429.3L606 429.4L606.5 429.5L607.1 429.5L607.6 429.5L608.1 429.5L608.7 429.5L609.2 429.4L609.7 429.2L610.3 428.9L610.8 428.6L611.3 428.2L611.9 427.7M605.5 429.3L600.9 432" class="m"/>
<path d="M611.9 427.7L612.5 426.9L613.1 425.8L613.7 424.5L614.3 422.9L614.9 421.1L615.5 419L616.2 416.7L616.8 414.2L617.4 411.9L618.1 409.3L618.7 406.2L619.4 403.1L614.6 399.2L613.9 402.5L613.2 405.7L612.6 408.8L611.9 412L611.3 414.6L610.7 417L610.1 419.4L609.4 421.8L608.8 423.9L608.2 425.7L607.6 427.3L607 428.6" fill="#090"/>
<path d="M611.9 427.7L612.4 427L613 426L613.5 424.8L614.1 423.4L614.7 421.8L615.3 419.9L615.8 417.9L616.4 415.7L617 413.4L617.6 411.3L618.2 408.7L618.8 405.8M611.9 427.7L607.4 428.5" class="m"/>
<path d="M618.8 405.8L619.5 402.5L620.2 399.2L620.9 395.8L621.6 392.8L622.3 390.6L622.9 389.4L623.6 388.6L624.2 388.8L619.3 393.1L618.6 391.8L618 391.1L617.3 391L616.7 391.8L616 393.2L615.3 395.5L614.7 398.6L614 402.1" fill="#940"/>
<path d="M623.7 388.6L624.5 389.1L625.4 390.6L620.3 398.5L619.5 394.3L618.7 392" fill="#f70"/>
<path d="M624.8 389.5L625.9 392.8L620.8 402.2L619.8 395.7" fill="#e70"/>
<path d="M625.4 390.7L626.4 395.6L621.3 406.3L620.3 398.7" fill="#d60"/>
<path d="M618.8 405.8L619.4 402.9L620 399.9L620.7 396.9L621.3 393.9L621.9 391.7L622.5 390.1L623.1 389.1L623.7 388.6L624.3 388.8L624.8 389.5L625.4 390.7L625.9 392.9M618.8 405.8L614.3 402.3" class="m"/>
<path d="M625.9 392.9L626.7 397.5L627.4 403.3L622.3 414L621.6 408.5L620.9 402.4" fill="#0f0"/>
<path d="M626.9 399.5L627.5 404.9L628.2 410L628.9 413.1L624.1 414.4L623.3 416.2L622.5 414.9L621.9 410.6" fill="#0e0"/>
<path d="M628.4 411.3L629.4 413.4L624.7 411L623.5 415.9" fill="#0f0"/>
<path d="M628.9 413.2L630 412L625.4 406.8L624.1 414.2" fill="#0d0"/>
<path d="M629.5 413.4L630.2 411.3L631 407.2L631.9 401.9L632.7 396.2L633.5 391.9L628.7 395.2L628 393.6L627.2 394.8L626.4 399.9L625.6 405.7L624.8 410.8" fill="#090"/>
<path d="M625.9 392.9L626.4 395.9L626.9 399.5L627.4 403.5L627.9 407.6L628.4 411.3L628.9 413.2L629.5 413.4L630.1 411.9L630.8 408.6L631.5 404.5L632.2 399.8L632.9 395.1M625.9 392.9L621.2 401.7" class="m"/>
<path d="M632.9 395.1L633.9 391.2L634.7 392.5L629.7 402.4L628.9 396.8L628.1 393.7" fill="#940"/>
<path d="M634.2 391.2L635.2 395.5L630.2 406.7L629.2 398.6" fill="#d70"/>
<path d="M634.8 392.7L635.7 399.4L630.6 411.3L629.7 402.7" fill="#d60"/>
<path d="M635.3 395.7L635.8 400.2L636.3 405.1L636.8 410.3L637.3 415.7L637.9 420.6L638.4 424.5L639 427.7L634.1 435.2L633.5 432.9L632.9 430.2L632.3 426.9L631.8 422.7L631.3 417.7L630.7 412.3L630.2 407" fill="#c60"/>
<path d="M638.5 425.1L639.5 430L634.7 437L633.6 433.3" fill="#d60"/>
<path d="M632.9 395.1L633.6 391.8L634.2 391.2L634.8 392.7L635.3 395.7L635.7 399.7L636.2 403.9L636.7 408.5L637.1 413.2L637.5 417.8L638 421.8L638.5 425.1L639 427.9M632.9 395.1L628.5 393.4" class="m"/>
<path d="M639 427.9L639.6 430.4L640.1 432.6L640.7 434.5L641.3 436L641.9 437.2L642.6 438.2L643.2 439L643.8 439.7L644.5 440.3L639.8 444.5L639.2 443.9L638.5 443.3L637.9 442.7L637.3 442L636.6 441.1L636 440.1L635.4 438.8L634.8 437.3L634.2 435.3" fill="#0f0"/>
<path d="M643.9 439.8L644.7 440.5L645.5 441.2L646.2 441.8L641.6 445.7L640.8 445.2L640 444.6L639.3 444" fill="#0e0"/>
<path d="M639 427.9L639.5 430.1L640 432.2L640.6 434L641.1 435.4L641.7 436.7L642.2 437.6L642.8 438.5L643.4 439.2L643.9 439.8L644.5 440.4L645.1 440.9L645.7 441.4M639 427.9L634.5 434.8" class="m"/>
<path d="M645.7 441.4L646.3 441.8L646.9 442.2L647.6 442.7L648.2 443L648.9 443.4L649.5 443.7L650.1 444L650.8 444.3L651.4 444.5L652.1 444.8L652.7 445.1L653.4 445.3L648.9 449L648.2 448.7L647.5 448.5L646.9 448.2L646.2 448L645.6 447.7L644.9 447.4L644.3 447.1L643.6 446.8L643 446.5L642.3 446.1L641.7 445.7L641 445.3" fill="#f70"/>
<path d="M645.7 441.4L646.3 441.8L646.8 442.2L647.4 442.6L648 442.9L648.6 443.2L649.2 443.5L649.8 443.8L650.4 444.1L651 444.4L651.6 444.6L652.2 444.9L652.8 445.1M645.7 441.4L641.4 445" class="m"/>
<path d="M652.8 445.1L653.5 445.3L654.1 445.6L654.8 445.8L655.5 446.1L656.1 446.3L656.8 446.5L657.4 446.7L658.1 447L658.8 447.2L659.4 447.4L660.1 447.6L660.8 447.9L656.3 451.6L655.6 451.3L655 451.1L654.3 450.9L653.6 450.6L652.9 450.4L652.3 450.2L651.6 449.9L650.9 449.7L650.3 449.5L649.6 449.2L648.9 449L648.3 448.8" fill="#0d0"/>
<path d="M652.8 445.1L660.2 447.7M652.8 445.1L648.6 448.5" class="m"/>
<path d="M660.2 447.7L660.9 447.9L661.5 448.1L662.2 448.3L662.9 448.6L663.6 448.8L664.2 449L664.9 449.2L665.6 449.4L666.3 449.7L667 449.9L667.6 450.1L668.3 450.3L663.9 454.1L663.2 453.9L662.6 453.6L661.9 453.4L661.2 453.2L660.5 453L659.8 452.7L659.1 452.5L658.4 452.3L657.8 452L657.1 451.8L656.4 451.6L655.7 451.4" fill="#f70"/>
<path d="M660.2 447.7L667.7 450.1M660.2 447.7L656 451.1" class="m"/>
<path d="M667.7 450.1L668.4 450.3L669 450.6L669.6 450.8L670.3 451L670.9 451.2L671.6 451.4L672.2 451.6L672.9 451.8L673.5 452L674.2 452.2L674.8 452.4L675.4 452.6L671.1 456.5L670.5 456.3L669.8 456.1L669.2 455.8L668.5 455.6L667.9 455.4L667.2 455.2L666.6 455L665.9 454.8L665.3 454.5L664.6 454.3L664 454.1L663.3 453.9" fill="#0d0"/>
<path d="M667.7 450.1L675.4 452.6M667.7 450.1L663.7 453.6M675.4 452.6L671.4 456.2" class="m"/>
<path d="M582.6 426.6L583.1 426.8L583.7 427L584.2 427.2L584.7 427.3L585.3 427.5L585.8 427.7L586.3 427.9L586.9 428.1L587.4 428.2L588 428.4L588.5 428.6L589 428.8L583.9 431.8L583.4 431.7L582.8 431.5L582.3 431.3L581.7 431.1L581.2 430.9L580.6 430.7L580.1 430.6L579.6 430.4L579 430.2L578.5 430L577.9 429.8L577.4 429.6" fill="#f09"/>
<path d="M582.6 426.6L588.6 428.6M582.6 426.6L577.8 429.4" class="m"/>
<path d="M588.6 428.6L589.1 428.8L589.7 429L590.2 429.2L590.8 429.3L591.3 429.5L591.9 429.7L592.4 429.8L593 430L593.5 430.2L594.1 430.4L594.6 430.5L595.2 430.7L590.1 433.7L589.5 433.6L589 433.4L588.4 433.3L587.8 433.1L587.3 432.9L586.7 432.8L586.2 432.6L585.6 432.4L585.1 432.2L584.5 432L584 431.9L583.4 431.7" fill="#f00"/>
<path d="M588.6 428.6L594.7 430.5M588.6 428.6L583.8 431.5" class="m"/>
<path d="M594.7 430.5L595.3 430.7L595.9 430.9L596.4 431L597 431.2L597.6 431.3L598.2 431.5L598.8 431.6L593.7 434.7L593.1 434.5L592.5 434.4L591.9 434.3L591.4 434.1L590.8 433.9L590.2 433.8L589.6 433.6" fill="#f0a"/>
<path d="M598.3 431.5L598.9 431.7L599.6 431.8L600.2 431.9L600.8 432L601.4 432.1L596.4 434.9L595.7 434.9L595.1 434.9L594.5 434.8L593.9 434.7L593.2 434.6" fill="#e0a"/>
<path d="M594.7 430.5L595.2 430.7L595.7 430.8L596.2 431L596.8 431.1L597.3 431.3L597.8 431.4L598.3 431.5L598.8 431.6L599.4 431.7L599.9 431.9L600.4 431.9L600.9 432M594.7 430.5L590 433.4" class="m"/>
<path d="M600.9 432L602 432.1L596.9 434.9L595.9 434.9" fill="#e00"/>
<path d="M601.5 432.1L602.2 432.1L602.9 432.1L603.6 431.9L598.5 434.4L597.8 434.7L597.1 434.9L596.4 434.9" fill="#d00"/>
<path d="M603.1 432L603.8 431.9L604.6 431.5L599.6 433.7L598.8 434.2L598 434.6" fill="#c00"/>
<path d="M604.1 431.7L605.2 431.2L600.1 433.2L599.1 434.1" fill="#b00"/>
<path d="M604.7 431.5L605.3 431.1L605.9 430.6L606.6 429.9L607.2 428.8L607.9 427.4L602.9 427.3L602.2 429.2L601.6 430.7L600.9 432.1L600.3 433L599.6 433.7" fill="#900"/>
<path d="M600.9 432L601.5 432.1L602 432.1L602.5 432.1L603.1 432L603.6 431.9L604.1 431.7L604.7 431.5L605.2 431.2L605.7 430.8L606.3 430.3L606.8 429.6L607.4 428.5M600.9 432L596.2 434.7" class="m"/>
<path d="M607.4 428.5L608 427.2L608.6 425.7L609.2 423.9L609.8 421.9L610.4 419.6L611 417.1L611.7 414.8L612.3 412.2L612.9 409.1L613.6 405.9L614.2 402.7L614.9 399.5L609.9 396.6L609.2 399.1L608.6 402.5L607.9 405.8L607.3 409L606.6 412.2L606 415.3L605.4 417.8L604.8 420.2L604.2 422.7L603.6 425L603 427L602.4 428.8" fill="#90d"/>
<path d="M607.4 428.5L607.9 427.3L608.5 425.9L609 424.3L609.6 422.5L610.2 420.4L610.8 418.2L611.3 415.9L611.9 413.7L612.5 411.1L613.1 408.2L613.7 405.3L614.3 402.3M607.4 428.5L602.7 428.8" class="m"/>
<path d="M614.3 402.3L615 398.7L615.8 395.5L616.5 393.1L617.1 391.7L617.8 390.8L618.5 390.9L613.4 395.1L612.7 393.9L612 393.2L611.4 393.4L610.7 394.4L610 396.2L609.3 398.8" fill="#900"/>
<path d="M618 390.8L618.8 391.2L619.6 392.7L614.5 400.2L613.7 396.2L612.8 394.1" fill="#f00"/>
<path d="M619.1 391.7L620.2 394.9L615 403.9L613.9 397.5" fill="#e00"/>
<path d="M619.7 392.8L620.4 396.3L621.2 401.4L616 412.2L615.3 406L614.5 400.4" fill="#d00"/>
<path d="M620.7 398L621.7 405.5L616.5 416.1L615.5 408.3" fill="#c00"/>
<path d="M614.3 402.3L614.9 399.2L615.6 396.2L616.2 394L616.8 392.3L617.4 391.3L618 390.8L618.5 391L619.1 391.7L619.7 392.8L620.2 395.1L620.7 398L621.2 401.7M614.3 402.3L609.7 399" class="m"/>
<path d="M621.2 401.7L621.9 407.1L622.5 412.3L623.2 415.5L618.3 417.4L617.5 418.8L616.7 417.1L616 412.5" fill="#c0f"/>
<path d="M622.7 413.6L623.8 415.9L618.9 414.2L617.7 418.6" fill="#d0f"/>
<path d="M623.3 415.6L624.4 414.6L619.6 410.1L618.3 417.2" fill="#f0a"/>
<path d="M623.8 415.9L624.5 414.1L625.3 410.1L626.1 405.2L626.9 399.6L627.7 394.7L628.4 393.4L629 394.7L623.9 404.1L623.3 399.7L622.7 396.7L622 396L621.3 398.3L620.5 403.6L619.7 409.2L618.9 413.9" fill="#90d"/>
<path d="M621.2 401.7L621.7 405.7L622.2 409.9L622.7 413.6L623.3 415.6L623.8 415.9L624.4 414.4L625.1 411.2L625.8 407L626.5 402.3L627.2 397.5L627.9 394.1L628.5 393.4M621.2 401.7L616.4 411.7" class="m"/>
<path d="M628.5 393.4L629.3 396.2L630 401.6L624.9 413.1L624.1 406.4L623.4 400.4" fill="#d00"/>
<path d="M629.6 397.9L630.1 402.4L630.7 407.4L631.2 412.6L631.7 418.1L632.3 423L632.8 427L633.4 430.3L628.5 437.7L627.8 435.3L627.2 432.5L626.6 429L626.1 424.7L625.5 419.5L625 414L624.4 408.7" fill="#c00"/>
<path d="M632.9 427.7L633.6 431.2L634.3 434.1L635 436.6L630.1 442.4L629.4 440.7L628.7 438.5L627.9 435.7" fill="#d00"/>
<path d="M628.5 393.4L629.1 394.8L629.6 397.9L630.1 401.9L630.6 406.2L631 410.8L631.5 415.5L632 420.2L632.4 424.3L632.9 427.7L633.5 430.5L634 432.8L634.5 434.8M628.5 393.4L623.8 399.7" class="m"/>
<path d="M634.5 434.8L635.2 437.2L635.9 439L636.7 440.4L631.9 445.1L631.1 444.1L630.3 442.8L629.6 441.2" fill="#d0f"/>
<path d="M636.2 439.4L637 440.8L637.8 441.9L633 446.3L632.2 445.4L631.3 444.4" fill="#e0f"/>
<path d="M637.3 441.2L638.1 442.3L639 443.1L634.2 447.3L633.3 446.6L632.5 445.7" fill="#f0e"/>
<path d="M638.5 442.6L639.3 443.4L640.2 444.2L635.4 448.2L634.5 447.6L633.6 446.9" fill="#f0d"/>
<path d="M639.6 443.7L640.4 444.3L641.2 444.9L641.9 445.4L637.2 449.3L636.4 448.9L635.6 448.4L634.8 447.8" fill="#f0c"/>
<path d="M634.5 434.8L635 436.7L635.6 438.2L636.2 439.4L636.7 440.4L637.3 441.2L637.9 442L638.5 442.6L639 443.2L639.6 443.7L640.2 444.2L640.8 444.6L641.4 445M634.5 434.8L630 440.8" class="m"/>
<path d="M641.4 445L642 445.5L642.7 445.9L643.3 446.2L644 446.5L644.6 446.8L645.3 447.1L645.9 447.4L646.6 447.7L647.2 448L647.9 448.2L648.5 448.5L649.2 448.7L644.5 452.5L643.8 452.2L643.2 452L642.5 451.7L641.9 451.4L641.2 451.2L640.5 450.9L639.9 450.6L639.2 450.3L638.6 450L637.9 449.7L637.3 449.4L636.6 449" fill="#f00"/>
<path d="M641.4 445L642 445.4L642.6 445.8L643.2 446.1L643.8 446.4L644.4 446.7L645 447L645.6 447.3L646.2 447.5L646.8 447.8L647.4 448L648 448.3L648.6 448.5M641.4 445L637 448.7" class="m"/>
<path d="M648.6 448.5L649.3 448.7L649.9 449L650.6 449.2L651.3 449.4L651.9 449.7L652.6 449.9L653.3 450.1L653.9 450.4L654.6 450.6L655.3 450.8L656 451.1L656.6 451.3L652 455.1L651.3 454.9L650.7 454.6L650 454.4L649.3 454.2L648.6 453.9L648 453.7L647.3 453.4L646.6 453.2L645.9 453L645.3 452.7L644.6 452.5L643.9 452.2" fill="#f0a"/>
<path d="M648.6 448.5L656 451.1M648.6 448.5L644.3 452" class="m"/>
<path d="M656 451.1L656.7 451.3L657.4 451.5L658.1 451.8L658.8 452L659.4 452.2L660.1 452.5L660.8 452.7L661.5 452.9L662.2 453.1L662.9 453.4L663.6 453.6L664.3 453.8L659.7 457.7L659 457.5L658.3 457.2L657.6 457L656.9 456.8L656.2 456.5L655.6 456.3L654.9 456.1L654.2 455.8L653.5 455.6L652.8 455.4L652.1 455.1L651.4 454.9" fill="#f00"/>
<path d="M656 451.1L663.7 453.6M656 451.1L651.8 454.6" class="m"/>
<path d="M663.7 453.6L664.3 453.8L664.9 454.1L665.6 454.3L666.2 454.5L666.9 454.7L667.5 454.9L668.2 455.1L668.8 455.3L669.5 455.6L670.1 455.8L670.8 456L671.4 456.2L667 460.2L666.3 460L665.7 459.7L665 459.5L664.3 459.3L663.7 459.1L663 458.8L662.4 458.6L661.7 458.4L661.1 458.2L660.4 458L659.8 457.7L659.1 457.5" fill="#f09"/>
<path d="M663.7 453.6L671.4 456.2M663.7 453.6L659.5 457.2M671.4 456.2L667.3 459.9" class="m"/>
<path d="M577.8 429.4L578.3 429.6L578.9 429.8L579.4 430L579.9 430.2L580.5 430.3L581 430.5L581.6 430.7L582.1 430.9L582.7 431.1L583.2 431.3L583.7 431.4L584.3 431.6L579 434.8L578.5 434.6L577.9 434.4L577.4 434.2L576.8 434L576.3 433.8L575.7 433.6L575.2 433.5L574.6 433.3L574.1 433.1L573.5 432.9L573 432.7L572.5 432.5" fill="#0d0"/>
<path d="M577.8 429.4L583.8 431.5M577.8 429.4L572.9 432.3" class="m"/>
<path d="M583.8 431.5L584.4 431.6L584.9 431.8L585.5 432L586 432.2L586.6 432.4L587.1 432.5L587.7 432.7L588.2 432.9L588.8 433L589.3 433.2L589.9 433.4L590.4 433.5L585.2 436.7L584.6 436.5L584.1 436.4L583.5 436.2L583 436L582.4 435.9L581.8 435.7L581.3 435.5L580.7 435.3L580.2 435.1L579.6 435L579.1 434.8L578.5 434.6" fill="#f70"/>
<path d="M583.8 431.5L590 433.4M583.8 431.5L578.9 434.4" class="m"/>
<path d="M590 433.4L590.6 433.6L591.1 433.7L591.7 433.9L592.3 434L592.9 434.2L593.5 434.3L594.1 434.4L588.9 437.5L588.3 437.4L587.7 437.3L587.1 437.2L586.5 437L585.9 436.9L585.3 436.7L584.7 436.5" fill="#0d0"/>
<path d="M593.6 434.3L594.2 434.5L594.9 434.6L595.5 434.7L596.1 434.7L596.7 434.7L591.5 437.5L590.9 437.6L590.3 437.6L589.6 437.6L589 437.6L588.4 437.5" fill="#0c0"/>
<path d="M590 433.4L590.5 433.5L591 433.7L591.5 433.8L592 434L592.6 434.1L593.1 434.2L593.6 434.3L594.1 434.5L594.7 434.6L595.2 434.6L595.7 434.7L596.2 434.7M590 433.4L585.1 436.3" class="m"/>
<path d="M596.2 434.7L597 434.7L597.8 434.6L592.6 437.2L591.8 437.5L591 437.6" fill="#d60"/>
<path d="M597.3 434.7L598.1 434.5L598.9 434.2L593.7 436.6L592.9 437L592.1 437.4" fill="#c60"/>
<path d="M598.4 434.4L599.4 433.9L594.2 436.1L593.2 436.9" fill="#b60"/>
<path d="M598.9 434.2L599.5 433.9L600.1 433.4L600.7 432.8L601.4 431.8L602 430.6L602.6 429.1L603.2 427.3L598 426.6L597.4 428.9L596.8 430.9L596.2 432.6L595.6 434L594.9 435.2L594.3 436L593.7 436.5" fill="#940"/>
<path d="M596.2 434.7L596.8 434.7L597.3 434.7L597.8 434.6L598.4 434.4L598.9 434.2L599.4 433.9L600 433.5L600.5 433L601.1 432.3L601.6 431.3L602.2 430.2L602.7 428.8M596.2 434.7L591.4 437.4" class="m"/>
<path d="M602.7 428.8L603.3 427L603.9 425.1L604.5 422.8L605.1 420.3L605.8 417.9L606.4 415.5L607 412.5L607.7 409.3L608.3 406L608.9 402.8L609.6 399.4L610.2 396.7L605 396.4L604.4 397.7L603.7 400L603.1 402.9L602.4 406.4L601.8 409.7L601.2 412.9L600.6 416.1L599.9 419L599.3 421.4L598.7 423.9L598.1 426.3L597.5 428.5" fill="#090"/>
<path d="M602.7 428.8L603.3 427.2L603.8 425.4L604.4 423.3L605 421.1L605.5 418.8L606.1 416.6L606.7 414L607.3 411.1L607.9 408.1L608.5 405.2L609.1 402.1L609.7 399M602.7 428.8L597.9 428.6" class="m"/>
<path d="M609.7 399L610.4 396.1L611.2 394.2L611.9 393.2L612.6 393.1L607.3 397.1L606.6 396L605.9 395.5L605.2 396.2L604.4 397.5" fill="#940"/>
<path d="M612.1 393.1L613.2 393.7L607.9 398.9L606.8 396.2" fill="#e70"/>
<path d="M612.6 393.1L613.7 394.8L608.4 401.7L607.3 397.2" fill="#f70"/>
<path d="M613.2 393.8L614.3 396.8L609 405.2L607.9 399.1" fill="#e70"/>
<path d="M613.8 394.8L614.8 399.6L609.5 409.2L608.5 401.9" fill="#d70"/>
<path d="M614.3 396.9L615.4 403.2L610.1 413.6L609 405.5" fill="#d60"/>
<path d="M614.9 399.8L615.6 404.6L616.2 410.2L616.9 415.4L611.7 421.5L611 419.8L610.3 415.1L609.6 409.5" fill="#c60"/>
<path d="M609.7 399L610.3 396.6L610.9 394.8L611.5 393.7L612.1 393.1L612.6 393.1L613.2 393.8L613.8 394.8L614.3 396.9L614.9 399.8L615.4 403.4L615.9 407.5L616.4 411.7M609.7 399L604.8 397.5" class="m"/>
<path d="M616.4 411.7L617.4 417.8L612.3 420.6L611.2 420.5" fill="#0e0"/>
<path d="M616.9 415.6L617.7 418.5L618.6 417.5L613.6 413.9L612.6 419.4L611.7 421.5" fill="#0f0"/>
<path d="M618.1 418.5L618.7 417L619.5 413.3L620.2 408.4L621 402.8L621.8 397.6L622.5 395.7L623.2 396.7L617.9 405.4L617.3 401.2L616.6 398.7L615.9 398.7L615.2 402.1L614.5 407.6L613.7 413.1L613 417.6" fill="#090"/>
<path d="M622.6 395.7L623.5 398L624.2 403.3L618.9 414.3L618.2 407.6L617.4 401.8" fill="#0f0"/>
<path d="M616.4 411.7L616.9 415.6L617.5 417.9L618.1 418.5L618.7 417.3L619.3 414.2L620 410.2L620.6 405.5L621.3 400.6L622 396.6L622.6 395.7L623.2 396.8L623.8 399.7M616.4 411.7L611.6 420" class="m"/>
<path d="M623.8 399.7L624.3 404.2L624.9 409.1L625.5 414.4L626 419.9L626.6 425L627.1 429.2L627.7 432.6L622.6 440L622 437.5L621.4 434.5L620.8 430.8L620.2 426.2L619.6 420.8L619 415.3L618.4 410" fill="#c60"/>
<path d="M627.2 429.9L627.9 433.6L628.6 436.6L629.4 439.1L624.3 445.1L623.6 443.2L622.8 440.8L622.1 438" fill="#d60"/>
<path d="M628.8 437.3L629.7 440L630.5 442L625.5 447.1L624.6 445.7L623.8 443.8" fill="#d70"/>
<path d="M623.8 399.7L624.3 403.6L624.8 407.9L625.3 412.5L625.8 417.3L626.2 422.1L626.7 426.4L627.2 429.9L627.8 432.8L628.3 435.2L628.8 437.3L629.4 439.2L630 440.8M623.8 399.7L618.8 409.2" class="m"/>
<path d="M630 440.8L630.6 442.3L631.3 443.4L631.9 444.4L632.6 445.2L633.3 445.9L634 446.5L629 450.7L628.3 450.2L627.6 449.6L627 448.9L626.3 448.1L625.6 447.3L624.9 446.2" fill="#0f0"/>
<path d="M633.4 446L634.1 446.7L634.8 447.2L635.5 447.7L636.1 448.2L636.8 448.7L637.5 449.1L632.6 453L631.9 452.6L631.2 452.2L630.5 451.8L629.8 451.3L629.2 450.8L628.5 450.3" fill="#0e0"/>
<path d="M630 440.8L630.5 442.1L631.1 443.2L631.7 444L632.2 444.8L632.8 445.4L633.4 446L634 446.6L634.6 447.1L635.2 447.5L635.8 448L636.4 448.4L637 448.7M630 440.8L625.3 445.9" class="m"/>
<path d="M637 448.7L637.6 449.1L638.3 449.4L638.9 449.8L639.6 450.1L640.2 450.4L640.9 450.6L641.5 450.9L642.2 451.2L642.9 451.4L643.5 451.7L644.2 451.9L644.9 452.2L640 456L639.4 455.8L638.7 455.5L638 455.3L637.4 455L636.7 454.8L636 454.5L635.4 454.2L634.7 454L634 453.7L633.4 453.3L632.7 453L632.1 452.7" fill="#f70"/>
<path d="M637 448.7L637.6 449.1L638.2 449.4L638.8 449.7L639.4 450L640 450.3L640.6 450.5L641.2 450.8L641.8 451L642.4 451.3L643 451.5L643.7 451.7L644.3 452M637 448.7L632.4 452.4" class="m"/>
<path d="M644.3 452L644.9 452.2L645.6 452.5L646.3 452.7L647 452.9L647.6 453.2L648.3 453.4L649 453.6L649.6 453.9L650.3 454.1L651 454.3L651.7 454.6L652.4 454.8L647.6 458.7L646.9 458.5L646.2 458.3L645.6 458L644.9 457.8L644.2 457.5L643.5 457.3L642.8 457L642.1 456.8L641.5 456.6L640.8 456.3L640.1 456.1L639.4 455.8" fill="#0d0"/>
<path d="M644.3 452L651.8 454.6M644.3 452L639.8 455.5" class="m"/>
<path d="M651.8 454.6L652.5 454.8L653.1 455.1L653.8 455.3L654.5 455.5L655.2 455.8L655.9 456L656.6 456.2L657.3 456.5L658 456.7L658.7 457L659.4 457.2L660.1 457.4L655.4 461.5L654.7 461.2L654 461L653.3 460.7L652.6 460.5L651.9 460.2L651.2 460L650.5 459.7L649.8 459.5L649.1 459.3L648.4 459L647.7 458.8L647 458.5" fill="#f70"/>
<path d="M651.8 454.6L659.5 457.2M651.8 454.6L647.4 458.2" class="m"/>
<path d="M659.5 457.2L660.1 457.4L660.7 457.7L661.4 457.9L662.1 458.1L662.7 458.3L663.4 458.6L664 458.8L664.7 459L665.3 459.2L666 459.5L666.7 459.7L667.3 459.9L662.7 464L662 463.8L661.4 463.5L660.7 463.3L660 463.1L659.4 462.8L658.7 462.6L658.1 462.4L657.4 462.2L656.7 461.9L656.1 461.7L655.4 461.5L654.8 461.2" fill="#0d0"/>
<path d="M659.5 457.2L667.3 459.9M659.5 457.2L655.1 460.9M667.3 459.9L663 463.7" class="m"/>
<path d="M572.9 432.3L573.4 432.5L573.9 432.7L574.5 432.8L575 433L575.6 433.2L576.1 433.4L576.7 433.6L577.2 433.8L577.7 434L578.3 434.2L578.8 434.3L579.4 434.5L574 437.8L573.4 437.6L572.9 437.4L572.3 437.2L571.8 437L571.2 436.8L570.7 436.6L570.1 436.4L569.6 436.2L569 436L568.5 435.8L567.9 435.7L567.4 435.5" fill="#f09"/>
<path d="M572.9 432.3L578.9 434.4M572.9 432.3L567.8 435.2" class="m"/>
<path d="M578.9 434.4L579.5 434.6L580 434.7L580.6 434.9L581.1 435.1L581.7 435.3L582.2 435.5L582.8 435.6L583.3 435.8L583.9 436L584.5 436.1L585 436.3L585.6 436.5L580.2 439.7L579.6 439.5L579.1 439.4L578.5 439.2L577.9 439L577.4 438.9L576.8 438.7L576.3 438.5L575.7 438.3L575.1 438.2L574.6 438L574 437.8L573.5 437.6" fill="#f00"/>
<path d="M578.9 434.4L585.1 436.3M578.9 434.4L573.9 437.4" class="m"/>
<path d="M585.1 436.3L585.8 436.5L586.5 436.7L587.2 436.9L581.8 440.1L581.1 439.9L580.4 439.8L579.7 439.6" fill="#f0a"/>
<path d="M586.7 436.7L587.3 436.9L587.9 437L588.5 437.2L589.1 437.3L589.7 437.4L590.3 437.4L585 440.5L584.3 440.5L583.7 440.4L583.1 440.4L582.5 440.3L581.9 440.1L581.3 440" fill="#e0a"/>
<path d="M589.8 437.4L590.9 437.4L585.5 440.4L584.5 440.5" fill="#d0a"/>
<path d="M590.4 437.4L591.1 437.4L591.9 437.3L586.6 440.1L585.8 440.4L585 440.5" fill="#d0b"/>
<path d="M585.1 436.3L585.6 436.5L586.1 436.6L586.7 436.7L587.2 436.9L587.7 437L588.2 437.1L588.8 437.2L589.3 437.3L589.8 437.4L590.4 437.4L590.9 437.4L591.4 437.4M585.1 436.3L580.1 439.3" class="m"/>
<path d="M591.4 437.4L592.2 437.3L593 437L587.6 439.5L586.8 440L586.1 440.3" fill="#c00"/>
<path d="M592.5 437.2L593.5 436.7L588.2 439.1L587.1 439.8" fill="#b00"/>
<path d="M593 437L593.6 436.7L594.2 436.3L594.8 435.7L595.4 434.9L596 433.8L596.6 432.4L597.2 430.8L597.8 428.9L598.4 426.7L593.1 425.8L592.4 428.3L591.8 430.7L591.2 432.8L590.6 434.6L590 436.1L589.4 437.4L588.8 438.4L588.3 439L587.7 439.5" fill="#900"/>
<path d="M591.4 437.4L592 437.3L592.5 437.2L593 437L593.6 436.7L594.1 436.4L594.6 435.9L595.2 435.3L595.7 434.4L596.3 433.2L596.8 431.9L597.4 430.3L597.9 428.6M591.4 437.4L586.4 440.1" class="m"/>
<path d="M597.9 428.6L598.5 426.4L599.1 424L599.7 421.5L600.3 419.1L600.9 416.3L601.6 413.1L602.2 409.8L602.8 406.6L603.5 403.1L604.1 400.1L604.7 397.8L605.4 396.4L599.9 397.9L599.3 398.4L598.7 399.4L598 401.3L597.4 403.9L596.8 407.3L596.2 410.7L595.6 414L594.9 417.2L594.3 420.4L593.7 423L593.1 425.4L592.5 428" fill="#90d"/>
<path d="M597.9 428.6L598.5 426.6L599 424.4L599.6 422L600.2 419.8L600.7 417.4L601.3 414.5L601.9 411.5L602.5 408.5L603 405.4L603.6 402.2L604.2 399.6L604.8 397.5M597.9 428.6L592.9 428" class="m"/>
<path d="M604.8 397.5L605.7 395.9L606.5 395.3L601.1 399.1L600.2 398L599.4 398.3" fill="#900"/>
<path d="M606 395.5L607.1 395.8L601.7 400.4L600.5 398.3" fill="#c00"/>
<path d="M606.6 395.3L607.7 396.8L602.2 403L601.1 399.2" fill="#f00"/>
<path d="M607.2 395.9L608.3 398.4L602.8 406.2L601.7 400.6" fill="#e00"/>
<path d="M607.7 396.9L608.6 399.8L609.4 404.5L603.9 414.4L603.1 408.2L602.3 403.2" fill="#d00"/>
<path d="M608.9 401.3L609.5 405.7L610.2 410.8L610.9 416L611.5 419.9L606.2 423.8L605.5 423.7L604.8 420.8L604.1 415.7L603.4 410.3" fill="#c00"/>
<path d="M611 417.2L612.1 421.3L606.8 422L605.6 424.1" fill="#d00"/>
<path d="M604.8 397.5L605.4 396.3L606 395.5L606.6 395.3L607.2 395.9L607.7 396.9L608.3 398.6L608.9 401.3L609.4 404.8L609.9 408.7L610.5 413.1L611 417.2L611.6 420M604.8 397.5L599.8 398.2" class="m"/>
<path d="M611.6 420L612.7 420.5L607.4 418.4L606.2 423.8" fill="#e0f"/>
<path d="M612.1 421.3L612.8 420.3L613.5 416.9L614.2 412.2L615 406.7L615.8 401.2L616.5 398.3L617.2 398.7L611.7 406.2L611.1 402.5L610.4 400.8L609.7 401.8L609 406.6L608.3 412.4L607.5 417.6L606.8 421.8" fill="#90d"/>
<path d="M616.6 398.1L617.7 401L612.3 410.5L611.2 403" fill="#f0e"/>
<path d="M617.2 398.8L618.3 404.6L612.8 415L611.8 406.5" fill="#d0f"/>
<path d="M617.8 401.2L618.6 406.9L619.3 413.5L613.9 424.8L613.1 417.5L612.3 410.8" fill="#c0f"/>
<path d="M611.6 420L612.1 421.3L612.7 420.4L613.3 417.8L614 414L614.6 409.5L615.3 404.4L616 399.8L616.6 398.1L617.2 398.8L617.8 401.2L618.3 404.9L618.8 409.2M611.6 420L606.6 423.7" class="m"/>
<path d="M618.8 409.2L619.5 414.7L620.1 420.4L620.7 426.1L621.3 430.9L621.9 434.7L616.6 442.1L616 439.3L615.3 435.8L614.7 431.4L614 426L613.4 420.1" fill="#c00"/>
<path d="M621.4 431.8L622 435.3L622.7 438.2L623.3 440.6L623.9 442.8L624.6 444.4L625.3 445.8L620.1 450.7L619.4 449.7L618.8 448.5L618.1 446.9L617.4 445L616.8 442.6L616.1 440" fill="#d00"/>
<path d="M624.7 444.7L625.8 446.7L620.7 451.4L619.6 449.9" fill="#e00"/>
<path d="M618.8 409.2L619.4 413.8L619.9 418.6L620.4 423.5L620.9 428L621.4 431.8L621.9 434.9L622.5 437.5L623 439.7L623.6 441.7L624.2 443.3L624.7 444.7L625.3 445.9M618.8 409.2L613.8 419.3" class="m"/>
<path d="M625.3 445.9L626.4 447.5L621.3 452.1L620.2 450.7" fill="#e0f"/>
<path d="M625.9 446.8L627 448.2L621.9 452.7L620.7 451.5" fill="#f0f"/>
<path d="M626.5 447.6L627.3 448.6L628.2 449.4L623.1 453.7L622.2 453L621.3 452.1" fill="#f0e"/>
<path d="M627.6 448.9L628.5 449.7L629.4 450.4L624.3 454.6L623.4 454L622.5 453.3" fill="#f0d"/>
<path d="M628.8 450L629.6 450.6L630.4 451.2L631.2 451.7L626.1 455.8L625.3 455.3L624.5 454.8L623.7 454.2" fill="#f0c"/>
<path d="M630.6 451.3L631.4 451.8L632.2 452.3L633 452.7L628 456.7L627.1 456.3L626.3 455.9L625.5 455.4" fill="#f0b"/>
<path d="M625.3 445.9L625.9 446.8L626.5 447.6L627.1 448.3L627.6 448.9L628.2 449.5L628.8 450L629.4 450.5L630 450.9L630.6 451.3L631.2 451.7L631.8 452.1L632.4 452.4M625.3 445.9L620.5 450.4" class="m"/>
<path d="M632.4 452.4L633.1 452.7L633.7 453.1L634.4 453.4L635.1 453.7L635.7 453.9L636.4 454.2L637 454.5L637.7 454.7L638.4 455L639 455.3L639.7 455.5L640.4 455.8L635.4 459.7L634.7 459.5L634.1 459.2L633.4 459L632.7 458.7L632 458.4L631.4 458.2L630.7 457.9L630 457.6L629.4 457.3L628.7 457.1L628 456.7L627.4 456.4" fill="#f00"/>
<path d="M632.4 452.4L633 452.7L633.6 453L634.3 453.3L634.9 453.6L635.5 453.8L636.1 454.1L636.7 454.4L637.3 454.6L637.9 454.8L638.6 455.1L639.2 455.3L639.8 455.5M632.4 452.4L627.7 456.1" class="m"/>
<path d="M639.8 455.5L640.5 455.8L641.1 456L641.8 456.3L642.5 456.5L643.2 456.8L643.9 457L644.5 457.2L645.2 457.5L645.9 457.7L646.6 458L647.3 458.2L648 458.5L643.1 462.5L642.4 462.3L641.7 462L641 461.8L640.3 461.5L639.6 461.3L638.9 461L638.2 460.8L637.5 460.5L636.9 460.3L636.2 460L635.5 459.8L634.8 459.5" fill="#f0a"/>
<path d="M639.8 455.5L647.4 458.2M639.8 455.5L635.2 459.2" class="m"/>
<path d="M647.4 458.2L648.1 458.5L648.7 458.7L649.4 459L650.1 459.2L650.8 459.4L651.5 459.7L652.2 459.9L652.9 460.2L653.6 460.4L654.3 460.7L655 460.9L655.7 461.2L650.9 465.3L650.2 465L649.5 464.8L648.8 464.5L648.1 464.3L647.4 464L646.7 463.8L645.9 463.5L645.2 463.3L644.5 463L643.8 462.8L643.2 462.5L642.5 462.3" fill="#f00"/>
<path d="M647.4 458.2L655.1 460.9M647.4 458.2L642.8 462" class="m"/>
<path d="M655.1 460.9L655.8 461.2L656.4 461.4L657.1 461.6L657.7 461.9L658.4 462.1L659.1 462.3L659.7 462.5L660.4 462.8L661 463L661.7 463.2L662.4 463.5L663 463.7L658.3 467.9L657.6 467.7L656.9 467.5L656.3 467.2L655.6 467L654.9 466.7L654.3 466.5L653.6 466.3L652.9 466L652.3 465.8L651.6 465.6L650.9 465.3L650.3 465.1" fill="#f09"/>
<path d="M655.1 460.9L663 463.7M655.1 460.9L650.6 464.8M663 463.7L658.6 467.6" class="m"/>
<path d="M567.8 435.2L568.3 435.4L568.9 435.6L569.4 435.8L570 436L570.5 436.2L571.1 436.4L571.6 436.6L572.2 436.8L572.7 437L573.3 437.1L573.8 437.3L574.4 437.5L568.8 440.8L568.2 440.7L567.7 440.5L567.1 440.3L566.6 440.1L566 439.9L565.5 439.7L564.9 439.5L564.4 439.3L563.8 439.1L563.3 438.9L562.7 438.7L562.2 438.5" fill="#0d0"/>
<path d="M567.8 435.2L573.9 437.4M567.8 435.2L562.6 438.3" class="m"/>
<path d="M573.9 437.4L574.4 437.5L575 437.7L575.5 437.9L576.1 438.1L576.7 438.3L577.2 438.5L577.8 438.6L578.3 438.8L578.9 439L579.5 439.1L580 439.3L580.6 439.5L575 442.8L574.5 442.6L573.9 442.5L573.3 442.3L572.8 442.1L572.2 442L571.6 441.8L571.1 441.6L570.5 441.4L570 441.2L569.4 441.1L568.8 440.9L568.3 440.7" fill="#f70"/>
<path d="M573.9 437.4L574.4 437.5L574.9 437.7L575.4 437.9L575.9 438L576.5 438.2L577 438.4L577.5 438.5L578 438.7L578.5 438.9L579.1 439L579.6 439.2L580.1 439.3M573.9 437.4L568.7 440.4" class="m"/>
<path d="M580.1 439.3L580.7 439.5L581.4 439.7L582 439.8L582.7 440L577.2 443.3L576.5 443.1L575.8 443L575.2 442.8L574.5 442.7" fill="#0d0"/>
<path d="M582.2 439.9L582.8 440L583.4 440.1L584 440.2L584.6 440.2L585.2 440.2L585.8 440.2L586.4 440.1L580.9 442.9L580.3 443.2L579.7 443.3L579.1 443.4L578.5 443.4L577.9 443.4L577.3 443.3L576.7 443.2" fill="#0c0"/>
<path d="M585.9 440.2L586.9 439.9L581.4 442.7L580.4 443.1" fill="#0b0"/>
<path d="M580.1 439.3L580.6 439.5L581.1 439.6L581.7 439.7L582.2 439.9L582.7 440L583.3 440.1L583.8 440.2L584.3 440.2L584.8 440.2L585.4 440.2L585.9 440.2L586.4 440.1M580.1 439.3L574.9 442.4" class="m"/>
<path d="M586.4 440.1L587.2 439.8L588 439.4L582.5 441.8L581.7 442.5L580.9 442.9" fill="#b60"/>
<path d="M587.5 439.6L588.1 439.3L588.7 438.8L589.3 438.2L589.9 437.2L590.5 435.9L591.1 434.5L591.6 432.7L592.2 430.7L592.8 428.4L593.4 425.8L587.9 425.2L587.3 427.7L586.7 430.3L586.1 432.7L585.5 434.9L584.9 436.8L584.3 438.4L583.7 439.8L583.2 440.9L582.6 441.7L582 442.3" fill="#940"/>
<path d="M586.4 440.1L587 439.9L587.5 439.6L588.1 439.3L588.6 438.9L589.1 438.4L589.7 437.6L590.2 436.5L590.7 435.3L591.3 433.8L591.8 432.1L592.4 430.2L592.9 428M586.4 440.1L581.3 442.7" class="m"/>
<path d="M592.9 428L593.5 425.5L594.1 423L594.7 420.5L595.3 417.4L595.9 414.1L596.6 410.8L597.2 407.5L597.8 404L598.4 401.4L599.1 399.4L599.7 398.3L600.3 397.7L594.7 401.1L594.1 400.5L593.4 400.6L592.8 401.6L592.2 403.1L591.6 405.4L591 408.7L590.3 412.2L589.7 415.5L589.1 418.8L588.5 422.1L588 424.9L587.4 427.3" fill="#090"/>
<path d="M592.9 428L593.5 425.7L594 423.4L594.6 421.1L595.2 418.3L595.7 415.3L596.3 412.3L596.9 409.2L597.4 406L598 403L598.6 400.7L599.2 399.1L599.8 398.2M592.9 428L587.8 427.4" class="m"/>
<path d="M599.8 398.2L600.9 398L595.3 402.1L594.1 400.5" fill="#940"/>
<path d="M600.4 397.7L601.5 398.8L595.9 404L594.7 401.2" fill="#f70"/>
<path d="M600.9 398L601.8 399.4L602.6 402.4L597 410.5L596.2 405.5L595.3 402.2" fill="#e70"/>
<path d="M602.1 400.1L602.9 404L603.8 409.4L598.2 419.1L597.3 412.7L596.5 407.1" fill="#d60"/>
<path d="M603.2 405.8L603.9 410.6L604.6 416L605.3 421L606 423.7L600.5 426.1L599.8 427L599.1 425L598.4 420.3L597.7 414.9" fill="#c60"/>
<path d="M605.5 421.9L606.6 423.7L601.1 423.2L600 427.1" fill="#d70"/>
<path d="M606 423.7L607.2 422.1L601.7 419.2L600.6 426" fill="#d60"/>
<path d="M599.8 398.2L600.4 397.7L600.9 398L601.5 398.9L602.1 400.1L602.7 402.6L603.2 405.8L603.8 409.6L604.4 413.9L604.9 418.2L605.5 421.9L606 423.7L606.6 423.7M599.8 398.2L594.6 400.3" class="m"/>
<path d="M606.6 423.7L607.3 421.4L608 417.1L608.8 411.8L609.5 406L610.3 401.4L611 400.7L605.4 406.9L604.7 404L604 403.6L603.3 406.8L602.6 412.5L601.9 418.2L601.2 423" fill="#090"/>
<path d="M610.4 401.1L611.6 402.3L606 410.8L604.9 404.3" fill="#0b0"/>
<path d="M611 400.7L611.9 403.9L612.7 409.7L607.1 420L606.3 413.1L605.5 407.1" fill="#0f0"/>
<path d="M612.2 405.8L612.9 411.4L613.6 417.5L614.3 424L608.8 434.5L608.1 428.4L607.3 421.8L606.6 415.5" fill="#0e0"/>
<path d="M606.6 423.7L607.2 421.9L607.8 418.4L608.5 414L609.1 409L609.8 404.1L610.4 401.1L611 400.7L611.6 402.5L612.2 405.8L612.7 410L613.3 414.5L613.8 419.3M606.6 423.7L601.6 423.2" class="m"/>
<path d="M613.8 419.3L614.5 425.5L615.1 431.1L615.8 435.7L616.5 439.3L611.1 446.3L610.4 443.5L609.7 440L609 435.7L608.3 430.3" fill="#c60"/>
<path d="M616 436.6L616.7 440.2L617.4 443.1L618.2 445.7L612.8 451.4L612.1 449.5L611.3 447.1L610.5 444.2" fill="#d60"/>
<path d="M617.6 443.9L618.4 446.3L619.1 448.1L619.9 449.5L614.6 454.3L613.8 453.2L613 451.9L612.3 450.1" fill="#d70"/>
<path d="M619.4 448.5L620.2 450L621.1 451.1L615.8 455.6L614.9 454.7L614 453.5" fill="#e70"/>
<path d="M613.8 419.3L614.3 424.3L614.9 429.1L615.4 433.2L616 436.6L616.5 439.4L617.1 441.8L617.6 443.9L618.2 445.8L618.8 447.3L619.4 448.5L619.9 449.6L620.5 450.4M613.8 419.3L608.7 429.5" class="m"/>
<path d="M620.5 450.4L621.4 451.5L622.3 452.4L617 456.8L616.1 456L615.2 455" fill="#0f0"/>
<path d="M621.7 451.8L622.4 452.5L623.1 453.1L623.7 453.6L624.4 454.2L625.1 454.6L625.8 455.1L626.5 455.5L621.3 459.6L620.6 459.2L619.9 458.8L619.2 458.4L618.5 457.9L617.8 457.4L617.1 456.9L616.4 456.3" fill="#0e0"/>
<path d="M625.9 455.1L626.7 455.6L627.5 456L628.3 456.4L623.1 460.5L622.3 460.1L621.5 459.7L620.7 459.3" fill="#0d0"/>
<path d="M620.5 450.4L621.1 451.1L621.7 451.8L622.3 452.4L622.9 453L623.5 453.5L624.1 453.9L624.7 454.4L625.3 454.8L625.9 455.1L626.5 455.5L627.1 455.8L627.7 456.1M620.5 450.4L615.6 454.7" class="m"/>
<path d="M627.7 456.1L628.4 456.5L629.1 456.8L629.7 457.1L630.4 457.3L631.1 457.6L631.7 457.9L632.4 458.2L633.1 458.4L633.7 458.7L634.4 458.9L635.1 459.2L635.8 459.4L630.6 463.5L630 463.3L629.3 463L628.6 462.8L627.9 462.5L627.2 462.2L626.6 462L625.9 461.7L625.2 461.4L624.5 461.1L623.9 460.8L623.2 460.5L622.5 460.2" fill="#f70"/>
<path d="M627.7 456.1L628.4 456.4L629 456.7L629.6 457L630.2 457.3L630.8 457.5L631.4 457.8L632.1 458L632.7 458.3L633.3 458.5L633.9 458.7L634.6 459L635.2 459.2M627.7 456.1L622.9 459.9" class="m"/>
<path d="M635.2 459.2L635.9 459.5L636.5 459.7L637.2 460L637.9 460.2L638.6 460.5L639.3 460.7L640 461L640.7 461.2L641.3 461.5L642 461.7L642.7 462L643.4 462.2L638.4 466.4L637.7 466.1L637 465.9L636.3 465.6L635.6 465.4L634.9 465.1L634.2 464.8L633.5 464.6L632.8 464.3L632.1 464.1L631.4 463.8L630.7 463.6L630 463.3" fill="#0d0"/>
<path d="M635.2 459.2L642.8 462M635.2 459.2L630.4 463" class="m"/>
<path d="M642.8 462L643.5 462.2L644.2 462.5L644.9 462.7L645.6 463L646.3 463.2L647 463.5L647.7 463.7L648.4 464L649.1 464.2L649.8 464.5L650.5 464.7L651.3 465L646.3 469.3L645.5 469L644.8 468.8L644.1 468.5L643.4 468.2L642.7 468L642 467.7L641.3 467.5L640.6 467.2L639.9 466.9L639.2 466.7L638.5 466.4L637.8 466.2" fill="#f70"/>
<path d="M642.8 462L650.6 464.8M642.8 462L638.1 465.9" class="m"/>
<path d="M650.6 464.8L651.3 465L652 465.2L652.6 465.5L653.3 465.7L653.9 466L654.6 466.2L655.3 466.4L656 466.7L656.6 466.9L657.3 467.2L658 467.4L658.6 467.6L653.7 472L653.1 471.8L652.4 471.5L651.7 471.3L651 471L650.3 470.8L649.7 470.5L649 470.3L648.3 470L647.6 469.8L647 469.5L646.3 469.3L645.6 469.1" fill="#0d0"/>
<path d="M650.6 464.8L658.6 467.6M650.6 464.8L646 468.7M658.6 467.6L654.1 471.7" class="m"/>
<path d="M562.6 438.3L563.1 438.5L563.7 438.6L564.2 438.8L564.8 439L565.3 439.2L565.9 439.4L566.4 439.6L567 439.8L567.5 440L568.1 440.2L568.6 440.4L569.2 440.6L563.4 444L562.9 443.8L562.3 443.6L561.8 443.4L561.2 443.2L560.6 443L560.1 442.8L559.5 442.6L559 442.4L558.4 442.2L557.9 442L557.3 441.8L556.8 441.6" fill="#f09"/>
<path d="M562.6 438.3L568.7 440.4M562.6 438.3L557.2 441.4" class="m"/>
<path d="M568.7 440.4L569.3 440.6L569.8 440.8L570.4 441L570.9 441.2L571.5 441.4L572.1 441.5L572.6 441.7L573.2 441.9L573.7 442.1L574.3 442.2L574.9 442.4L575.4 442.5L569.7 446L569.1 445.8L568.6 445.7L568 445.5L567.4 445.3L566.9 445.2L566.3 445L565.7 444.8L565.2 444.6L564.6 444.4L564.1 444.2L563.5 444L562.9 443.9" fill="#f00"/>
<path d="M568.7 440.4L569.2 440.6L569.7 440.8L570.2 441L570.8 441.1L571.3 441.3L571.8 441.5L572.3 441.6L572.9 441.8L573.4 442L573.9 442.1L574.4 442.3L574.9 442.4M568.7 440.4L563.4 443.6" class="m"/>
<path d="M574.9 442.4L575.6 442.6L576.2 442.7L576.8 442.9L577.4 443L578 443.1L578.6 443.1L572.9 446.4L572.3 446.4L571.7 446.4L571.1 446.3L570.5 446.1L569.8 446L569.2 445.8" fill="#e0a"/>
<path d="M578.1 443.1L579.2 443.2L573.4 446.4L572.4 446.4" fill="#d0a"/>
<path d="M578.7 443.1L579.4 443.1L580.2 443.1L574.5 446.1L573.7 446.3L572.9 446.4" fill="#d0b"/>
<path d="M579.7 443.1L580.5 443L581.3 442.7L575.6 445.6L574.8 446L574 446.3" fill="#c0b"/>
<path d="M580.8 442.9L581.8 442.5L576.1 445.2L575.1 445.9" fill="#b0c"/>
<path d="M574.9 442.4L575.5 442.6L576 442.7L576.5 442.8L577.1 442.9L577.6 443L578.1 443.1L578.7 443.1L579.2 443.2L579.7 443.1L580.3 443.1L580.8 442.9L581.3 442.7M574.9 442.4L569.6 445.6" class="m"/>
<path d="M581.3 442.7L581.9 442.4L582.5 442L583.1 441.5L583.6 440.7L584.2 439.6L584.8 438.2L585.4 436.6L585.9 434.8L586.5 432.7L587.1 430.3L587.7 427.7L588.3 425.3L582.5 424.6L581.9 427.5L581.4 430L580.8 432.6L580.2 435L579.6 437.3L579.1 439.3L578.5 441L577.9 442.4L577.3 443.6L576.8 444.5L576.2 445.1L575.6 445.6" fill="#900"/>
<path d="M581.3 442.7L581.9 442.4L582.4 442.1L582.9 441.6L583.5 441L584 440L584.5 438.8L585.1 437.5L585.6 435.9L586.2 434.1L586.7 432L587.2 429.8L587.8 427.4M581.3 442.7L576 445.4" class="m"/>
<path d="M587.8 427.4L588.4 424.9L589 422.1L589.6 418.8L590.2 415.5L590.8 412.2L591.4 408.7L592 405.4L592.6 403L593.3 401.4L593.9 400.5L594.5 400.2L588.7 404L588.1 403.2L587.4 403.1L586.8 403.9L586.2 405.2L585.6 407.4L585 410.4L584.4 414L583.8 417.4L583.2 420.8L582.6 424.1L582 427.2" fill="#90d"/>
<path d="M594 400.4L595.1 400.8L589.3 405.2L588.2 403.3" fill="#c0b"/>
<path d="M587.8 427.4L588.3 425.1L588.9 422.6L589.4 419.6L590 416.6L590.5 413.5L591.1 410.4L591.7 407.1L592.2 404.4L592.8 402.4L593.4 401.2L594 400.4L594.6 400.3M587.8 427.4L582.4 427.2" class="m"/>
<path d="M594.6 400.3L595.7 401.8L589.9 407.6L588.7 404.1" fill="#f00"/>
<path d="M595.1 400.9L596.3 403.6L590.5 410.7L589.3 405.3" fill="#e00"/>
<path d="M595.7 401.9L596.6 405L597.4 409.9L591.7 418.9L590.8 412.7L589.9 407.8" fill="#d00"/>
<path d="M596.9 406.5L597.6 411.1L598.3 416.3L599 421.6L599.7 425.6L594.1 429.9L593.4 429.1L592.6 425.6L591.9 420.3L591.1 414.9" fill="#c00"/>
<path d="M599.2 422.9L600.3 426.8L594.7 428.4L593.5 429.6" fill="#d00"/>
<path d="M599.8 425.7L600.9 426L595.3 425L594.1 429.8" fill="#e00"/>
<path d="M600.4 426.9L601.2 424.9L602.1 419.5L596.5 415.6L595.6 422.7L594.7 428.2" fill="#900"/>
<path d="M594.6 400.3L595.1 400.9L595.7 401.9L596.3 403.7L596.9 406.5L597.5 410.1L598.1 414.2L598.6 418.7L599.2 422.9L599.8 425.7L600.4 426.9L601 425.9L601.6 423.2M594.6 400.3L589.2 403.8" class="m"/>
<path d="M601.6 423.2L602.3 418.4L603 412.6L603.8 406.6L604.5 403.4L605.2 403.9L599.5 410.8L598.8 407.2L598.1 406.1L597.3 408.4L596.6 414.2L595.9 420.3" fill="#90d"/>
<path d="M604.7 403.2L605.8 406.3L600.1 415L598.9 407.7" fill="#f0e"/>
<path d="M605.3 404L606.4 410.1L600.7 419.6L599.5 411" fill="#d0f"/>
<path d="M605.9 406.5L606.6 411.2L607.2 416.5L607.9 422.3L608.5 428.2L609.2 433.8L603.6 442.6L602.9 438.2L602.2 432.8L601.5 426.7L600.8 420.8L600.1 415.3" fill="#c0f"/>
<path d="M601.6 423.2L602.2 419.2L602.8 414.5L603.4 409.4L604.1 404.8L604.7 403.2L605.3 404L605.9 406.5L606.4 410.4L607 414.8L607.6 419.5L608.1 424.4L608.7 429.5M601.6 423.2L596.3 420.5" class="m"/>
<path d="M608.7 429.5L609.5 436L610.3 440.9L604.8 448L603.9 444.2L603 439.2" fill="#c00"/>
<path d="M609.8 437.9L610.5 441.5L611.1 444.4L611.8 446.9L612.4 449.1L613.1 450.8L613.8 452.2L608.3 457.1L607.6 456.1L606.9 454.8L606.3 453.1L605.6 451L604.9 448.5L604.2 445.7" fill="#d00"/>
<path d="M613.3 451.1L614.1 452.7L615 454L609.5 458.6L608.6 457.6L607.8 456.3" fill="#e00"/>
<path d="M614.4 453.2L615.3 454.3L616.2 455.3L610.7 459.8L609.8 459L609 458" fill="#f00"/>
<path d="M608.7 429.5L609.2 434.1L609.8 437.9L610.4 441.1L610.9 443.7L611.5 445.9L612.1 448L612.7 449.7L613.3 451.1L613.8 452.3L614.4 453.2L615 454L615.6 454.7M608.7 429.5L603.5 438.6" class="m"/>
<path d="M615.6 454.7L616.4 455.5L617.2 456.3L618 456.9L612.6 461.3L611.8 460.7L611 460L610.2 459.3" fill="#f0d"/>
<path d="M617.4 456.5L618.2 457.1L619 457.7L619.8 458.2L614.4 462.5L613.6 462L612.8 461.5L612 460.9" fill="#f0c"/>
<path d="M619.2 457.9L620 458.4L620.8 458.8L621.5 459.2L622.3 459.6L616.9 463.8L616.1 463.4L615.4 463L614.6 462.6L613.8 462.2" fill="#f0b"/>
<path d="M621.7 459.3L622.6 459.8L623.5 460.2L618.1 464.4L617.2 464L616.3 463.5" fill="#f0a"/>
<path d="M615.6 454.7L616.2 455.4L616.8 456L617.4 456.5L618 457L618.6 457.4L619.2 457.9L619.9 458.3L620.5 458.6L621.1 459L621.7 459.3L622.3 459.6L622.9 459.9M615.6 454.7L610.6 459" class="m"/>
<path d="M622.9 459.9L623.6 460.2L624.3 460.5L624.9 460.8L625.6 461.1L626.3 461.4L626.9 461.7L627.6 461.9L628.3 462.2L629 462.5L629.7 462.7L630.3 463L631 463.2L625.7 467.5L625 467.2L624.3 466.9L623.7 466.7L623 466.4L622.3 466.1L621.6 465.8L620.9 465.6L620.2 465.3L619.6 465L618.9 464.7L618.2 464.4L617.5 464.1" fill="#f00"/>
<path d="M622.9 459.9L623.5 460.2L624.2 460.5L624.8 460.8L625.4 461L626 461.3L626.7 461.5L627.3 461.8L627.9 462L628.5 462.3L629.2 462.5L629.8 462.8L630.4 463M622.9 459.9L617.9 463.8" class="m"/>
<path d="M630.4 463L631.1 463.3L631.8 463.5L632.5 463.8L633.2 464L633.9 464.3L634.6 464.5L635.2 464.8L635.9 465.1L636.6 465.3L637.3 465.6L638 465.8L638.7 466.1L633.5 470.4L632.8 470.1L632.1 469.9L631.4 469.6L630.7 469.3L630 469.1L629.3 468.8L628.6 468.5L627.9 468.3L627.2 468L626.5 467.8L625.8 467.5L625.1 467.2" fill="#f09"/>
<path d="M630.4 463L638.1 465.9M630.4 463L625.5 466.9" class="m"/>
<path d="M638.1 465.9L638.8 466.1L639.5 466.4L640.2 466.6L640.9 466.9L641.6 467.1L642.3 467.4L643.1 467.7L643.8 467.9L644.5 468.2L645.2 468.4L645.9 468.7L646.6 469L641.5 473.4L640.8 473.1L640 472.8L639.3 472.6L638.6 472.3L637.9 472L637.2 471.8L636.4 471.5L635.7 471.2L635 471L634.3 470.7L633.6 470.4L632.9 470.2" fill="#f00"/>
<path d="M638.1 465.9L646 468.7M638.1 465.9L633.3 469.9" class="m"/>
<path d="M646 468.7L646.7 469L647.3 469.2L648 469.5L648.7 469.7L649.4 470L650 470.2L650.7 470.5L651.4 470.7L652.1 470.9L652.7 471.2L653.4 471.4L654.1 471.7L649 476.2L648.3 476L647.6 475.7L647 475.4L646.3 475.2L645.6 474.9L644.9 474.7L644.2 474.4L643.5 474.2L642.9 473.9L642.2 473.7L641.5 473.4L640.8 473.2" fill="#f09"/>
<path d="M646 468.7L654.1 471.7M646 468.7L641.2 472.8M654.1 471.7L649.4 475.9" class="m"/>
<path d="M557.2 441.4L557.8 441.6L558.3 441.8L558.9 442L559.4 442.2L560 442.4L560.5 442.6L561.1 442.8L561.6 443L562.2 443.2L562.7 443.4L563.3 443.6L563.8 443.8L557.9 447.3L557.4 447.1L556.8 446.9L556.2 446.7L555.7 446.5L555.1 446.3L554.6 446.1L554 445.9L553.5 445.7L552.9 445.4L552.4 445.2L551.8 445L551.3 444.8" fill="#0d0"/>
<path d="M557.2 441.4L563.4 443.6M557.2 441.4L551.7 444.6" class="m"/>
<path d="M563.4 443.6L563.9 443.8L564.5 444L565.1 444.2L565.6 444.4L566.2 444.6L566.8 444.7L567.3 444.9L567.9 445.1L568.5 445.3L569 445.4L569.6 445.6L563.7 449.1L563.1 449L562.6 448.8L562 448.6L561.4 448.4L560.8 448.3L560.3 448.1L559.7 447.9L559.1 447.7L558.6 447.5L558 447.3L557.4 447.1" fill="#f70"/>
<path d="M569.1 445.4L570.1 445.7L564.2 449.2L563.2 449" fill="#e70"/>
<path d="M563.4 443.6L563.9 443.8L564.4 444L564.9 444.1L565.4 444.3L566 444.5L566.5 444.6L567 444.8L567.5 445L568.1 445.1L568.6 445.3L569.1 445.4L569.6 445.6M563.4 443.6L557.9 446.9" class="m"/>
<path d="M569.6 445.6L570.7 445.8L564.8 449.4L563.7 449.1" fill="#0d0"/>
<path d="M570.2 445.7L570.8 445.9L571.4 446L572 446.1L572.6 446.2L573.2 446.2L573.8 446.2L574.4 446.1L568.5 449.2L567.9 449.4L567.3 449.5L566.7 449.5L566.1 449.5L565.5 449.5L564.9 449.4L564.3 449.2" fill="#0c0"/>
<path d="M573.9 446.1L574.6 446L575.3 445.7L576 445.4L570.1 448.2L569.4 448.8L568.7 449.1L568 449.4" fill="#0b0"/>
<path d="M575.5 445.6L576.5 445L570.7 447.7L569.6 448.6" fill="#090"/>
<path d="M569.6 445.6L570.2 445.7L570.7 445.9L571.2 446L571.8 446.1L572.3 446.1L572.8 446.2L573.4 446.2L573.9 446.1L574.4 446.1L575 445.9L575.5 445.6L576 445.4M569.6 445.6L564.2 448.9" class="m"/>
<path d="M576 445.4L576.6 444.9L577.2 444.3L577.8 443.5L578.3 442.3L578.9 440.9L579.5 439.2L580.1 437.3L580.6 435L581.2 432.6L581.8 430L582.4 427.5L582.9 424.6L576.9 423.8L576.4 427.1L575.8 430.2L575.2 432.7L574.7 435.3L574.1 437.8L573.6 440.1L573 442.1L572.4 443.9L571.9 445.4L571.3 446.6L570.7 447.6L570.2 448.2" fill="#940"/>
<path d="M576 445.4L576.6 445L577.1 444.4L577.6 443.7L578.2 442.6L578.7 441.4L579.2 439.9L579.8 438.3L580.3 436.4L580.8 434.2L581.4 431.9L581.9 429.5L582.4 427.2M576 445.4L570.6 448" class="m"/>
<path d="M582.4 427.2L583 424.2L583.6 420.8L584.2 417.4L584.8 414L585.4 410.4L586 407.3L586.6 405L587.3 403.7L587.9 402.9L588.5 403L582.5 406.9L581.9 406L581.2 405.7L580.6 406.4L580 407.6L579.4 409.8L578.8 412.7L578.2 416.4L577.6 419.8L577 423.3L576.5 426.7" fill="#090"/>
<path d="M588 402.8L589.1 403.7L583.1 408.3L582 406.1" fill="#0d0"/>
<path d="M588.6 403L589.7 404.8L583.8 411L582.6 407" fill="#0f0"/>
<path d="M582.4 427.2L583 424.5L583.5 421.4L584.1 418.3L584.6 415.2L585.1 411.9L585.7 408.7L586.3 406.3L586.8 404.5L587.4 403.5L588 402.8L588.6 403L589.2 403.8M582.4 427.2L576.9 426.7" class="m"/>
<path d="M589.2 403.8L590.3 407.1L584.4 414.3L583.2 408.5" fill="#e70"/>
<path d="M589.8 404.9L590.6 408.6L591.5 414L585.6 422.8L584.7 416.4L583.8 411.1" fill="#d60"/>
<path d="M591 410.4L591.7 415.2L592.4 420.7L593.2 425.9L593.9 429.1L588 432.7L587.3 432.5L586.6 429.4L585.8 424.2L585 418.6" fill="#c60"/>
<path d="M593.4 427L594.5 429.7L588.6 430.8L587.5 432.9" fill="#d60"/>
<path d="M593.9 429.2L595.1 428.4L589.2 427.2L588.1 432.7" fill="#f70"/>
<path d="M594.5 429.7L595.3 427.3L596.1 422.3L596.9 415.9L591 412.3L590.2 419.1L589.4 425.5L588.7 430.6" fill="#940"/>
<path d="M589.2 403.8L589.8 404.9L590.4 407.3L591 410.4L591.6 414.2L592.2 418.6L592.8 423L593.4 427L593.9 429.2L594.5 429.7L595.1 428.2L595.7 424.9L596.3 420.5M589.2 403.8L583.6 408" class="m"/>
<path d="M596.3 420.5L597.1 414.3L597.8 408.2L598.6 405.8L599.3 407.1L593.4 414.4L592.6 410.3L591.9 408.8L591.1 411L590.4 417.1" fill="#090"/>
<path d="M598.8 405.9L599.6 408.6L600.5 414.4L594.6 423.6L593.7 416.7L592.8 411.1" fill="#0f0"/>
<path d="M600 410.4L600.6 415.3L601.3 420.7L602 426.4L602.7 432.3L603.3 437.6L604 442L598.3 449.4L597.6 446L596.9 441.7L596.2 436.5L595.5 430.5L594.8 424.7L594.1 419.2" fill="#0e0"/>
<path d="M596.3 420.5L596.9 415.6L597.5 410.5L598.1 406.6L598.8 405.9L599.4 407.3L600 410.4L600.6 414.6L601.1 419.2L601.7 424.1L602.3 429.1L602.9 434.1L603.5 438.6M596.3 420.5L590.8 417.3" class="m"/>
<path d="M603.5 438.6L604.6 445L598.9 451.9L597.7 446.7" fill="#c60"/>
<path d="M604 442.2L604.8 446L605.6 449.1L606.3 451.8L600.7 457.5L599.9 455.4L599.1 452.7L598.3 449.6" fill="#d60"/>
<path d="M605.8 449.9L606.6 452.4L607.3 454.4L608.1 455.9L602.5 460.8L601.7 459.6L600.9 458.1L600.1 456.1" fill="#d70"/>
<path d="M607.6 454.8L608.4 456.4L609.3 457.6L603.7 462.3L602.8 461.2L601.9 460" fill="#e70"/>
<path d="M608.8 456.8L609.6 457.9L610.3 458.7L611.1 459.5L605.5 464L604.7 463.3L603.9 462.5L603.1 461.6" fill="#f70"/>
<path d="M603.5 438.6L604 442.2L604.6 445.2L605.2 447.7L605.8 449.9L606.4 451.9L607 453.5L607.6 454.8L608.2 455.9L608.8 456.8L609.4 457.6L610 458.3L610.6 459M603.5 438.6L598.1 446.2" class="m"/>
<path d="M610.6 459L611.3 459.6L612 460.2L612.7 460.8L613.4 461.3L614.1 461.8L614.8 462.2L609.2 466.5L608.5 466.1L607.8 465.7L607.1 465.2L606.4 464.7L605.7 464.1L604.9 463.5" fill="#0e0"/>
<path d="M614.2 461.9L614.9 462.3L615.7 462.7L616.4 463L617.1 463.4L617.8 463.8L618.5 464.1L613 468.4L612.3 468.1L611.5 467.7L610.8 467.4L610.1 467L609.4 466.6L608.6 466.2" fill="#0d0"/>
<path d="M610.6 459L611.2 459.5L611.8 460.1L612.4 460.6L613 461L613.6 461.5L614.2 461.9L614.8 462.2L615.5 462.6L616.1 462.9L616.7 463.2L617.3 463.5L617.9 463.8M610.6 459L605.4 463.2" class="m"/>
<path d="M617.9 463.8L618.6 464.1L619.3 464.4L620 464.7L620.6 465L621.3 465.3L622 465.5L622.7 465.8L623.4 466.1L624 466.3L624.7 466.6L625.4 466.9L626.1 467.1L620.6 471.5L619.9 471.2L619.2 471L618.5 470.7L617.9 470.4L617.2 470.1L616.5 469.9L615.8 469.6L615.1 469.3L614.4 469L613.7 468.7L613.1 468.4L612.4 468.1" fill="#f70"/>
<path d="M617.9 463.8L625.5 466.9M617.9 463.8L612.8 467.8" class="m"/>
<path d="M625.5 466.9L626.2 467.2L626.9 467.4L627.6 467.7L628.3 468L629 468.2L629.7 468.5L630.4 468.8L631.1 469L631.8 469.3L632.5 469.6L633.2 469.8L633.9 470.1L628.5 474.5L627.8 474.3L627.1 474L626.3 473.7L625.6 473.5L624.9 473.2L624.2 472.9L623.5 472.6L622.8 472.4L622.1 472.1L621.4 471.8L620.7 471.5L620 471.3" fill="#0d0"/>
<path d="M625.5 466.9L633.3 469.9M625.5 466.9L620.4 471" class="m"/>
<path d="M633.3 469.9L634 470.1L634.7 470.4L635.4 470.6L636.1 470.9L636.8 471.2L637.5 471.4L638.3 471.7L639 472L639.7 472.3L640.4 472.5L641.1 472.8L641.9 473.1L636.5 477.6L635.8 477.4L635.1 477.1L634.3 476.8L633.6 476.5L632.9 476.2L632.2 476L631.4 475.7L630.7 475.4L630 475.1L629.3 474.9L628.6 474.6L627.9 474.3" fill="#f70"/>
<path d="M633.3 469.9L641.2 472.8M633.3 469.9L628.3 474" class="m"/>
<path d="M641.2 472.8L641.9 473.1L642.6 473.3L643.3 473.6L643.9 473.8L644.6 474.1L645.3 474.4L646 474.6L646.6 474.9L647.3 475.1L648 475.4L648.7 475.6L649.4 475.9L644.1 480.6L643.4 480.3L642.7 480L642.1 479.8L641.4 479.5L640.7 479.2L640 479L639.3 478.7L638.6 478.4L637.9 478.2L637.3 477.9L636.6 477.7L635.9 477.4" fill="#0d0"/>
<path d="M641.2 472.8L649.4 475.9M641.2 472.8L636.3 477.1M649.4 475.9L644.5 480.2" class="m"/>
<path d="M551.7 444.6L552.2 444.8L552.8 445L553.3 445.2L553.9 445.4L554.5 445.6L555 445.8L555.6 446L556.1 446.2L556.7 446.4L557.2 446.6L557.8 446.8L558.4 447L552.3 450.7L551.7 450.5L551.1 450.3L550.6 450L550 449.8L549.4 449.6L548.9 449.4L548.3 449.2L547.8 449L547.2 448.8L546.7 448.6L546.1 448.3L545.6 448.1" fill="#f09"/>
<path d="M551.7 444.6L557.9 446.9M551.7 444.6L546 447.9" class="m"/>
<path d="M557.9 446.9L558.4 447.1L559 447.3L559.6 447.5L560.2 447.6L560.8 447.8L561.3 448L561.9 448.2L562.5 448.4L563.1 448.6L557 452.2L556.4 452L555.8 451.9L555.2 451.7L554.7 451.5L554.1 451.3L553.5 451.1L552.9 450.9L552.3 450.7L551.8 450.5" fill="#f00"/>
<path d="M562.6 448.4L563.3 448.6L564 448.8L564.7 449L558.6 452.6L557.9 452.4L557.2 452.3L556.5 452.1" fill="#e00"/>
<path d="M557.9 446.9L558.4 447L558.9 447.2L559.4 447.4L560 447.6L560.5 447.7L561 447.9L561.5 448.1L562.1 448.3L562.6 448.4L563.1 448.6L563.7 448.7L564.2 448.9M557.9 446.9L552.2 450.2" class="m"/>
<path d="M564.2 448.9L564.8 449L565.5 449.2L566.2 449.2L566.8 449.3L560.7 452.8L560.1 452.8L559.4 452.7L558.8 452.6L558.1 452.5" fill="#e0a"/>
<path d="M566.3 449.3L567.3 449.3L561.3 452.8L560.2 452.8" fill="#d0a"/>
<path d="M566.8 449.3L567.6 449.3L568.4 449.2L562.3 452.5L561.6 452.7L560.8 452.8" fill="#d0b"/>
<path d="M567.9 449.3L568.9 449L562.9 452.2L561.8 452.6" fill="#c0b"/>
<path d="M568.4 449.2L569.2 448.9L570 448.4L563.9 451.4L563.2 452L562.4 452.4" fill="#b0c"/>
<path d="M569.5 448.7L570.3 448.2L571.1 447.5L565 450L564.2 451.2L563.4 451.9" fill="#90d"/>
<path d="M564.2 448.9L564.7 449L565.2 449.1L565.8 449.2L566.3 449.3L566.8 449.3L567.4 449.3L567.9 449.3L568.4 449.2L569 449L569.5 448.7L570.1 448.4L570.6 448M564.2 448.9L558.5 452.2" class="m"/>
<path d="M570.6 448L571.2 447.4L571.7 446.5L572.3 445.2L572.9 443.8L573.4 442L574 440.1L574.6 437.8L575.1 435.3L575.7 432.6L576.3 430.2L576.8 427.2L577.4 423.8L571.2 423.4L570.6 426.8L570.1 430.2L569.5 433.3L569 435.8L568.4 438.4L567.9 441L567.3 443.3L566.7 445.3L566.2 447.1L565.6 448.6L565.1 449.9L564.5 450.8" fill="#900"/>
<path d="M570.6 448L571.1 447.4L571.6 446.6L572.2 445.5L572.7 444.2L573.2 442.7L573.7 441L574.3 439L574.8 436.8L575.3 434.3L575.8 432L576.4 429.6L576.9 426.7M570.6 448L565 450.6" class="m"/>
<path d="M576.9 426.7L577.5 423.3L578.1 419.8L578.6 416.3L579.2 412.6L579.8 409.6L580.5 407.4L581.1 406.2L581.7 405.5L582.4 405.8L576.2 409.8L575.5 408.8L574.9 408.5L574.2 409.2L573.6 410.4L573 412.6L572.4 415.5L571.8 419.3L571.3 422.8L570.7 426.3" fill="#90d"/>
<path d="M581.8 405.5L583 406.6L576.8 411.3L575.6 409" fill="#f0b"/>
<path d="M582.4 405.8L583.6 407.9L577.4 414.1L576.2 409.9" fill="#e0f"/>
<path d="M583 406.7L584.2 410.5L578.1 417.5L576.8 411.5" fill="#d0f"/>
<path d="M576.9 426.7L577.4 423.6L577.9 420.5L578.5 417.3L579 414L579.6 410.9L580.1 408.6L580.7 406.9L581.3 406L581.8 405.5L582.4 405.8L583 406.7L583.6 408M576.9 426.7L571.1 426.3" class="m"/>
<path d="M583.6 408L584.5 412.1L585.4 417.7L579.4 426.2L578.4 419.6L577.5 414.3" fill="#d00"/>
<path d="M584.9 413.9L585.6 418.9L586.4 424.6L587.1 429.7L587.9 432.5L581.8 435.8L581.1 435.9L580.3 432.9L579.6 427.6L578.8 421.9" fill="#c00"/>
<path d="M587.3 430.7L588.5 432.6L582.4 433.7L581.3 436.2" fill="#d00"/>
<path d="M587.9 432.6L589.1 430.9L583 430L581.9 435.8" fill="#c00"/>
<path d="M588.5 432.5L589.2 429.9L590 425L590.7 418.9L591.4 412.6L585.2 412.1L584.5 416.1L583.8 422.5L583.1 428.6L582.4 433.5" fill="#900"/>
<path d="M583.6 408L584.2 410.7L584.9 413.9L585.5 418L586.1 422.5L586.7 426.8L587.3 430.7L587.9 432.6L588.5 432.5L589.1 430.7L589.7 427L590.3 422.5L590.8 417.3M583.6 408L577.9 413.8" class="m"/>
<path d="M590.8 417.3L591.6 410.8L592.4 408.6L593.2 410.5L587.1 417.7L586.3 413.2L585.5 411.8L584.7 414.6" fill="#90d"/>
<path d="M592.6 408.8L593.8 413.9L587.8 422.3L586.5 414.3" fill="#d0f"/>
<path d="M593.3 410.6L593.9 414.6L594.6 419.6L595.3 425L596 430.6L596.7 436.3L597.3 441.4L598 445.6L598.7 448.9L592.8 455.5L592.1 452.8L591.4 449.4L590.7 445.3L590 440.1L589.3 434.3L588.6 428.6L587.9 423.1L587.2 418" fill="#c0f"/>
<path d="M590.8 417.3L591.4 412.2L592 409.1L592.6 408.8L593.3 410.6L593.9 414.1L594.5 418.5L595.1 423.2L595.7 428.2L596.3 433.4L596.9 438.3L597.5 442.6L598.1 446.2M590.8 417.3L585.1 414.7" class="m"/>
<path d="M598.1 446.2L598.8 449.5L599.5 452.2L600.2 454.7L600.9 456.7L601.6 458.3L602.3 459.6L596.4 464.5L595.7 463.5L595 462.2L594.3 460.5L593.6 458.5L592.9 456L592.2 453.3" fill="#d00"/>
<path d="M601.7 458.6L602.6 460L603.5 461.2L597.7 466L596.8 464.9L595.9 463.7" fill="#e00"/>
<path d="M602.9 460.5L603.7 461.5L604.4 462.3L605.2 463L605.9 463.7L600.1 468.3L599.4 467.7L598.6 467L597.9 466.2L597.1 465.3" fill="#f00"/>
<path d="M598.1 446.2L598.7 449.1L599.3 451.5L599.9 453.7L600.5 455.7L601.1 457.2L601.7 458.6L602.3 459.6L602.9 460.5L603.5 461.3L604.1 462L604.7 462.6L605.4 463.2M598.1 446.2L592.6 452.8" class="m"/>
<path d="M605.4 463.2L606.1 463.9L606.9 464.4L607.6 465L608.4 465.5L602.6 470L601.9 469.5L601.1 469L600.3 468.4L599.6 467.8" fill="#f0c"/>
<path d="M607.8 465.1L608.6 465.6L609.4 466.1L610.3 466.6L604.5 471L603.7 470.6L602.9 470.1L602 469.6" fill="#f0b"/>
<path d="M609.7 466.2L610.4 466.6L611.2 467L611.9 467.4L612.6 467.7L613.4 468.1L607.7 472.5L606.9 472.2L606.2 471.8L605.4 471.5L604.7 471.1L603.9 470.7" fill="#f0a"/>
<path d="M605.4 463.2L606 463.7L606.6 464.2L607.2 464.7L607.8 465.1L608.4 465.5L609.1 465.9L609.7 466.2L610.3 466.6L610.9 466.9L611.5 467.2L612.2 467.5L612.8 467.8M605.4 463.2L600 467.5" class="m"/>
<path d="M612.8 467.8L613.5 468.1L614.2 468.4L614.8 468.7L615.5 469L616.2 469.3L616.9 469.5L617.6 469.8L618.3 470.1L619 470.4L619.6 470.6L620.3 470.9L621 471.2L615.4 475.7L614.7 475.4L614 475.1L613.3 474.9L612.6 474.6L611.9 474.3L611.2 474L610.5 473.7L609.8 473.4L609.1 473.1L608.4 472.8L607.7 472.5L607.1 472.2" fill="#f00"/>
<path d="M612.8 467.8L620.4 471M612.8 467.8L607.5 471.9" class="m"/>
<path d="M620.4 471L621.1 471.2L621.8 471.5L622.5 471.8L623.2 472L623.9 472.3L624.6 472.6L625.3 472.9L626 473.1L626.7 473.4L627.5 473.7L628.2 473.9L628.9 474.2L623.3 478.8L622.6 478.6L621.8 478.3L621.1 478L620.4 477.7L619.7 477.4L619 477.1L618.3 476.9L617.6 476.6L616.9 476.3L616.2 476L615.5 475.7L614.8 475.5" fill="#f09"/>
<path d="M620.4 471L628.3 474M620.4 471L615.2 475.1" class="m"/>
<path d="M628.3 474L629 474.3L629.7 474.5L630.4 474.8L631.1 475.1L631.8 475.4L632.6 475.6L633.3 475.9L634 476.2L634.7 476.5L635.5 476.7L636.2 477L636.9 477.3L631.4 482L630.7 481.8L629.9 481.5L629.2 481.2L628.5 480.9L627.7 480.6L627 480.3L626.3 480L625.5 479.7L624.8 479.4L624.1 479.2L623.4 478.9L622.7 478.6" fill="#f00"/>
<path d="M628.3 474L636.3 477.1M628.3 474L623.1 478.3" class="m"/>
<path d="M636.3 477.1L637 477.3L637.6 477.6L638.3 477.8L639 478.1L639.7 478.4L640.4 478.6L641.1 478.9L641.8 479.2L642.4 479.4L643.1 479.7L643.8 480L644.5 480.2L639.1 485.1L638.4 484.8L637.7 484.5L637 484.2L636.3 484L635.6 483.7L634.9 483.4L634.2 483.1L633.5 482.9L632.8 482.6L632.1 482.3L631.5 482.1L630.8 481.8" fill="#f09"/>
<path d="M636.3 477.1L644.5 480.2M636.3 477.1L631.2 481.4M644.5 480.2L639.5 484.7" class="m"/>
<path d="M546 447.9L546.6 448.1L547.1 448.3L547.7 448.5L548.2 448.7L548.8 448.9L549.3 449.2L549.9 449.4L550.5 449.6L551 449.8L551.6 450L552.1 450.2L552.7 450.4L546.4 454.1L545.8 453.9L545.3 453.7L544.7 453.5L544.1 453.3L543.6 453.1L543 452.9L542.5 452.6L541.9 452.4L541.3 452.2L540.8 452L540.2 451.8L539.7 451.5" fill="#0d0"/>
<path d="M546 447.9L552.2 450.2M546 447.9L540.1 451.3" class="m"/>
<path d="M552.2 450.2L552.8 450.4L553.4 450.6L554 450.8L554.6 451L555.1 451.2L555.7 451.4L556.3 451.6L556.9 451.8L550.6 455.5L550 455.4L549.5 455.2L548.9 455L548.3 454.8L547.7 454.6L547.1 454.4L546.5 454.2L545.9 453.9" fill="#f70"/>
<path d="M556.4 451.6L557.1 451.8L557.7 452L558.4 452.2L559 452.3L552.8 456.1L552.1 455.9L551.5 455.8L550.8 455.6L550.1 455.4" fill="#e70"/>
<path d="M552.2 450.2L552.7 450.4L553.3 450.6L553.8 450.8L554.3 450.9L554.8 451.1L555.4 451.3L555.9 451.5L556.4 451.6L557 451.8L557.5 451.9L558 452.1L558.5 452.2M552.2 450.2L546.4 453.7" class="m"/>
<path d="M558.5 452.2L559.2 452.4L559.8 452.5L560.4 452.5L561 452.5L561.6 452.5L562.3 452.4L556 455.8L555.4 456.1L554.8 456.2L554.1 456.2L553.5 456.1L552.9 456.1L552.3 456" fill="#0c0"/>
<path d="M561.8 452.5L562.5 452.3L563.2 452.1L563.9 451.7L557.6 454.8L556.9 455.4L556.2 455.8L555.5 456" fill="#0b0"/>
<path d="M563.4 452L564.1 451.5L564.8 450.8L565.4 449.8L559.2 452.3L558.5 453.7L557.8 454.6L557.1 455.3" fill="#090"/>
<path d="M558.5 452.2L559.1 452.3L559.6 452.4L560.2 452.5L560.7 452.5L561.2 452.5L561.8 452.5L562.3 452.4L562.8 452.2L563.4 452L563.9 451.6L564.4 451.2L565 450.6M558.5 452.2L552.7 455.7" class="m"/>
<path d="M565 450.6L565.5 449.7L566.1 448.4L566.6 447L567.2 445.2L567.8 443.2L568.3 440.9L568.9 438.4L569.4 435.7L570 433.2L570.5 430.2L571.1 426.8L571.6 423.4L565.2 423.4L564.6 426.9L564.1 430.3L563.6 433.7L563 436.8L562.5 439.3L561.9 442L561.4 444.6L560.9 446.9L560.3 448.9L559.8 450.6L559.2 452.1L558.7 453.4" fill="#940"/>
<path d="M565 450.6L565.5 449.8L566 448.6L566.5 447.3L567 445.8L567.6 444L568.1 442L568.6 439.7L569.1 437.2L569.6 434.9L570.1 432.4L570.6 429.5L571.1 426.3M565 450.6L559.1 453.2" class="m"/>
<path d="M571.1 426.3L571.7 422.8L572.3 419.2L572.9 415.4L573.5 412.4L574.1 410.2L574.7 409L575.4 408.3L576 408.6L569.6 412.7L569 411.7L568.3 411.4L567.6 412.2L567 413.5L566.4 415.8L565.8 418.9L565.3 422.8L564.7 426.4" fill="#090"/>
<path d="M575.5 408.3L576.6 409.5L570.3 414.2L569.1 411.8" fill="#0e0"/>
<path d="M576.1 408.7L576.9 410L577.7 412.7L578.5 416.9L572.2 424.5L571.4 419.2L570.5 415.1L569.7 412.8" fill="#0f0"/>
<path d="M571.1 426.3L571.7 423.2L572.2 420L572.7 416.6L573.2 413.5L573.8 411.2L574.3 409.6L574.9 408.7L575.5 408.3L576.1 408.7L576.7 409.6L577.3 411.1L577.9 413.8M571.1 426.3L565.2 426.4" class="m"/>
<path d="M577.9 413.8L578.7 417.9L579.4 423L580.2 428.4L581 433.3L581.7 435.8L575.4 439.2L574.7 439.2L574 436.3L573.2 431.2L572.4 425.6L571.6 420.6" fill="#c60"/>
<path d="M581.1 434L582.3 435.7L576 437.2L574.9 439.5" fill="#d70"/>
<path d="M581.7 435.9L582.9 433.8L576.5 433.4L575.5 439.1" fill="#b60"/>
<path d="M582.3 435.6L583 432.9L583.7 428.1L584.3 422.2L585 416L585.7 412L579.3 415L578.6 415.5L577.9 420.1L577.3 426.5L576.7 432.3L576 437" fill="#940"/>
<path d="M577.9 413.8L578.6 417.2L579.2 421.3L579.8 425.9L580.5 430.3L581.1 434L581.7 435.9L582.3 435.6L582.9 433.6L583.5 429.8L584 425.1L584.6 419.8L585.1 414.7M577.9 413.8L572.1 420.1" class="m"/>
<path d="M585.1 414.7L586.3 411.7L580 417L578.8 415.1" fill="#090"/>
<path d="M585.7 411.9L586.9 413.6L580.6 420.7L579.4 415.1" fill="#0c0"/>
<path d="M586.3 411.8L587.6 417.2L581.3 425.2L580 417.2" fill="#0f0"/>
<path d="M587 413.8L587.7 417.9L588.4 423L589.1 428.5L589.8 434.2L590.5 440L591.2 445.1L591.9 449.3L592.6 452.6L586.5 459.1L585.8 456.2L585.1 452.8L584.4 448.5L583.6 443.3L582.9 437.4L582.2 431.6L581.4 426.1L580.7 420.9" fill="#0e0"/>
<path d="M592 449.9L593.2 455.1L587.1 461.3L585.9 456.7" fill="#0f0"/>
<path d="M585.1 414.7L585.7 411.9L586.3 411.8L587 413.8L587.6 417.4L588.2 422L588.9 426.8L589.5 431.8L590.1 437.1L590.8 442L591.4 446.3L592 449.9L592.6 452.8M585.1 414.7L579.2 414.9" class="m"/>
<path d="M592.6 452.8L593.5 456.3L594.4 459.3L588.4 464.9L587.5 462.4L586.5 459.2" fill="#d60"/>
<path d="M593.9 457.4L594.7 460.1L595.6 462.2L589.6 467.3L588.7 465.7L587.8 463.4" fill="#d70"/>
<path d="M595.1 460.9L595.9 462.6L596.7 463.9L597.5 464.9L591.5 469.8L590.6 468.8L589.8 467.7L589 466.3" fill="#e70"/>
<path d="M596.9 464.2L597.6 465.1L598.4 465.9L599.1 466.7L599.8 467.3L600.6 467.9L594.6 472.6L593.8 472L593.1 471.4L592.4 470.7L591.6 469.9L590.9 469.1" fill="#f70"/>
<path d="M592.6 452.8L593.2 455.2L593.9 457.4L594.5 459.4L595.1 460.9L595.7 462.3L596.3 463.3L596.9 464.2L597.5 465L598.1 465.7L598.7 466.3L599.4 466.9L600 467.5M592.6 452.8L587 458.8" class="m"/>
<path d="M600 467.5L600.7 468.1L601.5 468.6L602.3 469.2L603 469.6L597.1 474.2L596.3 473.8L595.5 473.3L594.8 472.7L594 472.1" fill="#0e0"/>
<path d="M602.5 469.3L603.2 469.7L603.9 470.1L604.6 470.5L605.3 470.9L606 471.2L606.7 471.5L607.4 471.9L608.1 472.2L602.2 476.7L601.4 476.4L600.7 476.1L600 475.8L599.3 475.4L598.6 475.1L597.9 474.7L597.2 474.3L596.5 473.9" fill="#0d0"/>
<path d="M600 467.5L600.6 468L601.2 468.4L601.8 468.9L602.5 469.3L603.1 469.7L603.7 470L604.3 470.4L605 470.7L605.6 471L606.2 471.3L606.9 471.6L607.5 471.9M600 467.5L594.4 471.8" class="m"/>
<path d="M607.5 471.9L608.2 472.2L608.9 472.5L609.5 472.8L610.2 473.1L610.9 473.4L611.6 473.7L612.3 474L613 474.2L613.7 474.5L614.4 474.8L615.1 475.1L615.8 475.4L609.9 480L609.2 479.7L608.5 479.4L607.8 479.2L607.1 478.9L606.4 478.6L605.7 478.3L605 478L604.3 477.7L603.6 477.4L602.9 477.1L602.2 476.8L601.6 476.5" fill="#f70"/>
<path d="M607.5 471.9L615.2 475.1M607.5 471.9L602 476.1" class="m"/>
<path d="M615.2 475.1L615.9 475.4L616.6 475.7L617.3 476L618 476.2L618.7 476.5L619.4 476.8L620.1 477.1L620.8 477.4L621.5 477.6L622.3 477.9L623 478.2L623.7 478.5L617.9 483.3L617.2 483L616.5 482.7L615.7 482.4L615 482.1L614.3 481.8L613.6 481.5L612.9 481.2L612.2 480.9L611.4 480.6L610.7 480.4L610 480.1L609.3 479.8" fill="#0d0"/>
<path d="M615.2 475.1L623.1 478.3M615.2 475.1L609.7 479.4" class="m"/>
<path d="M623.1 478.3L623.8 478.5L624.5 478.8L625.2 479.1L626 479.4L626.7 479.7L627.4 480L628.1 480.2L628.9 480.5L629.6 480.8L630.3 481.1L631.1 481.4L631.8 481.7L626.1 486.6L625.4 486.3L624.6 486L623.9 485.7L623.1 485.4L622.4 485.1L621.7 484.8L620.9 484.5L620.2 484.2L619.5 483.9L618.7 483.6L618 483.3L617.3 483" fill="#f70"/>
<path d="M623.1 478.3L631.2 481.4M623.1 478.3L617.7 482.7" class="m"/>
<path d="M631.2 481.4L631.9 481.7L632.5 482L633.2 482.3L633.9 482.5L634.6 482.8L635.3 483.1L636 483.3L636.7 483.6L637.4 483.9L638.1 484.2L638.8 484.4L639.5 484.7L633.9 489.7L633.1 489.5L632.4 489.2L631.7 488.9L631 488.6L630.3 488.3L629.6 488L628.9 487.7L628.2 487.5L627.5 487.2L626.8 486.9L626.2 486.6L625.5 486.3" fill="#0d0"/>
<path d="M631.2 481.4L639.5 484.7M631.2 481.4L625.9 486M639.5 484.7L634.3 489.4" class="m"/>
<path d="M540.1 451.3L540.7 451.5L541.3 451.7L541.8 451.9L542.4 452.1L542.9 452.4L543.5 452.6L544 452.8L544.6 453L545.2 453.2L545.7 453.4L546.3 453.6L546.9 453.8L540.4 457.7L539.8 457.5L539.2 457.3L538.7 457.1L538.1 456.8L537.5 456.6L537 456.4L536.4 456.2L535.9 456L535.3 455.7L534.7 455.5L534.2 455.3L533.6 455" fill="#f0a"/>
<path d="M540.1 451.3L546.4 453.7M540.1 451.3L534.1 454.8" class="m"/>
<path d="M546.4 453.7L547 453.9L547.6 454.1L548.2 454.3L548.8 454.5L549.4 454.7L550 454.9L550.6 455.1L544.1 459L543.5 458.8L542.9 458.6L542.3 458.4L541.7 458.2L541.1 458L540.5 457.7L539.9 457.5" fill="#f00"/>
<path d="M550.1 454.9L550.7 455.1L551.3 455.3L552 455.5L552.6 455.7L553.2 455.8L546.8 459.6L546.1 459.5L545.5 459.4L544.9 459.2L544.2 459L543.6 458.8" fill="#e00"/>
<path d="M546.4 453.7L546.9 453.9L547.4 454L548 454.2L548.5 454.4L549 454.6L549.5 454.8L550.1 454.9L550.6 455.1L551.1 455.3L551.7 455.4L552.2 455.6L552.7 455.7M546.4 453.7L540.4 457.2" class="m"/>
<path d="M552.7 455.7L553.5 455.8L554.3 455.9L547.8 459.7L547.1 459.6L546.3 459.5" fill="#e0a"/>
<path d="M553.8 455.9L554.5 455.9L555.2 455.9L555.9 455.8L549.5 459.4L548.8 459.6L548.1 459.7L547.3 459.7" fill="#d0b"/>
<path d="M555.4 455.9L556.5 455.6L550 459.2L549 459.6" fill="#c0b"/>
<path d="M556 455.8L556.7 455.5L557.5 455L551 458.4L550.3 459L549.5 459.4" fill="#b0c"/>
<path d="M557 455.3L557.7 454.9L558.3 454.3L559 453.5L559.6 452.1L553.1 454.7L552.5 456.3L551.8 457.5L551.2 458.3L550.6 458.8" fill="#90d"/>
<path d="M552.7 455.7L553.3 455.8L553.8 455.9L554.3 455.9L554.9 455.9L555.4 455.9L556 455.8L556.5 455.6L557 455.3L557.6 455L558.1 454.6L558.6 454L559.1 453.2M552.7 455.7L546.7 459.2" class="m"/>
<path d="M559.1 453.2L559.7 451.9L560.2 450.5L560.8 448.7L561.3 446.8L561.9 444.5L562.4 441.9L563 439.2L563.5 436.7L564 433.7L564.6 430.3L565.1 426.8L565.7 423.3L559 423.7L558.4 427.3L557.9 430.9L557.4 434.4L556.9 437.8L556.4 440.7L555.8 443.3L555.3 446L554.8 448.5L554.3 450.8L553.7 452.8L553.2 454.5L552.6 455.9" fill="#900"/>
<path d="M559.1 453.2L559.7 452L560.2 450.7L560.7 449.1L561.2 447.4L561.7 445.3L562.2 443.1L562.7 440.6L563.2 438.2L563.7 435.7L564.2 432.8L564.7 429.6L565.2 426.4M559.1 453.2L553.1 455.7" class="m"/>
<path d="M565.2 426.4L565.8 422.7L566.3 418.8L566.9 415.6L567.5 413.2L568.2 411.9L568.8 411.2L569.5 411.5L562.9 415.6L562.2 414.6L561.5 414.5L560.9 415.4L560.2 416.9L559.6 419.5L559.1 423L558.5 426.9" fill="#90d"/>
<path d="M568.9 411.2L570.1 412.4L563.5 416.9L562.3 414.8" fill="#f0b"/>
<path d="M569.5 411.6L570.7 413.8L564.2 419.5L562.9 415.7" fill="#e0f"/>
<path d="M570.1 412.5L571.1 415.1L572 419.8L565.5 427L564.5 421.2L563.5 417" fill="#d0f"/>
<path d="M571.4 416.7L572.7 424L566.2 431.6L564.9 423.1" fill="#c0f"/>
<path d="M565.2 426.4L565.7 423.1L566.2 419.7L566.7 416.6L567.2 414.2L567.8 412.6L568.4 411.6L568.9 411.2L569.5 411.6L570.1 412.5L570.8 413.9L571.4 416.7L572.1 420.1M565.2 426.4L559 426.8" class="m"/>
<path d="M572.1 420.1L572.9 425.3L573.7 431L574.5 436.3L575.3 439.1L568.8 442.8L568.1 442.2L567.3 438.6L566.4 433L565.6 427.3" fill="#c00"/>
<path d="M574.7 437.2L575.9 439L569.4 441.2L568.3 442.7" fill="#d00"/>
<path d="M575.3 439.1L576.5 437.2L569.9 437.5L568.9 442.8" fill="#c00"/>
<path d="M575.9 438.9L576.6 436.4L577.2 431.8L577.8 426.1L578.5 419.9L579.1 415.3L579.8 414.7L573.3 419.7L572.5 417.9L571.8 419.2L571.2 424.7L570.6 431L570 436.6L569.4 441" fill="#900"/>
<path d="M572.1 420.1L572.7 424.2L573.4 428.9L574.1 433.4L574.7 437.2L575.3 439.1L575.9 438.9L576.5 437L577 433.2L577.6 428.5L578.1 423.2L578.7 418L579.2 414.9M572.1 420.1L566 426.7" class="m"/>
<path d="M579.2 414.9L580.4 416.6L573.9 423.2L572.7 418" fill="#c0b"/>
<path d="M579.8 414.8L581.1 420.1L574.6 427.7L573.3 419.8" fill="#d0f"/>
<path d="M580.5 416.7L581.2 420.9L582 426L582.7 431.6L583.4 437.4L584.2 443.3L584.9 448.5L585.6 452.7L586.3 456.1L580 462.4L579.3 459.5L578.6 455.9L577.8 451.4L577.1 446L576.3 439.9L575.5 434.1L574.7 428.5L574 423.4" fill="#c0f"/>
<path d="M585.7 453.3L586.6 457.5L587.6 460.9L581.3 466.8L580.4 463.7L579.4 460" fill="#d0f"/>
<path d="M579.2 414.9L579.8 414.8L580.5 416.7L581.1 420.4L581.8 424.9L582.5 429.8L583.1 434.9L583.8 440.2L584.4 445.3L585.1 449.7L585.7 453.3L586.4 456.3L587 458.8M579.2 414.9L573.1 417.7" class="m"/>
<path d="M587 458.8L587.8 461.7L588.6 464L589.4 465.9L583.2 471.1L582.4 469.5L581.5 467.5L580.7 464.9" fill="#d00"/>
<path d="M588.8 464.6L589.7 466.3L590.5 467.6L591.3 468.7L585.1 473.6L584.2 472.6L583.4 471.5L582.6 470" fill="#e00"/>
<path d="M590.7 467.9L591.4 468.9L592.1 469.7L592.9 470.4L593.6 471.1L594.3 471.7L595 472.2L588.8 477L588.1 476.5L587.4 475.9L586.6 475.2L585.9 474.5L585.2 473.8L584.5 472.9" fill="#f00"/>
<path d="M587 458.8L587.6 461L588.2 463L588.8 464.6L589.5 466L590.1 467L590.7 467.9L591.3 468.7L591.9 469.5L592.6 470.1L593.2 470.7L593.8 471.3L594.4 471.8M587 458.8L581.2 464.5" class="m"/>
<path d="M594.4 471.8L595.6 472.7L589.4 477.4L588.2 476.6" fill="#f0c"/>
<path d="M595.1 472.3L595.8 472.8L596.6 473.3L597.4 473.8L598.1 474.2L592 478.9L591.2 478.5L590.4 478L589.6 477.6L588.9 477" fill="#f0b"/>
<path d="M597.6 473.9L598.3 474.3L599 474.7L599.7 475.1L600.4 475.4L601.1 475.7L601.9 476.1L602.6 476.4L596.5 481.1L595.7 480.8L595 480.5L594.3 480.1L593.6 479.8L592.8 479.4L592.1 479L591.4 478.6" fill="#f0a"/>
<path d="M594.4 471.8L595.1 472.3L595.7 472.7L596.3 473.2L596.9 473.5L597.6 473.9L598.2 474.3L598.8 474.6L599.4 474.9L600.1 475.2L600.7 475.6L601.4 475.8L602 476.1M594.4 471.8L588.7 476.2" class="m"/>
<path d="M602 476.1L602.7 476.4L603.4 476.8L604.1 477.1L604.8 477.4L605.5 477.6L606.1 477.9L606.8 478.2L607.5 478.5L608.2 478.8L609 479.1L609.7 479.4L610.4 479.7L604.3 484.5L603.6 484.2L602.9 483.9L602.2 483.6L601.5 483.3L600.8 483L600 482.7L599.3 482.4L598.6 482.1L597.9 481.8L597.2 481.5L596.6 481.2L595.9 480.9" fill="#f00"/>
<path d="M602 476.1L609.7 479.4M602 476.1L596.3 480.5" class="m"/>
<path d="M609.7 479.4L610.5 479.7L611.2 480L611.9 480.3L612.6 480.6L613.3 480.9L614 481.2L614.7 481.5L615.4 481.8L616.2 482L616.9 482.3L617.6 482.6L618.3 482.9L612.3 487.9L611.6 487.6L610.9 487.3L610.2 487L609.4 486.7L608.7 486.4L608 486.1L607.3 485.8L606.5 485.5L605.8 485.2L605.1 484.9L604.4 484.6L603.7 484.2" fill="#f09"/>
<path d="M609.7 479.4L617.7 482.7M609.7 479.4L604.1 483.9" class="m"/>
<path d="M617.7 482.7L618.4 483L619.2 483.3L619.9 483.6L620.6 483.8L621.4 484.1L622.1 484.4L622.8 484.7L623.6 485L624.3 485.3L625 485.6L625.8 485.9L626.5 486.2L620.6 491.3L619.9 491L619.1 490.7L618.4 490.4L617.6 490.1L616.9 489.8L616.1 489.4L615.4 489.1L614.7 488.8L613.9 488.5L613.2 488.2L612.4 487.9L611.7 487.6" fill="#f00"/>
<path d="M617.7 482.7L625.9 486M617.7 482.7L612.2 487.2" class="m"/>
<path d="M625.9 486L626.6 486.3L627.3 486.5L628 486.8L628.7 487.1L629.3 487.4L630 487.7L630.7 487.9L631.4 488.2L632.2 488.5L632.9 488.8L633.6 489.1L634.3 489.4L628.4 494.6L627.7 494.3L627 494L626.3 493.7L625.6 493.4L624.9 493.1L624.2 492.8L623.5 492.5L622.8 492.2L622.1 491.9L621.4 491.6L620.7 491.3L620 491" fill="#f09"/>
<path d="M625.9 486L634.3 489.4M625.9 486L620.4 490.7M634.3 489.4L628.9 494.2" class="m"/>
<path d="M534.1 454.8L534.7 455L535.2 455.2L535.8 455.5L536.3 455.7L536.9 455.9L537.5 456.1L538 456.3L538.6 456.6L539.2 456.8L539.7 457L540.3 457.2L540.9 457.4L534.2 461.4L533.6 461.2L533 461L532.5 460.7L531.9 460.5L531.3 460.3L530.8 460.1L530.2 459.8L529.6 459.6L529.1 459.4L528.5 459.1L527.9 458.9L527.4 458.7" fill="#0d0"/>
<path d="M534.1 454.8L540.4 457.2M534.1 454.8L527.9 458.4" class="m"/>
<path d="M540.4 457.2L541 457.5L541.6 457.7L542.2 457.9L542.8 458.1L543.4 458.3L544 458.5L544.6 458.7L537.9 462.7L537.3 462.5L536.7 462.3L536.1 462.1L535.5 461.9L534.9 461.7L534.3 461.4L533.7 461.2" fill="#f70"/>
<path d="M544.1 458.5L544.7 458.7L545.3 458.9L546 459.1L546.6 459.2L547.3 459.3L540.6 463.3L539.9 463.2L539.3 463.1L538.7 462.9L538 462.7L537.4 462.5" fill="#e70"/>
<path d="M540.4 457.2L540.9 457.4L541.4 457.6L541.9 457.8L542.5 458L543 458.2L543.5 458.4L544.1 458.5L544.6 458.7L545.1 458.9L545.7 459L546.2 459.1L546.7 459.2M540.4 457.2L534.2 460.9" class="m"/>
<path d="M546.7 459.2L547.4 459.3L548.1 459.4L548.7 459.4L549.4 459.3L542.7 463.1L542.1 463.3L541.4 463.3L540.7 463.3L540.1 463.2" fill="#0c0"/>
<path d="M548.9 459.4L549.6 459.2L550.3 459L551 458.6L544.3 462.2L543.6 462.7L542.9 463L542.2 463.2" fill="#0b0"/>
<path d="M550.5 458.9L551.1 458.5L551.8 458L552.4 457.2L553 456L553.6 454.5L546.9 457.3L546.3 459L545.7 460.4L545.1 461.4L544.4 462.1L543.8 462.6" fill="#090"/>
<path d="M546.7 459.2L547.3 459.3L547.8 459.4L548.4 459.4L548.9 459.4L549.4 459.3L550 459.1L550.5 458.9L551 458.6L551.6 458.2L552.1 457.6L552.6 456.8L553.1 455.7M546.7 459.2L540.6 462.9" class="m"/>
<path d="M553.1 455.7L553.7 454.3L554.2 452.6L554.7 450.7L555.3 448.4L555.8 445.9L556.3 443.2L556.8 440.6L557.4 437.7L557.9 434.3L558.4 430.8L558.9 427.3L559.5 423.6L552.5 424.5L552 428.3L551.5 431.9L551 435.5L550.5 439L550 442.4L549.5 445.1L549 447.7L548.5 450.5L548 452.9L547.5 455.1L546.9 457L546.4 458.6" fill="#940"/>
<path d="M553.1 455.7L553.6 454.4L554.1 452.9L554.6 451.1L555.1 449.1L555.6 446.8L556.1 444.4L556.6 441.9L557.1 439.5L557.6 436.6L558 433.3L558.5 430.1L559 426.8M553.1 455.7L546.9 458.4" class="m"/>
<path d="M559 426.8L559.6 422.9L560.1 419.3L560.8 416.7L561.4 415.2L562.1 414.3L562.7 414.4L555.9 418.5L555.2 417.6L554.5 417.9L553.8 419L553.2 420.9L552.6 423.8L552.1 427.8" fill="#090"/>
<path d="M562.2 414.2L563.4 415.3L556.5 419.6L555.3 417.7" fill="#0d0"/>
<path d="M562.8 414.5L563.5 415.6L564.3 417.7L565.1 421.5L566 426.5L559.3 433.5L558.4 428L557.5 423.5L556.7 420.1L555.9 418.5" fill="#0f0"/>
<path d="M565.3 422.6L566.7 431L560 438.4L558.6 429.3" fill="#0e0"/>
<path d="M559 426.8L559.5 423.4L560 420.1L560.5 417.6L561 415.8L561.6 414.8L562.2 414.2L562.8 414.5L563.4 415.4L564 416.7L564.7 419.3L565.3 422.6L566 426.7M559 426.8L552.6 427.7" class="m"/>
<path d="M566 426.7L567 432.9L567.9 438.7L568.7 442.2L562 446.6L561.2 445L560.3 440L559.3 433.9" fill="#c60"/>
<path d="M568.1 440.1L569.3 442.6L562.6 445.5L561.4 445.8" fill="#d60"/>
<path d="M568.7 442.4L569.9 441.1L563.1 442.2L562.1 446.6" fill="#f70"/>
<path d="M569.3 442.6L570 440.5L570.6 436.1L571.2 430.6L571.7 424.4L572.3 419L573 417.6L573.7 419.2L567 425.3L566.2 422L565.5 421.3L564.9 424.1L564.3 430.1L563.8 436.2L563.2 441.5L562.6 445.4" fill="#940"/>
<path d="M566 426.7L566.7 431.4L567.4 436L568.1 440.1L568.7 442.4L569.3 442.6L569.9 440.9L570.4 437.2L571 432.6L571.5 427.3L572 422L572.5 418.3L573.1 417.7M566 426.7L559.8 433.3" class="m"/>
<path d="M573.1 417.7L574.4 422.7L567.7 429.7L566.3 422.4" fill="#0f0"/>
<path d="M573.8 419.4L574.5 423.4L575.3 428.6L576.1 434.1L576.8 439.9L577.6 446L578.4 451.4L579.1 455.8L579.8 459.4L573.3 465.6L572.6 462.5L571.8 458.6L571 453.8L570.2 448L569.4 441.9L568.6 436L567.8 430.5L567 425.6" fill="#0e0"/>
<path d="M579.2 456.4L580.1 460.4L580.9 463.6L581.8 466.4L575.3 472.1L574.4 469.6L573.6 466.6L572.7 463" fill="#0f0"/>
<path d="M573.1 417.7L573.8 419.4L574.5 422.9L575.1 427.4L575.8 432.3L576.5 437.5L577.2 442.8L577.9 448.1L578.6 452.7L579.2 456.4L579.9 459.5L580.5 462.1L581.2 464.5M573.1 417.7L566.8 422" class="m"/>
<path d="M581.2 464.5L582 467.1L582.8 469.1L583.6 470.7L577.2 475.8L576.3 474.5L575.5 472.7L574.7 470.4" fill="#d70"/>
<path d="M583.1 469.6L584 471.2L584.9 472.5L578.4 477.5L577.5 476.3L576.6 474.9" fill="#e70"/>
<path d="M584.3 471.7L585 472.7L585.7 473.5L586.4 474.2L587.1 474.9L587.8 475.5L588.6 476.1L589.3 476.7L582.9 481.5L582.1 481L581.4 480.4L580.7 479.8L580 479.2L579.3 478.5L578.6 477.7L577.8 476.8" fill="#f70"/>
<path d="M581.2 464.5L581.8 466.5L582.4 468.2L583.1 469.6L583.7 470.8L584.3 471.7L584.9 472.6L585.6 473.3L586.2 474L586.8 474.6L587.4 475.2L588.1 475.7L588.7 476.2M581.2 464.5L575.1 470" class="m"/>
<path d="M588.7 476.2L589.6 476.9L590.5 477.5L584.1 482.3L583.2 481.8L582.3 481.1" fill="#0e0"/>
<path d="M589.9 477.1L590.6 477.6L591.3 478L592 478.4L592.7 478.7L593.4 479.1L594.1 479.5L594.8 479.8L595.5 480.1L596.2 480.5L596.9 480.8L590.6 485.7L589.9 485.3L589.2 485L588.4 484.7L587.7 484.3L587 484L586.3 483.6L585.6 483.2L584.9 482.8L584.2 482.4L583.5 482" fill="#0d0"/>
<path d="M588.7 476.2L589.3 476.7L589.9 477.1L590.6 477.5L591.2 477.9L591.8 478.3L592.5 478.6L593.1 479L593.7 479.3L594.4 479.6L595 479.9L595.7 480.2L596.3 480.5M588.7 476.2L582.7 480.7" class="m"/>
<path d="M596.3 480.5L597 480.8L597.7 481.1L598.4 481.4L599.1 481.7L599.8 482.1L600.5 482.4L601.2 482.7L601.9 483L602.6 483.3L603.3 483.6L604 483.9L604.7 484.2L598.5 489.2L597.8 488.8L597 488.5L596.3 488.2L595.6 487.9L594.9 487.6L594.2 487.3L593.5 487L592.8 486.7L592.1 486.3L591.4 486L590.7 485.7L590 485.4" fill="#f70"/>
<path d="M596.3 480.5L604.1 483.9M596.3 480.5L590.4 485" class="m"/>
<path d="M604.1 483.9L604.8 484.2L605.6 484.5L606.3 484.8L607 485.1L607.7 485.4L608.4 485.7L609.2 486L609.9 486.3L610.6 486.6L611.3 486.9L612.1 487.2L612.8 487.5L606.6 492.6L605.8 492.3L605.1 492L604.4 491.7L603.6 491.4L602.9 491.1L602.2 490.7L601.5 490.4L600.7 490.1L600 489.8L599.3 489.5L598.6 489.2L597.8 488.9" fill="#0d0"/>
<path d="M604.1 483.9L612.2 487.2M604.1 483.9L598.3 488.5" class="m"/>
<path d="M612.2 487.2L612.9 487.5L613.6 487.9L614.4 488.2L615.1 488.5L615.8 488.8L616.6 489.1L617.3 489.4L618.1 489.7L618.8 490L619.5 490.3L620.3 490.6L621 490.9L614.9 496.2L614.2 495.9L613.4 495.6L612.7 495.2L611.9 494.9L611.1 494.6L610.4 494.3L609.7 493.9L608.9 493.6L608.2 493.3L607.4 493L606.7 492.7L605.9 492.4" fill="#f70"/>
<path d="M612.2 487.2L620.4 490.7M612.2 487.2L606.4 492" class="m"/>
<path d="M620.4 490.7L621.1 491L621.8 491.3L622.5 491.5L623.2 491.8L623.9 492.1L624.6 492.4L625.3 492.7L626 493L626.7 493.3L627.4 493.6L628.2 493.9L628.9 494.2L622.8 499.6L622.1 499.3L621.4 499L620.7 498.7L619.9 498.4L619.2 498L618.5 497.7L617.8 497.4L617.1 497.1L616.4 496.8L615.7 496.5L615 496.2L614.3 495.9" fill="#0d0"/>
<path d="M620.4 490.7L628.9 494.2M620.4 490.7L614.7 495.5M628.9 494.2L623.3 499.2" class="m"/>
<path d="M527.9 458.4L528.4 458.6L529 458.9L529.6 459.1L530.1 459.3L530.7 459.5L531.2 459.8L531.8 460L532.4 460.2L532.9 460.5L533.5 460.7L534.1 460.9L534.7 461.1L527.7 465.2L527.2 465L526.6 464.8L526 464.5L525.5 464.3L524.9 464.1L524.3 463.8L523.8 463.6L523.2 463.4L522.6 463.1L522.1 462.9L521.5 462.7L520.9 462.4" fill="#f0a"/>
<path d="M527.9 458.4L534.2 460.9M527.9 458.4L521.4 462.1" class="m"/>
<path d="M534.2 460.9L534.8 461.1L535.4 461.4L536 461.6L536.6 461.8L537.2 462L537.8 462.2L530.9 466.4L530.3 466.2L529.7 465.9L529.1 465.7L528.5 465.5L527.9 465.3L527.2 465" fill="#f00"/>
<path d="M537.3 462.1L538 462.3L538.6 462.5L539.2 462.6L539.8 462.8L540.4 462.9L541.1 463L534.2 467.1L533.6 467L532.9 466.9L532.3 466.8L531.7 466.6L531.1 466.4L530.4 466.2" fill="#e00"/>
<path d="M534.2 460.9L534.7 461.1L535.2 461.3L535.7 461.5L536.3 461.7L536.8 461.9L537.3 462.1L537.9 462.2L538.4 462.4L539 462.6L539.5 462.7L540 462.8L540.6 462.9M534.2 460.9L527.8 464.7" class="m"/>
<path d="M540.6 462.9L541.6 463L534.7 467.1L533.7 467" fill="#d0a"/>
<path d="M541.1 463L541.9 463L542.7 463L535.8 467L535 467.1L534.2 467.1" fill="#d0b"/>
<path d="M542.2 463L543 462.9L543.7 462.6L536.8 466.5L536.1 466.9L535.3 467.1" fill="#c0b"/>
<path d="M543.2 462.8L544 462.5L544.8 462L537.9 465.8L537.1 466.4L536.3 466.8" fill="#b0c"/>
<path d="M544.3 462.3L544.9 461.9L545.6 461.2L546.2 460.2L546.8 458.8L547.4 457.1L540.4 460L539.8 462L539.2 463.5L538.6 464.8L538 465.6L537.4 466.2" fill="#90d"/>
<path d="M540.6 462.9L541.1 463L541.6 463L542.2 463L542.7 463L543.2 462.8L543.8 462.6L544.3 462.3L544.8 461.9L545.4 461.4L545.9 460.7L546.4 459.7L546.9 458.4M540.6 462.9L534.2 466.7" class="m"/>
<path d="M546.9 458.4L547.4 456.8L548 454.9L548.5 452.8L549 450.3L549.5 447.6L550 444.9L550.5 442.2L551 438.9L551.5 435.4L552 431.8L552.5 428.2L553 424.4L545.9 426.2L545.4 429.6L544.9 433.4L544.4 437.1L543.9 440.6L543.5 444.2L543 447.3L542.5 449.9L542 452.7L541.5 455.3L541 457.7L540.5 459.8L539.9 461.6" fill="#900"/>
<path d="M546.9 458.4L547.4 457L547.9 455.2L548.4 453.3L548.8 451L549.3 448.6L549.8 446L550.3 443.7L550.7 440.9L551.2 437.7L551.7 434.4L552.1 431.1L552.6 427.7M546.9 458.4L540.5 461.3" class="m"/>
<path d="M552.6 427.7L553.2 423.6L553.8 420.6L554.4 418.7L555.1 417.6L555.8 417.4L548.7 421.4L547.9 420.9L547.3 421.6L546.6 423L546 425.5L545.4 429.1" fill="#90d"/>
<path d="M555.2 417.4L556.4 418.1L549.3 422.4L548.1 420.9" fill="#d0a"/>
<path d="M555.8 417.5L557 419.3L549.9 424L548.7 421.4" fill="#f0e"/>
<path d="M556.4 418.2L557.7 421.4L550.6 427L549.3 422.5" fill="#e0f"/>
<path d="M557.1 419.4L558 423L559.1 428.5L552.1 435L551 428.8L550 424.2" fill="#d0f"/>
<path d="M558.4 424.8L559.4 430.9L560.5 437.9L553.6 444.6L552.5 437.6L551.4 430.9" fill="#c0f"/>
<path d="M552.6 427.7L553.1 424.2L553.6 421.5L554.1 419.4L554.6 418.2L555.2 417.4L555.8 417.5L556.4 418.2L557.1 419.4L557.7 421.6L558.4 424.8L559.1 428.8L559.8 433.3M552.6 427.7L546 429" class="m"/>
<path d="M559.8 433.3L560.9 440.3L561.9 445.3L555 450.3L554 446.9L552.9 440.3" fill="#c00"/>
<path d="M561.3 442.6L562.5 446.4L555.6 449.8L554.4 448.6" fill="#d00"/>
<path d="M561.9 445.4L563.1 445.3L556.1 447.5L555 450.3" fill="#e00"/>
<path d="M562.6 446.3L563.2 444.9L563.8 440.9L564.3 435.5L564.9 429.3L565.4 423.4L566.1 421L566.8 421.9L559.8 427.3L559 424.8L558.3 425.3L557.8 429.8L557.2 436L556.7 441.9L556.2 446.8L555.6 449.8" fill="#900"/>
<path d="M566.2 420.9L567.5 424.9L560.5 431.2L559.2 425.1" fill="#e00"/>
<path d="M559.8 433.3L560.6 438.2L561.3 442.6L561.9 445.4L562.6 446.3L563.1 445.2L563.6 441.9L564.1 437.5L564.6 432.4L565.1 426.8L565.6 422.2L566.2 420.9L566.8 422M559.8 433.3L553.4 439.8" class="m"/>
<path d="M566.8 422L568.2 429.2L561.3 436L559.8 427.5" fill="#d0f"/>
<path d="M567.5 425.1L568.3 430L569.1 435.5L569.9 441.4L570.7 447.5L571.5 453.2L572.3 458.1L573.1 462L573.8 465.2L567.1 471.1L566.3 468.2L565.5 464.7L564.7 460.3L563.9 455L563.1 448.8L562.2 442.7L561.4 436.9L560.6 431.5" fill="#c0f"/>
<path d="M573.2 462.6L574 466.1L574.9 469.2L575.7 471.7L569 477.2L568.2 474.9L567.3 472L566.4 468.7" fill="#d0f"/>
<path d="M566.8 422L567.5 425.1L568.2 429.5L569 434.3L569.7 439.5L570.4 444.9L571.1 450.3L571.8 455.2L572.5 459.2L573.2 462.6L573.8 465.3L574.5 467.8L575.1 470M566.8 422L560.4 427.1" class="m"/>
<path d="M575.1 470L576.1 472.5L577 474.5L570.3 479.7L569.4 478L568.4 475.6" fill="#d00"/>
<path d="M576.4 473.3L577.4 475L578.3 476.4L571.6 481.5L570.7 480.2L569.7 478.7" fill="#e00"/>
<path d="M577.7 475.5L578.4 476.5L579.1 477.4L579.8 478.2L580.5 478.9L581.2 479.5L581.9 480.1L582.6 480.6L583.3 481.2L576.7 486.2L576 485.7L575.3 485.1L574.6 484.5L573.9 483.9L573.1 483.2L572.4 482.5L571.7 481.6L571 480.7" fill="#f00"/>
<path d="M575.1 470L575.8 471.8L576.4 473.3L577.1 474.5L577.7 475.5L578.3 476.4L579 477.2L579.6 477.9L580.2 478.6L580.8 479.2L581.5 479.7L582.1 480.2L582.7 480.7M575.1 470L568.9 475.2" class="m"/>
<path d="M582.7 480.7L583.5 481.3L584.3 481.8L585.1 482.3L585.9 482.7L579.3 487.7L578.5 487.3L577.7 486.8L576.9 486.3L576.1 485.7" fill="#f0b"/>
<path d="M585.3 482.4L586 482.8L586.7 483.2L587.4 483.6L588.1 483.9L588.9 484.3L589.6 484.6L590.3 485L591 485.3L584.5 490.4L583.7 490L583 489.7L582.3 489.3L581.6 488.9L580.8 488.6L580.1 488.2L579.4 487.8L578.7 487.4" fill="#f0a"/>
<path d="M582.7 480.7L583.4 481.2L584 481.6L584.7 482L585.3 482.4L585.9 482.8L586.6 483.1L587.2 483.5L587.8 483.8L588.5 484.1L589.1 484.4L589.8 484.7L590.4 485M582.7 480.7L576.6 485.4" class="m"/>
<path d="M590.4 485L591.1 485.3L591.8 485.7L592.5 486L593.2 486.3L593.9 486.6L594.7 486.9L595.4 487.2L596.1 487.5L596.8 487.9L597.5 488.2L598.2 488.5L598.9 488.8L592.4 494L591.7 493.6L591 493.3L590.3 493L589.5 492.7L588.8 492.3L588.1 492L587.4 491.7L586.7 491.4L586 491.1L585.3 490.7L584.6 490.4L583.9 490.1" fill="#f00"/>
<path d="M590.4 485L598.3 488.5M590.4 485L584.3 489.7" class="m"/>
<path d="M598.3 488.5L599 488.8L599.7 489.1L600.5 489.4L601.2 489.8L601.9 490.1L602.6 490.4L603.4 490.7L604.1 491L604.8 491.3L605.6 491.6L606.3 491.9L607 492.3L600.6 497.6L599.9 497.2L599.1 496.9L598.4 496.6L597.6 496.3L596.9 495.9L596.2 495.6L595.4 495.3L594.7 495L594 494.6L593.2 494.3L592.5 494L591.8 493.7" fill="#f09"/>
<path d="M598.3 488.5L606.4 492M598.3 488.5L592.3 493.3" class="m"/>
<path d="M606.4 492L607.1 492.3L607.9 492.6L608.6 492.9L609.4 493.2L610.1 493.6L610.9 493.9L611.6 494.2L612.4 494.5L613.1 494.8L613.9 495.2L614.6 495.5L615.4 495.8L609 501.3L608.3 500.9L607.5 500.6L606.7 500.3L606 499.9L605.2 499.6L604.5 499.3L603.7 498.9L602.9 498.6L602.2 498.3L601.5 497.9L600.7 497.6L600 497.3" fill="#f00"/>
<path d="M606.4 492L614.7 495.5M606.4 492L600.4 496.9" class="m"/>
<path d="M614.7 495.5L615.4 495.8L616.1 496.1L616.8 496.4L617.5 496.7L618.2 497L619 497.4L619.7 497.7L620.4 498L621.1 498.3L621.8 498.6L622.5 498.9L623.3 499.2L617 504.8L616.3 504.5L615.5 504.1L614.8 503.8L614.1 503.5L613.4 503.2L612.6 502.9L611.9 502.6L611.2 502.2L610.5 501.9L609.8 501.6L609.1 501.3L608.4 501" fill="#f09"/>
<path d="M614.7 495.5L623.3 499.2M614.7 495.5L608.8 500.6M623.3 499.2L617.4 504.4" class="m"/>
<path d="M521.4 462.1L522 462.4L522.6 462.6L523.1 462.8L523.7 463.1L524.3 463.3L524.8 463.5L525.4 463.8L526 464L526.5 464.2L527.1 464.5L527.7 464.7L528.2 464.9L521.6 468.8L521.1 468.6L520.5 468.4L519.9 468.2L519.3 467.9L518.8 467.7L518.2 467.4L517.6 467.2L517.1 467L516.5 466.7L515.9 466.5L515.4 466.2L514.8 466" fill="#0d0"/>
<path d="M521.4 462.1L527.8 464.7M521.4 462.1L514.8 466M514.8 466L521.1 468.6" class="m"/>
<path d="M527.8 464.7L528.4 465L529 465.2L529.6 465.4L530.3 465.7L530.9 465.9L524.3 469.8L523.7 469.6L523 469.4L522.4 469.1L521.8 468.9L521.1 468.6" fill="#f70"/>
<path d="M530.4 465.7L531 465.9L531.7 466.1L532.3 466.3L532.9 466.5L533.5 466.6L534.1 466.7L527.5 470.7L526.9 470.6L526.3 470.4L525.7 470.3L525.1 470.1L524.4 469.9L523.8 469.7" fill="#e70"/>
<path d="M533.6 466.6L534.7 466.8L528.1 470.7L527 470.6" fill="#d60"/>
<path d="M527.8 464.7L528.3 464.9L528.8 465.1L529.3 465.3L529.9 465.5L530.4 465.7L531 465.9L531.5 466.1L532 466.2L532.6 466.4L533.1 466.5L533.6 466.6L534.2 466.7M527.8 464.7L521.1 468.6M521.1 468.6L521.7 468.9L522.2 469.1L522.7 469.3L523.3 469.5L523.8 469.7L524.3 469.9L524.9 470L525.4 470.2L526 470.4L526.5 470.5L527 470.6L527.6 470.7" class="m"/>
<path d="M534.2 466.7L534.9 466.8L535.6 466.8L536.3 466.7L529.7 470.5L529 470.7L528.3 470.7L527.6 470.7" fill="#0c0"/>
<path d="M535.8 466.8L536.5 466.6L537.2 466.3L537.9 465.9L531.3 469.7L530.6 470.1L529.9 470.5L529.2 470.7" fill="#0b0"/>
<path d="M537.4 466.2L538 465.8L538.6 465.3L539.2 464.5L539.8 463.2L540.3 461.7L540.9 459.8L534.2 462.9L533.7 464.9L533.1 466.5L532.6 467.9L532 468.9L531.4 469.6L530.8 470" fill="#090"/>
<path d="M534.2 466.7L534.7 466.8L535.3 466.8L535.8 466.8L536.3 466.7L536.9 466.5L537.4 466.2L537.9 465.9L538.4 465.4L539 464.8L539.5 463.9L540 462.7L540.5 461.3M534.2 466.7L527.6 470.7M527.6 470.7L528.1 470.7L528.7 470.7L529.2 470.7L529.7 470.5L530.2 470.3L530.8 470L531.3 469.6L531.8 469.1L532.3 468.4L532.8 467.3L533.3 466L533.8 464.5" class="m"/>
<path d="M540.5 461.3L541 459.6L541.5 457.5L542 455.1L542.5 452.5L543 449.7L543.5 447.1L544 444L544.5 440.5L544.9 436.9L545.4 433.3L545.9 429.5L546.4 426L539.5 428.3L539 431.4L538.6 435.3L538.1 439L537.6 442.6L537.2 446.2L536.7 449.6L536.2 452.4L535.8 455.1L535.3 457.9L534.8 460.4L534.3 462.6L533.8 464.5" fill="#940"/>
<path d="M540.5 461.3L540.9 459.7L541.4 457.8L541.9 455.7L542.3 453.3L542.8 450.7L543.3 448.3L543.7 445.7L544.2 442.6L544.6 439.2L545.1 435.9L545.5 432.6L546 429M540.5 461.3L533.8 464.5M533.8 464.5L534.3 462.7L534.7 460.7L535.2 458.4L535.6 455.9L536.1 453.3L536.5 450.9L537 448L537.4 444.7L537.8 441.4L538.2 438L538.7 434.5L539.1 430.9" class="m"/>
<path d="M546 429L546.5 425.4L547.1 422.8L547.8 421.4L548.5 420.6L549.2 421.1L542.4 424.9L541.6 424.1L540.9 424.4L540.3 425.5L539.7 427.7L539.1 430.9" fill="#090"/>
<path d="M548.6 420.6L549.8 422.1L543 426.1L541.8 424.2" fill="#0e0"/>
<path d="M549.2 421.1L550.1 422.5L550.9 425.6L551.9 430.2L545.2 435.8L544.2 430.6L543.3 426.8L542.4 425" fill="#0f0"/>
<path d="M551.2 426.8L552.2 431.8L553.1 437.9L554.1 444.1L547.5 450L546.5 443.9L545.5 437.5L544.5 431.9" fill="#0e0"/>
<path d="M546 429L546.4 425.8L546.9 423.5L547.5 421.9L548 421L548.6 420.6L549.2 421.1L549.9 422.2L550.5 423.8L551.2 426.8L551.9 430.5L552.7 434.9L553.4 439.8M546 429L539.1 430.9M539.1 430.9L539.6 428.2L540.1 426.1L540.6 424.9L541.2 424.1L541.8 424.2L542.4 425L543 426.2L543.7 428.6L544.5 431.9L545.2 436.1L546 440.8L546.8 445.7" class="m"/>
<path d="M553.4 439.8L554.5 446.5L555.5 449.9L548.8 454L547.9 451.9L546.8 445.7" fill="#c60"/>
<path d="M554.9 448.2L556.1 449.6L549.4 452.8L548.3 453.1" fill="#d70"/>
<path d="M555.5 450L556.2 449.3L556.8 446.2L557.3 441.2L557.8 435.2L558.3 429L558.9 424.8L559.6 424.7L552.9 429L552.1 427.9L551.5 430.2L551 436.2L550.5 442.6L550 448.1L549.5 452.4L548.9 453.9" fill="#940"/>
<path d="M559 424.6L560.3 426.9L553.6 432.1L552.3 427.8" fill="#f70"/>
<path d="M559.7 424.8L561 430.7L554.4 436.6L552.9 429.1" fill="#d60"/>
<path d="M553.4 439.8L554.2 444.4L554.9 448.2L555.5 450L556.1 449.5L556.6 447.2L557.1 443.1L557.6 438.2L558 432.6L558.5 427.2L559 424.6L559.7 424.8L560.4 427.1M553.4 439.8L546.8 445.7M546.8 445.7L547.6 450.3L548.3 453.1L548.9 453.9L549.4 452.7L549.9 449.2L550.4 444.7L550.8 439.4L551.2 433.7L551.7 429L552.3 427.8L552.9 429.1L553.6 432.4" class="m"/>
<path d="M560.4 427.1L561.2 431.6L562 437L562.8 442.8L563.7 448.9L564.5 455L565.3 460.4L566.1 464.7L566.9 468.1L560.4 473.6L559.6 470.4L558.8 466.4L558 461.4L557.1 455.5L556.3 449.2L555.4 443.1L554.5 437.5L553.6 432.4" fill="#0e0"/>
<path d="M566.2 465.3L567.1 468.9L567.9 472L568.7 474.7L569.5 476.8L563.1 481.8L562.3 479.9L561.5 477.4L560.6 474.4L559.8 470.9" fill="#0f0"/>
<path d="M560.4 427.1L561.1 431L561.8 435.8L562.6 441L563.3 446.3L564.1 451.9L564.8 457.1L565.5 461.6L566.2 465.3L566.9 468.3L567.6 470.9L568.3 473.2L568.9 475.2M560.4 427.1L553.6 432.4M553.6 432.4L554.4 436.9L555.2 441.9L556 447.3L556.8 452.8L557.5 458.4L558.3 463.4L559 467.5L559.8 470.9L560.5 473.8L561.1 476.3L561.8 478.5L562.5 480.4" class="m"/>
<path d="M568.9 475.2L570.2 478.2L563.8 483.1L562.5 480.4" fill="#d70"/>
<path d="M569.6 476.9L570.4 478.6L571.3 480L572.1 481.1L565.7 485.9L564.8 484.8L564 483.5L563.1 481.9" fill="#e70"/>
<path d="M571.5 480.3L572.2 481.2L572.9 482.1L573.6 482.8L574.3 483.5L575.1 484.2L575.8 484.7L576.5 485.3L577.2 485.8L570.8 490.6L570.1 490.1L569.4 489.5L568.7 488.9L568 488.3L567.2 487.6L566.5 486.9L565.8 486.1L565.1 485.2" fill="#f70"/>
<path d="M568.9 475.2L569.6 476.9L570.2 478.3L570.9 479.4L571.5 480.3L572.1 481.2L572.8 481.9L573.4 482.6L574 483.3L574.7 483.8L575.3 484.4L576 484.9L576.6 485.4M568.9 475.2L562.5 480.4M562.5 480.4L563.1 481.9L563.8 483.2L564.4 484.3L565.1 485.2L565.7 486L566.4 486.7L567 487.4L567.7 488L568.3 488.6L568.9 489.1L569.6 489.7L570.2 490.1" class="m"/>
<path d="M576.6 485.4L577.8 486.2L571.5 491L570.2 490.1" fill="#0e0"/>
<path d="M577.2 485.8L577.9 486.3L578.6 486.7L579.3 487.1L580 487.5L580.7 487.9L581.4 488.3L582.1 488.6L582.8 489L583.5 489.3L584.2 489.6L585 490L578.6 494.8L577.9 494.5L577.2 494.1L576.5 493.8L575.8 493.4L575.1 493.1L574.4 492.7L573.7 492.3L573 491.9L572.3 491.5L571.6 491L570.9 490.6" fill="#0d0"/>
<path d="M576.6 485.4L577.2 485.8L577.9 486.2L578.5 486.6L579.2 487L579.8 487.4L580.4 487.7L581.1 488.1L581.7 488.4L582.4 488.7L583 489.1L583.7 489.4L584.3 489.7M576.6 485.4L570.2 490.1M570.2 490.1L570.9 490.6L571.5 491L572.2 491.4L572.8 491.8L573.5 492.2L574.1 492.5L574.8 492.9L575.4 493.2L576.1 493.6L576.7 493.9L577.4 494.2L578 494.5" class="m"/>
<path d="M584.3 489.7L585 490L585.8 490.4L586.5 490.7L587.2 491L587.9 491.3L588.6 491.7L589.3 492L590 492.3L590.7 492.6L591.5 492.9L592.2 493.3L592.9 493.6L586.7 498.5L585.9 498.2L585.2 497.9L584.5 497.5L583.8 497.2L583 496.9L582.3 496.6L581.6 496.2L580.9 495.9L580.2 495.5L579.5 495.2L578.7 494.9L578 494.5" fill="#f70"/>
<path d="M584.3 489.7L592.3 493.3M584.3 489.7L578 494.5M578 494.5L586 498.3" class="m"/>
<path d="M592.3 493.3L593 493.6L593.7 493.9L594.5 494.3L595.2 494.6L595.9 494.9L596.6 495.2L597.4 495.5L598.1 495.9L598.9 496.2L599.6 496.5L600.3 496.9L601.1 497.2L594.9 502.3L594.2 501.9L593.4 501.6L592.7 501.3L591.9 500.9L591.2 500.6L590.4 500.3L589.7 499.9L589 499.6L588.2 499.3L587.5 498.9L586.8 498.6L586 498.3" fill="#0d0"/>
<path d="M592.3 493.3L600.4 496.9M592.3 493.3L586 498.3M586 498.3L594.2 502" class="m"/>
<path d="M600.4 496.9L601.2 497.2L601.9 497.5L602.7 497.9L603.4 498.2L604.2 498.5L604.9 498.9L605.7 499.2L606.4 499.5L607.2 499.9L608 500.2L608.7 500.5L609.5 500.9L603.4 506.1L602.6 505.8L601.8 505.4L601.1 505.1L600.3 504.7L599.5 504.4L598.8 504L598 503.7L597.3 503.4L596.5 503L595.8 502.7L595 502.3L594.2 502" fill="#f70"/>
<path d="M600.4 496.9L608.8 500.6M600.4 496.9L594.2 502M594.2 502L602.7 505.8" class="m"/>
<path d="M608.8 500.6L609.5 500.9L610.2 501.2L611 501.5L611.7 501.8L612.4 502.2L613.1 502.5L613.8 502.8L614.5 503.1L615.3 503.4L616 503.7L616.7 504.1L617.4 504.4L611.4 509.8L610.7 509.4L609.9 509.1L609.2 508.8L608.5 508.4L607.7 508.1L607 507.8L606.3 507.5L605.6 507.1L604.9 506.8L604.1 506.5L603.4 506.1L602.7 505.8" fill="#0d0"/>
<path d="M608.8 500.6L617.4 504.4M608.8 500.6L602.7 505.8M602.7 505.8L611.4 509.8M617.4 504.4L611.4 509.8" class="m"/>
<path d="M507.8 413L613 450.4M613 450.4L682 401.4M613 450.4L612.1 513.6M511.4 467.3L612.1 513.6M612.1 513.6L678.6 453.4" stroke="#8a8a8a" stroke-width="0.8" fill="none"/>
<text x="596.4" y="372.4" text-anchor="middle" class="l3" transform="scale(0.98 1)">0.0</text>
<text x="580.5" y="380.5" text-anchor="middle" class="l3" transform="scale(0.98 1)">0.5</text>
<text x="561.3" y="377.4" text-anchor="middle" class="l3" transform="scale(0.98 1)">t</text>
<text x="562.7" y="388.2" text-anchor="middle" class="l3" transform="scale(0.98 1)">1.0</text>
<text x="542.6" y="396.6" text-anchor="middle" class="l3" transform="scale(0.98 1)">1.5</text>
<text x="519.8" y="406.4" text-anchor="middle" class="l3" transform="scale(0.98 1)">2.0</text>
<text x="511.5" y="427.3" text-anchor="middle" class="l3" transform="scale(0.98 1)">3.0</text>
<text x="512.4" y="446.1" text-anchor="middle" class="l3" transform="scale(0.98 1)">2.8</text>
<text x="513.9" y="464.9" text-anchor="middle" class="l3" transform="scale(0.98 1)">2.6</text>
<text x="471.8" y="450.5" class="l3" textLength="30" lengthAdjust="spacingAndGlyphs"><tspan style="font-family:'Liberation Serif',serif;font-style:italic;font-size:9.5px">w</tspan><tspan font-size="5.8" dy="1.6">22</tspan><tspan dy="-1.6" font-size="7.6" font-weight="normal" fill="#666" stroke="none">(</tspan><tspan font-size="8.2">x,t</tspan><tspan font-size="7.6" font-weight="normal" fill="#666" stroke="none">)</tspan></text>
<text x="525.6" y="481.0" text-anchor="middle" class="l3" transform="scale(0.98 1)">10</text>
<text x="546.2" y="491.2" text-anchor="middle" class="l3" transform="scale(0.98 1)">5</text>
<text x="568.5" y="501.6" text-anchor="middle" class="l3" transform="scale(0.98 1)">0</text>
<text x="568.2" y="511.8" text-anchor="middle" class="l3" transform="scale(0.98 1)">x</text>
<text x="594.8" y="513.2" text-anchor="middle" class="l3" transform="scale(0.98 1)">- 5</text>
<text x="622.6" y="526.1" text-anchor="middle" class="l3" transform="scale(0.98 1)">- 10</text>
<text x="119.5" y="555" text-anchor="middle" class="cap">(a)</text>
<text x="358" y="555" text-anchor="middle" class="cap">(b)</text>
<text x="566" y="555" text-anchor="middle" class="cap">(c)</text>
</svg></body></html>
